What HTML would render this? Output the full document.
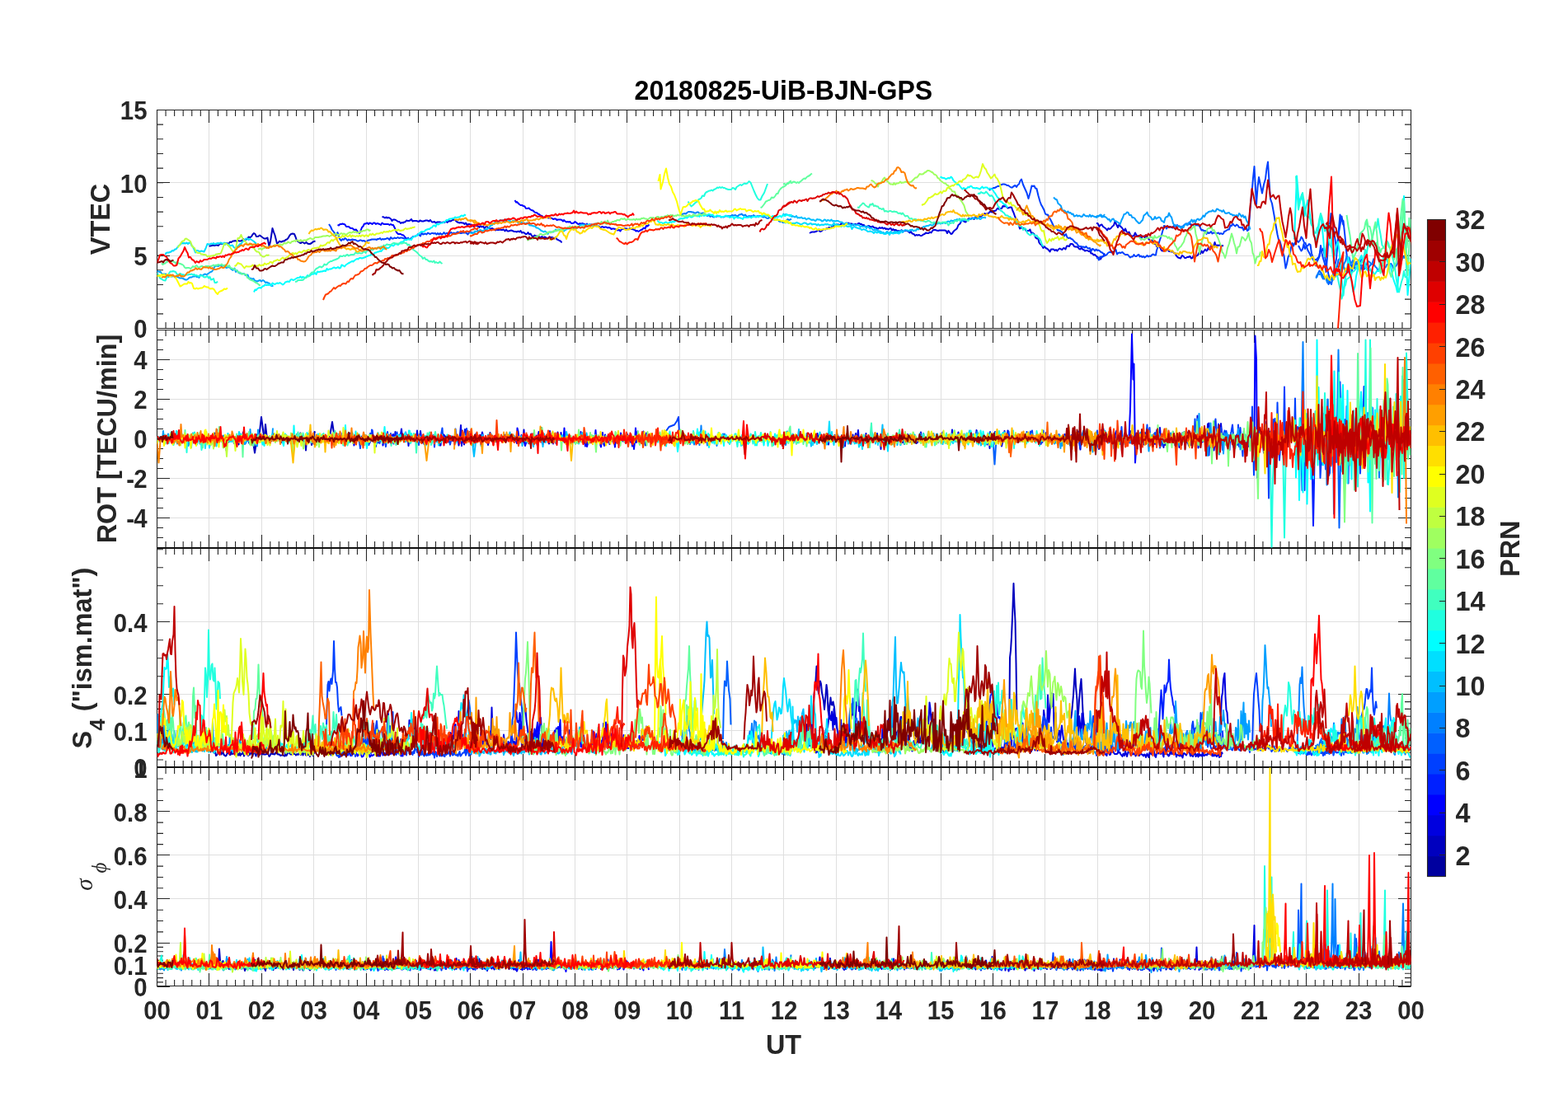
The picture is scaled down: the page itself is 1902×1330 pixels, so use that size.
<!DOCTYPE html><html><head><meta charset="utf-8"><title>20180825-UiB-BJN-GPS</title><style>html,body{margin:0;padding:0;background:#fff;overflow:hidden}svg{display:block}</style></head><body><svg width="1902" height="1330" viewBox="0 0 1902 1330"><path d="M253.5 133.5V398.5M317.5 133.5V398.5M380.5 133.5V398.5M444.5 133.5V398.5M507.5 133.5V398.5M570.5 133.5V398.5M634.5 133.5V398.5M697.5 133.5V398.5M760.5 133.5V398.5M824.5 133.5V398.5M887.5 133.5V398.5M950.5 133.5V398.5M1014.5 133.5V398.5M1077.5 133.5V398.5M1141.5 133.5V398.5M1204.5 133.5V398.5M1267.5 133.5V398.5M1331.5 133.5V398.5M1394.5 133.5V398.5M1458.5 133.5V398.5M1521.5 133.5V398.5M1584.5 133.5V398.5M1648.5 133.5V398.5M190.5 310.5H1711.5M190.5 221.5H1711.5M253.5 400.5V664.5M317.5 400.5V664.5M380.5 400.5V664.5M444.5 400.5V664.5M507.5 400.5V664.5M570.5 400.5V664.5M634.5 400.5V664.5M697.5 400.5V664.5M760.5 400.5V664.5M824.5 400.5V664.5M887.5 400.5V664.5M950.5 400.5V664.5M1014.5 400.5V664.5M1077.5 400.5V664.5M1141.5 400.5V664.5M1204.5 400.5V664.5M1267.5 400.5V664.5M1331.5 400.5V664.5M1394.5 400.5V664.5M1458.5 400.5V664.5M1521.5 400.5V664.5M1584.5 400.5V664.5M1648.5 400.5V664.5M190.5 628.5H1711.5M190.5 580.5H1711.5M190.5 532.5H1711.5M190.5 484.5H1711.5M190.5 436.5H1711.5M253.5 665.5V930.5M317.5 665.5V930.5M380.5 665.5V930.5M444.5 665.5V930.5M507.5 665.5V930.5M570.5 665.5V930.5M634.5 665.5V930.5M697.5 665.5V930.5M760.5 665.5V930.5M824.5 665.5V930.5M887.5 665.5V930.5M950.5 665.5V930.5M1014.5 665.5V930.5M1077.5 665.5V930.5M1141.5 665.5V930.5M1204.5 665.5V930.5M1267.5 665.5V930.5M1331.5 665.5V930.5M1394.5 665.5V930.5M1458.5 665.5V930.5M1521.5 665.5V930.5M1584.5 665.5V930.5M1648.5 665.5V930.5M190.5 886.5H1711.5M190.5 842.5H1711.5M190.5 754.5H1711.5M253.5 931.5V1196.5M317.5 931.5V1196.5M380.5 931.5V1196.5M444.5 931.5V1196.5M507.5 931.5V1196.5M570.5 931.5V1196.5M634.5 931.5V1196.5M697.5 931.5V1196.5M760.5 931.5V1196.5M824.5 931.5V1196.5M887.5 931.5V1196.5M950.5 931.5V1196.5M1014.5 931.5V1196.5M1077.5 931.5V1196.5M1141.5 931.5V1196.5M1204.5 931.5V1196.5M1267.5 931.5V1196.5M1331.5 931.5V1196.5M1394.5 931.5V1196.5M1458.5 931.5V1196.5M1521.5 931.5V1196.5M1584.5 931.5V1196.5M1648.5 931.5V1196.5M190.5 1170.5H1711.5M190.5 1144.5H1711.5M190.5 1090.5H1711.5M190.5 1037.5H1711.5M190.5 984.5H1711.5" stroke="#dfdfdf" stroke-width="1" fill="none"/><path d="M190.5 133.5H1711.5V398.5H190.5ZM190.5 398.5v-15.5M190.5 133.5v15.5M253.5 398.5v-15.5M253.5 133.5v15.5M317.5 398.5v-15.5M317.5 133.5v15.5M380.5 398.5v-15.5M380.5 133.5v15.5M444.5 398.5v-15.5M444.5 133.5v15.5M507.5 398.5v-15.5M507.5 133.5v15.5M570.5 398.5v-15.5M570.5 133.5v15.5M634.5 398.5v-15.5M634.5 133.5v15.5M697.5 398.5v-15.5M697.5 133.5v15.5M760.5 398.5v-15.5M760.5 133.5v15.5M824.5 398.5v-15.5M824.5 133.5v15.5M887.5 398.5v-15.5M887.5 133.5v15.5M950.5 398.5v-15.5M950.5 133.5v15.5M1014.5 398.5v-15.5M1014.5 133.5v15.5M1077.5 398.5v-15.5M1077.5 133.5v15.5M1141.5 398.5v-15.5M1141.5 133.5v15.5M1204.5 398.5v-15.5M1204.5 133.5v15.5M1267.5 398.5v-15.5M1267.5 133.5v15.5M1331.5 398.5v-15.5M1331.5 133.5v15.5M1394.5 398.5v-15.5M1394.5 133.5v15.5M1458.5 398.5v-15.5M1458.5 133.5v15.5M1521.5 398.5v-15.5M1521.5 133.5v15.5M1584.5 398.5v-15.5M1584.5 133.5v15.5M1648.5 398.5v-15.5M1648.5 133.5v15.5M1711.5 398.5v-15.5M1711.5 133.5v15.5M190.5 398.5h15.5M1711.5 398.5h-15.5M190.5 310.5h15.5M1711.5 310.5h-15.5M190.5 221.5h15.5M1711.5 221.5h-15.5M190.5 133.5h15.5M1711.5 133.5h-15.5M190.5 400.5H1711.5V664.5H190.5ZM190.5 664.5v-15.5M190.5 400.5v15.5M253.5 664.5v-15.5M253.5 400.5v15.5M317.5 664.5v-15.5M317.5 400.5v15.5M380.5 664.5v-15.5M380.5 400.5v15.5M444.5 664.5v-15.5M444.5 400.5v15.5M507.5 664.5v-15.5M507.5 400.5v15.5M570.5 664.5v-15.5M570.5 400.5v15.5M634.5 664.5v-15.5M634.5 400.5v15.5M697.5 664.5v-15.5M697.5 400.5v15.5M760.5 664.5v-15.5M760.5 400.5v15.5M824.5 664.5v-15.5M824.5 400.5v15.5M887.5 664.5v-15.5M887.5 400.5v15.5M950.5 664.5v-15.5M950.5 400.5v15.5M1014.5 664.5v-15.5M1014.5 400.5v15.5M1077.5 664.5v-15.5M1077.5 400.5v15.5M1141.5 664.5v-15.5M1141.5 400.5v15.5M1204.5 664.5v-15.5M1204.5 400.5v15.5M1267.5 664.5v-15.5M1267.5 400.5v15.5M1331.5 664.5v-15.5M1331.5 400.5v15.5M1394.5 664.5v-15.5M1394.5 400.5v15.5M1458.5 664.5v-15.5M1458.5 400.5v15.5M1521.5 664.5v-15.5M1521.5 400.5v15.5M1584.5 664.5v-15.5M1584.5 400.5v15.5M1648.5 664.5v-15.5M1648.5 400.5v15.5M1711.5 664.5v-15.5M1711.5 400.5v15.5M190.5 628.5h15.5M1711.5 628.5h-15.5M190.5 580.5h15.5M1711.5 580.5h-15.5M190.5 532.5h15.5M1711.5 532.5h-15.5M190.5 484.5h15.5M1711.5 484.5h-15.5M190.5 436.5h15.5M1711.5 436.5h-15.5M190.5 665.5H1711.5V930.5H190.5ZM190.5 930.5v-15.5M190.5 665.5v15.5M253.5 930.5v-15.5M253.5 665.5v15.5M317.5 930.5v-15.5M317.5 665.5v15.5M380.5 930.5v-15.5M380.5 665.5v15.5M444.5 930.5v-15.5M444.5 665.5v15.5M507.5 930.5v-15.5M507.5 665.5v15.5M570.5 930.5v-15.5M570.5 665.5v15.5M634.5 930.5v-15.5M634.5 665.5v15.5M697.5 930.5v-15.5M697.5 665.5v15.5M760.5 930.5v-15.5M760.5 665.5v15.5M824.5 930.5v-15.5M824.5 665.5v15.5M887.5 930.5v-15.5M887.5 665.5v15.5M950.5 930.5v-15.5M950.5 665.5v15.5M1014.5 930.5v-15.5M1014.5 665.5v15.5M1077.5 930.5v-15.5M1077.5 665.5v15.5M1141.5 930.5v-15.5M1141.5 665.5v15.5M1204.5 930.5v-15.5M1204.5 665.5v15.5M1267.5 930.5v-15.5M1267.5 665.5v15.5M1331.5 930.5v-15.5M1331.5 665.5v15.5M1394.5 930.5v-15.5M1394.5 665.5v15.5M1458.5 930.5v-15.5M1458.5 665.5v15.5M1521.5 930.5v-15.5M1521.5 665.5v15.5M1584.5 930.5v-15.5M1584.5 665.5v15.5M1648.5 930.5v-15.5M1648.5 665.5v15.5M1711.5 930.5v-15.5M1711.5 665.5v15.5M190.5 930.5h15.5M1711.5 930.5h-15.5M190.5 886.5h15.5M1711.5 886.5h-15.5M190.5 842.5h15.5M1711.5 842.5h-15.5M190.5 754.5h15.5M1711.5 754.5h-15.5M190.5 931.5H1711.5V1196.5H190.5ZM190.5 1196.5v-15.5M190.5 931.5v15.5M253.5 1196.5v-15.5M253.5 931.5v15.5M317.5 1196.5v-15.5M317.5 931.5v15.5M380.5 1196.5v-15.5M380.5 931.5v15.5M444.5 1196.5v-15.5M444.5 931.5v15.5M507.5 1196.5v-15.5M507.5 931.5v15.5M570.5 1196.5v-15.5M570.5 931.5v15.5M634.5 1196.5v-15.5M634.5 931.5v15.5M697.5 1196.5v-15.5M697.5 931.5v15.5M760.5 1196.5v-15.5M760.5 931.5v15.5M824.5 1196.5v-15.5M824.5 931.5v15.5M887.5 1196.5v-15.5M887.5 931.5v15.5M950.5 1196.5v-15.5M950.5 931.5v15.5M1014.5 1196.5v-15.5M1014.5 931.5v15.5M1077.5 1196.5v-15.5M1077.5 931.5v15.5M1141.5 1196.5v-15.5M1141.5 931.5v15.5M1204.5 1196.5v-15.5M1204.5 931.5v15.5M1267.5 1196.5v-15.5M1267.5 931.5v15.5M1331.5 1196.5v-15.5M1331.5 931.5v15.5M1394.5 1196.5v-15.5M1394.5 931.5v15.5M1458.5 1196.5v-15.5M1458.5 931.5v15.5M1521.5 1196.5v-15.5M1521.5 931.5v15.5M1584.5 1196.5v-15.5M1584.5 931.5v15.5M1648.5 1196.5v-15.5M1648.5 931.5v15.5M1711.5 1196.5v-15.5M1711.5 931.5v15.5M190.5 1197.5h15.5M1711.5 1197.5h-15.5M190.5 1170.5h15.5M1711.5 1170.5h-15.5M190.5 1144.5h15.5M1711.5 1144.5h-15.5M190.5 1090.5h15.5M1711.5 1090.5h-15.5M190.5 1037.5h15.5M1711.5 1037.5h-15.5M190.5 984.5h15.5M1711.5 984.5h-15.5M190.5 931.5h15.5M1711.5 931.5h-15.5" stroke="#262626" stroke-width="1.1" fill="none"/><path d="M201.06 398.5v-7.5M201.06 133.5v7.5M211.62 398.5v-7.5M211.62 133.5v7.5M222.19 398.5v-7.5M222.19 133.5v7.5M232.75 398.5v-7.5M232.75 133.5v7.5M243.31 398.5v-7.5M243.31 133.5v7.5M264.44 398.5v-7.5M264.44 133.5v7.5M275.00 398.5v-7.5M275.00 133.5v7.5M285.56 398.5v-7.5M285.56 133.5v7.5M296.12 398.5v-7.5M296.12 133.5v7.5M306.69 398.5v-7.5M306.69 133.5v7.5M327.81 398.5v-7.5M327.81 133.5v7.5M338.38 398.5v-7.5M338.38 133.5v7.5M348.94 398.5v-7.5M348.94 133.5v7.5M359.50 398.5v-7.5M359.50 133.5v7.5M370.06 398.5v-7.5M370.06 133.5v7.5M391.19 398.5v-7.5M391.19 133.5v7.5M401.75 398.5v-7.5M401.75 133.5v7.5M412.31 398.5v-7.5M412.31 133.5v7.5M422.88 398.5v-7.5M422.88 133.5v7.5M433.44 398.5v-7.5M433.44 133.5v7.5M454.56 398.5v-7.5M454.56 133.5v7.5M465.12 398.5v-7.5M465.12 133.5v7.5M475.69 398.5v-7.5M475.69 133.5v7.5M486.25 398.5v-7.5M486.25 133.5v7.5M496.81 398.5v-7.5M496.81 133.5v7.5M517.94 398.5v-7.5M517.94 133.5v7.5M528.50 398.5v-7.5M528.50 133.5v7.5M539.06 398.5v-7.5M539.06 133.5v7.5M549.62 398.5v-7.5M549.62 133.5v7.5M560.19 398.5v-7.5M560.19 133.5v7.5M581.31 398.5v-7.5M581.31 133.5v7.5M591.88 398.5v-7.5M591.88 133.5v7.5M602.44 398.5v-7.5M602.44 133.5v7.5M613.00 398.5v-7.5M613.00 133.5v7.5M623.56 398.5v-7.5M623.56 133.5v7.5M644.69 398.5v-7.5M644.69 133.5v7.5M655.25 398.5v-7.5M655.25 133.5v7.5M665.81 398.5v-7.5M665.81 133.5v7.5M676.38 398.5v-7.5M676.38 133.5v7.5M686.94 398.5v-7.5M686.94 133.5v7.5M708.06 398.5v-7.5M708.06 133.5v7.5M718.62 398.5v-7.5M718.62 133.5v7.5M729.19 398.5v-7.5M729.19 133.5v7.5M739.75 398.5v-7.5M739.75 133.5v7.5M750.31 398.5v-7.5M750.31 133.5v7.5M771.44 398.5v-7.5M771.44 133.5v7.5M782.00 398.5v-7.5M782.00 133.5v7.5M792.56 398.5v-7.5M792.56 133.5v7.5M803.12 398.5v-7.5M803.12 133.5v7.5M813.69 398.5v-7.5M813.69 133.5v7.5M834.81 398.5v-7.5M834.81 133.5v7.5M845.38 398.5v-7.5M845.38 133.5v7.5M855.94 398.5v-7.5M855.94 133.5v7.5M866.50 398.5v-7.5M866.50 133.5v7.5M877.06 398.5v-7.5M877.06 133.5v7.5M898.19 398.5v-7.5M898.19 133.5v7.5M908.75 398.5v-7.5M908.75 133.5v7.5M919.31 398.5v-7.5M919.31 133.5v7.5M929.88 398.5v-7.5M929.88 133.5v7.5M940.44 398.5v-7.5M940.44 133.5v7.5M961.56 398.5v-7.5M961.56 133.5v7.5M972.12 398.5v-7.5M972.12 133.5v7.5M982.69 398.5v-7.5M982.69 133.5v7.5M993.25 398.5v-7.5M993.25 133.5v7.5M1003.81 398.5v-7.5M1003.81 133.5v7.5M1024.94 398.5v-7.5M1024.94 133.5v7.5M1035.50 398.5v-7.5M1035.50 133.5v7.5M1046.06 398.5v-7.5M1046.06 133.5v7.5M1056.62 398.5v-7.5M1056.62 133.5v7.5M1067.19 398.5v-7.5M1067.19 133.5v7.5M1088.31 398.5v-7.5M1088.31 133.5v7.5M1098.88 398.5v-7.5M1098.88 133.5v7.5M1109.44 398.5v-7.5M1109.44 133.5v7.5M1120.00 398.5v-7.5M1120.00 133.5v7.5M1130.56 398.5v-7.5M1130.56 133.5v7.5M1151.69 398.5v-7.5M1151.69 133.5v7.5M1162.25 398.5v-7.5M1162.25 133.5v7.5M1172.81 398.5v-7.5M1172.81 133.5v7.5M1183.38 398.5v-7.5M1183.38 133.5v7.5M1193.94 398.5v-7.5M1193.94 133.5v7.5M1215.06 398.5v-7.5M1215.06 133.5v7.5M1225.62 398.5v-7.5M1225.62 133.5v7.5M1236.19 398.5v-7.5M1236.19 133.5v7.5M1246.75 398.5v-7.5M1246.75 133.5v7.5M1257.31 398.5v-7.5M1257.31 133.5v7.5M1278.44 398.5v-7.5M1278.44 133.5v7.5M1289.00 398.5v-7.5M1289.00 133.5v7.5M1299.56 398.5v-7.5M1299.56 133.5v7.5M1310.12 398.5v-7.5M1310.12 133.5v7.5M1320.69 398.5v-7.5M1320.69 133.5v7.5M1341.81 398.5v-7.5M1341.81 133.5v7.5M1352.38 398.5v-7.5M1352.38 133.5v7.5M1362.94 398.5v-7.5M1362.94 133.5v7.5M1373.50 398.5v-7.5M1373.50 133.5v7.5M1384.06 398.5v-7.5M1384.06 133.5v7.5M1405.19 398.5v-7.5M1405.19 133.5v7.5M1415.75 398.5v-7.5M1415.75 133.5v7.5M1426.31 398.5v-7.5M1426.31 133.5v7.5M1436.88 398.5v-7.5M1436.88 133.5v7.5M1447.44 398.5v-7.5M1447.44 133.5v7.5M1468.56 398.5v-7.5M1468.56 133.5v7.5M1479.12 398.5v-7.5M1479.12 133.5v7.5M1489.69 398.5v-7.5M1489.69 133.5v7.5M1500.25 398.5v-7.5M1500.25 133.5v7.5M1510.81 398.5v-7.5M1510.81 133.5v7.5M1531.94 398.5v-7.5M1531.94 133.5v7.5M1542.50 398.5v-7.5M1542.50 133.5v7.5M1553.06 398.5v-7.5M1553.06 133.5v7.5M1563.62 398.5v-7.5M1563.62 133.5v7.5M1574.19 398.5v-7.5M1574.19 133.5v7.5M1595.31 398.5v-7.5M1595.31 133.5v7.5M1605.88 398.5v-7.5M1605.88 133.5v7.5M1616.44 398.5v-7.5M1616.44 133.5v7.5M1627.00 398.5v-7.5M1627.00 133.5v7.5M1637.56 398.5v-7.5M1637.56 133.5v7.5M1658.69 398.5v-7.5M1658.69 133.5v7.5M1669.25 398.5v-7.5M1669.25 133.5v7.5M1679.81 398.5v-7.5M1679.81 133.5v7.5M1690.38 398.5v-7.5M1690.38 133.5v7.5M1700.94 398.5v-7.5M1700.94 133.5v7.5M190.5 398.50h7.5M1711.5 398.50h-7.5M190.5 380.83h7.5M1711.5 380.83h-7.5M190.5 363.16h7.5M1711.5 363.16h-7.5M190.5 345.49h7.5M1711.5 345.49h-7.5M190.5 327.82h7.5M1711.5 327.82h-7.5M190.5 310.15h7.5M1711.5 310.15h-7.5M190.5 292.48h7.5M1711.5 292.48h-7.5M190.5 274.81h7.5M1711.5 274.81h-7.5M190.5 257.14h7.5M1711.5 257.14h-7.5M190.5 239.47h7.5M1711.5 239.47h-7.5M190.5 221.80h7.5M1711.5 221.80h-7.5M190.5 204.13h7.5M1711.5 204.13h-7.5M190.5 186.46h7.5M1711.5 186.46h-7.5M190.5 168.79h7.5M1711.5 168.79h-7.5M190.5 151.12h7.5M1711.5 151.12h-7.5M190.5 133.45h7.5M1711.5 133.45h-7.5M201.06 664.5v-7.5M201.06 400.5v7.5M211.62 664.5v-7.5M211.62 400.5v7.5M222.19 664.5v-7.5M222.19 400.5v7.5M232.75 664.5v-7.5M232.75 400.5v7.5M243.31 664.5v-7.5M243.31 400.5v7.5M264.44 664.5v-7.5M264.44 400.5v7.5M275.00 664.5v-7.5M275.00 400.5v7.5M285.56 664.5v-7.5M285.56 400.5v7.5M296.12 664.5v-7.5M296.12 400.5v7.5M306.69 664.5v-7.5M306.69 400.5v7.5M327.81 664.5v-7.5M327.81 400.5v7.5M338.38 664.5v-7.5M338.38 400.5v7.5M348.94 664.5v-7.5M348.94 400.5v7.5M359.50 664.5v-7.5M359.50 400.5v7.5M370.06 664.5v-7.5M370.06 400.5v7.5M391.19 664.5v-7.5M391.19 400.5v7.5M401.75 664.5v-7.5M401.75 400.5v7.5M412.31 664.5v-7.5M412.31 400.5v7.5M422.88 664.5v-7.5M422.88 400.5v7.5M433.44 664.5v-7.5M433.44 400.5v7.5M454.56 664.5v-7.5M454.56 400.5v7.5M465.12 664.5v-7.5M465.12 400.5v7.5M475.69 664.5v-7.5M475.69 400.5v7.5M486.25 664.5v-7.5M486.25 400.5v7.5M496.81 664.5v-7.5M496.81 400.5v7.5M517.94 664.5v-7.5M517.94 400.5v7.5M528.50 664.5v-7.5M528.50 400.5v7.5M539.06 664.5v-7.5M539.06 400.5v7.5M549.62 664.5v-7.5M549.62 400.5v7.5M560.19 664.5v-7.5M560.19 400.5v7.5M581.31 664.5v-7.5M581.31 400.5v7.5M591.88 664.5v-7.5M591.88 400.5v7.5M602.44 664.5v-7.5M602.44 400.5v7.5M613.00 664.5v-7.5M613.00 400.5v7.5M623.56 664.5v-7.5M623.56 400.5v7.5M644.69 664.5v-7.5M644.69 400.5v7.5M655.25 664.5v-7.5M655.25 400.5v7.5M665.81 664.5v-7.5M665.81 400.5v7.5M676.38 664.5v-7.5M676.38 400.5v7.5M686.94 664.5v-7.5M686.94 400.5v7.5M708.06 664.5v-7.5M708.06 400.5v7.5M718.62 664.5v-7.5M718.62 400.5v7.5M729.19 664.5v-7.5M729.19 400.5v7.5M739.75 664.5v-7.5M739.75 400.5v7.5M750.31 664.5v-7.5M750.31 400.5v7.5M771.44 664.5v-7.5M771.44 400.5v7.5M782.00 664.5v-7.5M782.00 400.5v7.5M792.56 664.5v-7.5M792.56 400.5v7.5M803.12 664.5v-7.5M803.12 400.5v7.5M813.69 664.5v-7.5M813.69 400.5v7.5M834.81 664.5v-7.5M834.81 400.5v7.5M845.38 664.5v-7.5M845.38 400.5v7.5M855.94 664.5v-7.5M855.94 400.5v7.5M866.50 664.5v-7.5M866.50 400.5v7.5M877.06 664.5v-7.5M877.06 400.5v7.5M898.19 664.5v-7.5M898.19 400.5v7.5M908.75 664.5v-7.5M908.75 400.5v7.5M919.31 664.5v-7.5M919.31 400.5v7.5M929.88 664.5v-7.5M929.88 400.5v7.5M940.44 664.5v-7.5M940.44 400.5v7.5M961.56 664.5v-7.5M961.56 400.5v7.5M972.12 664.5v-7.5M972.12 400.5v7.5M982.69 664.5v-7.5M982.69 400.5v7.5M993.25 664.5v-7.5M993.25 400.5v7.5M1003.81 664.5v-7.5M1003.81 400.5v7.5M1024.94 664.5v-7.5M1024.94 400.5v7.5M1035.50 664.5v-7.5M1035.50 400.5v7.5M1046.06 664.5v-7.5M1046.06 400.5v7.5M1056.62 664.5v-7.5M1056.62 400.5v7.5M1067.19 664.5v-7.5M1067.19 400.5v7.5M1088.31 664.5v-7.5M1088.31 400.5v7.5M1098.88 664.5v-7.5M1098.88 400.5v7.5M1109.44 664.5v-7.5M1109.44 400.5v7.5M1120.00 664.5v-7.5M1120.00 400.5v7.5M1130.56 664.5v-7.5M1130.56 400.5v7.5M1151.69 664.5v-7.5M1151.69 400.5v7.5M1162.25 664.5v-7.5M1162.25 400.5v7.5M1172.81 664.5v-7.5M1172.81 400.5v7.5M1183.38 664.5v-7.5M1183.38 400.5v7.5M1193.94 664.5v-7.5M1193.94 400.5v7.5M1215.06 664.5v-7.5M1215.06 400.5v7.5M1225.62 664.5v-7.5M1225.62 400.5v7.5M1236.19 664.5v-7.5M1236.19 400.5v7.5M1246.75 664.5v-7.5M1246.75 400.5v7.5M1257.31 664.5v-7.5M1257.31 400.5v7.5M1278.44 664.5v-7.5M1278.44 400.5v7.5M1289.00 664.5v-7.5M1289.00 400.5v7.5M1299.56 664.5v-7.5M1299.56 400.5v7.5M1310.12 664.5v-7.5M1310.12 400.5v7.5M1320.69 664.5v-7.5M1320.69 400.5v7.5M1341.81 664.5v-7.5M1341.81 400.5v7.5M1352.38 664.5v-7.5M1352.38 400.5v7.5M1362.94 664.5v-7.5M1362.94 400.5v7.5M1373.50 664.5v-7.5M1373.50 400.5v7.5M1384.06 664.5v-7.5M1384.06 400.5v7.5M1405.19 664.5v-7.5M1405.19 400.5v7.5M1415.75 664.5v-7.5M1415.75 400.5v7.5M1426.31 664.5v-7.5M1426.31 400.5v7.5M1436.88 664.5v-7.5M1436.88 400.5v7.5M1447.44 664.5v-7.5M1447.44 400.5v7.5M1468.56 664.5v-7.5M1468.56 400.5v7.5M1479.12 664.5v-7.5M1479.12 400.5v7.5M1489.69 664.5v-7.5M1489.69 400.5v7.5M1500.25 664.5v-7.5M1500.25 400.5v7.5M1510.81 664.5v-7.5M1510.81 400.5v7.5M1531.94 664.5v-7.5M1531.94 400.5v7.5M1542.50 664.5v-7.5M1542.50 400.5v7.5M1553.06 664.5v-7.5M1553.06 400.5v7.5M1563.62 664.5v-7.5M1563.62 400.5v7.5M1574.19 664.5v-7.5M1574.19 400.5v7.5M1595.31 664.5v-7.5M1595.31 400.5v7.5M1605.88 664.5v-7.5M1605.88 400.5v7.5M1616.44 664.5v-7.5M1616.44 400.5v7.5M1627.00 664.5v-7.5M1627.00 400.5v7.5M1637.56 664.5v-7.5M1637.56 400.5v7.5M1658.69 664.5v-7.5M1658.69 400.5v7.5M1669.25 664.5v-7.5M1669.25 400.5v7.5M1679.81 664.5v-7.5M1679.81 400.5v7.5M1690.38 664.5v-7.5M1690.38 400.5v7.5M1700.94 664.5v-7.5M1700.94 400.5v7.5M190.5 664.50h7.5M1711.5 664.50h-7.5M190.5 652.50h7.5M1711.5 652.50h-7.5M190.5 640.50h7.5M1711.5 640.50h-7.5M190.5 628.50h7.5M1711.5 628.50h-7.5M190.5 616.50h7.5M1711.5 616.50h-7.5M190.5 604.50h7.5M1711.5 604.50h-7.5M190.5 592.50h7.5M1711.5 592.50h-7.5M190.5 580.50h7.5M1711.5 580.50h-7.5M190.5 568.50h7.5M1711.5 568.50h-7.5M190.5 556.50h7.5M1711.5 556.50h-7.5M190.5 544.50h7.5M1711.5 544.50h-7.5M190.5 532.50h7.5M1711.5 532.50h-7.5M190.5 520.50h7.5M1711.5 520.50h-7.5M190.5 508.50h7.5M1711.5 508.50h-7.5M190.5 496.50h7.5M1711.5 496.50h-7.5M190.5 484.50h7.5M1711.5 484.50h-7.5M190.5 472.50h7.5M1711.5 472.50h-7.5M190.5 460.50h7.5M1711.5 460.50h-7.5M190.5 448.50h7.5M1711.5 448.50h-7.5M190.5 436.50h7.5M1711.5 436.50h-7.5M190.5 424.50h7.5M1711.5 424.50h-7.5M190.5 412.50h7.5M1711.5 412.50h-7.5M190.5 400.50h7.5M1711.5 400.50h-7.5M201.06 930.5v-7.5M201.06 665.5v7.5M211.62 930.5v-7.5M211.62 665.5v7.5M222.19 930.5v-7.5M222.19 665.5v7.5M232.75 930.5v-7.5M232.75 665.5v7.5M243.31 930.5v-7.5M243.31 665.5v7.5M264.44 930.5v-7.5M264.44 665.5v7.5M275.00 930.5v-7.5M275.00 665.5v7.5M285.56 930.5v-7.5M285.56 665.5v7.5M296.12 930.5v-7.5M296.12 665.5v7.5M306.69 930.5v-7.5M306.69 665.5v7.5M327.81 930.5v-7.5M327.81 665.5v7.5M338.38 930.5v-7.5M338.38 665.5v7.5M348.94 930.5v-7.5M348.94 665.5v7.5M359.50 930.5v-7.5M359.50 665.5v7.5M370.06 930.5v-7.5M370.06 665.5v7.5M391.19 930.5v-7.5M391.19 665.5v7.5M401.75 930.5v-7.5M401.75 665.5v7.5M412.31 930.5v-7.5M412.31 665.5v7.5M422.88 930.5v-7.5M422.88 665.5v7.5M433.44 930.5v-7.5M433.44 665.5v7.5M454.56 930.5v-7.5M454.56 665.5v7.5M465.12 930.5v-7.5M465.12 665.5v7.5M475.69 930.5v-7.5M475.69 665.5v7.5M486.25 930.5v-7.5M486.25 665.5v7.5M496.81 930.5v-7.5M496.81 665.5v7.5M517.94 930.5v-7.5M517.94 665.5v7.5M528.50 930.5v-7.5M528.50 665.5v7.5M539.06 930.5v-7.5M539.06 665.5v7.5M549.62 930.5v-7.5M549.62 665.5v7.5M560.19 930.5v-7.5M560.19 665.5v7.5M581.31 930.5v-7.5M581.31 665.5v7.5M591.88 930.5v-7.5M591.88 665.5v7.5M602.44 930.5v-7.5M602.44 665.5v7.5M613.00 930.5v-7.5M613.00 665.5v7.5M623.56 930.5v-7.5M623.56 665.5v7.5M644.69 930.5v-7.5M644.69 665.5v7.5M655.25 930.5v-7.5M655.25 665.5v7.5M665.81 930.5v-7.5M665.81 665.5v7.5M676.38 930.5v-7.5M676.38 665.5v7.5M686.94 930.5v-7.5M686.94 665.5v7.5M708.06 930.5v-7.5M708.06 665.5v7.5M718.62 930.5v-7.5M718.62 665.5v7.5M729.19 930.5v-7.5M729.19 665.5v7.5M739.75 930.5v-7.5M739.75 665.5v7.5M750.31 930.5v-7.5M750.31 665.5v7.5M771.44 930.5v-7.5M771.44 665.5v7.5M782.00 930.5v-7.5M782.00 665.5v7.5M792.56 930.5v-7.5M792.56 665.5v7.5M803.12 930.5v-7.5M803.12 665.5v7.5M813.69 930.5v-7.5M813.69 665.5v7.5M834.81 930.5v-7.5M834.81 665.5v7.5M845.38 930.5v-7.5M845.38 665.5v7.5M855.94 930.5v-7.5M855.94 665.5v7.5M866.50 930.5v-7.5M866.50 665.5v7.5M877.06 930.5v-7.5M877.06 665.5v7.5M898.19 930.5v-7.5M898.19 665.5v7.5M908.75 930.5v-7.5M908.75 665.5v7.5M919.31 930.5v-7.5M919.31 665.5v7.5M929.88 930.5v-7.5M929.88 665.5v7.5M940.44 930.5v-7.5M940.44 665.5v7.5M961.56 930.5v-7.5M961.56 665.5v7.5M972.12 930.5v-7.5M972.12 665.5v7.5M982.69 930.5v-7.5M982.69 665.5v7.5M993.25 930.5v-7.5M993.25 665.5v7.5M1003.81 930.5v-7.5M1003.81 665.5v7.5M1024.94 930.5v-7.5M1024.94 665.5v7.5M1035.50 930.5v-7.5M1035.50 665.5v7.5M1046.06 930.5v-7.5M1046.06 665.5v7.5M1056.62 930.5v-7.5M1056.62 665.5v7.5M1067.19 930.5v-7.5M1067.19 665.5v7.5M1088.31 930.5v-7.5M1088.31 665.5v7.5M1098.88 930.5v-7.5M1098.88 665.5v7.5M1109.44 930.5v-7.5M1109.44 665.5v7.5M1120.00 930.5v-7.5M1120.00 665.5v7.5M1130.56 930.5v-7.5M1130.56 665.5v7.5M1151.69 930.5v-7.5M1151.69 665.5v7.5M1162.25 930.5v-7.5M1162.25 665.5v7.5M1172.81 930.5v-7.5M1172.81 665.5v7.5M1183.38 930.5v-7.5M1183.38 665.5v7.5M1193.94 930.5v-7.5M1193.94 665.5v7.5M1215.06 930.5v-7.5M1215.06 665.5v7.5M1225.62 930.5v-7.5M1225.62 665.5v7.5M1236.19 930.5v-7.5M1236.19 665.5v7.5M1246.75 930.5v-7.5M1246.75 665.5v7.5M1257.31 930.5v-7.5M1257.31 665.5v7.5M1278.44 930.5v-7.5M1278.44 665.5v7.5M1289.00 930.5v-7.5M1289.00 665.5v7.5M1299.56 930.5v-7.5M1299.56 665.5v7.5M1310.12 930.5v-7.5M1310.12 665.5v7.5M1320.69 930.5v-7.5M1320.69 665.5v7.5M1341.81 930.5v-7.5M1341.81 665.5v7.5M1352.38 930.5v-7.5M1352.38 665.5v7.5M1362.94 930.5v-7.5M1362.94 665.5v7.5M1373.50 930.5v-7.5M1373.50 665.5v7.5M1384.06 930.5v-7.5M1384.06 665.5v7.5M1405.19 930.5v-7.5M1405.19 665.5v7.5M1415.75 930.5v-7.5M1415.75 665.5v7.5M1426.31 930.5v-7.5M1426.31 665.5v7.5M1436.88 930.5v-7.5M1436.88 665.5v7.5M1447.44 930.5v-7.5M1447.44 665.5v7.5M1468.56 930.5v-7.5M1468.56 665.5v7.5M1479.12 930.5v-7.5M1479.12 665.5v7.5M1489.69 930.5v-7.5M1489.69 665.5v7.5M1500.25 930.5v-7.5M1500.25 665.5v7.5M1510.81 930.5v-7.5M1510.81 665.5v7.5M1531.94 930.5v-7.5M1531.94 665.5v7.5M1542.50 930.5v-7.5M1542.50 665.5v7.5M1553.06 930.5v-7.5M1553.06 665.5v7.5M1563.62 930.5v-7.5M1563.62 665.5v7.5M1574.19 930.5v-7.5M1574.19 665.5v7.5M1595.31 930.5v-7.5M1595.31 665.5v7.5M1605.88 930.5v-7.5M1605.88 665.5v7.5M1616.44 930.5v-7.5M1616.44 665.5v7.5M1627.00 930.5v-7.5M1627.00 665.5v7.5M1637.56 930.5v-7.5M1637.56 665.5v7.5M1658.69 930.5v-7.5M1658.69 665.5v7.5M1669.25 930.5v-7.5M1669.25 665.5v7.5M1679.81 930.5v-7.5M1679.81 665.5v7.5M1690.38 930.5v-7.5M1690.38 665.5v7.5M1700.94 930.5v-7.5M1700.94 665.5v7.5M190.5 922.00h7.5M1711.5 922.00h-7.5M190.5 913.20h7.5M1711.5 913.20h-7.5M190.5 904.40h7.5M1711.5 904.40h-7.5M190.5 895.60h7.5M1711.5 895.60h-7.5M190.5 878.00h7.5M1711.5 878.00h-7.5M190.5 869.20h7.5M1711.5 869.20h-7.5M190.5 860.40h7.5M1711.5 860.40h-7.5M190.5 851.60h7.5M1711.5 851.60h-7.5M190.5 820.80h7.5M1711.5 820.80h-7.5M190.5 798.80h7.5M1711.5 798.80h-7.5M190.5 776.80h7.5M1711.5 776.80h-7.5M190.5 732.80h7.5M1711.5 732.80h-7.5M190.5 710.80h7.5M1711.5 710.80h-7.5M190.5 688.80h7.5M1711.5 688.80h-7.5M190.5 666.80h7.5M1711.5 666.80h-7.5M201.06 1196.5v-7.5M201.06 931.5v7.5M211.62 1196.5v-7.5M211.62 931.5v7.5M222.19 1196.5v-7.5M222.19 931.5v7.5M232.75 1196.5v-7.5M232.75 931.5v7.5M243.31 1196.5v-7.5M243.31 931.5v7.5M264.44 1196.5v-7.5M264.44 931.5v7.5M275.00 1196.5v-7.5M275.00 931.5v7.5M285.56 1196.5v-7.5M285.56 931.5v7.5M296.12 1196.5v-7.5M296.12 931.5v7.5M306.69 1196.5v-7.5M306.69 931.5v7.5M327.81 1196.5v-7.5M327.81 931.5v7.5M338.38 1196.5v-7.5M338.38 931.5v7.5M348.94 1196.5v-7.5M348.94 931.5v7.5M359.50 1196.5v-7.5M359.50 931.5v7.5M370.06 1196.5v-7.5M370.06 931.5v7.5M391.19 1196.5v-7.5M391.19 931.5v7.5M401.75 1196.5v-7.5M401.75 931.5v7.5M412.31 1196.5v-7.5M412.31 931.5v7.5M422.88 1196.5v-7.5M422.88 931.5v7.5M433.44 1196.5v-7.5M433.44 931.5v7.5M454.56 1196.5v-7.5M454.56 931.5v7.5M465.12 1196.5v-7.5M465.12 931.5v7.5M475.69 1196.5v-7.5M475.69 931.5v7.5M486.25 1196.5v-7.5M486.25 931.5v7.5M496.81 1196.5v-7.5M496.81 931.5v7.5M517.94 1196.5v-7.5M517.94 931.5v7.5M528.50 1196.5v-7.5M528.50 931.5v7.5M539.06 1196.5v-7.5M539.06 931.5v7.5M549.62 1196.5v-7.5M549.62 931.5v7.5M560.19 1196.5v-7.5M560.19 931.5v7.5M581.31 1196.5v-7.5M581.31 931.5v7.5M591.88 1196.5v-7.5M591.88 931.5v7.5M602.44 1196.5v-7.5M602.44 931.5v7.5M613.00 1196.5v-7.5M613.00 931.5v7.5M623.56 1196.5v-7.5M623.56 931.5v7.5M644.69 1196.5v-7.5M644.69 931.5v7.5M655.25 1196.5v-7.5M655.25 931.5v7.5M665.81 1196.5v-7.5M665.81 931.5v7.5M676.38 1196.5v-7.5M676.38 931.5v7.5M686.94 1196.5v-7.5M686.94 931.5v7.5M708.06 1196.5v-7.5M708.06 931.5v7.5M718.62 1196.5v-7.5M718.62 931.5v7.5M729.19 1196.5v-7.5M729.19 931.5v7.5M739.75 1196.5v-7.5M739.75 931.5v7.5M750.31 1196.5v-7.5M750.31 931.5v7.5M771.44 1196.5v-7.5M771.44 931.5v7.5M782.00 1196.5v-7.5M782.00 931.5v7.5M792.56 1196.5v-7.5M792.56 931.5v7.5M803.12 1196.5v-7.5M803.12 931.5v7.5M813.69 1196.5v-7.5M813.69 931.5v7.5M834.81 1196.5v-7.5M834.81 931.5v7.5M845.38 1196.5v-7.5M845.38 931.5v7.5M855.94 1196.5v-7.5M855.94 931.5v7.5M866.50 1196.5v-7.5M866.50 931.5v7.5M877.06 1196.5v-7.5M877.06 931.5v7.5M898.19 1196.5v-7.5M898.19 931.5v7.5M908.75 1196.5v-7.5M908.75 931.5v7.5M919.31 1196.5v-7.5M919.31 931.5v7.5M929.88 1196.5v-7.5M929.88 931.5v7.5M940.44 1196.5v-7.5M940.44 931.5v7.5M961.56 1196.5v-7.5M961.56 931.5v7.5M972.12 1196.5v-7.5M972.12 931.5v7.5M982.69 1196.5v-7.5M982.69 931.5v7.5M993.25 1196.5v-7.5M993.25 931.5v7.5M1003.81 1196.5v-7.5M1003.81 931.5v7.5M1024.94 1196.5v-7.5M1024.94 931.5v7.5M1035.50 1196.5v-7.5M1035.50 931.5v7.5M1046.06 1196.5v-7.5M1046.06 931.5v7.5M1056.62 1196.5v-7.5M1056.62 931.5v7.5M1067.19 1196.5v-7.5M1067.19 931.5v7.5M1088.31 1196.5v-7.5M1088.31 931.5v7.5M1098.88 1196.5v-7.5M1098.88 931.5v7.5M1109.44 1196.5v-7.5M1109.44 931.5v7.5M1120.00 1196.5v-7.5M1120.00 931.5v7.5M1130.56 1196.5v-7.5M1130.56 931.5v7.5M1151.69 1196.5v-7.5M1151.69 931.5v7.5M1162.25 1196.5v-7.5M1162.25 931.5v7.5M1172.81 1196.5v-7.5M1172.81 931.5v7.5M1183.38 1196.5v-7.5M1183.38 931.5v7.5M1193.94 1196.5v-7.5M1193.94 931.5v7.5M1215.06 1196.5v-7.5M1215.06 931.5v7.5M1225.62 1196.5v-7.5M1225.62 931.5v7.5M1236.19 1196.5v-7.5M1236.19 931.5v7.5M1246.75 1196.5v-7.5M1246.75 931.5v7.5M1257.31 1196.5v-7.5M1257.31 931.5v7.5M1278.44 1196.5v-7.5M1278.44 931.5v7.5M1289.00 1196.5v-7.5M1289.00 931.5v7.5M1299.56 1196.5v-7.5M1299.56 931.5v7.5M1310.12 1196.5v-7.5M1310.12 931.5v7.5M1320.69 1196.5v-7.5M1320.69 931.5v7.5M1341.81 1196.5v-7.5M1341.81 931.5v7.5M1352.38 1196.5v-7.5M1352.38 931.5v7.5M1362.94 1196.5v-7.5M1362.94 931.5v7.5M1373.50 1196.5v-7.5M1373.50 931.5v7.5M1384.06 1196.5v-7.5M1384.06 931.5v7.5M1405.19 1196.5v-7.5M1405.19 931.5v7.5M1415.75 1196.5v-7.5M1415.75 931.5v7.5M1426.31 1196.5v-7.5M1426.31 931.5v7.5M1436.88 1196.5v-7.5M1436.88 931.5v7.5M1447.44 1196.5v-7.5M1447.44 931.5v7.5M1468.56 1196.5v-7.5M1468.56 931.5v7.5M1479.12 1196.5v-7.5M1479.12 931.5v7.5M1489.69 1196.5v-7.5M1489.69 931.5v7.5M1500.25 1196.5v-7.5M1500.25 931.5v7.5M1510.81 1196.5v-7.5M1510.81 931.5v7.5M1531.94 1196.5v-7.5M1531.94 931.5v7.5M1542.50 1196.5v-7.5M1542.50 931.5v7.5M1553.06 1196.5v-7.5M1553.06 931.5v7.5M1563.62 1196.5v-7.5M1563.62 931.5v7.5M1574.19 1196.5v-7.5M1574.19 931.5v7.5M1595.31 1196.5v-7.5M1595.31 931.5v7.5M1605.88 1196.5v-7.5M1605.88 931.5v7.5M1616.44 1196.5v-7.5M1616.44 931.5v7.5M1627.00 1196.5v-7.5M1627.00 931.5v7.5M1637.56 1196.5v-7.5M1637.56 931.5v7.5M1658.69 1196.5v-7.5M1658.69 931.5v7.5M1669.25 1196.5v-7.5M1669.25 931.5v7.5M1679.81 1196.5v-7.5M1679.81 931.5v7.5M1690.38 1196.5v-7.5M1690.38 931.5v7.5M1700.94 1196.5v-7.5M1700.94 931.5v7.5M190.5 1191.89h7.5M1711.5 1191.89h-7.5M190.5 1186.58h7.5M1711.5 1186.58h-7.5M190.5 1181.27h7.5M1711.5 1181.27h-7.5M190.5 1175.96h7.5M1711.5 1175.96h-7.5M190.5 1165.34h7.5M1711.5 1165.34h-7.5M190.5 1160.03h7.5M1711.5 1160.03h-7.5M190.5 1154.72h7.5M1711.5 1154.72h-7.5M190.5 1149.41h7.5M1711.5 1149.41h-7.5M190.5 1130.83h7.5M1711.5 1130.83h-7.5M190.5 1117.55h7.5M1711.5 1117.55h-7.5M190.5 1104.28h7.5M1711.5 1104.28h-7.5M190.5 1077.73h7.5M1711.5 1077.73h-7.5M190.5 1064.45h7.5M1711.5 1064.45h-7.5M190.5 1051.17h7.5M1711.5 1051.17h-7.5M190.5 1024.62h7.5M1711.5 1024.62h-7.5M190.5 1011.35h7.5M1711.5 1011.35h-7.5M190.5 998.08h7.5M1711.5 998.08h-7.5M190.5 971.53h7.5M1711.5 971.53h-7.5M190.5 958.25h7.5M1711.5 958.25h-7.5M190.5 944.98h7.5M1711.5 944.98h-7.5" stroke="#262626" stroke-width="1.1" fill="none"/><path d="M190.5 665H1711.5M190.5 931H1711.5" stroke="#111" stroke-width="2" fill="none"/><defs><clipPath id="c0"><rect x="190.5" y="133.5" width="1521.0" height="265.0"/></clipPath><clipPath id="c1"><rect x="190.5" y="400.5" width="1521.0" height="264.0"/></clipPath><clipPath id="c2"><rect x="190.5" y="665.5" width="1521.0" height="265.0"/></clipPath><clipPath id="c3"><rect x="190.5" y="931.5" width="1521.0" height="265.0"/></clipPath></defs><g clip-path="url(#c0)"><g transform="scale(0.5)" fill="none" stroke-width="4" stroke-linejoin="round"><path d="M507 597l3 0 4-1 3-1 3 1 4-1 3 0 3 1 3-4 3-1 3 1 3 0 4-1 3-1 3 1 3 0 3-4 3 1 4-3 3 0 3-1 3 2 3-3 3 2 3 0 4-1 3-4 3 3 4-2 3-1 3-5 4 1 3-2 3-5 3-3 3 2 3 6 4 0 4-3 4 3 4 3 3 2 4 0 4-2 4 21 3-12 5-32 3 9 3 8 5 20 3-2 3-4 3 2 2 0 4-2 3 0 3-3 3-1 3-3 4-7 3-3 4-1 4 1 3 7 3 9 3 2 4 3 3 1 3-3 3 2 3 2 4-3 3 3 3 1 3 0 4-2 3-3 3-1 3-1" stroke="#0000bf"/><path d="M927 526l4 1 3 2 3-2 2 2 3-1 3 1 3 2 3 5 3-3 3 0 3 1 3 2 3 2 3 0 3 4 3-2 3 1 2-2 3 0 3-4 3 1 3 0 3-1 3-3 3 5 3-1 3 0 3 0 3 1 3 1 3-3 2 1 3 1 3 0 3-1 3-1 3 0 3 1 2 1 3-3 4 5 3 0 3-1 3 3 4-2 3 0 3 0 3 1 3 0 3-1 3 1 3-4 3 4 4-4 3 1 3-1 3-2 4-1 3 2 3 3 4 2 3 1 3-1 3 1 3 0 3 3 3-3 3 5 3-2 3 0 3 2 3 1 3-1 3 1 3-1 3 1 3 0" stroke="#0000df"/><path d="M1140 546l3-1 3 3 3 2 3-4 3 1 3 2 3 0 2 3 3-4 3 3 3-2 3 5 3-3 3-2 3 4 3 0 3 4 3-3 3 1 3 2 3 2 2-2 3 1 3 0 3-1 3 1 3 0 3-1 3 4 3-4 3 4 3 0 3-1 3-1 3 1 2 1 3 1 3 0 3 1 3-2 3 2 3-3 3 5 3-1 3 1 3 3 3 0 3-4 3 5 3-2 3 5 3 3 4-4 3 2 3 0 3 1 3 1 3 2 3-3 3 4 3-3 4 2 2 2 3-1 3-3 3 1 3 0 3 1 3 2 3-3 3 5 3 1 3 2 3 1 3 4" stroke="#0000df"/><path d="M1964 566l3-2 3-1 3 0 3 0 3-1 3-1 3-4 3 4 3 1 3-2 3-3 3-1 3 1 2-3 3 1 3-3 3 1 3 0 3-7 3 3 3-2 3-2 3 0 3 0 3 2 3-5 3 4 2 1 3-3 3 0 3-1 3-2 3 2 3 0 3 0 3 3 3-2 3 0 3 2 3-4 3 0 2 2 3 0 3 3 3-1 3 4 3 0 3-1 3-1 3 2 3 1 3-2 3 3 3 1 3 0 2 2 3 0 3-3 3 2 3-2 3 3 3-2 3 3 3-1 3 2 3-2 3-1 3 5 3-3 2 3 3-1 3 1 3 2 3-1 3 2 3-4 3 4 4-2 3 0 3 0 3 1 4 4 3-3 3 5 4 1 3 4 3-2 3 1 4-1 3 2 3 0 4-3 3-1 3-3 3 1 4 0 3-3 3 2 4-6 3-1 3 0 3 1 4 1 3-1 3 0 3 0 4 0 3 0 3 1 3 6 3-6 3 4 3 4 3-1 3-5 3-3 3-2 3-3 3-8 4-3 3-6 3-4 4 5 4 1 4-6 4-3 3 2 3-2 3-1 3 3 3-5 3 2 3-2 3 0 2-2 3 1 3-4 3-1 3-3 3 2 3-2 3 0 3-4 3 0 3 1 3-3 3 0 3-1 2-3 3-3 3 3 3-2 3 0 3-6 3 1 3-1 3 2 3 3 3-1 3-1 3 0 3 9 2 4 3 9 3 6 3 2 3 11 3 11 3-3 3 2 3 0 3 1 4 6 3-1 3 0 3-3 3 9 3-1 4 3 3 8 3 3 3-2 3 12 3 4 3 2 4 7 3-4 3 4 4 2 3 3 3 4 3-6 3 0 3 0 3 3 3-2 3 3 3-4 3-2 3 2 3 1 3-4 3 1 2 2 3-8 3 0 3 1 3-6 3 0 3 1 3 5 3 1 3 0 3 1 3 4 3 1 3-5 2 5 3 1 3 3 3-1 3 0 3 2 3-1 3 6 3 0 3 4 3-1 3 3 4 3 4 4 3 1 3-6 4-1 3-7" stroke="#0000df"/><path d="M2660 542l3 0 4 8 3-4 3-1 3 5 3 2 4 3 3 4 3-5 3 2 3-2 4-5 3-2 3-10 3 7 4 8 3-7 3 4 4 4 2 3 3 5 3-6 3 7 3 4 3-3 3 6 3 5 3-1 3-1 3-7 3 6 3 2 3-1 2 1 3 8 3-7 3-1 3 3 3-1 3 1 3 3 3 4 3 1 3-1 3 5 3 4 3 0 2 6 3 1 3-2 3 5 3 6 3 1 3-2 3 3 3-3 3-2 3 5 3 0 3 1 3-1 3 4 3 1 3 6 4 4 3 1 3 1 4-7 3 2 3 4 3 0 3-2 3 0 4-2 3 5 3-1 3-7 3 3 4-1 3-2 3-6 3 3 3-7 3 5 3-5 3-4 3 4 2-2 3-7 3 6 3-10 3 2 3 0 3-10 3 9 3-2 3 1 3-2 3 4 3-2 3 1" stroke="#0000df"/><path d="M819 546l3 1 3-3 3 0 3-1 3 1 3 1 3 5 3 0 3 0 3 3 3 1 3 0 3 3 3 1 3-1 4 6 4 3 3-6 3-8 3-3 3-6 3 0 4-2 3 3 3-3 3 1 3 2 3-3 3 0 3 3 3-2 3 1 3 1 3 2 3-5 4 3 3 0 3 0 2 0 3 0 3 2 3-2 3 2 3 0 4 8 4 10 4 4 3 0 3 0 3 2 4 1 4 5 4 4" stroke="#0000ff"/><path d="M1249 486l3 5 2-1 3 3 3 3 3 2 3 0 4 2 3 1 3 5 3 0 4-1 3 3 3 2 4 1 3 3 3 2 3 0 3 3 3 1 3 3 4 1 3 5 3-2 4-3 2 3 3 2 3-1 3 1 3 1 3 2 3-1 3 0 3 3 3-1 3 0 3 0 3 1 3 3 2-3 3 3 3 2 3-1 3 1 3-1 3 4 3 0 3-1 3-3 3 2 3 3 3 1 3-2 2 2 3-2 3 1 3 1 3 2 3-3 3 4 3 1 3-3 3 0 3 3 3-1 3-3 3 5 2 0 3 0 3 4 3-2 3-1 3 2 3-1 3 0 3 2 3-1 3 1 3 3 3-1 3 0 3 1 3 1 3 2 4-1 3 3 3-5 4 0 3-2 3 1 3 0 3 2 4-3 3 2 3 0 3 1 3 1 3 3 3-1 3 2 3-2 3-2 3-1 4-4 3 2 3-7 3 1 4-4" stroke="#0000ff"/><path d="M798 544l4 6 3 7 4 5 3 4 3 5 4-7 3 10 3 7 3 3 3-4 3 2 3-4 3 2 3 4 3-3 3 2 3-1 3-1 3 1 3 0 3 1 3 2 3 0 3-2 3 0 3 2 3-1 3 1 3 3 3-3 2-2 3 0 3-1 3-1 3 0 3 0 3 0 3 1 2-2 3 0 3-2 3 4 3-2 3 1 3-1 2 0 3-2 3 1 3 3 3-6 3 3 3 0 3-2 2 1 3 0 3-2 3 2 4-1 3 0 3 1 3 1 3 1 3 1 3-4 3 4 3-2 3-2 3-3 3 0 3-1 3-1 3-4 3 2 3 3 3-8 3 4 3-1 3-1 3 2 3-4 3 2 3 1 3-2 3 0 3 1 3-1 3 3 3-3 3 3 3-3 3 3 3-1 3-4 3 4 3-2 3 0 3 3 3-4 3-1 3 4 3-3 3 2 3-2 3-2 3 1 3 2 3 0 3-1 3 0 3 0 3 0 4 4 2-3 3-3 3 1 3 1 3 0 3-2 2-1 3 0 3-3" stroke="#0040ff"/><path d="M2400 462l4-4 3 0 3-2 3 0 4-2 3-2 3 0 4-3 3-1 3-1 3 0 4 1 3 2 3 0 4 3 3 2 3 0 3-3 4-2 3 4 3-5 3-2 3-8 3-4 4 13 4 9 5 11 4 14 4-14 4-17 3 1 3-1 3 6 3 1 4 17 4 14 3 8 3 5 4 8 3 9 3 2 3 0 3 7 3 4 4 8 4 9 3 3 4 1 3 6 3 0 4 2 3 2 3 3 3 7 4-5 3 8 3 2 4-1 3 3 3 1 3 4 4 4 3 1 3 5 3 3 4 0 3 1 3 0 4 2 3-3 3 4 3 1 3-1 3 8 3-6 3 1 3 4 3-4 3 3 3-1 3 2 3 3 3 1 3 3 3 0" stroke="#0040ff"/><path d="M2660 627l3-2 3 6 3-8 3 1 3-1 3-2 4-1 3-2 3-4 3-2 3 0 4 1 3-2 3-2 3-3 3 11 3-3 3-1 3 1 3-2 2 1 3 3 3 2 3 0 3 0 3 4 3 3 3-2 3 0 3-5 3 4 3 0 3-3 3-1 2 5 3-2 3 3 3-2 3 3 3-2 3-3 3 3 3-2 3 1 3-4 3-1 3 2 3 0 2-11 3-9 3-11 3-9 3-9 3-11 3-11 3 1 3 6 3-5 3 0 3 0 3 2 3 1 2-4 3-3 3 5 3-5 3 4 3-1 3 2 3 1 3-4 3-3 3-2 3 0 3 2 3-6 2 6 3 0 3 2 3-1 3 1 3-1 3 1 3-1 3 7 3 6 3-1 3 3 3-1 3 8 2-5 3 3 3-1 3-3 3 5 3-2 3 0 3 1 3 0 3-1 3 3 3-2 3 2 3-1 2-5 3-1 3-2 3-2 3 0 3-10 3 1 3-5 3 4 3 2 3-4 3 2 3 5 3 0 3 1 2-2 3 8 3-5 3-1 3 7 3-2 4-51 4-39 3-36 3-28 5 92 3-41 3-25 4 20 4 19 4-21 4-14 3-25 3-16 3 48 3 42 4 11 5 28 4 24 4 23 3 13 3 3 3 11 3 13 4 12 4 30 3-11 3-16 4-7 3-16 3-11 3 7 3-7 3-3 3-3 3 4 4-5 3-8 3 4 4 10 3 1 3 9 3 9 4 7 3 6 3 5 4 6 3-2 3 1 3-4 4-4 3-14 3 1 4-7 3 14 3 15 3 16 4 18 3 12 4 0 4-11 4-20 4-19 4-50 5-57 4 12 4 3 4 38 4 43 3 21 3-13 4 16 3 9 3-6 4 8 3-1 3-7 3 4 4-11 3-8 3 4 4-6 3-6 3-1" stroke="#0040ff"/><path d="M3150 596l4 8 3 5 3-4 3-13 3 12 3-6 4-2 3-4 3 2 3 21 3 9 3 9 4 12 3-10 3-6 3-7 3-26 3 19 3 12 4 13 3 20 3-36 3-46 3-34 3-26 4 20 3 24 3 19 3 24 3-16 3-25 4-24 3-15 3 19 3 5" stroke="#0040ff"/><path d="M3193 672l4-7 4-8 4 5 5 9 3 6 3-3 3 3 4 13 3-7 4 7 4-22 3-1 4-17 3-3 3-16 4-5 3 6 3 5 3 11 4 11 3-3 3 5 3-7 4-3 3 8 3-23 4 6 3-6 3 7 3-1 4 19 3-15 3 8 4-1 3-6 3 6 3 2 4-10 3-3 3-2 4-13" stroke="#0060ff"/><path d="M1653 522l3-3 2 0 3-1 3 1 3-3 3-2 3 0 3 0 3 1 3 0 3 2 3 0 3-2 3 0 3 3 2 0 3 0 3-1 3 0 3 4 3 2 3 1 3-3 3 5 3-2 3 2 3 1 3-1 3 0 2-2 3 1 3-1 3 3 3-1 3 1 3-1 3-2 3 1 3-1 3 1 3-1 3-2 3 1 2 0 3-1 3 2 3 1 3-4 3 0 3-2 3 3 3 1 3-2 3 4 3 1 3-2 3 1 3-1 2 2 3-4 3 2 3 3 3-3 3 1 3-1 3 0 3 2 3 1 3-1 3 2 3 2 3 0 2-3 3 2 3-1 3 5 3 0 3 1 3-1 3 0 3 4 3 1 3-1 3 3 3 0 3-2 3-3 3-3 3 2 3-1 3-2" stroke="#0080ff"/><path d="M3192 675l3-3 3-9 3 3 3-2 3 8 3 5 4-5 3 5 3 9 3-6 3 0 3-2 4 3 3-16 3 7 3-12 3 6 3 1 4-14 3 7 3-12 3-8 3-6 3-13 3 4 4 11 3 4 3-4 3-6 3 17 3-8 4-5 3-3 3 7 3 7 3-1 3 9 4-9 3-1 3-9 3 1 3 2 3 5 3-1 4 2 3 5 3 2 3 8 3-6 3-2 4 6 3 9 3-15 3-2 3-6 3-1 3 1 4-2 3 5 3 8 3-4 3-4 3-5 4-9 3-2 3 5 3-12 3 4 3-7 4 8 3 0 3 0" stroke="#0080ff"/><path d="M380 659l3-1 3 2 3-1 3 5 3 2 3-1 3 1 2-1 3 4 3 3 3-2 3 1 3 0 3-2 3 4 3-3 3 2 3 1 3 2 3 0 3 0 4 2 4 2 3 0 3-2 3-3 3-1 3 0 3-2 3 0 3-1 3 2 3 0 3 2 3-7 3 1 3 1 3-3 3-1 3 2 4-3 3-2 3-2 3-1 3-4 3-7 4-3 3 1 3 0 3-2 3 1 3 1 3-2 4 3 3 3 3-1 4-1 3 3 3 3 3 2 4-5 3 9 3-4 3 5 4 2 3 1 3 0 4 0 3 4 3 0 3-1 4 10 3-2 3 3 4-2 3 5 3 1 3 1 4-2 3-1 3 3 4-3 3 2 3 4 3-1 4 2 3 1 3 5 3 1 3-1" stroke="#009fff"/><path d="M2556 479l4 4 4 2 3 9 3 2 4 4 3 11 3 0 3 0 2 3 3 2 3-3 3 4 3-1 3 4 3-1 3 6 3-1 3-2 3 3 3-2 3 2 3 1 2-1 3-5 3 3 3 2 3-1 3 2 3-5 3 5 3-3 3 2 3 1 3 1 3-3 3 1 3-3 3-1 3 4 3-1 3-4" stroke="#009fff"/><path d="M2660 529l3-4 4-1 3-1 3 4 3-1 5 0 4 3 3 4 3-1 3 6 4-6 3-1 3 5 4 1 3 2 3 2 3 4 4-11 3-6 3-8 4-1 3-4 3 1 3 6 4 0 3 6 3 0 3 2 3 5 3 3 4 4 3-1 3-4 3-3 3-11 4-3 4-5 3 8 3 2 3 2 3 6 4-1 3-6 3 5 3-2 4-2 3 2 3 7 3 1 3 3 3-11 3-3 3 0 3-9 3 7 3 3 4 15 3 5 3 0 3 1 3 0 4 2 3 4 3-5 3 3 3-6 3-3 3 4 3-6 3 0 2-3 3-5 3 6 3-5 3 6 3-7 3-2 3 3 4-2 3-3 3-6 3 3 4-8 3-1 3-3 4-1 3 0 3-3 3 3 4 0 3-6 3 1 4 3 3 0 3 3 3-4 4 7 3 1 3-1 4-1 3 4 3 0 3 3 3-1 3 2 3-2 3 4 3-8 3 3 3 5 3-4 3 6 3-3 3 10 3 5 3 7 3 10" stroke="#009fff"/><path d="M1140 564l3 2 3 0 3-1 3-4 3 1 3 0 3 0 2-3 3-1 3 2 3 0 3-2 3-2 3 1 3-3 3-1 3-6 3 0 3-3 3-3 3-1 2-1 3-1 3 0 3-4 3 1 3 0 3-1 3 2 3-3 3-1 3 3 3 1 3 3 3-2 2-2 3 3 3-3 3 0 3 6 3-3 3 1 3 1 3 2 3-1 3 2 3-2 3 0 3 5 2 1 3 0 3 1 3 1 3 0 3 4 3 0 3 2 3 2 3 3 3 1 3 2 3-2 4 3 3 4 3-5 3 0 3 0 4 0 3-2 3-4 3 3 3-3 3 0 3 1 3-2 3 2 2 3 3-3 3-1 3-2 3 0 3 0 3 1 3-2 4 1 3 0 3-2 3-1 5-5 4-2 3 0 3 1 4 1 3-2 3 2 3-3 3 5 3-2 3-2 3-2 3 2 3-4" stroke="#00bfff"/><path d="M1900 518l3 5 3-3 3 1 3 1 3 0 3 1 3 3 2-2 3 2 3 1 3-3 3 5 3-1 3 1 3-2 3 3 3 0 3-1 3 4 3-2 3-1 2 1 3 2 3 1 3-1 3 2 3 1 3-4 3 1 3 0 3 1 3 3 3-1 3-3 3 1 2 3 3-3 3 1 3 1 3-3 3 4 3-1 3 1 3-1 3 0 3 1 3 2 3 0 3 1 2 3 3 0 3-2 3 0 3 4 3-2 3 3 3 1 3-3 3 1 3 2 3-1 3 0 3 2 2 2 3-1 3 1 3 0 3-1 3 5 3-5 3 3 3 3 3-2 3 4 3 2 3-3 3 3 2-1 3 3 3 0 3 1 3 3 3-1 3 3 3-2 3-3 3 3 3 0 3-3 3 4 3-2 2 0 3-2 3 1 3 0 3-1 3 1 3-4 3 5 3-4 3-2 3 1 3 0 3 2 3-3 2 1 3-2 3 4 3-2 3 1 3-5 3 2 3-3 3 1 3 0 3-5 3 0 3-1 3-1 3 0 2-1 3-2 3 2 3 0 3-4 3 0 3 0 3 0 3-2 3 2 3-1 3 0 3-2 3 2 2-1 3-3 3-1 3 2 3-4 3 1 3 0 3-2 3 1 3-3 3 2 3-3 3 6 3-1 2-1 3-2 3 1 3 0 3 0 3-1 3-3 3 2 3-2 3-1 3 0 3 2 3 0 3-4 2 5 3-1 3-3 3 0 3 0 3 1" stroke="#00bfff"/><path d="M401 618l2-4 3-1 3 0 3-1 3-1 3-3 3 1 3-4 3 0 3-4 3-4 4-3 5-5 2 2 3-1 3 1 3-2 3 3 3-3 3 0 3 7 3 3 3 6 3 8 3-5 3 0 3 2 3 0 3-1 3 1 3 1 4-8 4-11 3 1 3 0 3-2 3 1 3-2 3 3 3-2 2 0 3-1 3 1 3-2 3 1 3 2 3-3 2 5 3-4 3 4 3-1 3 3 3 0 3-1 3 5 3 2 3-1 3-3 3-2 3-4 3 0 3-5 3-2 3-3 3-3 3 0 3 3 4-2 3 2 3 2 3 2 3 3 3 3" stroke="#00dfff"/><path d="M1900 539l3-1 3 3 3-4 3 4 3 1 3-1 3 1 2 0 3 0 3 0 3-2 3 1 3 1 3 2 3 1 3-2 3-2 3 0 3 1 3 3 3-1 2-1 3-1 3 3 3-1 3 0 3 0 3 3 3-3 3 3 3-1 3-1 3 1 3-1 3-1 2 1 3-1 3 2 3 0 3 1 3 0 3-6 3 6 3-3 3 3 3-1 3 2 3 2 3-4 2 3 3 0 3-3 3 4 3 0 3-1 3 0 3 7 3-5 3-1 3 2 3 1 3 1 3 1 2-1 3 4 3-1 3-1 3 2 3 1 3 3 3 0 3-1 3 1 3 1 3 3 3-4 3 2 2 1 3-2 3 2 3 1 3-1 3 2 3 1 3 0 3-2 3 0 3 4 3-6 3 2 3 1 2-1 3 0 3-1 3 1 3 1 3-3 3 1" stroke="#00dfff"/><path d="M616 709l3-6 3 1 2-3 3-2 3-1 3 1 4-4 3-1 3-3 4 1 2-1 3 1 3-2 3 3 3-6 3 2 3 1 3-2 3-1 3 1 3-2 3 2 4 3 3-2 3-4 3-1 3-1 4 1 3-5 3-1 3 2 3-1 3-2 3-2 3-1 3 0 3-3 3 4 2-3 3 1 3 1 3-2 3-4 3 2 3-1 3-3 3-1 3 0 3-3 3 4 3-7 3 1 2 0 3-1 3 0 3-1 3-1 3 1 3-6 3 3 3-2 3 0 3-1 3-2 3-1 3 2 3-1 3-2 3 3 3-1 3-7 4 2 3 2 3-4 3-2 3-2 4-2 3-2 3-1 2 1 3-3 3-2 3-2 3 1 3-3 3 0 3 1 3-1 3-1 3-1 3-2 3-1 3-1 2 0 3-4 3 3 3-3 3-3 3 0 3-2 3 0 3-2 3 1 3-4 3-3 3 1 3-3 2 1 3 0 3-2 3-4 3-1 3 2 3-3 3-2 3 1 3 1 3-3 3-3 3-1 3 0 2-3 3-2 3 1 3-2 3 0 3 0 3 1 3-6 3-1 3-2 3-1 3-1 3-4 3-2 2-2 3-1 3 1 3-2 3-3 3-1 3-1 3 0 3-3 3-1 3-4 3-1 3 3 3-7 3 2 2-1 3-2 3-1 3 0 3-2 3-1 3-4 3 1 3-3 3-1 3 0 3-1 3 0 3-3 2 1 3 0 3-1 3 0 3-3 3-1 3 2 3-4 3 2" stroke="#00ffff"/><path d="M1595 535l3 4 4 1 3 0 3 2 4-1 3-2 2 1 3 2 3-1 3-3 3 2 3-3 3 2 3-2 3-2 3 1 3-4 3-1 3-1 3 1 2-1 3-1 3-1 3 1 3-3 3-2 3 3 3 0 3-2 3-3 3 1 3 2 3-1 3 2 2-5 3 3 3-3 3 3 3-2 3 1 3-2 3-1 3 1 3 1 3-1 3 4 3 1 3-2 2-1 3 1 3 0 3 3 3-1 3 0 3-1 3-2 3 2 3 0 3 3 3-1 3-1 3 1 2 4 3-4 3 0 3 2 3-1 3 1 3 1 3 2 3-6 3 2 3 0 3 0 3-1 3 0 3 2 2-3 3 0 3 0 3 0 3-1 3 2 3-2 3 0 3-1 3-1 3 0 3-1 3 2 3 0 2 0 3 2 3 1 3-3 3 6 3-3 3-1 3 1 3-2 3-1 3 3 3-5 3 1 3 1 3-3 3 1 3 1 3 2 3-5" stroke="#00ffff"/><path d="M2281 429l4 2 3 1 3 0 4 3 3-2 3-1 3 1 3-4 3 3 3 6 3 3 3 2 3 5 3-1 4 5 3 4 3 3 3-3 3 2 4 0 3-4 3 1 3-3 3 0 3 4 3 0 3 1 3-1 3 1 3 1 2 1 3-3 3-3 3 4 3-2 3 0 3 0 3 4 3-2 3 2 3 0 4 6 3 4 3 5 3 5 3 2 3 8 3 0 3 3 4 4 3 0 3 5 3 3" stroke="#00ffff"/><path d="M3140 581l3-76 3-78 3 37 3 32 3-14 3-10 3 17 3 36 5-25 4-14 4 29 4 28 3 3 3 16 3 18 3 4 3-11 3-21 3-22 3-5 5 51 4 47 3-19 3-18 3-24 3-16 4 42 4 35 3-2 3-14 3-14 3-6 4 28 3 38 3 36 3 28 3-31 3-18 3-15 3-28 3 18 3 24 3 23 3 19 4-14 3-24 3-14 3-16 4-15 3-6 3 13 4-1 3 17 3 5 3 3 3-1 3-3 3 10 3-3 3 7 3-4 3-5 3-1 2 1 3-15 3 5 3-3 3-25 3 10 4 0 3 8 3 2 4 6 3 17 3 13 3 9 4 11 3 13 3-46 4-43 3-47 3-43 3-54 4 123 5 117 4-44 4-45" stroke="#00ffff"/><path d="M380 664l3 1 3 5 3 6 3 1 4 3 5 1 4-8 4-8 4-6 4 0 3-1 3 1 3 1 3 5 3 2 3-2 3-1 4 4 2-2 3 2 3-1 3 0 3 0 3-1 3 0 3-1 3 2 3-1 3 3 3-1 3 2 3 1 2-2 3 0 3 0 3 3 3 1 3-1 3-2 3 5 3-3 3 7 3-1 3-2 3 10 4 0 3-3" stroke="#20ffdf"/><path d="M1669 489l4 6 4 6 4-3 4-4 3-3 4-2 3-5 3-1 3-2 3-6 4 1 3-7 3-3 3-1 3-2 3 0 3-2 3 2 3-3 3-1 3-2 2-2 3 1 3-2 3 2 3-2 3 2 3 0 3 2 3 1 3 1 4 0 3 0 3-4 4 1 3 3 3-6 3-2 3-2 3-2 3 2 4-3 3-2 3 1 4-1 4-5 4 3 4 10 4 10 4 9 4 8 4 5 4 0 4-9 5-8 4-11 4-11" stroke="#20ffdf"/><path d="M2372 471l3-2 2 1 3-4 3 2 3 1 3 0 3-4 3 3 4 5 3 3 3-2 4 4 3 6 3 6 3 2 3 8 3 3 3 8 3 1 3 3 3 2 3 5 3 1 3 0 3 4 3-1 3 4 3 1 3 2 3 3 3 1 3 7 3 4 4 1 3 1 3 8 4-4 3 2 3 9 3 3 4 3 3-2 3-2 4 3 3 3 3-2 3 5 4 3 3 6 3 9 4 4" stroke="#20ffdf"/><path d="M3144 427l3 43 3 39 4-20 3-10 3-11 3 18 3 21 3 16 4 5 3-2 3 7 3 14 3-1 3 17 4 3 3-12 3-5 3-18 3-13 3 9 3 13 4 21 3-14 3 21 3 10 3 16 3 5 4 6 3 34 3 4 3 21 3 8 3 15 4 17 3 21 3-10 3-18 3-5 3-14 3-2 4-3 3-2 3-10 3-2 3-2 3-4 4-9 3 8 3-14 3 2 3-7 3-3 4-24 3 13 3-19 3-13 3-1 3 2 3-16 4-16 3-5 3 1 3-21 3 22 3 15 4 27 3 4 3 4 3-13 3-5 3 5 3 10 4 1 3 23 3 11 3 14 3 24 3 20 4 16 3-12 3-13 3-9 3-17 3 14 4 1 3 15 3 7" stroke="#20ffdf"/><path d="M716 684l4-1 3-3 3 0 3 0 4 0 3-1 3-4 4-1 3-3 3 0 4-6 4-4 4 0 3-5 3-4 3-1 4-3 3-1 3 2 4-3 3-5 3 2 3-1 3-4 3-2 3-2 3 0 3-2 3-1 3-1 2-1 3-1 3-2 3-5 3 1 3 0 3-2 3 2 3-3 3-1 3 3 3-2 3-1 3 0 2 0 3-1 3-5 3 3 3 0 3-1 3 1 3 0 3-3 3-2 3 4 3-5 3-2 3 2 2-1 3-3 3 2 3-3 3-2 3 1 3 0 3-3 3 0 3-2 3 3 3-6 3 2 3-3 2-1 3 1 3 0 3 0 3-2 3-2 3 0 3 1 3 0 3 1 3-2 3 1 3 0 3-1 2-2 3 2 3 0 3 5 3-2 3 4 3 2 3 6 3 2 3 2 4 3 3 3 3 4 3 2 3 2 3 5 4-3 3 5 3 0 3 3 4 2 3-1 3 2 4-3 2 5 3-2 3 2 3 0 3-3 3 3 3 2" stroke="#40ffbf"/><path d="M2080 503l4 1 3-5 3-2 3-4 3 1 3 4 3 2 3 2 3 1 3-7 3 1 3-3 3 6 3-1 4 2 3 0 3 5 3 0 3 2 4-2 3 7 3-1 3 1 3 1 3-2 3 0 3 2 3 0 2-1 3 1 3 0 3 3 3 1 3-1 3 3 3-3 3 4 3 4 3-1 3 0 4 6 3 1 3-1 3 4 3-2 4 0 3 3 3 0 3-1 3 2 3-1 3 2 3 0 3 2 3-2 3-1 2 0 3 2 3 3 3 0 3-2 3 2 3-3 3 3 3-2 3 2 3 0 3-2 3 1 3-1 2 1 3 2 3 5 3-5 3 0 3-2 3 2 3-6 3 0 3 1 3-4 3 2 3-2 3-2 2 1 3-1 3 1 3 3 3 1 3 0" stroke="#40ffbf"/><path d="M392 639l3 3 3-2 3-1 3-3 3-1 3-2 3-1 3 3 3-1 3 2 3 1 2 3 3-5 3 4 4 1 5 2 3 2 3 5 3 2 2-1 3 0 3 0 3 2 3-2 3-4 3 2 3-2 3-2 3 4 3 2 2-2 3-2 3 0 3 3 3-2 3-1 3 0 3 0 3 1 3-1 3-1 3-2 3 2 3-2 2 2 3-3 3 1 3 0 3-2 3 4 3-1 3-1 3 3 3 1 3-3 3 6 3 1 4 2 3 0 3 2 3 2 3 4 3 0 3 1 3 4 3-2 3 2 4 0 3 8 3 1 3 3 4 2 3 1 3 2 3 2 4 2 3 2 3 3 3 0" stroke="#60ff9f"/><path d="M1845 504l3-1 4-5 3-4 3-5 3-1 3-2 2 0 3-2 3-5 3 1 3-1 3-4 3-5 3 0 3-7 3-4 3-3 3-2 3-1 3-2 3-3 3-4 3-1 3-3 3-1" stroke="#60ff9f"/><path d="M1900 447l3-1 3 2 3-2 3 0 3-3 3 0 3 1 2-2 3-1 3 1 3 2 3-2 3 2 3-3 3-2 4-4 3-2 3 1 3-4 3-2 4-2 3-3 3-2" stroke="#60ff9f"/><path d="M3267 522l4 27 4 22 4 33 4 25 4-11 3-6 3-13 3-12 4-20 3-4 3-2 4-6 3-16 3-6 3 16 4 1 3 11 3 20 4 13 3 0 3-5 3 14 4-3 3 13 3-9 4-3 3-3 3-11 3 2 4 10 3 4 3 13 3-1 4 15 3-11 3-14 4-4 3-10 3-9 4-48 4-46 4 85 5 95 4-76 4-60" stroke="#60ff9f"/><path d="M3315 540l3 15 3 23 3 22 3-18 3-6 4-25 3-12 3 24 3 36 3 32 3 32 4-18 3-12 3-9 3-24 3 16 3 15 3 29 4 12 3-12 3-5 3-13 3-4 3-30 4-32 3-36 3-31 3-26 3 39 3 29 4 50 3-29 3-44" stroke="#60ff9f"/><path d="M1279 584l4-3 3-1 3 0 3-1 3 0 3-4 3 1 3-3 3-1 3-4 3 0 3 2 3 0 3-2 3 0 2-3 3-1 3-1 3 2 3-2 3-2 3-1 3 1 3-1 3-3 3 4 3-3 3-1 3 2 2-2 3-2 3 0 3-3 3 0 3-3 3 5 3-5 3 4 3-3 3 0 3 0 3 1 3 0 2 2 3-3 3 1 3-3 3 2 3-1 3-2 3 0 3 0 3 0 3-1 3-2 3 0 3 1 2-4 3 1 3 3 3-7 3 2 3 2 3-5 3 7 3-9 3 6 3 0 3-1 3-2 3 0 3-2 2 1 3-3 3 0 3 1 3-4 3 0 3 1 3-2 3 4 3-1 3-2 3 2 3 0 3 0 2 0 3-1 3 2 3-3 3 2 3-1 3 1 3-3 3 0 3-1 3 2 3 0 3 2 3-2 2-2 3-1 3 1 3-1 3 2 3-1 3-3 3 0 3 3 3-2 3-1 3 2 3-3 3 0 2-1 3-2 3 4 3-4 3 1 3-1 3 3 3-2 3 1 3-3 3 2 3-2 3 3 3 0 2-1 3 3 3-2 3 0 3-1 3-1 3 2 3 0 3-4 3 4 3-1 3 0 3-1 3-3 2 0 3 4 3-2 3-3 3 2 3-1" stroke="#80ff80"/><path d="M2763 578l2-1 3 4 3-1 3 1 3 1 3-4 3 0 3-1 3 0 3-1 3-1 3 7 3-10 3 5 2 0 3-1 3-3 3 1 3-1 3-2 3 2 3 0 3 1 3 4 3-3 3 5 3-2 3 4 3 6 3 8 3 4 3 8 4-7 4-3 3-5 4-6 3-11 3-5 3-10 4-4 3 1 3-2 4-5 3-3 3 20 3 11 3 12 3 24 3-16 3-13 3-9 3-14 4 3 3-10 3-2 4 0 3-4 3 10 3-2 4 7 3 7 3 6 4 11 3 8 3 15 3 3 4 11 3-9 3-15 4-11 3-12 3-12 3 10 3 13 3 9 3 16 3-15 4-2 3-11 3-12 4 3 4 6 4-6 4-13 3 17 4 8 3 24 3 6 3 19 4-15 3-1 3-1 3-11" stroke="#80ff80"/><path d="M626 605l3-1 3-1 3 3 3-3 3-1 3-1 3-2 2 1 3 1 3-2 3-1 3 0 3 0 3-4 3 2 3-2 3 2 3-3 3 1 3 1 3-4 2-1 3 1 3-1 3-3 3 2 3 1 3-4 3 0 3-2 3 2 3-3 3 0 3 3 3-4 3 3 2 0 3-2 3 0 3 1 3-3 3-1 3-2 3 1 3 2 3-1 3-4 3 0 3 0 3 0 2-1 3 0 3-1 3-1 3 0 3 0 3-1 3 0 3 2 3-2 3-1 3-3 3 3 3-4 2 0 3 4 3-1 3-2 3-2 3 2 3-1 3 1 3 2 3-3 3-2 3-1 3 1 3-1 2-2 3 2 3-2 3 3 3-1 3 0 3-3 3 1 3-2 3 0 3-1 3-2 3 0 3 3 3-2" stroke="#9fff60"/><path d="M2113 438l4 1 3 2 3 4 3 1 4 7 3-9 3 0 3-3 4-7 3-3 4 7 4 3 3 3 3 3 3 0 4 1 2-4 3 4 3-3 3 0 3-1 3-3 3 3 3-1 3 0 3-2 3 1 3 0 3 1 3-1 3-1 3-3 3-3 4-4 3 0 3-3 4-6 3 1 3 0 3-1 3-3 4-2 3-3 3 0 3 1 3 2 4 2 3 4 3 1 3 2 3 6 3 1 3 5 3 2 4 3 3 2 3 0 3 4 3 1 4 8 3 1 3 5 3 1 3 0 3 9 3 0 3 5 4 4 3 5 3 4 4 7 4 14 4 6 4 8" stroke="#9fff60"/><path d="M431 601l3-4 3-4 3-5 3-3 3 0 3-5 3-1 3 2 3 2 4 3 4 11 3 3 3 2 3 8 3 3 3 1 4 0 3 3 3 0 3 1 3 0 3 1 3 4 3-2 3 1 3-1 3 0 3-1 3 0 3-3 3 0 3-1 3 0 3-2 4-10 4-12 4-1 4 3 4 4 3 3 3 5 3 4 4 4 4-17 4-19 4 0 4-8 4 10 4 5 4 3 3 4 3 2 3-1 4 1 3 7 3 1 3 5 4 4 3 0 3 2 3 6 3 2 3 2 3 0 3-2 3-2 3 1 3-2" stroke="#bfff40"/><path d="M569 646l4-2 4-6 4 2 4 1 4 5 4 5 4-5 4 1 5 0 4-1 3-3 3 3 3 1 4-2 3 1 3-4 4 3 3-2 3 1 3-5 4 3 3-2 3 0 3-4 3 0 3 3 3-5 3-1 3-1 3-2 3 2 3 0 3-4 4-3 3 3 3-1 3-2 3-1 4-5 3 0 3-4 3-1 3 3 3-3 3 3 3-4 3-2 3 1 3 1 2-2 3-3 3 1 3 1 3-3 3-1 3 2 3-2 3-3 3 0 3-1 3 0 3-1 3 0 2-1 3-5 3 2 3-1 3-1 3-1 3-4 3-2 3 2 3-5 3-3 3 3 3-4 3 0 2-3 3-1 3-1 3 0 3 0 3-5 3 4 3-3 3 0 3 2 3-1 3-3 3 5 3-4 2 2 3 0 3 1 3-2 3 2 3-3 3 3 3-3 3 0 3 3 3-3 3 0 3 3 3-4 2-2 3 2 3-3 3 3 3 0 3-3 3 0 3 0 3-1 3-2 3 2 3-4 3 1 3 0 2-1 3 1 3-3 3 2 3-2 3-1 3-1 3 0 3 2 3-3 3 2 3 1 3-1 3 0 3-3 3-2 3 2 3-1 3 0 3-2 2 1 3-2 3 0 3-2" stroke="#dfff20"/><path d="M2236 498l4-2 3-1 3-4 3-4 4-7 3 0 3-2 4-2 3-3 3-3 3 2 4-1 3-3 3-3 3 4 4-6 3 1 3-1 3-7 3 0 3-3 3-1 3-2 3 1 4-4 3-2 3 0 3-4 4-2 3 3 3-6 3-1 3-2 3-4 3-5 3 3 3-1 3 2 3 3 3 1 3-2 4-1 3 2 3-5 4-12 4-16 4 9 4 4 3 8 3 4 3 5 3 5 5-5 4-5 3 8 3 2 3 6 3 6 4 16 4 18 3 4 3 2 3 3 3 3 4 4 3-4 3 8 4-1 3 2 3 5 3 0 3 5 3 3 2-7 3 7 3 7 4-1 3 3 3-2 3-2 4 3 3 7 3 4 4-1 3 5 3 4 3 0 4 7 3 9 3 5 4-1 4 20 4 10 3-4 3-6 4 5 3-6 3 3 3-4 4 0 3-4 3 8 4-4 3 1 3-5 3 8 4 1 3-4" stroke="#dfff20"/><path d="M380 669l3 1 3-2 3 3 3-5 3 2 3-2 4 4 3-4 3 1 3 3 3 1 4-3 3 2 4 3 4 6 4 8 4 8 4-2 3-2 3-2 4 0 3 0 3-5 3 3 3-1 3 2 4 12 4 1 3-2 3 2 3-1 4-1 3 0 3-2 3-3 3 2 3 1 3 0 3 3 3 1 4-1 4 2 5 8 4 4 3-5 3-2 3-1 4-2 3-3 4 1 4-3" stroke="#ffff00"/><path d="M1597 440l4-16 2 35 5-17 4-20 4-13 4 22 4 16 4 6 4 13 4 7 3 8 3 8 4 16 5 16 3-9 3-9 3-1 3 0 4-3 3-4 3-1 4-2 4-4 3 0 3-2 4 1 3 0 4 9 4 7 3 5 3-1 3 7 3-1 3 0 3-1 3-3 3 4 3 1 3 4 3-5 3 5 2-4 3 2 3-6 3 4 3-1 3 1 3-1 3-2 3 3 3-1 3 0 3 0 3 0 3-2 2-3 3-1 3 4 3-2 3-1 3-2 3 2 3 0 3 0 3 0 3 5 3-2 3-1 3 0 3 1 2 2 3 1 3-2 3 1 3 0 3-1 3 5 3-1 3 5 3-4 3 1 3 3 3 0 3 0 2 2 3 4 3 2 3 1 3 3 3 1 3-1 3 1 3 0 3 1 3 2 3-1 3 1 3 0 3-2 3 2 3 3 3 0 3 2" stroke="#ffff00"/><path d="M1900 538l3-1 3 3 3-1 3 0 3 3 3 0 3 4 2 0 3-1 3 2 3 0 3 0 3 2 3-1 3 2 3-2 3 2 3 1 3-1 3 1 3 0 2 3 3-2 3 3 3 2 3-1 3-3 3 4 3 1 3-2 3 2 3-1 3 0 3-1 3 0 2-1 3 0 3 0 3 0 3-2 3 0 3 0 3-4 3 1 3-1 3 1 3-1 3-1 3-1 3 1 3-1 3-4 3 1" stroke="#ffff00"/><path d="M1333 581l3 1 3-2 4-2 3 1 3-4 3-2 3-5 3-5 3-2 4 2 3 8 3 1 3 8 4-13 4-6 3-3 3-2 3 2 3-1 3 0 3 6 3 0 4 4 2-1 3-1 3-6 3 4 3-3 3-3 3-2 3-2 3-1 3 2 3-3 3-2 3 0 3 1 2-1 3 2 3 4 3 1 3 1 3 1 3 0 3 2 3 2 3 2 3 2 3 1 3 1 3 1 3-6 3-6 3-1 3-5 3 1 3 2 4 0 3 1 3 3 4 0 3-2 3 1 3-2 4-2 3 0 3 2 4-5 3 1 3-1 3 0 3-5 3 4 3-4 3-2 3 0 3 0 3-3 3-2 3 0 3-5 4 4 4 8 3 0 3 1 3-3 3 4 3-1 3 2 3-4 3 2 2 0 3-2 3 1 3 3 3-3 3 0 3 3 3 0 3 0 3-2 3 1 3 2 3-2 3 0 2 2 3 1 3-5 3-2 3 1 3 1 3 1 3 2 3-1 3-1 3 2 3-2 3 2 3-1 2 5 3-3 3-2 3 0 3 0 3-1 3 1 3 0 3 2 3-2" stroke="#ffdf00"/><path d="M3050 644l3 0 3-10 3 0 3-24 4 14 4 0 3-21 3-10 3 0 3-21 3-9 3-5 3-16 3-1 3-12 3 1 3-2 4 23 4 15 3 18 3 1 3 0 3 15 3-5 4 27 3-1 3 21 3-2 3 0 3 13 3 7 3-1 4 0 3-12 3 4 3-1 4-10 3-8 3-5 4 3 3-4 3-3 3 3 3 17 3-8 3 11 4-1 3-1 3 12 4 2 3 11 3 7 3-8 4 9 3 3 3-9 3-3 4 10 3-11 3 0 4-2 3 0 3-4 3 6 4 2 3-11 3-7 4 5 3-10 3 1 3 4 4 1 3-15 3-11 4 4 4 6 4 27 3 11 3-4 4-10 3-1 3 12 3-3 4-1 3 7 3-3 4-5 3 14 3-6 3-1 4-1 3 8 3-7 4 4 3-7 3 4 3-9 4-21 3-26 3-16 3-11 4-8 3-17 3 4 4 10 3 4 3-2 3 13 4 2 3 16 3 15 4 14 4-5 4 4" stroke="#ffdf00"/><path d="M749 568l3-5 4-4 3 1 3-2 3-2 4 1 3-2 3 1 4-3 3 2 3 3 3-1 3 0 3 1 3 5 3-1 3 3 3 4 5 4 4 3 4 9 4 7 4 5 4 4 3-1 4 3 3 2 3-2 4 2 3 1 3-3 3 2 3-2 3 5 3 3 3 0 3-2 3-3 4-5 3-4 3-2 4-8 4 3 4-1" stroke="#ffbf00"/><path d="M2187 538l3 0 3 0 3 2 3-3 3 1 3-3 3 1 2 2 3 0 3-4 3 0 3 2 3-2 3-1 3 1 3-1 3 2 3-1 3-3 3 1 3 0 3-3 2 0 3 2 3-4 3 3 3-1 3-2 3 0 3-1 3 0 3-4 3-1 3-1 3 2 3-2 2-4 3-1 3-1 3 0 3-1 3 2 3-5 3 6 3 1 3 0 3 3 3 1 3 3 3 1 2-4 3 4 3-3 3 2 3-2 3 1 3 0 3 1 3-2 3-1 3 3 3 0 3 3 3-7 2 2 3 1 3-4 3 1 3 3 3-1 3-3 3 5 3 1 3 0 3 1 3 1 3-1 3 1 2 2 3-1 3 2 3-3 3-3 3 3 3 2 3 0 3 0 3 0 3 5 3-5 3 4 3-1 2-1 3 8 3-9 3 5 3 5 3-1 3 2 3-3 3-1 3 6 3-7 3 0 3-3 3 2 2 4 3 0 3-1 3-1 3 4 3-5 3 4 3 0 3 0 3 3 3-2 3 0 3 7 3-1 2 2 3-1 3 3 3 1 3 2 3 4 3-6 3 2 3 0 3-8 3 6 3 4 3 2 3-4 3 4 2 0 3-5 3 4 3 0 3-4 3-2 3 7 3-3 3 1 3 2 3 0 3 5 3 1 3 3 2 0 3-1 3 3 3 4 3-1 3 10 3-6 3 1 3 6 3 0 3 0 3 1 3 1 3 1 3-1 3-3 3 1 3 1 3-1" stroke="#ffbf00"/><path d="M2660 580l3 2 4 2 3 0 3 1 3-1 4 6 3-2 3 9 4-3 3 2 3-1 3-5 4-10 3 2 3-8 3-1 4 1 3-6 3 0 4-4 3 7 3-3 3-1 4 2 3 2 3 5 4 3 3 6 3 1 3 4 4 1 3 0 3 1 4 2 3 1 3-4 3-3 4 1 3 2 3-8 4 6 3 3 3-2 3 0 4 8 3 0 3-2 3 5 4 2 3-4 3 11 4-7 3 3 3 0 3 4 4-2 3 4 3 4 4-1 3 0 3 3 3-7 4 4 3-5 3 0 4 1 3 2 3 0 3 0 4 2 3-4 3-8 3-8 4-5 3-7 3 0 4-1 3-2 3-3 3 0 4 1 3 0 3 11 4 0 3 6 3 0 3 6 4-4 3 4 3-1" stroke="#ffbf00"/><path d="M1102 534l3-1 3 0 4 1 3-3 3 3 3-3 3 1 3-2 3-1 5 6 4 0 3-1 3 2 3 1 3 5 3-2 3 2 3-2" stroke="#ff9f00"/><path d="M1140 538l3-3 3 0 3 1 3-1 3 3 3 4 4-1 3 4 3 0 3-2 3 3 4-2 3 4 3-2 3-1 3-3 3 2 3-2 3 2 3-2 2-2 3 3 3-1 3-2 3 2 3-2 3-1 3 1 3-2 3 0 3 1 3 2 3-1 3-3 2 3 3-3 3 1 3 0 3-1 3 3 3-4 3-2 3 3 3-3 3 0 3-4 3 6 3-1 2 0 3 0 3 0 3-2 3 1 3-3 3 0 3 2 3-2 3-3 3 2 3-1 3-2 3 1 3 0 3-2 3 2 3 4" stroke="#ff9f00"/><path d="M2466 511l4-5 4-3 4 6 4 12 4-10 5-12 4 11 4 7 3 9 3-2 4 5 3 8 3-4 3 6 3 0 3 0 3-1 3 5 3-1 3 5 3 1 2-5 3 3 3 2 3-1 3 1 3 4 3 0 3-4 3 3 3 2 3-4 3 1 3 6 3 0 3-6 2 1 3 4 3-3 3 3 3 0 3 4 3-6 3 2 3 3 3 7 3-2 3-3 3 7 3 3 2-1 3 2 3 3 3 4 3-1 3 3 3 0 3 1 3 1 3 4 3 1 3 2 3 4 3 1 3 3 3-3" stroke="#ff9f00"/><path d="M392 674l3-2 3 0 3 1 3-4 3-1 3 1 3-2 3 1 3-1 4 4 3 0 3-2 3 1 4-4 3 5 3-1 4 1 3-2 3-4 3-4 4 0 3-4 3 0 4-2 3-1 3-4 3 4 3-2 4 1 3 1 3-3 3-3 3 1 3 0 3 0 3 2 3-3 3 4 3-2 3 4 3 0 3 0 3-1 3-1 3-1 4-3 3 2 3 0 3-3 3-4 3-4 4-10 4-5 5-11 3-3 3-3 3-3 3-4 3-1 3-3 4-1 3 3 3-5 4-1 3 2 3 0 3-3 4 1 3 2 3-1 3 0 4 2 3-3 3 2 3 0 3 4 3-3 3 3 3 1 3 3 2-1 3 1 3-5 3 3 3-2 3-2 3 2 3-2 4-1 3 4 3-1 3 2 4 4 3 2 3 5 4-1 3 1 3 4 3 2 4 2 3 5 3 1 4-1 3 6 3 0 3 3 4 1 4 1 4-1 4-5 4-7 3-2 3-2 3-5 3 0 4-1 3 0 3-3 4 3 3-3 3-2 3 0 3 2 3 0 2-1 3 1 3-1 4 1 3-3 3 1 3 0 4 2 3-6 3 0 4-2 3 2 3-4 3 0 4 0 3-2 3-1 4 0 3-1 3 2 3 3 4 2 3 1 3-1 3 3 4 3 3 1 3 0 4-3 3 1 3-4 3-2 4-1 3 4 3-2 4 2 3-2 3 2 3-3 4 0 3 3 3-3 4-3 4 4 4 4" stroke="#ff8000"/><path d="M1990 490l4-5 3 1 3-2 3-2 4-3 3-3 3-3 3-2 4-2 3-2 3 0 3-4 3 4 3-1 3 3 3-3 3-3 2 1 3-3 3 0 3-2 3 4 3-2 3-3 3 1 3 1 3-1 3-1 3-2 3 0 4 1 3 0 4 0 4 1 3 1 3-6 4 0 3-4 3-2 4 5 4 3 4-2 3-5 3-3 4 0 3-1 3-2 3 0 4-5 3-2 3 0 3-5 3-3 3-4 4-1 3-7 3-1 3-7 3-1 4 3 4 9 4-1 4 3 4 15 4 9 5 5 4 2 3-1 3 5 3 2 3-1" stroke="#ff8000"/><path d="M2421 527l3 5 3 3 3 3 3 2 3 2 3-1 3 0 3 0 3 5 3-6 3 3 3 3 2-3 3-5 3 6 3-1 3 0 3 4 3-2 3-2 3 2 3-1 3-1 3 0 3 0 3-2 2 0 3 2 3-2 3-1 3 7 3-4 3 0 3-2 3 0 3-2 3-1 3-3 3 3 3-6 3 2 3-9 3 0 4-1 4-9 3-2 4 2 3-5 3 2 4-6 3 5 3 1 3 4 3 1 3 2 3 12 3 1 3 3 4 5 4 16 4-2 3 0 3 1 3 1 4 8 3-1 3 7 4-3 3-2 3 10 4-1 4 2" stroke="#ff6000"/><path d="M784 728l3-7 3-6 3-1 4-2 3-4 3-1 3-4 4-5 3 3 3-3 4-3 3-2 3 1 3-4 4-2 3 0 3 1 4-6 3 1 3-5 3-3 4 1 3-5 3-4 4-1 3-1 3-2 3-5 4-1 3-2 3-4 4-1 3-3 3-2 3-2 4 0 3-2 3-3 3-1 4 1 3-3 3-1 4-1 3-2 3 1 3-5 4 1 3-3 3 2 4-2 3-6 3 0 3 1 4-1 3-1 3-3 4 0 3-1 3-2 3 0 4-6 3 3 3-4 3 1 4-3 3-3 3 1 4-4 3-2 3-2 3 0 4-1 3 0 3-3 4 1 3-3 3-2 3 0 4 0 3-4 3-1 4-1 3-1 3-2 3 1 4-3 3 0 3-2 4 1 3 0 3-2 3 3 4-3 3 1 3-2 3-3 4 0 3 0 3-1 4-1 3-2 3-3 3 2 3-3 3 4 3-2 3-1 3 1 3 0 3-3 3-2 3 0 3-3 3 1 3 2 3-5" stroke="#ff4000"/><path d="M1140 572l3 1 3-2 3-1 3-2 3 0 3 0 3-5 2 0 3-2 3 4 3-1 3-1 3-4 3 2 3-1 3-1 3-1 3 1 3-2 3 1 3-1 2-2 3 0 3-1 3 1 3-2 3 0 3-1 3-3 3 3 3-3 3 2 3-1 3-4 3 1 2 0 3-1 3-1 3 2 3-2 3 0 3-2 3 1 3-2 3 1 3 1 3-1 3-1 3-2 2 3 3 0 3-1 3 0 3 2 3 3 3-3 3 1 3 1 3-4 3 5 3-1 3 4 3-2 2-1 3 1 3 0 3-1 3 1 3-2 3 2 3 2 3 2 3-1 3 0 3 2 3 0 3 2 2-1 3-1 3 1 3 0 3 0 3 0 3-1 3-2 3 2 3-3 3 3 3 0 3-3 3 3 2 0 3-2 3 2 3 0 3-6 3 3 3-1 3-1 3 0 3-3 3 0 3-1 3-1 3 1 2-2 3 0 3 2 3-1 3 0 3-4 3 2 3 0 3 2 3-1 3 3 3-2 3 1 3 0 3 1 2-1 3 3 3-1 3 0 3 0 3 1 3 1 3 0 3-1 3 0 3-1 3 2 3-2 3-3 2 5 3-3 3-2 3 1 3-1 3 4 3-3 3-4 3 2 3-2 3 3 3-6 3-2 3 2 2-1 3-1 3-4 3 3 3 1 3-6 3 4 3-3 3 3 3-3 3-1 3 1 3-2 3-2 2 2 3-2 3-2 3 5 3-4 3 0" stroke="#ff4000"/><path d="M2660 550l3 8 3-5 3 7 3 1 3 7 3 2 4 5 3 2 3 7 3 4 3 9 4-2 3 9 3-3 3-3 3-4 3 0 3-2 3 2 4 7 3-3 3 4 3-8 3-2 4-3 3-3 3-1 4 1 3 1 3 4 3 1 4 1 3-1 3-1 4-2 3 6 3-1 3-5 4 1 3 0 3-5 4 4 3-1 3-4 3 3 4 1 3 7 3 0 3 6 4 2 3 7 3-3 4-1 3-4 3-5 3-3 4-4 3-5 3 0 4-14 3 2 3-3 3-1 4-9 3 1 3-2 4 0 3 0 3 7 3 1 4 7 4 26 4 35 4-23 4-21 3 1 4-1 3 3 3 3 3-4 4 4 3-3 3 5 4 7 3-8 4 11 4 4 4 7 4 15 4-21 4-18" stroke="#ff4000"/><path d="M1495 578l3 1 2 3 3 4 3 1 3 2 3 2 3 1 3-3 3 4 3-3 4-2 3 0 3-1 3-2 3-4 4-1 3 2 3-7 4-8 4-4 3 0 3-1 3-3 3 3 3-3 3-2 3 1 3 0 3 1 3-1 3-2 3 1 3-1 3 1 3-4 3 0 3 3 3-4 3 1 2 0 3-1 3-1 3 2 3-6 3 5 3 1 3-3 3-1 3 1 3 1 3-4 3 1 3 0 2 0 3-1 3 1 3-2 3 0 3-1 3 0 3 0 3 0 3-2 3 4 3-3 3-2 3 3 2-3 3 2 3-1 3 0 3 0 3-2" stroke="#ff2000"/><path d="M3056 554l3 7 3 2 4 26 4 38 4-5 4-16 4 9 4 21 5-17 4-13 4-13 4-11 4 21 4 18 4-20 4-19 3 3 3 9 4-9 3 8 3 5 3 19 3 2 3 5 4 12 4 2 3-2 3 11 3-4 3 6 3-2 3-2 3-2 3-6 2 9 3-3 3 2 3-3 3-3 3-2 3 10 3 4 3-7 3 5 3 6 3-10 3 4 3-3 2 12 3-3 3-2 3-5 3 9 3 6 4-6 4 0 4-3 5-18 4-10 4-14 -4 51 -4 61 -5 75" stroke="#ff2000"/><path d="M380 638l4-7 4-12 4-1 4 0 5 4 4 3 4 8 4 5 4 2 4 5 4 0 4-2 4-16 4-4 5-9 3-5 3-9 4 9 3 5 3 11 4-1 4 6 4 2 4 6 3-4 3 2 3 1 3-5 3 3 3-2 3-3 3 0 3 0 2 0 3-2 3-1 3 1 3-2 3-1 3 1 3 1 2-4 3 1 3-1 3-1 3 2 3-3 3 3 3-5 3 1 3-2 3-1 3 1 3-2 3 0 2-2 3-2 3 1 3-1 3 0 3-3 3 0 3-3 3 2 3-3 3-2 3 2 3 1 3-5 2-1 3 0 3-1 3 1 3-3 3 0 3 1 3-3 3 0 3-3 3-1 3-2 4 4" stroke="#ff0000"/><path d="M1020 593l3 2 3 4 4-2 3 3 3 1 4-6 4-2 4-7 5-9 3 4 3-1 3-3 4-2 3 4 3-3 4 0 3 0 3-4 3 1 4-9 5-8 3-1 3-1 3 1 4-2 3-1 3-1 4 1 3-2 3 1 3 1 4-2 3 0 3-2 3 3 4-1 3-2 3-1 2 3 3-3 3-1 3 0" stroke="#ff0000"/><path d="M1140 546l3 2 3-2 3 0 3 2 3-3 3 1 3-3 2 2 3-1 3-2 3-1 3 4 3-6 3-1 3 0 3 3 3 0 3-3 3-2 3 0 3 1 2-3 3 3 3 0 3-2 3 0 3 0 3 1 3-4 3 3 3-3 3-1 3 1 3 0 3-2 2-1 3 1 3 3 3 1 3-3 3 1 3-3 3 0 3 1 3-3 3 0 3 1 3-1 3-1 3 1 3-3 3 1 3-4 4 2 4 3 3-1 3 0 3 0 3 2 3 0 3 1 3-5 2 1 3 0 3 0 3-1 3-1 3 1 3-1 3-3 3 4 3-1 3-3 3 2 3-2 3 2 2-2 3-1 3 0 3-1 3 1 3 0 3-1 3-1 3-5 3 6 3-4 3 3 3 1 3-1 2-1 3 1 3 1 3 0 3 0 3 0 3 4 3-2 3 1 3-3 3 0 3-1 3 1 3 0 2-1 3-2 3 0 3 4 3-3 3 0 3 3 3-1 3-1 3-1 3 4 3-3 3 0 3-1 3-1 2 1 3 4 3 0 3 0 3 0 3 0 3 2 3-1 3 3 3 1 2 3 3-3 3-2 3 0 3-4 3 5" stroke="#ff0000"/><path d="M3218 625l3-62 3-59 3-35 3-40 4 153 4 87 4-17 4 7 3-5 3 15 3 4 4 2 3-5 3-5 3-3 3-21 3 22 3 9 3 13 3 20 4 23 5 16 4-1 4-1 4-61 4-43 4-12 4-8 4 38 4 44 3-29 3-22 4-11 3-31 3 6 3 2 3 18 3 2 4 18 4 15 3-40 3-41 3-38 3-32 4 26 3 35 3 17 3 29 4-60 4-46 4 151 3-13 3-19 3-30 3-19 3-21 4 0 3-15 3 1 4 26 4 23" stroke="#ff0000"/><path d="M1843 563l3-6 3-2 3 2 3-1 3-4 3-7 3 1 3-6 3-2 3-6 3-4 3-4 3 0 4-4 3-9 3-2 3 0 4-7 3-3 3 1 3-2 3-2 3-2 3-2 3-2" stroke="#df0000"/><path d="M1900 503l3-2 3-2 3-3 3-3 3-2 3 0 3-1 3 2 3-5 3 2 3 3 3-4 3-2 3 1 3 1 2-2 3 0 3-1 3-2 3 5 3-5 3-2 3 0 3 1 3-1 3 0 3-2 4-3 3 2 3-2 4-1 3-3 3 0 3-2 4 0 3-3 3 2 3-1 4-2 3 0 3 1 4 3 3-4 3 5 3-1 4 3 3 4 3-1 3 3 4 4 4 11 4 6 4 9 3-1 3 4 3 6 3 1 4 2 3 3 3 0 3 5 3-1 3 2 3-2 2 3 3-1 3 3 3 0 4 1 3 1 3 1 3-3 4 6 3-1 3 2 3 0 4-1 3 2 3 2 4 2 3-3 3 0 3 4 4-3 3 4 3-3 4-1 3 3 3 1 3-4 4 5 3-3 3 3" stroke="#df0000"/><path d="M2660 558l3-4 3 4 3 2 3 5 3 4 3 5 4 3 3 5 3 7 3 8 3 10 4 4 3 7 3-11 3-10 3-11 3-5 4-15 5-6 3 6 3-1 3 4 3-1 3-1 3 4 4 2 3 5 3 4 4-8 3 0 3 0 3-1 4-3 3 3 3 1 3 0 4-4 3 3 3-6 4 5 3-7 3 1 3-2 4-3 3-4 3-4 4 6 3-6 3-1 3 4 4-6 3 0 3-2 4 4 3-1 3 0 3 0 4 2 3 4 3-6 3 6 4 1 3 2 3-4 4 6 3-4 3 2 3-1 4-6 3 0 3-7 4-1 3-2 3 1 3 0 4 0 3 5 3-4 4-3 3 2 3 1 3 2 4 0 3-2 3 6 4-5 3-2 3 0 4-13 4-8 4 2 4 5 5 3 4 20 3-1 3 0 4-7 3-7 3 3 3-7 3-6 3-2 3 0 3 5 4 3 3-1 3 13 4-1 4 11 4-9 4 0 4-46 4-43 4 17 4 20 5 9 4-2 4 2 4-13 4-2 4 6 3-31 3-27 3 19 3 23 3-2 4-4 3 6 3 4 4-6 4-2 4 34 4 29 4 18 4 20 4-25 3-25 4-21 3 15 3 38 4 7 4 28 4-26 4-17 4-24 4-23 4 44 5 31 3-41 3-42 4-36 4 56 4 55 3 8 3 22 4-22 4-17 4-11 5-6 4 10 4-2 4 13 4 13 3-39 3-19 3 16 3 15 3 2 3 13 3 12 4-4 3 5 3 14 3-2 3 4 3 7 3-4 3 0 3-3 3 6 4-1 3 0 3 2 4 7 3-4 3-6 3-7 4-25 3 5 4 12 4 11 3-11 4 13 3-7 3-6 4 2 3 6 3 6 3 14 4 4 3 4 3 2 4 1 3-7 3 10 3-13 4 12 3-6 3-10 3 3 4 4 4-56 4-54 4 55 4 59 4-50 4-23 3 6 4 7 3 7 3 9 4 10 4 2" stroke="#bf0000"/><path d="M3217 545l3-5 3 14 3-6 3 3 4 7 3 16 3-11 3 0 3 12 3 3 4 11 3-10 3 3 3 9 3 8 3 4 3 6 4-9 3 6 3 7 3-3 3-8 3-12 4-10 3 13 3 4 3 13 3-10 3 5 4-18 3-1 3-4 3 3 3 1 3 4 3 4 4 6 3 13 3 5 3 8 3 9 3-4 4 1 3 0 3-2 3-1 3-10 3 6 3-3 4-6 3-13 3-10 3-25 3-27 3-28 4 150 3-32 3-23 3-42 3-23 3 10 4 1 3 18 3 7" stroke="#bf0000"/><path d="M903 668l3-3 4-2 3-9 3 1 4-2 3-3 3-2 4-4 3-5 3-3 3-3 4-5 3-3 3 0 3 0 4-5 3-1 3-1 4 0 3-4 3 1 3-6 4 0 3-2 3 0 4-1 3-6 3 0 3 0 4-3 3-2 3 3 4-2 3-1 3-1 3 2 3-3 3 2 3-3 3 0 3 1 3-2 3 2 3-2 3-2 3 1 3-1 3 1 3-2 3 0 2 2 3 2 3 0 3-3 3 0 3 2 3-2 3-1 3 2 3 1 3-2 3-1 3 0 3 3 2-2 3 0 3 1 3 0 3-2 3 1 3-2 3 0 3-1 3 3 3-2 3-2 3 2 3 0 3 2 3-2 3 1 3 2 3 4" stroke="#9f0000"/><path d="M1140 590l3 1 3-1 3 2 3-5 3 5 3-3 3 1 2-1 3-2 3 2 3 0 3 2 3-3 3 4 3-1 3-1 3-1 3 0 3 0 3 1 3 1 2-1 3-3 3 1 3-2 3 1 3 2 3-3 3-2 3-3 3 0 3-1 3 3 3-3 3 1 2-2 3 1 3 1 3-4 3 0 3-1 3 1 3-2 3 0 3-1 3 0 3 3 3 4 3-6 2 4 3-1 3-2 3 2 3 0 3 0 3 4 3-6 3 3 3 0 3-1 3 1 3 1 3-1 2 0 3 0 3-4 3 5 3 1 3-2 3-1" stroke="#9f0000"/><path d="M1622 534l3 0 4-1 3-3 3 3 3 1 3 1 3 2 3 1 3 0 3 0 3-1 2 2 3 1 3 0 3 1 3-1 3 4 3 2 3-4 3 1 3 0 3 2 3-1 3 0 3 0 2 0 3-1 3 2 3-2 3 2 3-1 3 2 3-1 3 1 3-2 3 2 3-1 3 1 3 1 2 3 3-3 3 4 3-1 3 5 3-4 3 1 3-3 3 4 3-5 3 1 3-3 3-3 3 3 2 1 3-1 3 1 3-1 3 0 3 0 3 1 3 3 3-2 3 0 3-1 3 0 3 3 3-4 3 0 2 0 3-1 3 3 3-7 3 4 3-2 3-6 3-2 3-1" stroke="#9f0000"/><path d="M2339 461l3 1 3 4 3 2 3 4 3 1 3 1 3-1 3 6 3 4 4 0 3 2 3 4 3 6 3 1 4 4 3 4 3 5 3-3 4-1 3-1 3 2 4-1 3-6 3-6 3-3 3-3 3-4 3 1 3-3 3-2 4 7 4 5 3-7 3-4 4 1 3-14 4 6 4 8 4 7 4 9 3 1 3 6 3 4 3 2 3 1 3 7 4-1 3 7 3 0 2 3 3 4 3 2 3-3 3 7 3-2 3 0 4 4 3-2 3 5 4 3 3 2 3 5 3 1 4 4 3 0 3 5 4 0 3 2 3 3 3 2 3-4 3 0 4 3 3 2 3-5 3-2 3-4 3-6 3-1 4-3 3 0 3 0 3 2 4 1 3 1 3 1 3 3 4 0 3 0 3-1 4-2 3-2 3 3 3 0 3-2 3-1 3 7 3-8 3 1 3 1 3 1 3 8 3 9 3 2 3 4 3 5 3 3" stroke="#9f0000"/><path d="M380 637l3 0 4-1 3-1 3-1 3 3 3-5 4-2 3 1 3-1 3 4 3 0 3-2 3 0" stroke="#800000"/><path d="M610 654l4-1 4-9 4 7 4 0 4 6 4 0 4-1 3-3 3-1 3 2 4-3 3-2 3-2 4-2 3 1 3 0 3-2 3-2 3-3 3 0 3-2 3 0 3 0 2-5 3-2 3 0 3-2 3-1 3 0 3-3 3 2 3-2 3 0 3-1 3-1 3-1 3 0 3-2 2 0 3-1 3-3 3 1 3-4 3 0 3 0 3-4 3 3 3-1 3-1 3-2 3 0 3-2 2 1 3-1 3 1 3-2 3 2 3-1 3 0 3-1 3 1 3-4 3 3 3 0 3-1 3 0 2-3 3 0 3 0 3-1 3-1 3-3 3 1 3 0 3-1 3-2 3-4 3 2 3-3 3-2 3 6 3-1 3 2 3 2 3 4 4-1 3 2 3 4 4 1 3-1 3 2 3 0 4 2 3 5 3 3 4 3 3 5 3 0 3 4 4 4 3 2 3 3 4 1 3 1 3 3 3-1 4 1 3 5 3 1 3 3 4-1 3 4 3 1 4 2 3-1 3 5 3 3 4 1" stroke="#800000"/><path d="M1988 489l3-1 3-3 3-2 3 2 3 0 3 2 3 1 3 3 3 2 3 3 3 2 4 1 3-2 3 2 4 2 3-1 3 1 3 4 4-2 3 1 3-2 3 1 4-3 3 3 3 3 4 3 3 1 3 1 3 0 4 0 3 2 3 2 4-2 3 4 3-1 3 1 3 3 3 1 3 3 3 5 3 0 3 3 4 3 3 1 3-1 4 4 3-1 3 0 3 1 4-2 3 1 3 2 4 0 3-1 3 0 3 1 4 0 3-1 3 2 4-2 3 0 3 1 3 0 4 1 3 4 3-2 3 0 4 3 3 3 3-1 4 3 3-1 3 0 3 1 4 1 3 4 3-3 4 5 3-4 3 2 3 3 4 0 3-2 3-4 3 1 3-3 4-3 4-12 3-8 3-10 3-7 3-10 4-2 3-7 3-4 3-7 3-1 3 0 3-5 3-3 3 3 3-1 3 1 3 3 3-1 4 4 3-1 3 5 3-2 3-4 3-1 3-3 3 1 4 1 3-4 3 3 3-4 3 4 4 2 3 9 3 0 3 3 3 2 3 5 3-1 3 5 3 5 3-1 3 2 4 4 3 0 3 4 3 3 4 2" stroke="#800000"/></g></g><g clip-path="url(#c1)"><g transform="scale(0.5)" fill="none" stroke-width="4" stroke-linejoin="round"><path d="M507 1064l2 6 2 4 2-8 3 2 2 3 2-20 2 11 2 4 2-23 2 30 2-6 2-10 3-7 2 10 2 10 2-6 2 11 2 1 2-18 2 35 2-19 3-1 2-11 2 1 2 6 2-3 2-13 2 17 2 6 3-13 2 10 2-9 2 5 2 10 2-16 2-2 2 6 2 4 3-22 2 20 2 0 2-2 2 2 2 0 2-14 2 20 2-16 3 6 2 14 2-8 2-8 2 1 2 5 2-1 2-13 2 7 3 1 2-8 2 14 2-2 2-8 2 7 2 0 2-6 2-30 3 27 2 4 2 5 2-4 2 7 2 0 2 1 2-7 2-10 3 8 2 7 2-5 2 4 2-8 2 6 2 4 2-1 2 6 3-7 2 0 2-2 2-2 2-8 2 5 2 4 2 3 2 4 3-7 2 12 2 1 2-14 2 8 2-12 2 4 2 2 2-11 3 18 2-4 2-3 2-14 2 24 2-11 2-9 2 17 3-10 2 31 2-26 2-2 2-11 2-2 2 13 2-1 2 16 3-20 2 17 2-29 2 2" stroke="#0000bf"/><path d="M628 1065l6-53 7 53" stroke="#0000bf"/><path d="M799 1065l7-41 6 41" stroke="#0000bf"/><path d="M613 1065l5 34 5-34" stroke="#0000bf"/><path d="M927 1070l3-3 2 6 2-7 2 1 2 1 2-2 2-8 2 2 2 12 3 2 2-10 2 10 2-14 2 7 2-19 2 19 2-2 2 11 3-5 2-1 2-16 2-13 2 22 2 0 2-2 2 5 3-12 2 15 2-13 2 26 2-18 2 0 2-3 2 9 2-3 3-12 2 15 2-2 2-4 2-19 2 22 2 4 2 1 2-26 3 23 2-8 2 14 2-9 2-2 2-2 2 1 2 3 2 5 3-5 2-1 2 2 2 5 2-15 2 13 2-4 2-1 2 6 3-10 2 10 2-12 2 22 2 0 2-16 2 0 2 0 2-10 3 6 2-2 2 2 2-1 2 0 2-3 2 4 2 9 2-5 3-3 2 3 2 0 2 2 2 4 2-15 2 11 2 14 2-14 3-35 2 50 2-37 2 25 2 9 2-37 2 26 2-18 2 18 3-1 2-19 2 20 2-8 2-1 2 7 2 6 2-12 3 11 2-4 2 3 2-13" stroke="#0000df"/><path d="M1140 1069l2-9 2 5 2 7 2-7 3 2 2-1 2 7 2-9 2-5 2 7 2 1 2-11 2 7 3-14 2 10 2 11 2-8 2 9 2 0 2-8 2 17 2-11 3-19 2 18 2-6 2 0 2 3 2-6 2 11 2 2 2-12 3 7 2 3 2-5 2-3 2 3 2-5 2 7 2-7 2-5 3 9 2-1 2 1 2 4 2 1 2-7 2 9 2-5 3 1 2-10 2 8 2 3 2-2 2 10 2-8 2-5 2 6 3-1 2-12 2 12 2-4 2-21 2 31 2-8 2-6 2 1 3 3 2-2 2 10 2 4 2-4 2-15 2 13 2-8 2 13 3-18 2 4 2-2 2-11 2 15 2-6 2-19 2 36 2 4 3-17 2 3 2 5 2-6 2 0 2 4 2 10 2-31 2 19 3 9 2-14 2-2 2 9 2-7 2 16 2-14 2-13 2 12 3 7 2-2 2-3" stroke="#0000df"/><path d="M1964 1063l2 3 2 2 2-1 2-9 2 9 2 4 2-3 2-2 3-14 2 13 2-7 2-1 2 7 2-2 2 10 2-6 2 7 3 0 2-8 2-6 2 15 2 5 2-20 2 7 2 6 2-15 3 7 2-3 2-5 2 16 2-1 2-17 2 13 2-3 3 0 2 5 2-1 2 5 2-8 2-2 2 20 2-23 2 9 3-4 2 11 2-9 2 7 2-10 2 3 2-12 2 17 2-7 3-13 2 16 2-10 2-14 2 30 2-9 2 1 2-1 2-5 3 0 2 8 2-4 2-12 2 17 2 1 2-6 2 2 2 2 3-7 2-8 2 16 2 3 2-6 2-1 2-8 2-5 2 13 3-2 2 1 2 26 2-26 2-2 2 5 2-3 2 2 2-10 3 9 2-1 2 7 2-9 2 3 2 6 2-6 2 4 2-2 3 1 2-3 2-1 2-4 2 5 2-8 2 2 2 19 2-11 3 7 2-16 2 20 2-9 2-5 2 8 2-18 2 14 3 5 2-1 2-6 2-1 2-1 2 10 2-3 2-3 2 8 3-2 2-7 2 0 2-5 2-13 2 22 2-10 2 18 2-9 3 6 2 0 2-5 2-7 2-3 2-5 2-1 2 12 2-8 3 5 2-1 2 0 2 6 2-15 2 13 2 7 2-9 2-1 3 0 2 0 2-15 2 16 2-4 2 1 2 2 2 0 2-7 3 12 2-8 2 5 2-3 2-20 2 23 2-6 2 6 2 3 3 2 2-14 2-8 2 12 2 6 2-13 2 11 2 0 2-7 3 25 2-21 2 4 2-5 2 6 2 4 2-7 2 0 2 2 3 1 2-13 2 17 2-8 2 3 2-22 2 5 2 12 3 4 2 0 2 7 2-8 2-5 2 2 2 6 2 3 2-5 3 14 2-15 2-2 2 26 2-27 2 6 2-3 2-1 2-5 3-10 2 15 2 3 2-5 2 1 2 5 2-10 2 15 2 11 3-13 2-7 2-17 2 20 2 6 2-12 2-15 2 30 2-12 3 2 2-2 2 4 2 1 2-9 2 15 2-11 2 3 2-2 3-10 2 8 2 0 2 3 2-2 2 3 2 0 2-7 2 5 3-3 2 3 2 1 2-4 2 6 2-8 2 5 2 5 2-6 3-4 2 10 2-2 2-2 2 4 2-6 2-3 2 5 2 13 3-11 2-5 2 2 2 1 2-4 2-11 2 15 2 3 3-7 2 9 2 1 2-8 2 6 2-8 2 7 2-3 2 2 3 3 2-2 2-5 2 7 2-8 2 3 2 3 2-9 2 10 3-15 2 10 2-4 2-20 2 25 2-3 2 15 2-17 2 16 3-7 2-10 2 3 2 6 2 7 2-1 2-15 2 10 2 1 3 21 2-27 2-3 2-10 2-4 2 24 2 9 2-14 2 2 3 8 2-18 2 9 2-7 2 8 2 2 2-2 2-6 2 5 3-9 2 8 2-4 2 5 2-6 2 4 2-21 2 19 2 3 3-4 2 6" stroke="#0000df"/><path d="M2660 1074l2-22 2 32 2 6 2-20 3 1 2-13 2 4 2 12 2-10 2 7 2-11 2 12 2-6 3-12 2 13 2 6 2-11 2 1 2 3 2 6 2-10 2-10 3-7 2 26 2-12 2-7 2 14 2 3 2-21 2 19 2 3 3 0 2-4 2-4 2 4 2 0 2 5 2-4 2-21 2 24 3 6 2-3 2-9 2-9 2 28 2-10 2-17 2 19 3-11 2 1 2 5 2-9 2 11 2 3 2 4 2-29 2 22 3 3 2-7 2 5 2-7 2 14 2-8 2-11 2 3 2-10 3 24 2-15 2 2 2 4 2-2 2-11 2-18 2 25 2 0 3 16 2 7 2-22 2 16 2-39 2 35 2 0 2-12 2 1 3-3 2-1 2 7 2 3 2-6 2 9 2-9 2-7 2 19 3-14 2 23 2-27 2 2 2-3 2 1 2 2 2 2 2 5 3 6 2-24 2-1 2 19 2-19 2 14 2 10 2 7 2-12 3 0 2 4 2-3 2 3 2-63 2 78 2-31 2 22 2-12 3 7 2-12 2-4 2 10 2-4 2-6 2 18 2-46 3-2 2 38 2 20 2-25 2 1 2 6 2 26 2-16 2 6 3-15 2 9 2-12 2-7 2-1 2-29 2 20 2 25" stroke="#0000df"/><path d="M819 1052l2 9 2 10 2-1 2-19 2 17 2-3 3-5 2 3 2 15 2-13 2 0 2 0 2 8 2-22 2 14 3-2 2-2 2 8 2 12 2-17 2-8 2 1 2 1 2 12 3-13 2 18 2-7 2-9 2 15 2-13 2-1 2-4 3 2 2 4 2 9 2 2 2 2 2-7 2-1 2-23 2 14 3 16 2-9 2-5 2 6 2-1 2-7 2-2 2 15 2-11 3 6 2 15 2-13 2-11 2 13 2 1 2-19 2 14 2-10 3 12 2 8 2-20 2 11 2-13 2 9 2-4 2 8 2-5 3-2 2 3 2-8 2 1 2 8 2-10 2 8 2-6 2 16 3-4 2 3" stroke="#0000ff"/><path d="M1249 1071l2-2 2 3 2-33 2 8 2 14 2 2 2 8 3-3 2 4 2-5 2 7 2 8 2-6 2-10 2 5 2 5 3-15 2 0 2-8 2 7 2-7 2 10 2 2 2 1 2 1 3 16 2-21 2 5 2-5 2-8 2 6 2 5 2-1 2-7 3 12 2-5 2 0 2 0 2 4 2-3 2 0 2-5 3-9 2 26 2-17 2 5 2-2 2 2 2-5 2 6 2 0 3-2 2-14 2 16 2 0 2-1 2-26 2 32 2-7 2 0 3-7 2 10 2-3 2 5 2-3 2 9 2-7 2-2 2 2 3-2 2 2 2 1 2-2 2-4 2 1 2-16 2 24 2-12 3 15 2-6 2 14 2-18 2 19 2-8 2-13 2 0 2 11 3-10 2 2 2-8 2 6 2 1 2-21 2 24 2-2 2-5 3 1 2 16 2 7 2-17 2-18 2 26 2 6 2-27 2 17 3-5 2-9 2 8 2 12 2-12 2-4 2 9 2-3 2-1 3 18 2-22 2 11 2-5 2-3 2-5 2 13 2-23 3 14 2 6 2-1 2-5 2 9 2-3 2-19 2 6 2 6 3-3 2 12 2-5 2 15 2-19 2 26 2-17 2-34 2 35 3-27 2 18 2 0 2 7 2-6 2 1 2-5 2-15 2 20 3 14 2-30 2 14 2 1 2-5" stroke="#0000ff"/><path d="M2739 1060l3-67 4-182 3 110 2-38 3 240 4-63" stroke="#0000ff"/><path d="M3043 1055l2-240 3 58 2 288" stroke="#0000ff"/><path d="M3182 1065l4 211 4-211" stroke="#0020ff"/><path d="M798 1068l2-5 3 3 2 2 2-15 2 17 2-4 2 2 2-8 2 3 2-7 3 12 2-9 2 4 2 10 2-4 2-10 2 7 2 5 2 1 3-4 2-5 2 9 2-1 2-13 2 10 2-5 2-4 2 2 3 2 2 3 2-4 2 5 2-6 2 1 2 11 2 15 2-25 3 2 2-1 2-1 2 2 2 7 2-8 2 4 2-3 2 15 3-28 2 18 2-27 2 17 2 6 2-2 2 5 2 15 2-19 3 10 2-5 2 6 2-12 2-1 2-11 2 17 2-10 2 5 3 20 2-17 2-19 2 14 2 1 2-1 2-10 2 13 3 7 2 5 2-13 2 6 2-16 2-5 2 15 2 0 2 8 3-12 2 6 2-5 2 5 2-6 2 12 2-23 2 14 2 4 3-1 2 3 2-4 2-8 2 8 2 2 2-2 2 1 2 0 3-1 2-3 2 0 2 18 2-26 2 13 2-1 2-1 2-9 3 22 2-19 2 4 2 2 2 1 2-1 2-3 2-3 2-4 3 9 2 1 2-9 2 29 2-29 2 9 2 7 2-10 2 7 3-4 2 0 2-15 2-11 2 27 2-3 2 0 2 8 2-5 3 5 2 2 2-6 2 12 2-9 2 0 2-5 2 1 2 7 3-32 2 20 2 2 2 0 2-1 2 8 2-8 2 5 3 3 2-2 2-9 2 7 2-8 2-18 2 14 2 11 2-1 3 0 2 10 2-13 2-1 2 10 2-3 2-4 2-11 2 15 3-10" stroke="#0040ff"/><path d="M2400 1069l2-21 3 17 2-6 2 2 2-3 2 10 2 11 2-21 2 5 2 4 3 1 2-3 2-10 2 15 2-16 2 12 2-7 2 9 2-5 3 1 2-6 2-11 2 16 2-2 2 6 2 2 2-6 2 8 3-2 2-5 2 9 2-1 2-9 2 2 2 7 2-8 2-3 3 4 2 7 2-2 2-9 2 10 2-23 2 8 2 13 2-1 3-21 2 11 2-13 2 17 2 3 2 2 2 4 2-8 2-2 3 1 2 5 2-5 2 0 2 4 2 8 2-29 2 18 3 0 2 12 2-11 2 1 2 1 2-3 2-7 2-1 2 18 3 0 2-6 2-5 2 10 2-2 2-2 2-3 2-11 2 9 3 2 2 0 2-2 2-2 2 4 2-2 2-3 2 7 2 0 3 8 2-4 2-8 2-7 2 10 2-2 2-2 2 4 2-6 3 13 2 0 2-26 2 15 2 25 2-22 2-9 2 0 2-7 3 17 2 10 2-21 2-10 2 30 2-6 2-1 2 0 2-12 3 12 2 14 2-22 2 5 2-7 2 4 2-17 2 20 2 0 3-16 2 23 2-5 2-23 2-3 2 18" stroke="#0040ff"/><path d="M2660 1061l2 4 2 18 2-14 2-2 3-4 2 2 2 4 2-4 2-1 2-11 2 6 2-2 2 12 3-4 2-9 2 16 2 2 2-11 2 6 2-2 2-3 2-7 3 10 2 5 2-2 2-13 2 18 2-15 2-24 2 28 2-3 3 0 2-4 2-4 2 7 2 3 2 4 2 7 2 1 2-8 3-9 2 8 2-2 2-4 2 6 2-13 2 3 2 7 3 3 2-15 2 15 2-1 2 13 2-14 2-3 2 2 2 0 3-32 2 40 2-23 2-10 2 29 2-3 2 7 2-6 2-10 3-5 2 11 2-17 2 29 2-12 2 4 2 22 2-6 2-16 3 17 2-21 2 13 2-9 2 3 2 6 2-11 2 7 2-13 3 1 2 8 2-4 2-14 2 16 2-5 2 15 2-9 2-3 3-2 2-1 2-5 2 5 2 4 2-13 2 13 2-15 2 18 3 1 2 0 2 8 2 7 2-3 2 1 2-22 2-4 2-9 3 19 2-47 2 31 2-1 2 1 2-14 2 45 2-3 2-14 3 3 2 4 2-10 2 6 2 0 2 0 2 15 2-29 3 54 2-33 2-12 2 6 2 3 2 7 2-19 2-28 2-12 3 41 2 9 2-38 2 14 2 24 2-29 2 17 2 37 2-38 3-9 2 27 2-26 2 34 2-23 2 5 2 30 2-36 2-8 3-17 2 25 2 11 2-9 2 4 2-7 2 25 2-49 2 53 3-46 2 25 2 20 2 24 2-48 2-1 2 0 2 26 2-12 3 12 2-34 2-1 2 13 2 5 2-80 2 87 2 79 2-98 3 10 2 39 2-35 2-51 2 37 2 12 2-7 2 3 2 13 3 23 2-19 2 1 2-57 2 41 2 3 2 141 2-162 2 36 3-40 2 17 2-42 2 47 2-49 2 54 2 17 2-110 3 112 2 28 2-28 2-20 2-4 2 23 2-28 2-121 2 124 3-5 2 18 2-2 2-4 2-20 2 1 2-16 2 26 2 5 3-5 2-94 2 103 2-26 2-8 2 31 2 33 2-85 2 54 3 121 2-185 2 61 2 124 2-160 2-7 2 91 2-49 2-24 3-5 2 41 2-4 2-29 2 17 2-44 2 18 2 57 2-85 3 51 2-9 2 19 2 92 2-37 2-31 2-46 2 51 2-42 3 84 2-113 2 91 2-10 2 47 2-6 2-79 2 17 2-16 3 77 2-28 2-73 2 50 2-30 2 14 2 33 2-44 2-142 3 128 2-8 2 6 2 37 2-72 2 90 2-80 2 20 3 125 2-89 2-17 2 19 2-28 2-5 2-52 2 17 2 93 3-42 2 47 2 49 2-151 2 47 2 88 2-63 2-74 2 41 3-115 2 170 2-61 2 31" stroke="#0040ff"/><path d="M3150 1071l3-10 2 55 2-56 2 33 2-27 2-3 2 45 2-2 3-15 2-20 2-6 2-17 2 37 2-26 2 5 2 1 2 24 3-34 2 15 2-16 2-19 2 42 2-14 2-20 2 1 2 2 3 72 2-114 2 53 2 20 2-32 2 11 2 12 2 19 2-23 3 5 2-22 2 4 2 10 2 26 2 86 2-128 2 46 2-47 3 44 2-14 2-2 2 70 2-47 2-42 2 36 2-10" stroke="#0040ff"/><path d="M1610 1055l13-19 13-5 6-9 4-10 2 39" stroke="#0040ff"/><path d="M3193 1101l2-110 2 74 2 18 3 17 2-29 2-2 2 5 2 41 2-41 2-5 2-41 2 24 3-82 2 89 2-65 2 44 2 46 2-27 2-19 2 12 2 67 3-48 2 53 2-71 2-48 2-35 2 67 2 8 2-10 2 33 3-7 2 2 2 10 2 3 2-88 2 49 2 86 2-29 3-79 2 59 2-30 2 25 2 4 2 6 2 43 2-81 2 43 3 6 2-100 2 75 2-51 2 56 2 23 2-49 2 37 2-49 3 44 2 3 2-6 2-7 2 1 2 5 2-13 2 36 2-103 3 83" stroke="#0060ff"/><path d="M2409 1065l4 62 4-62" stroke="#0060ff"/><path d="M3246 1065l3 216 4-216" stroke="#0060ff"/><path d="M1653 1067l2-2 2 2 2-3 2-6 2-1 2 6 2-1 3 5 2-1 2 12 2-7 2-1 2-7 2 0 2 16 2-10 3-7 2-3 2 4 2 2 2 15 2-15 2-32 2 38 2-2 3-9 2 0 2 0 2 6 2 15 2-20 2-6 2 9 2 2 3 6 2-4 2-3 2-4 2 12 2-8 2 17 2-18 2 1 3 0 2 4 2 3 2-15 2-4 2 11 2-11 2 13 2 0 3 1 2 7 2-7 2-1 2-4 2 6 2-2 2-5 2 4 3-1 2 2 2 4 2-4 2-2 2-6 2 9 2 5 2 8 3-32 2 16 2-5 2 1 2 4 2 6 2-5 2 9 2-10 3-9 2 11 2-1 2 3 2-9 2-2 2 7 2 2 3 6 2-8 2 6 2-2 2-1 2 2 2-7 2 2 2-6 3 3 2-1 2 9 2-5 2-6 2 4 2 6 2-6 2 3 3-2 2-4 2 6 2 0 2 0 2-2 2-7 2 9 2-2 3 0 2-3 2 14 2-10 2 9 2 7 2-9 2-24 2 17 3-3 2 3 2-1" stroke="#0080ff"/><path d="M3192 1052l2 24 2-36 2 43 2 1 2-17 2-6 2-5 2 72 3-57 2-2 2 2 2-23 2 129 2-208 2 105 2 24 2-18 3 47 2-45 2-18 2 183 2-243 2 50 2 21 2-11 2 35 3-34 2 48 2 17 2-23 2-70 2 52 2-42 2 28 2-5 3-14 2 38 2-17 2-5 2 17 2-31 2-26 2 24 2-18 3 70 2-51 2 36 2-55 2 41 2-29 2 41 2-9 3 33 2-52 2 2 2 35 2-21 2-68 2 48 2-57 2 87 3-42 2 46 2-54 2 59 2-31 2 15 2 6 2-38 2-2 3 23 2-23 2 111 2-71 2 13 2-70 2 126 2-138 2 96 3-54 2 12 2-4 2 2 2-8 2-6 2 10 2 29 2-12 3-6 2-15 2 8 2 13 2-23 2 8 2 138 2-134 2-42 3 10 2 66 2-44 2-141 2 148 2 16 2-59 2 27 2-2 3 14" stroke="#0080ff"/><path d="M3157 1065l4-235 3 235" stroke="#0080ff"/><path d="M3243 1065l4-216 4 216" stroke="#0080ff"/><path d="M381 1071l2-8 2-2 2 2 2-3 3 4 2 1 2-19 2 21 2 4 2-6 2-1 2 3 2-14 3 14 2 3 2-5 2 4 2-6 2 5 2-1 2-4 2 0 3 14 2-13 2 0 2 3 2 0 2-3 2-3 2 0 2-2 3 6 2 4 2-7 2 9 2 11 2-10 2 5 2-11 3 0 2-15 2 8 2 0 2 3 2 8 2 1 2-11 2 1 3 16 2-11 2 2 2-4 2 2 2-1 2-1 2-3 2-4 3 8 2 1 2-8 2 23 2-20 2 16 2-9 2-13 2 13 3 9 2-5 2-20 2 14 2 1 2-11 2 3 2 10 2 4 3-16 2 9 2-1 2 6 2-5 2-9 2-1 2 14 2-7 3 9 2-7 2-4 2 7 2-4 2 6 2-2 2-5 2 4 3 2 2-2 2-6 2 5 2-2 2 4 2-5 2 15 2-2 3-7 2-9 2 11 2-5 2-24 2 27 2 2 2-3 2-3 3-8 2 23 2-15 2 18 2-40 2 22 2-2 2 5 2-3 3-6 2 14 2-4 2-1 2-8 2-3 2 4 2 8 3-2 2-5 2 4 2 1 2-28" stroke="#009fff"/><path d="M2556 1061l2 16 2-2 2-10 3 1 2-3 2 1 2-8 2 32 2-22 2 16 2-6 2-19 3 5 2 4 2-3 2 6 2-4 2 7 2 9 2-10 3-11 2 8 2-6 2-8 2 19 2-12 2 5 2-3 2-10 3 6 2-1 2 14 2-14 2-12 2 5 2 8 2-2 2 7 3-13 2 9 2 16 2-9 2 8 2-22 2 44 2-32 2-4 3 5 2-13 2 15 2-1 2 3 2-14 2 7 2-2 2 3 3 2 2 25" stroke="#009fff"/><path d="M2660 1064l2-1 2 14 2-19 2 5 3 5 2-6 2-5 2 19 2 6 2-36 2 14 2-6 2 7 3 14 2-29 2 10 2 18 2-11 2 0 2 25 2-21 2-1 3 10 2-6 2-1 2 6 2 3 2-12 2 3 2 10 2 0 3-27 2 11 2 10 2-9 2 7 2-2 2-1 2 5 2-10 3 1 2 1 2 2 2 2 2-2 2-5 2 7 2-4 3 1 2-13 2-4 2 14 2 20 2-28 2 13 2-9 2 6 3 5 2-1 2 26 2-30 2 2 2 7 2-18 2 7 2-4 3 0 2 2 2-1 2-19 2 25 2-13 2 13 2-7 2 10 3-13 2 12 2 1 2 1 2-4 2 4 2 5 2-7 2-3 3-14 2 12 2 1 2-5 2 8 2 13 2-4 2-21 2 19 3 7 2-2 2-13 2-3 2 15 2-6 2-9 2 0 2 27 3-27 2 1 2-3 2 5 2 0 2-4 2-2 2 6 2 7 3-27 2 17 2-6 2 6 2-46 2 60 2-73 2 81 2-22 3 7 2-10 2 12 2-9 2-8 2 22 2-21 2 50 3-67 2 25 2-37 2 39 2 7 2-14 2 7 2 6 2-4 3-19 2 27 2 7 2 20 2-44 2 18 2-4 2-16 2 44 3-50 2 17 2-12 2-5 2 18 2-13 2 6 2 8 2-17 3 15 2 17 2-17 2 8 2-12 2 0 2-5 2-18 2 21 3 29 2-11 2-23 2 32 2-41 2 33 2-26 2 13 2-7 3 20 2-21 2 5" stroke="#009fff"/><path d="M1140 1058l2 14 2 1 2-12 2 23 3-21 2 6 2-11 2 6 2 5 2-5 2-2 2-3 2 23 3-27 2 4 2 10 2-5 2 1 2-1 2 5 2-14 2 7 3 2 2-11 2 14 2-2 2-2 2 1 2 3 2-3 2 2 3-4 2 5 2-1 2-2 2 6 2-6 2-6 2 4 2 3 3 7 2-8 2 2 2 1 2-5 2-13 2 16 2 5 3-7 2 3 2-7 2 2 2 6 2-7 2 5 2-3 2 14 3-8 2-10 2 24 2-19 2-8 2 4 2 12 2 1 2-5 3 9 2-12 2-1 2 0 2-4 2 8 2 17 2-14 2-10 3 11 2 2 2-10 2 1 2-8 2 4 2-2 2-2 2 28 3-31 2 15 2 6 2-18 2 12 2 4 2-8 2-5 2 8 3-9 2-8 2 15 2 4 2-1 2 3 2-5 2 0 2 2 3-2 2 2 2-10 2-2 2 10 2 7 2-5 2-5 2-15 3 13 2 15 2-9 2 9 2-12 2 2 2 0 2 2 2 6 3-13 2 6 2 8 2-5 2 7 2-19 2 13 2-17 3-4 2 22 2-12 2 9 2-7 2-11 2 14 2 4 2-6 3 1 2 5 2-4 2 0 2 1 2 1 2-12 2 8" stroke="#00bfff"/><path d="M1900 1064l2 2 2-4 2 12 2-20 3 6 2 2 2-5 2 9 2 2 2-7 2 5 2 9 2-10 3-4 2 4 2 7 2-13 2-17 2 23 2 2 2 2 2-1 3-11 2 15 2-4 2-5 2 4 2-8 2 1 2 14 2-10 3 19 2-26 2 0 2 10 2 8 2-12 2-5 2 4 3 7 2-5 2-3 2 3 2-1 2 5 2 2 2-12 2 9 3 1 2 5 2-17 2 16 2-5 2 3 2-12 2 10 2-3 3-4 2 12 2-8 2-9 2 2 2-1 2 11 2-1 2 6 3-17 2 28 2 2 2-14 2-5 2-8 2 5 2 0 2 13 3-15 2-4 2 20 2-18 2 5 2 2 2-6 2 11 2-6 3-3 2 2 2 0 2 1 2 2 2-12 2 15 2-11 2 8 3 8 2-15 2 4 2-2 2 2 2-5 2-2 2 8 2-7 3 0 2 6 2-12 2 24 2-12 2 0 2 6 2 2 2-9 3 17 2-26 2-24 2 42 2-2 2-12 2-1 2 6 3 0 2-3 2 6 2-5 2 8 2-4 2-9 2 9 2-1 3 1 2 1 2 13 2-19 2-6 2 3 2 8 2 3 2-7 3 3 2-1 2 2 2-6 2 5 2 9 2-8 2-3 2-8 3 12 2-4 2 4 2-2 2-10 2 10 2 2 2-1 2 0 3-2 2-12 2 6 2 14 2-8 2-12 2 9 2 19 2-7 3-10 2-7 2 4 2 1 2 0 2 5 2 0 2 1 2-15 3 16 2 5 2-10 2-10 2 12 2-1 2 0 2-1 2 7 3 8 2-13 2 7 2-8 2-4 2 4 2 7 2-2 2 0 3-11 2 5 2 9 2 4 2-16 2 4 2 8 2-6 3 5 2-9 2 0 2-8 2 10 2 3 2-2 2-4 2-8 3 13 2-11 2 9 2 4 2-5 2-18 2 12 2 1 2 4 3 0 2 5 2-4 2 1 2 2 2-18 2 23 2-2 2-7 3 19 2-17 2 8 2-6 2-9 2 8" stroke="#00bfff"/><path d="M1145 1065l5 43 5-43" stroke="#00bfff"/><path d="M401 1058l2 13 2-4 2-2 2 11 2-9 2-6 2 0 2 10 3-3 2 0 2-5 2 9 2-26 2 27 2-8 2-3 2-9 3 11 2-6 2 7 2 4 2-3 2-2 2 1 2-4 2 4 3 1 2-1 2 0 2 21 2-19 2-3 2-2 2 4 2-5 3 4 2 2 2 2 2-9 2-5 2 7 2 7 2-7 2 3 3-10 2 33 2-27 2 4 2-7 2 6 2 23 2-25 2 3 3 4 2 3 2-6 2-2 2 1 2 18 2-12 2-8 2 1 3-3 2 5 2 3 2-9 2 9 2 7 2-9 2-1 2 4 3-18 2 17 2 3 2-9 2 9 2-4 2-2 2 2 3-5 2 9 2-9 2 10 2-9 2-16 2 12 2-7 2 11 3 7 2-4 2-6 2 11 2-9 2 4 2-12 2 12 2 0 3 1 2-3 2-12 2 12 2-3 2 3 2 9" stroke="#00dfff"/><path d="M1900 1087l2-24 2 5 2-12 2 18 3-6 2 5 2-17 2 3 2 6 2 0 2-12 2 11 2 5 3 0 2-1 2 7 2-11 2 5 2-2 2-1 2-3 2 1 3 1 2-3 2 2 2 2 2-14 2 11 2 11 2-10 2 6 3-5 2 1 2 14 2-13 2-7 2 9 2 1 2 8 3-12 2 9 2-26 2 12 2 4 2-5 2 16 2-6 2-9 3 4 2 14 2-11 2-16 2-29 2 43 2 3 2-21 2 18 3 14 2-19 2 0 2 10 2-7 2 3 2 1 2-8 2 17 3-16 2 6 2 1 2-10 2 7 2 2 2-10 2 9 2 5 3-6 2 6 2-2 2-9 2 7 2-6 2 16 2-13 2 12 3-3 2-5 2 17 2-20 2 16 2-19 2 28 2-23 2-5 3 3 2 0 2-5 2-1 2 3 2 9 2-11 2 7 2-18 3 19 2-11 2 9 2-10 2 4 2 0 2 20 2-21 2 8 3 1 2-1 2-12 2-3 2 27 2-16 2-2 2 0 3 34 2-28 2-3 2 5 2 8 2-12 2 13 2-9 2 4 3-10 2 11 2-19 2 12 2-6 2 8 2 13" stroke="#00dfff"/><path d="M616 1056l2 6 2 6 2 9 2-10 2-6 2-4 3 14 2-16 2 15 2 9 2-7 2 10 2-13 2-8 2 4 3-5 2 14 2-13 2 11 2-5 2-13 2 8 2 0 3 1 2 4 2-4 2 3 2-6 2 3 2-6 2 2 2 0 3 15 2 8 2-16 2-13 2 11 2 0 2-5 2 4 2 10 3-8 2-7 2 2 2 16 2-43 2 32 2 3 2-2 2-12 3 3 2 10 2-4 2 12 2-15 2 15 2-13 2 5 2 4 3 1 2-22 2 19 2-4 2 6 2-6 2-5 2 9 2-7 3 5 2 5 2-12 2 7 2-4 2-10 2 9 2 5 2-3 3-3 2 8 2-17 2 17 2 10 2-14 2 0 2 6 2-6 3 3 2-8 2 5 2 0 2 7 2-19 2 16 2-5 2-3 3 4 2 2 2-4 2-1 2 10 2-3 2 1 2 11 3-17 2-32 2 36 2-14 2 12 2-10 2 18 2-7 2-8 3-3 2 4 2 3 2 5 2-21 2 17 2-4 2 6 2-12 3 10 2-2 2 10 2-6 2 8 2-7 2-3 2 4 2 20 3-22 2-5 2 5 2-5 2 5 2-2 2 4 2 6 2-13 3 4 2-5 2 1 2-8 2 13 2 2 2 1 2-4 2-1 3-6 2-22 2 26 2 2 2 4 2-4 2 4 2-10 2 11 3-3 2 3 2 0 2-8 2 9 2-3 2 11 2-22 2 1 3 10 2-12 2 14 2 0 2-5 2 5 2-13 2-6 2 22 3-6 2 0 2-21 2 1 2 30 2-24 2 11 2 2 3 1 2-8 2 14 2-6 2 7 2-7 2-6 2-1 2 13 3-3 2-7 2 9 2 6 2-19 2 23 2-24 2 7 2 2 3 2 2-2 2-9 2 7 2 8 2-8 2 3 2-11 2 15 3-6 2 16 2-13 2-6 2 2 2-9 2 16 2-6 2 8 3-11 2 11 2-18 2 10 2 0 2 2 2-1 2-8 2 3 3 5 2-6 2 6 2 9 2-6 2-3 2 0 2 5 2-9 3 7 2-6 2 2 2-2 2-6 2 5" stroke="#00ffff"/><path d="M1595 1075l2-6 2-2 3-5 2 8 2 2 2-4 2-4 2-14 2 14 2 19 2-17 3-1 2-5 2-13 2 25 2-12 2 2 2 1 2 1 2-1 3 4 2 8 2 21 2-15 2-20 2 7 2-12 2 8 2-2 3 3 2-7 2 3 2 11 2-9 2-4 2 3 2-3 2 4 3 3 2 9 2-29 2 16 2 6 2-7 2-1 2-19 2 16 3-8 2 20 2 5 2-15 2 8 2-10 2 5 2-15 2 23 3-2 2-5 2 23 2-23 2 1 2 1 2 10 2-14 3 16 2-15 2-2 2 9 2-11 2 11 2-3 2-6 2-3 3-2 2 6 2 21 2-23 2-1 2-2 2 11 2 5 2-12 3 8 2-2 2-9 2 13 2-2 2-1 2-7 2-7 2 18 3-3 2-7 2 8 2-5 2 1 2-6 2 9 2-3 2-1 3 14 2-2 2-6 2 8 2-12 2-2 2 1 2-2 2 1 3-2 2-3 2 22 2-5 2 4 2-16 2 7 2-6 2 3 3-2 2 0 2-2 2 17 2-16 2 3 2-4 2 2 2 16 3-16 2-2 2-6 2 7 2 3 2 13 2-10 2-18 2 12 3-9 2 17 2-2 2-14 2 21 2-13 2-2 2 2 3-2 2 14 2-13 2 1 2-4 2 4 2 2 2-1 2 5" stroke="#00ffff"/><path d="M2281 1067l2-14 3 4 2 11 2 2 2-5 2-6 2 17 2-14 2 4 3-6 2 20 2-17 2 5 2-5 2 12 2-30 2 9 2 12 3 0 2-12 2 8 2 3 2 8 2-5 2-5 2-5 2 12 3-7 2 3 2-7 2 15 2 5 2-17 2 11 2-28 2 10 3 7 2-7 2 8 2-9 2 0 2 22 2-1 2 4 2-17 3-17 2 13 2 13 2-24 2 11 2 14 2-3 2 4 2-12 3-6 2 14 2-14 2 11 2-5 2 2 2 5 2-11 2 11 3-10 2 9 2 1 2 4 2-6 2-2 2 2 2-7 2-9 3 21 2-8 2 12 2-17 2 12" stroke="#00ffff"/><path d="M3140 1051l2-31 2 139 2-103 2 12 2-6 2 152 3-148 2 18 2 44 2 67 2-88 2-48 2 6 2-14 2 172 3-142 2 33 2-74 2 123 2-149 2 15 2 132 2-106 3-57 2 103 2-276 2 201 2-86 2 135 2-9 2-35 2 58 3 40 2-8 2-37 2-6 2-31 2 42 2 4 2-3 2-17 3-5 2-1 2-16 2 31 2-181 2 119 2 39 2-37 2 41 3-79 2 84 2-46 2 99 2-142 2-45 2 110 2 22 2-34 3 66 2-150 2 117 2-25 2 58 2 3 2 62 2-111 2 11 3-12 2 48 2-5 2-26 2 12 2 49 2-106 2-37 2-35 3 53 2 81 2-41 2 5 2 8 2 35 2-30 2 109 2-129 3 199 2-189 2-64 2 103 2 0 2-25 2-71 2 123 2-32 3 19 2 33 2-41 2-70 2 59 2-12 2-56 2 56 3-73 2 66 2 50 2-86 2 84 2-147 2 72 2 65 2-23 3 21 2-72 2 47 2-19 2 1 2-19 2-37 2 92 2-54 3-80 2 139 2-46 2-1 2 50 2-122 2-52 2 110 2 10 3-29 2 30 2 7" stroke="#00ffff"/><path d="M381 1059l2 7 2-5 2 11 2-7 3-1 2-3 2 3 2 0 2-9 2 13 2-2 2-9 2 8 3-1 2 1 2-16 2 14 2-2 2 19 2-14 2-5 2 10 3-10 2-6 2 6 2 1 2 6 2 4 2-18 2 12 2-10 3 7 2-8 2 43 2-38 2 2 2 2 2 7 2-1 3-15 2 11 2-5 2-12 2 20 2 7 2 3 2-13 2-7 3 1 2 4 2 28 2-23 2 2 2 0 2 1 2 7 2-14 3 2 2 0 2 1 2-8 2 8 2 3 2-3 2 1 2-2 3-1 2 3 2-6" stroke="#20ffdf"/><path d="M1669 1060l2 3 2-3 2 2 2 1 3 4 2-11 2 5 2 11 2-3 2 5 2-11 2 3 2 3 3-7 2 11 2-27 2 6 2 22 2-11 2 1 2 4 2-1 3-15 2 23 2-19 2 9 2-1 2 1 2-4 2 9 3-1 2 4 2-7 2 12 2-28 2 16 2 1 2-12 2 3 3 11 2 6 2-13 2 5 2-8 2 7 2 2 2-3 2 13 3-7 2 0 2-9 2 6 2-8 2-7 2 12 2 5 2 14 3-33 2 22 2-12 2 21 2-26 2 8 2-1 2 1 2 5 3 4 2-14 2 5 2 0 2 9 2-20 2 9 2 4 2 11 3-12 2-17 2 13 2 20 2-20 2-3 2 11 2-10 2-9 3 16 2 7 2-6 2-11 2 9 2 3 2-2" stroke="#20ffdf"/><path d="M2372 1065l2 4 2-2 2-5 2 2 2-10 2 7 2 4 3 18 2-5 2-16 2 14 2-25 2 3 2 11 2 0 2 19 3 0 2-15 2-6 2 9 2-23 2 6 2 8 2 6 2-23 3 23 2-4 2-12 2 14 2 0 2-18 2 13 2 6 2 4 3 3 2-6 2-3 2-4 2 10 2-6 2-21 2 43 2-32 3 9 2-3 2 8 2-6 2 2 2 5 2-8 2 4 2 5 3-7 2 0 2 8 2 4 2-25 2 21 2-5 2-3 2-1 3-11 2 10 2 7 2 0 2-4 2 9 2-29 2 12 2 1 3 23 2-23 2 12 2-1 2-18" stroke="#20ffdf"/><path d="M3144 1062l2 41 2-47 3 40 2-81 2 24 2 50 2-51 2-21 2 104 2-91 2 38 3-64 2 28 2-17 2 98 2-34 2-43 2 10 2 55 2-19 3 48 2-37 2-21 2 5 2 52 2-40 2-38 2 47 2-45 3-65 2 62 2-8 2-88 2 62 2 56 2 60 2-124 2 80 3-15 2 12 2-13 2-45 2 40 2-118 2 111 2 8 2-25 3 79 2-218 2 141 2-78 2 132 2 46 2-65 2 93 2-111 3 60 2-56 2 107 2-119 2 7 2-11 2-4 2-37 2 17 3-30 2 79 2-31 2 32 2-39 2 144 2-119 2 23 3 12 2-74 2 43 2 52 2-22 2-62 2-209 2 237 2-44 3 0 2-24 2-169 2 234 2 37 2 9 2-86 2 41 2 7 3-2 2-97 2 135 2-52 2 58 2-43 2-46 2 18 2 12 3 54 2-46 2-13 2-34 2 164 2 1 2-36 2-51 2-7 3-12 2-9 2 23 2 32 2-52 2-108 2 129 2 57 2-90 3 142 2-116 2 3 2-168 2 160 2 87 2-70 2-19 2-214 3 126 2 45 2 15" stroke="#20ffdf"/><path d="M3081 1065l4 264 3-168 5-110" stroke="#20ffdf"/><path d="M3112 1065l4 240 4-240" stroke="#20ffdf"/><path d="M716 1060l2 4 2-7 3-8 2 21 2-16 2 4 2 6 2 9 2-22 2 10 3 6 2 0 2-14 2 16 2-9 2 6 2-4 2-2 2 14 3-6 2 5 2-7 2 6 2-16 2 4 2 4 2 6 2 0 3-6 2-8 2-2 2 1 2 12 2-5 2 3 2-1 2-1 3 5 2 0 2-2 2 3 2-11 2 9 2 12 2-16 2-17 3 18 2 4 2-12 2 7 2 1 2 1 2-4 2 2 2 1 3 3 2-6 2-5 2 18 2 7 2-7 2-16 2 6 2 2 3-17 2 4 2 13 2 1 2-2 2-1 2-5 2-1 2 10 3-10 2 17 2-5 2-4 2 9 2-8 2 13 2-20 2 3 3 5 2-3 2 1 2-6 2 8 2 1 2-8 2 0 3 1 2 14 2 2 2-23 2-5 2 20 2-5 2 0 2 3 3 7 2-6 2-17 2 14 2 4 2 5 2-12 2-4 2 10 3-8 2 21 2-10 2-9 2 11 2-9 2 0 2 15 2-20 3 2 2-2 2 3 2 5 2-6 2 2 2 0 2-3 2 7 3-12 2 9 2 2 2-2 2-15 2 12 2 12 2-6 2-5 3-11 2 13 2 0 2 34 2-28 2-11 2 9 2-4 2-2 3 1 2-3 2 2 2 5 2-4 2-2 2 13 2-24 2 13 3-15 2 9 2 22 2-5 2-17 2 11 2-13 2-8 2 13 3 2 2 3 2-10 2 7 2 11 2-12" stroke="#40ffbf"/><path d="M2080 1062l3 4 2 4 2-1 2 2 2-2 2-5 2-9 2 10 2 10 3-13 2 2 2 7 2 3 2 12 2-38 2-21 2 37 2 8 3-19 2 14 2-3 2 2 2-6 2 12 2-9 2-1 2-9 3 12 2 1 2 0 2-8 2 8 2-2 2 11 2-23 2 16 3-8 2 2 2 17 2-21 2 21 2-13 2 2 2-3 3 1 2-14 2 11 2-20 2 14 2 7 2-2 2 3 2-3 3 16 2-14 2 3 2-2 2 3 2-2 2-11 2-2 2 19 3-4 2-18 2 23 2-2 2-5 2-2 2 3 2 1 2 1 3 4 2-1 2-9 2 2 2-12 2 7 2 12 2 13 2-22 3-15 2 23 2-6 2 7 2-9 2-2 2 0 2-1 2 21 3-13 2 6 2-8 2 5 2-5 2 5 2 6 2-1 2-13 3-5 2 7 2-7 2-7 2 11 2 0 2 4 2 9 2-14 3-8 2 11 2 5 2-8 2 3 2 7 2-10 2 4 2-4 3 0 2 4 2-4 2 6 2-6 2 11 2-1 2-10 3-10 2 25 2-25 2 23" stroke="#40ffbf"/><path d="M392 1070l2-7 3-1 2-1 2 16 2-12 2 7 2 0 2-1 2 0 2-17 3 10 2 5 2-4 2 12 2-8 2-6 2-1 2 2 2-17 3 1 2 11 2 6 2-4 2 8 2-11 2 11 2-25 2 40 3-24 2 5 2-5 2 5 2-6 2 3 2 1 2-10 2 20 3-18 2 10 2-3 2 1 2 3 2-1 2-15 2 15 2-9 3 31 2-23 2-2 2 4 2 9 2-15 2 1 2 5 2 8 3-15 2 2 2-2 2 1 2 8 2-5 2 2 2 1 3 0 2-3 2-27 2 29 2 2 2-4 2 0 2 24 2-24 3 0 2-2 2 10 2-8 2 3 2-9 2 7 2-4 2 0 3 10 2 5 2-14 2 16 2-24 2 9 2 4 2-3 2 9 3-9 2-8 2 54 2-55 2 14 2-2 2-12 2 6 2 6 3-18 2 31 2-16 2 2 2-8 2 25 2-15 2-2 2 10 3-12 2-4 2-3 2 16 2-7" stroke="#60ff9f"/><path d="M1845 1056l2 16 3-6 2-1 2-4 2-3 2-1 2 7 2-4 2-2 2 15 3-25 2 19 2 16 2-15 2-5 2 3 2-2 2-4 2 7 3 3 2-9 2 13 2-19 2 4 2 8 2-2 2-3 3-6 2-8 2 17 2 1 2 10 2-35 2-6 2 34" stroke="#60ff9f"/><path d="M1900 1069l2-4 2 11 2-6 2-5 3-4 2 0 2 4 2 4 2-5 2 3 2 4 2-10 2-1 3 11 2 7 2-16 2-2 2 15 2-9 2-4 2 5 2-7 3 18 2-14 2 5 2-7 2 21 2-21 2 3 2-3 2 11 3-14 2 4" stroke="#60ff9f"/><path d="M3267 1033l2 18 2 9 2-33 2 102 2-58 3-29 2-26 2 59 2 114 2-128 2-7 2 33 2-229 3 209 2-2 2-54 2 81 2 39 2-49 2-56 2 37 2-27 3 36 2 40 2-37 2-5 2 45 2-52 2-20 2 43 2-38 3 63 2-61 2 112 2-104 2 42 2-59 2-47 2 85 2 28 3-47 2 108 2-118 2 79 2-83 2-16 2 38 2-12 2-20 3-4 2 108 2-50 2-49 2 26 2-70 2 64 2-1 2-1 3 27 2-41 2 1 2-28 2 29 2 41 2-31 2 27 2-14 3-32 2 47 2-111 2 54 2 11 2 66" stroke="#60ff9f"/><path d="M3315 1073l2 31 2 41 2-101 2 27 2-226 2 254 2 170 3-259 2 28 2 88 2-107 2 98 2-87 2 78 2 34 2-79 3-45 2 27 2 20 2-93 2 110 2 82 2-99 2-146 2 15 3 143 2-13 2-13 2 33 2-2 2-95 2 169 2-124 2 44 3 0 2-19 2 21 2-52 2 36 2-26 2 115 2-259 3 203 2-128 2 93 2-18 2 53 2 19 2-67" stroke="#60ff9f"/><path d="M1279 1062l3 11 2-8 2 1 2 0 2-2 2 8 2-6 2-22 2 32 3-16 2 4 2 6 2-7 2 4 2-2 2 4 2-31 2 16 3 11 2 0 2 1 2-2 2-1 2-2 2 11 2-16 2 19 3-21 2 15 2-4 2-6 2 8 2 6 2-10 2-1 2 4 3-3 2-4 2 34 2-30 2 1 2 2 2 4 2-3 2-1 3-6 2 2 2 3 2 3 2-10 2 20 2-11 2 0 3-2 2 13 2-12 2 6 2 4 2-33 2 16 2 8 2-4 3 6 2-12 2 6 2 3 2 2 2-2 2-5 2 0 2 16 3-27 2 15 2-9 2 21 2-19 2 6 2 10 2 23 2-28 3-13 2 7 2 4 2 1 2-6 2 4 2 8 2-11 2 2 3-7 2 16 2-11 2-2 2 4 2-5 2-3 2 5 2 8 3 2 2-8 2-16 2 4 2 13 2-1 2 3 2-4 2 19 3-25 2-1 2 7 2 9 2-4 2-10 2 10 2-8 2-2 3 4 2 6 2-4 2-6 2 4 2-2 2-2 2 7 2-2 3 1 2-17 2 27 2 6 2-20 2 1 2 3 2 21 3-17 2-9 2 12 2 10 2-33 2 17 2 8 2-6 2-8 3 0 2 9 2-7 2 6 2 3 2-6 2 3 2-6 2-4 3-8 2 12 2 6 2 0 2 3 2-5 2-4 2 16 2-4 3-11 2 7 2-5 2 1 2 6 2-14 2 8 2 14 2-21 3 4 2 9 2-11 2 13 2-8 2-2 2-20 2 10 2 4 3-2 2 18 2 4 2-4 2-10 2 15 2-8 2 7 2-14 3 0 2 6 2 0 2-20 2 17 2 2 2-5 2-1 2 3 3 9 2-6 2-8 2 8 2 3 2-3 2-7 2-5 2 2" stroke="#80ff80"/><path d="M2763 1062l2 15 2-11 2-2 2 2 2-26 2 15 2 10 2-9 3 15 2-1 2-8 2 9 2-19 2 8 2 16 2-9 2-12 3 7 2 5 2-4 2 12 2-43 2 37 2-4 2-1 2 0 3-10 2 18 2 4 2-2 2-5 2 10 2 17 2-28 2-12 3 16 2-2 2 16 2-39 2 11 2 4 2 10 2-7 2 0 3 9 2-9 2-11 2 11 2 15 2-17 2-13 2 22 2-24 3 18 2-10 2 1 2 12 2 0 2-9 2-5 2 6 2 5 3 4 2-19 2 25 2-3 2-50 2 55 2 2 2-6 3-11 2-14 2 21 2-1 2-13 2 8 2-6 2 21 2-7 3 7 2-27 2 25 2-23 2 71 2-58 2-45 2 39 2 8 3-9 2 9 2 32 2-39 2 19 2-16 2-13 2 13 2-7 3 2 2 4 2 16 2-16 2 8 2 59 2-61 2-7 2 6 3-13 2 8 2-10 2 5 2 29 2-11 2-1 2-18 2 15 3-4 2-5 2-11 2 38 2-18 2-33 2 24 2 7 2-2 3-45 2 31 2 16 2 23 2-29 2 16 2-56 2 92 2-46 3-11 2-16 2 91 2 75 2-132 2-21" stroke="#80ff80"/><path d="M3258 1065l4 202 4-202" stroke="#80ff80"/><path d="M626 1071l2-8 2-3 2 1 3 3 2 1 2-1 2 2 2-2 2-7 2 10 2-1 2 0 3-8 2 11 2-3 2-5 2 5 2-8 2 7 2 9 2-7 3 4 2-5 2 1 2 0 2-8 2-2 2 4 2 0 2-4 3-2 2 16 2-14 2 14 2-3 2-8 2 12 2-21 2 3 3 57 2-48 2-8 2 10 2 0 2-1 2 0 2 0 2-1 3-11 2 23 2-6 2 20 2-13 2-6 2-14 2 11 2-3 3 3 2-22 2 25 2-4 2 1 2 2 2 6 2-9 2 4 3 11 2-24 2 10 2 18 2-21 2 1 2-3 2 5 2 5 3-9 2 3 2-8 2 9 2 2 2 1 2-1 2 0 3-4 2 2 2-17 2 20 2-16 2 13 2-2 2-13 2 9 3 2 2 2 2 2 2-4 2 0 2 15 2-5 2-20 2 9 3-2 2 10 2-21 2 19 2 4 2-5 2 0 2 9 2-17 3-1 2 12 2-6 2-6 2 8 2-1 2 4 2-4 2 2 3-8 2 12 2 8 2-23 2 15 2-7 2-2 2 5 2-12 3 12" stroke="#9fff60"/><path d="M2113 1076l2-9 2-4 3 3 2 6 2-20 2 7 2 9 2 4 2-7 2 4 2-4 3-3 2 6 2-1 2-3 2 1 2 19 2-17 2 5 2-14 3 7 2-5 2 8 2 8 2-19 2 0 2 7 2 8 3 4 2-13 2 2 2 2 2-3 2 13 2-7 2-21 2 17 3 0 2-18 2 18 2 12 2-15 2 2 2 4 2-4 2 3 3-6 2-13 2 27 2-15 2-3 2 4 2 2 2 4 2-2 3 6 2 4 2-14 2 11 2 4 2-8 2 16 2-21 2 1 3 1 2 9 2-10 2-3 2 5 2 1 2-2 2 2 2-2 3-2 2 14 2-10 2 5 2-4 2-9 2 6 2 0 2 2 3-15 2 5 2 18 2-7 2-3 2-5 2 6 2 3 2 2 3-13 2 7 2 1 2-1 2-21 2 17 2 7 2 1 2 3 3-17 2 10 2-4 2-4 2 18 2-6 2-4 2-5 3 5 2 2 2 7 2-9" stroke="#9fff60"/><path d="M431 1068l2 4 2 1 3 8 2-20 2 4 2 0 2 1 2-15 2 15 2-1 2-3 3-7 2 3 2-1 2 13 2-17 2 6 2 8 2-7 3-7 2 8 2 1 2-3 2-1 2 3 2 14 2-5 2 3 3-8 2 11 2-12 2-9 2-7 2 31 2-16 2 9 2-14 3 22 2-7 2-6 2 22 2-26 2 7 2-8 2-9 2 12 3 0 2-26 2 28 2-10 2 5 2 24 2-18 2-6 2 16 3-20 2-2 2 5 2-1 2 4 2-4 2 5 2 1 2-4 3 3 2 3 2 0 2-2 2 0 2-5 2 0 2-1 2-1 3 8 2 0 2-8 2 11 2-8 2 3 2-2 2-1 2 1 3 6 2 12 2-28 2 4 2 8 2-2 2 11 2-9 2-1 3-2 2 7 2 5 2-22 2 7 2 11 2-10 2 0 3 10 2-10 2 6 2 1 2 4" stroke="#bfff40"/><path d="M546 1065l4 43 3-43" stroke="#bfff40"/><path d="M569 1070l2 24 2-30 2 4 2 0 2-2 2-2 2-3 3-4 2 13 2-5 2-10 2 12 2-3 2 2 2-5 2 1 3 4 2 2 2-5 2-9 2 12 2-1 2 4 2-12 2 20 3-11 2 8 2-8 2-2 2 9 2-10 2 5 2 2 2-3 3-12 2 2 2 11 2 12 2-6 2-8 2 15 2-18 2 1 3 2 2 5 2-19 2 15 2 2 2-23 2 15 2 4 2 2 3-7 2 2 2-5 2-8 2 15 2-5 2-3 2 14 3-7 2-4 2 1 2 2 2 3 2-7 2 7 2 3 2-2 3-7 2 16 2 10 2-9 2-4 2-3 2 3 2 10 2-14 3-4 2-3 2 4 2-12 2 25 2-21 2 20 2-13 2 6 3-8 2-1 2-1 2 8 2 3 2-10 2 2 2 3 2 0 3-1 2-13 2 20 2-8 2-6 2 15 2-12 2-1 2 9 3-2 2-1 2-21 2 11 2-1 2 12 2-10 2 8 2-1 3-1 2-1 2 5 2 0 2 5 2 4 2-10 2-14 2 16 3-5 2-25 2 24 2-5 2-3 2 11 2 5 2-7 2 0 3 4 2 3 2-3 2-6 2 6 2-7 2 7 2-7 3 4 2-10 2 15 2-8 2 5 2 4 2 1 2-2 2-6 3-4 2 9 2-1 2 5 2-7 2 8 2-6 2-11 2 9 3 3 2-7 2 38 2-37 2-2 2 5 2 5 2-1 2-13 3 6 2-13 2 21 2-4 2-5 2 3 2 1 2 7 2-18 3 16 2-8 2 2 2-3 2 0 2 4 2 0 2 10 2-14 3 7 2 5 2 5 2-10 2 4 2-1 2-5 2 1 2 1 3 2 2-6 2 1 2 1 2 4 2-9 2 12 2-7 2 4 3-8 2 3 2-9 2 7" stroke="#dfff20"/><path d="M2236 1070l2 2 2 1 3-9 2 8 2-10 2 4 2 6 2-7 2-8 2 0 3-10 2 17 2 8 2-1 2-10 2 3 2-9 2 2 2 6 3-4 2 6 2-10 2 14 2-5 2-19 2 15 2 4 2 7 3 1 2-15 2 31 2-25 2 0 2 4 2 2 2-5 2-14 3 15 2-2 2 3 2 3 2-6 2-1 2 3 2-7 2-13 3 27 2-4 2-6 2 2 2 11 2-8 2 0 2-15 2 21 3-16 2-3 2 13 2-3 2 0 2-11 2 15 2-3 2 1 3-10 2-4 2 18 2-6 2 0 2 8 2-7 2 6 2-3 3-2 2 8 2-6 2-1 2 13 2-24 2-5 2 12 2-2 3 9 2-5 2 13 2-9 2 6 2-15 2-2 2 13 3 3 2-2 2-18 2 14 2-2 2-9 2 30 2-23 2 1 3 6 2-7 2-6 2 13 2 0 2-7 2-2 2-2 2-10 3 9 2 6 2 0 2-1 2 2 2-6 2 12 2-11 2 11 3-4 2-3 2-10 2-3 2 8 2 5 2-2 2 8 2-8 3-5 2 5 2 2 2 2 2-1 2 0 2-2 2-10 2 12 3-1 2-4 2-18 2 21 2 0 2-4 2 2 2 19 2-13 3 14 2-20 2 1 2 1 2-5 2-2 2 10 2-8 2 6 3-10 2 21 2-4 2-9 2 8 2-8 2 9 2-14 2 7 3 15 2-12 2-3 2-4" stroke="#dfff20"/><path d="M381 1077l2-11 2 0 2 1 2-1 3 4 2-10 2 6 2 16 2-16 2 1 2 3 2-8 2 4 3-5 2 3 2-12 2 15 2 12 2-9 2-9 2 9 2-6 3 9 2-15 2 8 2 2 2-11 2 5 2 2 2-8 2 4 3 27 2-31 2 14 2-8 2 6 2 0 2-2 2 22 3-29 2 9 2-5 2 9 2 2 2 8 2-17 2 1 2-4 3 4 2-1 2-1 2 8 2-5 2-8 2-14 2-2 2 24 3-8 2 5 2 14 2-7 2-8 2 9 2-7 2-14 2 14 3 1 2-6 2 5 2-6 2 26 2-26 2 12 2-2 2-5 3-1 2 8 2-16 2 10 2-4 2 6" stroke="#ffff00"/><path d="M1597 1053l2 10 2 4 3-9 2 24 2-17 2-1 2-20 2 23 2-20 2 19 2-14 3 12 2 3 2-3 2 0 2 2 2 6 2 9 2-16 2-12 3 20 2-5 2-4 2 6 2-4 2-8 2 8 2-6 3-6 2 2 2 10 2-4 2 5 2-6 2 2 2 0 2 5 3-1 2-12 2 5 2 7 2-5 2 12 2-6 2-2 2-2 3-1 2 12 2-9 2 4 2-21 2 28 2-10 2 1 2 4 3-4 2 2 2-6 2 0 2-1 2-24 2 27 2-7 2 4 3-2 2 2 2 14 2-23 2 10 2-14 2 4 2 23 2-9 3-3 2-6 2 12 2-7 2 5 2-3 2 2 2 4 2-15 3 6 2-8 2 15 2-7 2 1 2-7 2 13 2-1 2-3 3-23 2 27 2-5 2 3 2 10 2-19 2 7 2 1 2-10 3 6 2-10 2 18 2-10 2 11 2-11 2 5 2-9 3 10 2-7 2 7 2 8 2-11 2 5 2-8 2 0 2 5 3 4 2-10 2-5 2-1 2 7 2 9 2-12 2 8 2-1 3 4 2-8 2-11 2 17 2 3 2-5 2 5 2 2 2-7 3 1 2 19 2-33 2-9 2 17 2 8 2-5 2-8 2 5 3-11 2 13 2 5 2 1 2 1 2-19 2 16 2-2" stroke="#ffff00"/><path d="M1900 1060l2 8 2-14 2 9 2 3 3-17 2 6 2 14 2-6 2 2 2 40 2-39 2-4 2-1 3-7 2 11 2 5 2-7 2 5 2-1 2 6 2-9 2 8 3-29 2 18 2 0 2 0 2 9 2 6 2-13 2 5 2-5 3 0 2 0 2 5 2-16 2-7 2 21 2 1 2 2 3-4 2 1 2-8 2 9 2-11 2 7 2 4 2-4 2 10 3-17 2 8 2-4 2 8 2-4 2 6 2 3 2-2 2-5 3-4 2 0 2 8 2-8 2 4 2 3 2 13 2-14 2-5 3 4 2 1 2-11 2 6 2 5 2-4 2 2" stroke="#ffff00"/><path d="M1333 1060l2 5 2-1 2 0 2-17 2 17 2-11 3 9 2 4 2-11 2 6 2 1 2-7 2 15 2 0 2-6 3 3 2 4 2-3 2 10 2-19 2 13 2 8 2-16 2 4 3 3 2-6 2 1 2 0 2-3 2 8 2-6 2-10 2 12 3-5 2 5 2 2 2-3 2 9 2-7 2 0 2-9 2 0 3 2 2 4 2 10 2-13 2 3 2-5 2 5 2 13 2-13 3 7 2-15 2 20 2-11 2 6 2-8 2 13 2-29 2 15 3-4 2 7 2 1 2-1 2 15 2-19 2 3 2-1 3 4 2 9 2-14 2-4 2 7 2 0 2 2 2 1 2-8 3 4 2-19 2 18 2 6 2-2 2-5 2 4 2-5 2 1 3-2 2 3 2 1 2 0 2 3 2 2 2-11 2 4 2 1 3-4 2 14 2-10 2-5 2 5 2-6 2 14 2-19 2 15 3-6 2-11 2 13 2 4 2-20 2 20 2-6 2 2 2 1 3-4 2-6 2-3 2 9 2-1 2 20 2-13 2-3 2 1 3-11 2 2 2 9 2-10 2 12 2-7 2 12 2-27 2 21 3-17 2 20 2-1 2 0 2 0 2 6 2-14 2 5 2 0 3 3 2-3 2 0 2 18 2-15 2 3 2-3 2-2 3-20 2 21 2-10 2 5 2-16 2 14 2-6 2 17 2-10 3 6 2-1 2 7 2-1 2-9 2 6 2-6 2 4 2-4 3 0 2 6 2-13 2 6 2 2 2 0 2-1 2 4 2-3 3 7 2-26 2 17 2-1 2 0 2-2 2 6 2 4 2 11 3-15 2 6" stroke="#ffdf00"/><path d="M3050 1055l2 53 2-11 2-44 2 26 2 7 2-33 2 22 2-7 3 81 2-118 2 35 2 20 2-13 2-11 2-11 2 5 2 16 3-10 2 36 2-32 2-1 2 0 2-60 2 66 2-14 3 28 2-21 2 3 2 7 2-27 2 43 2-22 2 21 2-25 3-7 2-25 2 27 2-22 2 34 2-45 2 44 2-55 2 58 3-18 2 18 2-2 2-17 2-11 2 47 2 15 2-36 2-12 3-1 2-27 2-34 2 71 2-44 2-7 2 51 2 0 2 7 3-27 2 14 2 9 2 9 2-34 2 45 2-56 2-120 2 151 3-11 2 20 2-38 2 26 2 59 2-33 2-39 2 6 2 7 3-7 2 12 2-36 2-34 2 83 2-11 2 39 2-91 2 73 3-28 2-7 2 6 2 23 2-22 2 24 2 43 2-54 2 7 3-18 2 10 2-33 2 31 2-2 2-23 2 13 2 7 3 13 2-102 2 92 2 8 2-6 2-5 2-7 2 41 2-30 3 39 2-33 2-3 2-16 2 28 2-12 2 64 2-64 2-84 3 57 2 12 2 12 2 37 2-49 2-5 2 12 2 14 2-66 3 36 2 35 2 4 2-30 2 20 2-75 2 38 2 30 2-20 3 45 2-1 2 0 2-63 2 9 2-157 2 186 2-9 2-38 3 2 2 28 2 8 2-2 2 137 2-133 2-39 2-48 2 91 3-4 2-7 2 9 2-27 2 36 2-99 2 63 2 21 2-9 3 9 2 46 2-36 2 20 2-19 2-2 2-2 2-31" stroke="#ffdf00"/><path d="M749 1057l2 2 2-28 2 36 3-1 2 1 2 0 2 18 2-17 2-6 2 3 2 2 2 0 3 3 2 5 2-4 2-7 2-9 2 8 2 34 2-33 2 8 3 3 2 1 2-12 2 0 2 7 2-17 2 18 2-7 2-2 3 17 2-12 2-3 2-2 2 0 2 0 2 12 2 1 2-18 3 13 2-4 2-8 2 19 2-20 2 5 2 3 2 3 2-4 3-6 2 11 2-1 2-4 2-5 2 6 2 0 2-15 2 14 3-4 2 2 2 1 2 2 2-3 2-4 2 13 2-4 3 2 2-10 2 7 2-1" stroke="#ffbf00"/><path d="M2187 1073l2-9 2-9 2 8 3 4 2-5 2-7 2 5 2 4 2 9 2-17 2 6 2 16 3-21 2 6 2 1 2 4 2 1 2-3 2-2 2 7 2-5 3 4 2 1 2-5 2 14 2-13 2-6 2 13 2-1 2-7 3-19 2 15 2 3 2 8 2 8 2-29 2 12 2 6 2-5 3 4 2-1 2-7 2 0 2 2 2-11 2 23 2-10 2-2 3 5 2-7 2 4 2-1 2 14 2-22 2-2 2 13 2-1 3-10 2 8 2 0 2-5 2 4 2 1 2-7 2 0 2-1 3-3 2 9 2 8 2-11 2 21 2-25 2 34 2-21 2 5 3-3 2-9 2 4 2 8 2-11 2 9 2 12 2-12 3-7 2-1 2 3 2 8 2-4 2 2 2-6 2-2 2 5 3 9 2-15 2 4 2-5 2 6 2-9 2-5 2 8 2 8 3 2 2-7 2-1 2-6 2 11 2-8 2 7 2-11 2-15 3 35 2-21 2 7 2 17 2-13 2-11 2 3 2 13 2-20 3 1 2 6 2 5 2 0 2 1 2 22 2-23 2-25 2 21 3 5 2 13 2-23 2 16 2-8 2 0 2 2 2 3 2-4 3 1 2-2 2 0 2 1 2 22 2-25 2 0 2 9 2-21 3 20 2-12 2 15 2 0 2-15 2 8 2-7 2 5 2-2 3 0 2-4 2-1 2 11 2-1 2-7 2 8 2-6 3-9 2 12 2-2 2 4 2-6 2 2 2 13 2-9 2 0 3-7 2 8 2 7 2-18 2 12 2-7 2 3 2 2 2 2 3-6 2-2 2 0 2 5 2 8 2-2 2-1 2-3 2-16 3 22 2-10 2 6 2-3 2-6 2 0 2-1 2-12 2 14 3 10 2-22 2 20 2-3 2-14 2 14 2-2 2-1 2 4 3 0 2-2 2 3 2-1 2-2 2 6 2-28 2 28 2-25 3 14 2 7 2 6 2-11 2-4 2-9 2 17 2 1 2 9 3-6 2-9 2 3 2-6 2-16 2 23 2 38" stroke="#ffbf00"/><path d="M2660 1083l2-25 2 2 2 7 2-12 3 19 2-25 2 55 2-35 2-22 2 16 2 4 2-3 2 0 3-16 2 23 2-19 2 12 2-8 2 19 2-10 2 7 2 14 3-21 2 13 2 9 2-23 2-6 2 11 2 16 2-14 2-10 3 1 2-8 2 0 2 15 2-6 2 8 2-11 2-3 2 7 3-32 2 17 2 21 2 3 2 0 2-2 2-3 2 7 3-3 2-18 2 9 2 1 2-3 2 2 2-2 2 19 2-17 3 13 2-9 2 0 2 1 2-3 2-4 2 24 2-24 2 3 3 10 2-3 2-7 2-3 2 2 2 7 2-2 2-5 2-5 3-2 2 3 2 5 2-1 2-23 2 22 2 0 2 6 2-11 3 12 2-3 2-12 2 16 2-10 2 10 2 10 2-41 2 23 3 9 2 2 2-18 2 13 2-8 2 1 2 1 2-1 2-3 3 1 2-5 2 17 2 4 2 11 2-32 2-1 2 16 2-23 3 8 2 31 2-19 2 0 2-1 2-7 2 11 2-6 2 17 3-44 2 22 2 8 2-4 2 9 2-29 2-1 2 0 3 13 2 2 2 28 2-9 2-4 2-16 2 28 2-5 2-16 3 6 2-28" stroke="#ffbf00"/><path d="M705 1065l6 58 5-58" stroke="#ffbf00"/><path d="M1382 1065l4 53 4-53" stroke="#ffbf00"/><path d="M1102 1091l2-49 2 22 2 4 2-13 2 5 2 1 3 8 2-3 2-7 2 9 2-17 2 15 2-1 2-4 2 13 3-10 2 0 2 7 2 0 2 9 2-13 2-4 2 12 2-10 3 6 2-11 2 15" stroke="#ff9f00"/><path d="M1140 1047l2 32 2-39 2 24 2 2 3 0 2-3 2 5 2 0 2-8 2 7 2-7 2 7 2-4 3 37 2-35 2 1 2-5 2 3 2-1 2 8 2-13 2 1 3 6 2-2 2 5 2 0 2-4 2 2 2 6 2-14 2 4 3 8 2-16 2 10 2 1 2-7 2 15 2 1 2-25 2 23 3-6 2-17 2 18 2-12 2 16 2-14 2 39 2-31 3-11 2 7 2 2 2 2 2-4 2 1 2 9 2-9 2-2 3 3 2 6 2-3 2 4 2-3 2-1 2-6 2 1 2 10 3-11 2 2 2 5 2-3 2 9 2-2 2-3 2-7 2 9 3-2 2-3 2 1 2 4 2-5 2-30 2 30 2-7 2 1 3 12 2-6 2 1 2-6 2 2 2 1 2-6 2 16 2-13" stroke="#ff9f00"/><path d="M2466 1055l2 17 2-19 2 12 2 6 2-11 3-11 2 19 2-21 2 17 2-1 2 3 2-2 2 2 2 4 3-12 2 6 2-1 2 10 2-16 2 8 2 1 2 1 3-12 2 13 2-12 2 12 2 2 2-5 2-7 2-3 2 16 3-9 2 0 2 6 2-15 2 30 2-21 2 1 2 4 2-15 3 24 2-7 2-5 2-2 2 2 2-19 2 22 2-9 2 7 3-3 2 2 2 3 2 2 2-3 2 31 2-36 2 5 2 9 3 3 2-42 2 31 2-2 2-6 2 31 2-29 2 20 2-19 3-2 2 16 2-7 2-8 2 4 2 0 2-7 2 9 2 7 3-15 2 24 2-25 2 8 2 20 2-27 2 8 2-1 2 36 3-54 2 9 2 10 2 27 2-42 2 13 2-7 2 18 2-13 3 4 2 2 2-12" stroke="#ff9f00"/><path d="M1029 1065l6 53 6-53" stroke="#ff9f00"/><path d="M392 1066l2 5 3-8 2-1 2 2 2 1 2 5 2 6 2-5 2-4 2 0 3 8 2-16 2 11 2 5 2-5 2-4 2-3 2 12 2-4 3 10 2-15 2-36 2 31 2-2 2-3 2 19 2-12 2 3 3 1 2-6 2 3 2 0 2 4 2-14 2 9 2 0 2-2 3-5 2 15 2-3 2-18 2 13 2-6 2 10 2-21 2 20 3-6 2-4 2 9 2 1 2-1 2 7 2 3 2-22 2 10 3 11 2-10 2 5 2-10 2 8 2 16 2-20 2-22 3 21 2-11 2 22 2-5 2-7 2 4 2 5 2-3 2 1 3-6 2-1 2 1 2 1 2-2 2-6 2 13 2 0 2-21 3 10 2 6 2-3 2 3 2 5 2-4 2 5 2 5 2-7 3-7 2 12 2 6 2-9 2-8 2-4 2 11 2-16 2 13 3-2 2 0 2 3 2-7 2-2 2 8 2 3 2-14 2 8 3 5 2 4 2-5 2 0 2-6 2 2 2 3 2-9 2 8 3-6 2 18 2-1 2-17 2 4 2 6 2 5 2 2 2-8 3-10 2 13 2-1 2-10 2 11 2-1 2-8 2-3 2-4 3 24 2-11 2-3 2 3 2-5 2 7 2-5 2 7 3 0 2-11 2 3 2 1 2 3 2-4 2-10 2 14 2 10 3-9 2-7 2 7 2-7 2 9 2-6 2 3 2-2 2 2 3-3 2-2 2 0 2 4 2 13 2-20 2 14 2-7 2-6 3-12 2 14 2 11 2-22 2 26 2 2 2-17 2-7 2 8 3-5 2 5 2 11 2-10 2-3 2 4 2-3 2 3 2 8 3-15 2 12 2 0 2 2 2-5 2-1 2 4 2-14 2 10 3 19 2-20 2 8 2-1 2 1 2-14 2 1 2-13 2 13 3 5 2 1 2-2 2-1 2-18 2 22 2-11 2-3 2-1 3 11 2 1 2-25 2 27 2-5 2 14 2-6 2-4 3-3 2 8 2-10 2 4 2 8 2 7 2-13 2-6 2-11 3 12 2 8 2-12 2 14 2-5 2-3 2 4 2 0 2-1 3-10 2 9 2 9 2-7 2-3 2 1 2-13 2 13 2-5 3 1 2 4 2 1 2-1 2 8 2 1 2-1 2-1" stroke="#ff8000"/><path d="M1990 1067l2-3 2 5 3 6 2-4 2 18 2-33 2-4 2 19 2-11 2 4 2-3 3 3 2 1 2 2 2-1 2-9 2 11 2 3 2-28 2 25 3 5 2-5 2-8 2 1 2-4 2 0 2-21 2 31 2 2 3-16 2 3 2 9 2 2 2 3 2-22 2 15 2 1 2 6 3 0 2-4 2-9 2 3 2 8 2 8 2-12 2-2 3-7 2 8 2 6 2-4 2-3 2 8 2-14 2 16 2 14 3-18 2-7 2 3 2 4 2-1 2-2 2-5 2-10 2 12 3 10 2-14 2 2 2 2 2-2 2 23 2-20 2 2 2-23 3 11 2 12 2-6 2 3 2-1 2 6 2-5 2 17 2 0 3-10 2 0 2 15 2-27 2 3 2 1 2-1 2-5 2 16 3-6 2 2 2-1 2-3 2 4 2-13 2 18 2-2 2-13 3 12 2-2 2-1 2-4 2-6 2 7 2 6 2-10 2 8 3 7" stroke="#ff8000"/><path d="M381 1075l4 48 4-53" stroke="#ff8000"/><path d="M3404 1065l4-197 4 403" stroke="#ff8000"/><path d="M2421 1070l2 1 2-14 2 6 2 8 2-7 2 8 3-4 2-5 2-4 2-6 2 2 2 10 2 33 2-36 2 46 3-31 2-11 2 0 2 0 2 2 2 5 2-15 2 4 3 9 2-17 2 13 2-5 2 8 2-16 2 8 2 0 2-4 3 4 2-3 2 8 2-7 2 4 2 1 2-10 2 11 2-2 3 8 2-3 2-6 2 8 2 0 2-12 2 14 2-21 2 15 3-11 2 10 2 3 2-4 2-4 2 1 2-37 2 45 2 1 3-6 2 4 2 9 2-14 2-4 2-4 2 12 2-3 2-2 3 23 2-23 2 9 2-7 2-3 2 5 2-12 2 12 2 3 3-2 2 8 2-2 2-10 2-1 2-3 2-1 2 7 2 5 3-4 2 0 2 28 2-31 2-15 2 24 2-4 2-5 2 0 3 0 2-4 2 5 2 5 2 12 2-7 2-2 2-6 3-8 2 11 2 3" stroke="#ff6000"/><path d="M784 1064l2 1 2 1 2-11 2 11 2 4 3-6 2 0 2-3 2 3 2 23 2-22 2 5 2-1 3-8 2-10 2 7 2 11 2-3 2-8 2 1 2 17 2-8 3-4 2 6 2 12 2-13 2-4 2-3 2 0 2 2 2 0 3 1 2-5 2 3 2 0 2-7 2 17 2 6 2-14 2 1 3-10 2 12 2-5 2-1 2 7 2 18 2-21 2 4 2 0 3-5 2 5 2-6 2 0 2 1 2-1 2 6 2-6 2-5 3 0 2 14 2-6 2-5 2 2 2 2 2-7 2-2 2 7 3 5 2-18 2 14 2 2 2 5 2-18 2 8 2 13 2-5 3-15 2 20 2-12 2 1 2 1 2-3 2 5 2-4 2-5 3 6 2 1 2-1 2 6 2-3 2-5 2 2 2 9 3-15 2 8 2 3 2 2 2-16 2 7 2 6 2 2 2-11 3 12 2-6 2-2 2-9 2 9 2 10 2-8 2-9 2 12 3 6 2 2 2-17 2-5 2 11 2 3 2-2 2 4 2-4 3-1 2 0 2 8 2-24 2 14 2 1 2-5 2 18 2-13 3 3 2-4 2-9 2 21 2-4 2-4 2-2 2-6 2 3 3 2 2 6 2-5 2 1 2 7 2-17 2 3 2 5 2 5 3-5 2 3 2-4 2 16 2-15 2 0 2-9 2 9 2-3 3 8 2-5 2 3 2-21 2 6 2 17 2-5 2 11 2-11 3-18 2 26 2-10 2 3 2-23 2 24 2-7 2 5 3-4 2-1 2 4 2 4 2-3" stroke="#ff4000"/><path d="M1140 1067l2 2 2-14 2 15 2-8 3 1 2 1 2 4 2-19 2 12 2 5 2 5 2-5 2 12 3-8 2-1 2 2 2-6 2 7 2 2 2 1 2-18 2 18 3-23 2 3 2 10 2-8 2 24 2-20 2 4 2-1 2-44 3 51 2-3 2-5 2 7 2-15 2 16 2-5 2-5 2-3 3 2 2 0 2 6 2 1 2-3 2 7 2-6 2-1 3 3 2 5 2 2 2-7 2-2 2-18 2 23 2 12 2-14 3-3 2-1 2 3 2-11 2 13 2-1 2 1 2-18 2 14 3 2 2 10 2-11 2-6 2-1 2-6 2 17 2 8 2-8 3 5 2-17 2 10 2-9 2 9 2 5 2-5 2-4 2-14 3 13 2-3 2 5 2-10 2 3 2-13 2 14 2 3 2-3 3-2 2 6 2 12 2-9 2-15 2 11 2 4 2-9 2 10 3-1 2-1 2-2 2 1 2 3 2-3 2 3 2-4 2 1 3 9 2-10 2-9 2 10 2 11 2-11 2 7 2-5 2 5 3-16 2 6 2 3 2 4 2 5 2-11 2 7 2-13 3 2 2 13 2-33 2 12 2 25 2-10 2 3 2-5 2-4 3 9 2 7 2-8 2 3 2-8 2 6 2-4 2 9 2-5 3-7 2-2 2 5 2 0 2 13 2-13 2 0 2 5 2-7 3 10 2-7 2 9 2-15 2 7 2-15 2 15 2-5 2 4 3 12 2-10 2-3 2-4 2 16 2-11 2-4 2 8 2-2 3 1 2-6 2 6 2-12 2 3 2 5 2-15 2 18 2 17 3-21 2-3 2-6 2 17 2 8 2-15 2 2 2 3 2-6 3 2 2-1 2-9 2 3 2 12 2 6 2-13 2 23 2-16 3-15 2 11 2-4 2 1 2 10 2-12 2 0 2 23 3-32 2 21 2-8 2 0 2 0 2-23 2 29 2-11 2-2 3 14 2 21 2-25 2 10 2-2 2-17 2 22 2-13 2 7 3-3 2-7 2-9 2 2 2 15 2-14" stroke="#ff4000"/><path d="M2660 1071l2-9 2-2 2 27 2-58 3 33 2 8 2 23 2-27 2 48 2-57 2 6 2 4 2 8 3-13 2-23 2-2 2 70 2-43 2-1 2-22 2 78 2-43 3 3 2-58 2 31 2 0 2 7 2 7 2 13 2-2 2-2 3-22 2 32 2-2 2-18 2 18 2-17 2 4 2-7 2-8 3 22 2-15 2 7 2-4 2-2 2 40 2-14 2-23 3 4 2-8 2 3 2 3 2 17 2-55 2 29 2 0 2 19 3-19 2-1 2-13 2 38 2-5 2 1 2-12 2 28 2-39 3 9 2-6 2 27 2-18 2-11 2 8 2 19 2-20 2-11 3 9 2-12 2-9 2 29 2-5 2 7 2-10 2-17 2 9 3 20 2-12 2 7 2-3 2 5 2-9 2 30 2 36 2-60 3-11 2-7 2 10 2 30 2-32 2 6 2 1 2 7 2-5 3-28 2 27 2 4 2-4 2-16 2 4 2 11 2-6 2-25 3 36 2 2 2 41 2-51 2-8 2 17 2-6 2-26 2 22 3 3 2 0 2-12 2 10 2 32 2-7 2-26 2 22 3-22 2-4 2 2 2-6 2 13 2 20 2-39 2 14 2 4 3-12 2 3 2 6 2-12 2 30 2 2" stroke="#ff4000"/><path d="M1495 1074l2-2 2-16 2 30 2-27 2 2 2-5 3 7 2 6 2-26 2 18 2 7 2 0 2-7 2 3 2-7 3 10 2 3 2-9 2 15 2-8 2-2 2-2 2 1 2-8 3 2 2 12 2 1 2-9 2 4 2-19 2 20 2 2 2-3 3-5 2 2 2 5 2-13 2-2 2 6 2 8 2 8 2-13 3 0 2-6 2 24 2-12 2-15 2-15 2 28 2-9 2 2 3 13 2-12 2 5 2 1 2-5 2 4 2-9 2 11 2 1 3 6 2-16 2 7 2 10 2-27 2 22 2-2 2-6 2-13 3 1 2-6 2 22 2 0 2 9 2-15 2-3 2 23 3-14 2-10 2 9 2-6 2 6 2-15 2 23 2-12 2-8 3 6 2-1 2 8 2-3 2 1 2 14 2-19 2 16 2-7 3-1 2-14 2 2 2 11 2 0 2 3 2-2 2 7" stroke="#ff2000"/><path d="M3056 1099l2-14 2-25 2-31 2 39 2-17 2-9 3 15 2-11 2 3 2-5 2 50 2-7 2 4 2-89 2 71 3 8 2-54 2 22 2 30 2-50 2 68 2 6 2-8 2-74 3 46 2-41 2 79 2 23 2-71 2 20 2 55 2-73 2-62 3 61 2 55 2-23 2 3 2 41 2-33 2 3 2-21 2 1 3-21 2-12 2 1 2 14 2 31 2-34 2-3 2-109 2 127 3-22 2-13 2-2 2 95 2-62 2 43 2-80 2 82 2 14 3-34 2-95 2 30 2-2 2 56 2-33 2 44 2-25 2-45 3 1 2 41 2 26 2-13 2 38 2 3 2-44 2-29 3-26 2-17 2 60 2-26 2 88 2-84 2-65 2 61 2-29 3 23 2-1 2-10 2 80 2 1 2-89 2 71 2-67 2 69 3-16" stroke="#ff2000"/><path d="M381 1062l2-2 2 5 2 4 2-4 3-1 2 2 2 1 2-4 2-6 2 11 2-11 2 20 2-14 3 4 2-2 2 2 2 8 2-4 2-25 2 20 2-13 2 12 3-8 2 9 2-22 2 21 2 3 2 3 2 4 2-2 2-10 3 4 2-9 2 12 2-16 2 16 2-2 2-1 2 1 3-2 2-6 2 15 2-6 2 8 2-16 2 12 2-8 2-7 3 9 2 6 2-5 2-14 2 20 2-16 2 15 2-2 2-10 3 2 2 4 2-5 2 9 2-14 2 7 2-11 2 11 2 0 3-6 2 6 2 10 2-10 2 4 2-5 2-27 2 28 2-5 3 8 2 18 2-7 2 4 2-13 2-1 2-1 2-4 2-2 3 0 2 0 2-3 2 4 2 3 2 1 2 9 2 9 2-26 3 13 2-13 2 8 2 10 2-17 2 3 2-25 2 28 2-10 3 10 2 3 2-2 2-3 2-6 2 3 2-5 2 10 2 0 3 0 2-11 2 13 2 9 2-10 2-3 2-4 2-5 2 9 3-3 2 0 2 0 2 4" stroke="#ff0000"/><path d="M1020 1065l2-4 2 2 2-2 2 6 2-5 2 9 3 7 2-13 2-4 2 8 2-12 2 8 2-2 2-5 2 2 3 3 2 5 2 2 2-6 2 0 2 0 2 2 2 4 2-15 3 8 2-1 2 19 2-16 2 0 2 10 2-6 2 2 2-7 3-6 2 5 2 4 2-8 2 5 2-4 2 4 2 7 2-5 3 2 2-1 2 10 2-16 2 3 2 3 2-5 2 3 2 10 3-15 2 0 2 4 2-1 2 1 2 4 2 9 2-14 2 5 3-7 2 7 2-2 2-10 2 17 2-5" stroke="#ff0000"/><path d="M1140 1065l2-12 2 17 2-1 2 0 3 5 2 0 2-7 2 1 2-4 2 7 2-15 2 8 2-4 3 12 2-12 2 6 2 1 2-9 2 8 2 2 2-2 2-2 3 5 2-4 2 2 2 5 2 8 2-20 2-3 2 11 2-7 3 31 2-25 2 1 2-1 2 0 2 6 2-13 2 6 2 4 3-4 2-1 2-4 2 10 2-6 2-4 2-1 2 11 3-4 2-5 2 5 2-4 2 5 2-1 2 8 2-12 2 5 3 6 2-6 2 2 2-3 2-15 2 3 2 4 2 1 2-4 3 15 2-6 2-4 2-7 2 10 2 8 2-5 2 3 2-9 3-1 2 6 2 34 2-45 2 2 2-2 2 6 2-16 2 23 3 4 2-13 2 1 2 8 2-4 2 10 2-3 2-21 2 8 3 13 2-8 2-1 2 3 2 0 2-2 2 17 2-29 2 13 3 1 2 3 2 0 2-4 2 6 2-8 2 12 2-8 2 2 3 26 2-32 2-5 2 9 2 3 2-6 2 10 2-14 2 6 3-2 2 5 2-3 2-1 2 0 2-4 2 6 2 0 3 0 2 12 2-11 2-12 2 8 2 4 2-7 2 8 2-2 3 2 2-2 2 6 2-8 2 8 2-6 2-5 2-4 2 6 3 3 2 4 2-2 2 0 2-5 2-2 2 11 2-6 2-5 3 1 2 11 2-9 2-10 2 4 2 11 2-10 2-12 2 7 3 4 2 15 2-7 2-3 2-5 2 1 2 7 2 1 2-5 3 6 2-2 2-7 2 9 2-9 2 17 2-2 2-7 2-4 3 6 2-18 2 13 2 11 2-6 2-11" stroke="#ff0000"/><path d="M3218 1073l2-86 2 55 2-27 2 111 2-84 2 15 3-22 2 11 2 211 2-191 2-53 2 27 2 57 2 31 2-104 3 34 2-9 2 45 2-65 2 44 2 0 2 34 2-46 2-7 3 45 2-14 2-36 2 60 2-56 2-47 2 60 2 48 2-45 3-42 2 37 2 47 2-73 2 15 2-35 2-3 2 25 2 34 3 62 2 0 2-64 2 16 2-21 2 34 2 0 2-70 2 26 3 7 2-54 2 81 2-40 2 48 2-18 2-18 2 11 2 18 3-14 2-92 2 109 2 16 2-97 2 99 2-35 2 33 2-12 3-67 2 10 2 36 2-63 2 69 2-55 2 24 2-23 2 37 3-14 2 17 2 84 2-164 2 57 2 17 2 6 2 19 3 11 2-34 2-30 2 21 2 3 2-20 2 51 2-59 2 49 3-35 2 42" stroke="#ff0000"/><path d="M1801 1065l3-43 4 91 4-82 4 34" stroke="#ff0000"/><path d="M3227 1065l3-202 4 202" stroke="#ff0000"/><path d="M1843 1071l2-7 3-4 2 0 2 0 2 3 2-11 2 12 2 1 2-12 2 7 3 0 2 6 2-2 2 9 2-13 2 8 2-5 2 16 2-12 3 5 2-6 2-3 2 2 2 12 2-12 2 17 2-16 2-6 3 4 2 3 2-4 2 1 2 2 2 0 2-3 2 0" stroke="#df0000"/><path d="M1900 1090l2-41 2 28 2-17 2 3 3-4 2 6 2-1 2 5 2-5 2-7 2 12 2-14 2 14 3-6 2-7 2 4 2 8 2-4 2-4 2-12 2 14 2-7 3 10 2-1 2 5 2-3 2 1 2-16 2 0 2 3 2 12 3-14 2 11 2 7 2-5 2 8 2-8 2-12 2 13 3 0 2 9 2-10 2-2 2-8 2 12 2 2 2-15 2 19 3-6 2-2 2-12 2 11 2-6 2-2 2 5 2-1 2 10 3-10 2 0 2 7 2 3 2-2 2-9 2 3 2 3 2 9 3-17 2 28 2-15 2-14 2 9 2 2 2-2 2-2 2 0 3 1 2 13 2-6 2-3 2-3 2-1 2-4 2 10 2 3 3-14 2 5 2 2 2 9 2-5 2-10 2 5 2 17 2-17 3 1 2-5 2 13 2-8 2-10 2 6 2 1 2 3 2 3 3 5 2-6 2-1 2-1 2-7 2 7 2-3 2 8 2-4 3-13 2 17 2 2 2 2 2 16 2-20 2 3 2-3 3-5 2-4 2-2 2 4 2 9 2-13 2 3 2-4 2 2 3 9 2-19 2 10 2 6 2-6 2 5 2 7 2-10 2-21 3 21 2-8" stroke="#df0000"/><path d="M1803 1065l4 38 4-38" stroke="#df0000"/><path d="M2660 1073l2-12 2-5 2 11 2 21 3-18 2-14 2-27 2 26 2 16 2-13 2-8 2 20 2 2 3-13 2 13 2-30 2 17 2 17 2 1 2-3 2-19 2 59 3-45 2-6 2-7 2 15 2-7 2-18 2 45 2 17 2-44 3 0 2-40 2 35 2-2 2 11 2-6 2 1 2-7 2 5 3 16 2-1 2-17 2 22 2-18 2-12 2 38 2-44 3 32 2 3 2 18 2-56 2 31 2-4 2-3 2 2 2-5 3-21 2 24 2 6 2-7 2 7 2-5 2-1 2 18 2-25 3 6 2-6 2 8 2-26 2 25 2 0 2 15 2-16 2 1 3 0 2 4 2 3 2-5 2 3 2-5 2 8 2-21 2 21 3-10 2-2 2 11 2 1 2-22 2 13 2 18 2-10 2-21 3 19 2-6 2-13 2 21 2 7 2-18 2 3 2-6 2 32 3-24 2-9 2 5 2-18 2 2 2 5 2 11 2 24 2-11 3-25 2 13 2-8 2 9 2 2 2-2 2 6 2-12 2 27 3-30 2 6 2-2 2-26 2 23 2 49 2-45 2 8 3-18 2 11 2-4 2-2 2 19 2-9 2-30 2 23 2 0 3 55 2-38 2-8 2-36 2 65 2-32 2 3 2 0 2-1 3 4 2-9 2-1 2 22 2 6 2-14 2-12 2-7 2 9 3 14 2-11 2 42 2-30 2-21 2 2 2-4 2 0 2 15 3 3 2-4 2 7 2-24 2 32 2-16 2 51 2-46 2 31 3-45 2-4 2-3 2-41 2 8 2 99 2-16 2-46 2-21 3 104 2-90 2 28 2-91 2 55 2-5 2 15 2-5 2 24 3 20 2-85 2 8 2-63 2 181 2-68 2-25 2 21 2 65 3-61 2 46 2-8 2-57 2 128 2-149 2 109 2-52 3-11 2 8 2-5 2 18 2-31 2 42 2-35 2-3 2 9 3-50 2 47 2 13 2-94 2 25 2 30 2 29 2-62 2 41 3 17 2-1 2-37 2 22 2 31 2 54 2-101 2 24 2-26 3 20 2-26 2 17 2 19 2 5 2 59 2-12 2-125 2 102 3-7 2-94 2 61 2 79 2 19 2-28 2-24 2-64 2 13 3 34 2-102 2 133 2-37 2-51 2-57 2 119 2 13 2-44 3-1 2-19 2 7 2-37 2-10 2 43 2 58 2-26 2-15 3 14 2-50 2 18 2 14 2 9 2-32 2 59 2 16 2-27 3 20 2-17 2 68 2-83 2 21 2-49 2-9 2 14 3 75 2-62 2-3 2 49 2-55 2 45 2 24 2-67 2 32 3-91 2 66 2 26 2-24 2 5 2 6 2 26 2-4 2-81 3 81 2-85 2 85 2-56 2 28 2-48 2 44 2 3 2 19 3-26 2-13 2-10 2 38 2-6 2 13 2 58 2-79 2 49 3-43 2 21 2-2 2-15 2 113 2-116 2-82 2-30 2 50 3 57 2-10 2-53 2 68 2-32 2 11 2 14 2 36 2-40 3-55 2 53 2 23 2-33 2 34 2-10 2 26 2-54 2 38 3-6 2-4 2 54 2-106 2-9 2 82 2-112 2 86 2 18 3-25" stroke="#bf0000"/><path d="M3217 1005l2 44 2 126 2-25 2-106 2-24 2 53 3-6 2 22 2 2 2-67 2 47 2 15 2-42 2 43 2-33 3 26 2-28 2 34 2 39 2-95 2 6 2 26 2 20 2-61 3 75 2-44 2-6 2-4 2 29 2 7 2-80 2 95 3 34 2 65 2-128 2 29 2-55 2-11 2 102 2-1 2-52 3-17 2 51 2-26 2 47 2-87 2-26 2 40 2-6 2-8 3-22 2 6 2 12 2-7 2 77 2-65 2 43 2-42 2 15 3-1 2-18 2 12 2 19 2-77 2 62 2-13 2 36 2 1 3 6 2-29 2 1 2-20 2 37 2-110 2 62 2 116 2-31 3-35 2-19 2-14 2 5 2 23 2-67 2 102 2-29 2 8 3-28 2-8 2 12 2-15 2 16 2-44 2 63 2-2 2-36" stroke="#bf0000"/><path d="M3388 1065l3-197 4 370" stroke="#bf0000"/><path d="M903 1059l2-3 2 12 2-7 2 4 2-1 3 3 2 2 2-4 2-5 2 6 2-8 2 5 2 11 2-15 3 10 2-2 2-2 2-6 2 10 2-3 2 6 2-2 2-5 3 0 2 0 2 7 2-7 2 0 2-6 2 7 2-2 2 1 3-2 2 1 2-11 2 11 2 2 2-1 2-4 2 5 2-7 3 6 2-6 2 9 2-5 2 2 2 2 2-3 2 7 2-3 3-6 2 3 2 1 2 3 2-1 2-1 2-2 2 9 2-6 3-3 2-4 2 0 2-2 2 8 2 2 2-7 2 2 3 3 2-2 2-5 2 2 2-3 2 6 2 3 2-3 2 4 3 0 2 1 2-3 2 1 2-1 2-3 2 0 2 10 2-13 3 1 2-3 2 8 2-4 2 2 2-2 2-3 2 10 2-8 3-1 2 3 2 2 2-1 2 4 2-6 2 2 2 0 2-2 3 7 2 2 2-3 2 1 2-8 2 7 2-3 2-2 2 3 3-7 2 0 2 6 2-2 2-1 2-8 2 9 2 1 2 7" stroke="#9f0000"/><path d="M1140 1063l2 0 2 6 2-2 2 2 3 3 2-6 2-1 2 0 2 0 2-3 2 6 2-10 2 5 3 9 2-1 2-2 2-5 2 1 2 2 2-3 2 2 2-3 3 0 2 4 2 4 2-7 2 6 2-5 2-1 2 4 2-5 3 3 2-2 2 1 2-2 2 2 2 0 2 0 2 3 2-4 3 10 2-8 2-3 2-2 2 1 2 1 2-6 2-3 3 12 2-2 2 4 2-4 2 2 2-5 2 8 2-1 2-4 3 1 2-1 2 0 2 8 2-8 2 1 2 3 2-6 2 1 3 1 2 2 2 2 2 20 2-27 2 4 2 0 2 2 2-1 3-2 2 1 2-3 2 6 2 1 2-8 2 7 2-2 2-3 3 10 2-8 2 1 2-7 2 6 2 0 2-1 2-2 2 5 3 7 2-10 2 1 2 2" stroke="#9f0000"/><path d="M1622 1070l2-4 2-5 2 13 2-6 2-6 3-1 2 2 2 1 2 1 2 2 2-1 2 1 2-2 2-1 3 1 2-19 2 6 2 13 2 4 2-2 2 2 2-1 2-2 3 2 2 0 2-14 2 11 2 4 2-8 2 4 2-6 2 5 3 0 2-2 2 8 2-5 2-3 2 12 2-10 2 1 2 2 3 1 2-13 2 5 2 0 2 10 2-6 2 1 2 6 2-8 3 6 2-6 2 5 2-9 2 4 2 2 2 1 2-1 2 6 3-10 2 2 2-1 2-2 2 4 2 0 2-1 2 3 3-5 2 6 2-3 2 1 2-3 2-2 2 6 2-1 2 1 3 0 2-7 2 5 2-1 2 5 2-7 2 1 2 5 2 0 3-2 2-1 2 2 2-6 2 2 2 3 2 5 2-3 2 0 3-3 2 1 2-9 2 9 2 1 2-1 2-2 2 0 2-2 3 5 2-2 2-1 2 7" stroke="#9f0000"/><path d="M2339 1067l2 0 2-2 2 2 2-5 2 2 2-5 3 7 2-15 2 15 2 1 2-5 2 2 2 1 2-1 2 8 3-7 2 10 2-10 2-4 2 9 2-4 2 0 2 4 2-5 3-3 2 2 2 6 2-3 2-2 2-2 2 3 2-13 3 12 2-13 2 10 2 6 2-8 2 5 2-6 2 7 2-3 3 0 2 4 2 4 2-3 2-2 2-6 2 5 2-5 2 2 3-2 2 5 2-1 2 0 2-6 2 3 2 3 2 0 2 1 3-1 2-2 2 12 2-10 2 0 2 5 2-1 2-5 2 3 3-3 2-9 2 9 2 2 2 5 2-8 2 1 2 4 2-5 3 0 2 0 2 4 2-3 2 1 2 3 2 0 2 0 2 11 3-7 2-8 2-3 2 0 2 2 2 4 2 1 2-1 2-2 3-4 2 5 2-4 2 0 2 5 2 3 2-5 2 2 2-6 3 5 2 0 2-1 2 2 2 1 2-2 2 5 2-6 3 1 2-6 2 13 2-5 2 0 2-27 2 25 2-34 2 33 3 12 2 40 2-55 2-22 2 27 2-30 2 32 2 53 2-78 3 24 2 3 2-65 2 62 2 12 2-10 2-6 2-28 2 15 3 18 2-27 2 20 2 13 2 3 2 17 2-17 2 2 2 1 3-1 2-10 2 34 2-28 2-13 2 3 2-4 2-1 2-3 3 22 2-22 2-5 2 6" stroke="#9f0000"/><path d="M381 1066l2-1 2 1 2-1 2-4 3-1 2 12 2-14 2 7 2-2 2-4 2 9 2-2 2-5 3 4 2-5 2 2 2-14 2 16" stroke="#800000"/><path d="M610 1065l2 10 2-6 2-3 2 3 2-2 2-5 2 1 3 0 2 2 2-5 2 7 2-3 2 1 2-6 2 7 2 1 3-4 2-1 2 1 2 0 2 5 2-4 2 1 2-5 2 6 3 1 2-1 2-1 2-10 2 9 2-1 2 2 2 1 2-7 3 6 2 4 2-6 2 5 2-2 2-2 2-2 2 15 2-13 3 5 2-5 2 0 2 1 2 0 2 0 2-7 2 8 2-1 3 4 2-3 2 6 2-12 2 6 2-7 2 10 2-5 3 0 2 0 2-2 2 8 2-7 2 11 2-8 2-4 2 3 3-6 2 2 2 4 2 2 2 1 2 4 2-9 2-1 2 10 3-7 2-3 2 2 2 2 2-8 2 7 2 1 2-1 2 1 3 0 2-1 2 5 2-6 2 0 2-1 2 4 2 5 2-9 3 3 2-2 2 3 2-1 2 1 2-2 2-1 2 3 2-1 3-1 2-1 2 2 2 5 2-6 2 0 2-15 2 14 2 8 3-8 2 6 2-4 2 7 2-9 2 4 2-9 2 9 2-11 3 3 2 5 2 0 2 1 2-3 2 5 2-2 2 5 2-6 3 3 2-8 2 5 2 2 2 0 2 1 2 2 2 1 3-8 2 6 2-7 2-5 2 3 2 8 2-6 2 2 2-5 3 8 2-3 2 0 2 4 2-4 2-1 2-1 2-1 2 12 3-10 2 3 2-3 2 5 2-2 2 0 2-2 2 0 2-2 3 16 2-11 2-4 2 4 2-5 2 4 2-2" stroke="#800000"/><path d="M1988 1071l2-9 2 6 3 3 2-2 2-5 2 8 2-7 2-7 2 7 2-6 2 8 3-3 2-6 2 9 2-7 2 1 2 0 2 5 2 7 2-6 3-1 2 0 2-2 2 0 2 57 2-56 2-4 2 3 2-1 3-1 2 3 2-31 2 31 2 3 2 3 2-6 2-3 2-1 3 2 2 2 2-1 2 1 2-3 2 4 2-1 2-2 2-2 3 1 2 7 2 0 2-2 2 0 2 2 2-10 2 6 2 7 3-6 2-1 2-2 2 0 2 5 2-2 2-5 2 4 2 0 3-9 2 10 2 4 2-5 2 3 2-1 2-1 2 0 2 2 3-6 2 18 2-20 2 4 2 3 2 10 2-10 2-7 3 6 2 0 2 3 2-5 2 3 2 0 2 3 2-1 2-1 3-13 2 10 2-7 2 8 2-1 2-5 2 3 2 2 2-1 3 7 2-14 2 1 2 5 2 3 2 1 2 0 2 1 2 5 3 2 2-10 2 0 2 2 2-2 2-11 2 13 2-7 2 7 3-2 2-1 2 5 2-8 2 7 2-2 2-1 2-4 2 0 3 5 2-2 2 3 2-1 2 0 2-1 2 1 2-11 2 11 3-5 2-2 2 2 2-4 2 5 2 4 2-2 2-1 2 2 3-2 2 0 2 1 2 3 2-1 2-5 2 5 2-1 2 3 3-3 2-5 2 4 2-3 2 1 2 31 2-24 2-7 3-3 2 5 2 3 2-4 2 2 2 4 2-3 2-3 2 2 3 0 2 2 2-2 2 3 2-4 2 1 2 7 2-7 2 3 3-5 2-3 2 4 2 0 2 4 2-1 2 3 2-9 2-4 3 3 2 4 2 0 2 0 2-4 2 2 2 3 2 0 2-2 3 5 2-4 2 2 2-2" stroke="#800000"/></g></g><g clip-path="url(#c2)"><g transform="scale(0.5)" fill="none" stroke-width="4" stroke-linejoin="round"><path d="M507 1821l2 1 2 3 2-8 3 4 2 5 2 1 2-3 2 10 2-2 2-2 2-6 2 5 3-11 2 13 2-4 2-4 2 9 2 1 2 2 2-1 2-5 3-2 2-7 2 12 2-1 2-8 2 7 2-1 2-5 3 9 2-3 2-7 2 10 2 0 2-7 2 8 2-4 2 0 3-6 2 11 2-5 2-2 2-1 2 2 2 5 2-8 2 6 3-5 2 1 2 7 2-9 2-6 2 10 2 5 2-10 2 2 3 3 2 2 2-4 2 0 2 3 2-2 2 2 2 0 2 0 3-1 2-5 2 6 2 5 2-2 2-5 2 0 2 1 2 0 3 1 2-4 2 2 2-4 2 6 2 0 2 0 2 3 2-1 3 0 2 0 2 1 2 1 2-9 2 8 2-4 2-3 2-1 3 4 2 1 2 0 2-2 2-1 2 2 2-1 2 4 2-3 3 2 2-4 2-3 2 7 2-1 2-7 2 9 2-7 3 0 2 7 2 0 2-2 2 1 2-9 2 13 2-11 2-1 3 10 2-6 2-6 2 7" stroke="#0000bf"/><path d="M1956 1797l2-39 2 1 2 4 2-12 3-24 2 6 2 17 2-25 2-40 2-18 2-17 2-33 2 46 3 20 2-18 2-12 2 7 2 21 2 10 2 10 2 21 2-21 3-39 2 15 2 47 2 12 2-27 2-16 2 17 2 1 2-8 3 14 2 21 2 16 2 14" stroke="#0000bf"/><path d="M2448 1811l2-215 2-17 2-33 3-72 2-58 2 53 2 39 2 101 2 139" stroke="#0000bf"/><path d="M2596 1801l2-56 2-13 2-22 2-23 2-32 2-32 2 42 3 34 2 63" stroke="#0000bf"/><path d="M2612 1792l2-45 2-16 2-31 3-36 2-16 2 36 2 43 2 21 2 17" stroke="#0000bf"/><path d="M927 1775l3 39 2-2 2-5 2-18 2 33 2-77 2-13 2 74 2-32 3 37 2-14 2-6 2 10 2 14 2-13 2-24 2 22 2 19 3-6 2-4 2-1 2 7 2-8 2 8 2-4 2-25 3-3 2 10 2-12 2 12 2-45 2 13 2-13 2-3 2 43 3 4 2-26 2-10 2 35 2-17 2 10 2 16 2-7 2 5 3 15 2 2 2 3 2 0 2-3 2-5 2-12 2 21 2-6 3 4 2 6 2-22 2 11 2 1 2 4 2-2 2-9 2 9 3 2 2 2 2-13 2 6 2 2 2 0 2-32 2 19 2 1 3 8 2-13 2 22 2-22 2 6 2-19 2-6 2 2 2 25 3-20 2 8 2-33 2-2 2 22 2 13 2-2 2-65 2 35 3 51 2-28 2 3 2-4 2 16 2-2 2 15 2 10 2-26 3 10 2 11 2 6 2-20 2 14 2 1 2-7 2 5 3-10 2 7 2-4 2 6" stroke="#0000df"/><path d="M1140 1799l2 13 2-17 2 25 2-28 3 11 2-12 2-15 2 16 2 8 2 7 2 2 2 5 2-36 3 10 2 18 2 7 2-25 2-6 2 29 2-3 2-10 2-18 3-5 2 19 2-77 2 56 2 0 2 5 2 0 2-9 2 7 3 33 2 4 2 1 2-11 2 4 2 12 2-4 2-32 2 17 3 9 2 6 2-2 2-13 2 10 2-7 2-2 2-18 3 15 2 8 2-6 2 14 2-8 2-20 2 16 2 0 2-45 3 18 2 9 2-33 2 17 2-46 2-13 2 12 2 28 2 14 3 24 2 5 2-17 2 2 2 0 2 26 2-21 2-4 2 12 3-3 2 4 2-16 2 3 2 20 2 17 2-4 2-26 2 33 3-22 2-18 2 40 2-21 2 12 2 7 2-4 2-9 2 13 3-9 2-26 2 20 2-17 2 34 2-26 2 23 2-32 2 13 3 8 2-12 2 18" stroke="#0000df"/><path d="M1964 1812l2-43 2-26 2 10 2 44 2 0 2 13 2 2 2 15 3-4 2 3 2-12 2 7 2 2 2-10 2-4 2 9 2-7 3-28 2-13 2-2 2-3 2-16 2-19 2 14 2 4 2-21 3 44 2-51 2 38 2-6 2-10 2 27 2 12 2 15 3-17 2-32 2 32 2 4 2 11 2-3 2 15 2-23 2 27 3-29 2-23 2 20 2-27 2-7 2-36 2 27 2-30 2 71 3-38 2-34 2 8 2-39 2 53 2-10 2 52 2-24 2-1 3 42 2-12 2 11 2 1 2-12 2-5 2 30 2-18 2 27 3-14 2-6 2 23 2-8 2 11 2 12 2-29 2 27 2-12 3-4 2-13 2 10 2 8 2-46 2 38 2-1 2-28 2-6 3 10 2-7 2-27 2 1 2-6 2 43 2-68 2 52 2 28 3-27 2 19 2-10 2 0 2-5 2 4 2-21 2-15 2 0 3 55 2-5 2-9 2 27 2-6 2-7 2 25 2-35 3 33 2-1 2-2 2 8 2-5 2-20 2 12 2-18 2 13 3-13 2 8 2-20 2 22 2 1 2-21 2-7 2 1 2 5 3-39 2-11 2 9 2 25 2-16 2-44 2 15 2 28 2-14 3 50 2-38 2 46 2-1 2 20 2 8 2 0 2-7 2 11 3-3 2-3 2 4 2-1 2 8 2-5 2 1 2-3 2-7 3 2 2-5 2-31 2 23 2 8 2-16 2 26 2-11 2-1 3 7 2 6 2-27 2-2 2 7 2-13 2 19 2-15 2 8 3-50 2 17 2-10 2 19 2 4 2-16 2-19 2 42 2-28 3 22 2 3 2 0 2 28 2-5 2 5 2-9 2 5 3 9 2-10 2 11 2 8 2-15 2 14 2-7 2-15 2 10 3-51 2 14 2 13 2 13 2-79 2 77 2-6 2 20 2 8 3-4 2-2 2 0 2 5 2-1 2-5 2-3 2 13 2-11 3 2 2 4 2-9 2-27 2 25 2-16 2 14 2-8 2-27 3 9 2 28 2-40 2 10 2 12 2-14 2-7 2-1 2 0 3 36 2-17 2 19 2 1 2 6 2-58 2 55 2-34 2 37 3-16 2 2 2 3 2 17 2-19 2-5 2 29 2-20 2-9 3 18 2 8 2-32 2 8 2 25 2-7 2-10 2-30 2 35 3-6 2-1 2-79 2 15 2 10 2 20 2 12 2-94 3 66 2-24 2-34 2-12 2 31 2-30 2 78 2 31 2-63 3 70 2-14 2-5 2-8 2 24 2-21 2-15 2 18 2 15 3 22 2-35 2 17 2 20 2-14 2 5 2 9 2-20 2 9 3 7 2-3 2-13 2 24 2-30 2-6 2-11 2 22 2-59 3 24 2 25 2-55 2-1 2 50 2 3 2-3 2 22 2 5 3 5 2 15 2-13 2 2 2 4 2-12 2-7 2 15 2 0 3-3 2 1 2 1 2 8 2-32 2 37 2-10 2 0 2-2 3 3 2-6" stroke="#0000df"/><path d="M2660 1835l2-16 2 14 2-13 2 11 3-2 2-2 2 5 2-27 2 20 2 4 2 3 2 2 2-15 3 6 2 7 2-1 2-8 2 2 2-3 2 5 2 3 2 0 3 0 2-1 2-6 2 4 2-1 2 5 2 2 2 3 2-7 3 5 2-11 2 6 2 7 2-7 2-9 2 5 2 5 2 4 3-8 2 5 2-2 2 1 2 5 2-4 2-9 2 6 3 6 2-4 2-1 2 2 2 1 2 3 2-4 2 1 2 6 3-9 2 5 2 4 2-12 2-2 2 7 2-6 2-12 2 8 3 14 2 3 2-10 2-5 2 6 2-1 2-1 2 3 2-16 3 17 2 6 2-21 2 14 2-16 2 17 2 0 2 4 2-2 3-13 2 10 2-4 2 4 2-8 2 8 2-3 2 10 2-5 3 0 2 3 2-11 2 11 2-9 2 13 2-10 2-1 2 2 3 3 2-5 2-7 2 3 2 4 2 7 2-7 2 6 2 2 3-7 2-7 2 14 2-2 2-4 2 7 2-9 2 6 2-2 3 3 2-13 2 12 2 0 2-2 2-1 2 2 2-5 3 2 2-3 2 3 2-1 2 6 2-6 2 6 2-4 2 2 3 3 2-5 2-1 2 8 2-6 2 4 2-10 2 4" stroke="#0000df"/><path d="M2960 1795l2-62 2-42 2-10 2-31 3-16 2 57 2 32 2 6 2 28" stroke="#0000df"/><path d="M819 1829l2-1 2-1 2 10 2-11 2 2 2 3 3 1 2-1 2-2 2 6 2-6 2 4 2-11 2 6 2 6 3 0 2-14 2 6 2 1 2-2 2 2 2 2 2 6 2-2 3-5 2-2 2 6 2 5 2-1 2-2 2-20 2 15 3-2 2 0 2-1 2-8 2 19 2-2 2-3 2 2 2-1 3-2 2-2 2 3 2-3 2 2 2 4 2-1 2 1 2-8 3-6 2 12 2-2 2-3 2 1 2 1 2 1 2 1 2-3 3-6 2 7 2-6 2 5 2-5 2 6 2 0 2-1 2-5 3 3 2-4 2 7 2-2 2 7 2-2 2 2 2-15 2 7 3-6 2 8" stroke="#0000ff"/><path d="M1249 1771l2-47 2 5 2 23 2-2 2 5 2-25 2 9 3 74 2-9 2 6 2-20 2 5 2 9 2 9 2-2 2-2 3-1 2-28 2 26 2-17 2 22 2-21 2-21 2 31 2-25 3-22 2 47 2-29 2-28 2-1 2 37 2-8 2 14 2 4 3-2 2-12 2 9 2 9 2 9 2 0 2-1 2 1 3 2 2-10 2-9 2-12 2 2 2-8 2 16 2-19 2 23 3-40 2 56 2-14 2 14 2-16 2 26 2-4 2-15 2-2 3 23 2-17 2-26 2 36 2 4 2-2 2-18 2 15 2 2 3-6 2 5 2 2 2-11 2 0 2-4 2 17 2 1 2-13 3-15 2 21 2 6 2 3 2 2 2-7 2 2 2-7 2 7 3-17 2 22 2-42 2 5 2 22 2-8 2-13 2 12 2-3 3 14 2 8 2-1 2-14 2 1 2-42 2 57 2-6 2-54 3 62 2-12 2-19 2 33 2-17 2-19 2 16 2 16 2-9 3 3 2-6 2-8 2 17 2-2 2 3 2-14 2-3 3 4 2 16 2-30 2 26 2 0 2-4 2 10 2-1 2 1 3-11 2 8 2 2 2 2 2-10 2 10 2-4 2-7 2-8 3 14 2-1 2-25 2 8 2-2 2-18 2 22 2 0 2-21 3 13 2-25 2 5 2 3 2 2" stroke="#0000ff"/><path d="M2389 1803l2-35 2-12 2-18 2 8 2-1 2-37 2-20 3-4 2-13 2 43 2 40 2 3 2-35 2-14 2 25 2 9 3-2 2 9 2 2 2 5" stroke="#0020ff"/><path d="M2810 1817l2-58 3-51 2-33 2 29 2 41 2-36 2-46 2 18 2-5 2-16 3-6 2-53 2 45 2 24 2 15 2 10 2 15 2 5 2 17" stroke="#0020ff"/><path d="M798 1831l2-9 3 11 2-11 2-5 2 11 2 0 2-8 2 9 2 5 2-1 3 5 2-22 2 15 2-22 2-7 2 29 2-16 2 5 2-8 3 19 2-11 2 9 2-31 2 27 2-31 2 40 2-18 2 14 3-10 2 16 2-49 2 4 2 11 2 3 2-2 2 24 2-1 3-3 2-41 2 48 2-30 2-8 2 18 2 7 2-45 2 16 3 36 2 4 2-48 2-26 2 2 2 34 2-6 2-22 2-12 3 41 2-18 2 29 2-5 2 4 2-5 2 31 2-28 2-4 3-15 2 34 2-24 2 10 2-7 2-31 2 44 2-40 3-38 2 103 2-42 2 35 2 8 2-4 2-26 2 19 2 10 3-37 2 35 2-2 2-1 2-28 2 25 2-32 2 42 2-31 3 8 2 19 2-3 2 4 2-4 2 6 2-9 2 5 2-15 3 6 2 7 2-5 2 15 2-4 2-11 2 11 2-10 2 9 3 4 2-3 2-2 2 4 2-5 2 4 2-3 2 2 2-3 3-3 2 5 2-7 2 15 2-15 2 2 2 10 2-7 2-2 3 8 2-5 2 5 2-1 2-3 2 4 2 1 2-22 2 18 3-4 2 1 2-5 2 11 2-10 2-1 2 9 2-1 2-7 3 7 2 1 2-2 2 4 2-6 2-5 2 11 2-2 3-5 2-1 2 0 2-9 2 15 2-5 2-8 2 2 2 12 3-8 2 5 2-17 2-18 2-6 2 7 2-26 2 44 2-19 3 12" stroke="#0040ff"/><path d="M2400 1803l2-18 3-14 2-36 2-19 2-7 2 40 2 33 2-2 2 13 2 4 3 12 2 2 2-2 2-25 2-11 2 12 2-9 2 28 2 2 3 3 2-12 2 11 2 12 2-16 2 12 2-4 2 2 2-2 3-24 2 28 2-2 2-10 2-9 2 20 2-4 2-4 2 11 3 1 2-26 2 10 2-6 2-32 2-15 2 34 2-3 2 24 3 13 2-9 2 10 2-14 2 8 2 4 2-10 2 1 2-22 3-9 2 17 2-21 2-14 2 14 2-16 2-17 2-2 3 12 2 20 2-22 2 30 2-2 2 14 2-6 2-19 2 19 3 8 2-3 2-3 2 1 2 1 2-7 2 27 2-14 2 1 3 6 2 7 2 3 2 2 2 0 2 3 2 7 2-8 2 1 3-7 2 8 2 1 2-6 2 4 2-10 2 5 2-1 2 5 3-3 2-9 2 6 2 1 2 12 2-8 2-3 2 5 2-4 3 3 2-5 2 0 2-3 2 8 2-5 2 5 2-23 2-6 3-25 2-23 2 32 2-40 2 31 2 34 2 4 2 15 2-15 3 16 2-7 2 5 2 2 2 3 2-5" stroke="#0040ff"/><path d="M2660 1816l2 2 2 0 2 3 2-7 3 7 2-1 2-13 2 3 2 9 2-3 2-8 2 15 2-3 3-6 2 4 2-27 2 29 2-23 2 22 2-2 2-1 2 0 3-1 2 7 2-5 2 4 2-3 2-23 2 8 2 10 2-5 3 0 2 5 2-4 2 2 2 5 2 0 2-17 2 17 2 3 3-3 2-19 2 13 2-9 2-1 2 8 2 2 2 6 3-2 2 4 2-5 2 8 2-7 2 5 2-3 2 0 2-5 3 9 2-6 2-4 2 2 2 2 2 1 2 2 2 1 2-12 3 1 2 14 2-7 2 0 2 0 2-2 2 0 2 10 2-9 3 5 2 2 2-5 2 1 2-10 2 8 2 4 2-8 2 5 3-6 2 8 2-2 2-6 2 6 2 0 2-13 2-7 2 18 3-15 2 9 2 9 2-17 2 6 2-21 2 21 2-17 2 4 3-13 2-5 2 16 2-7 2 16 2-6 2-1 2-31 2-10 3 28 2-10 2-2 2-3 2-11 2 35 2-18 2 15 2-55 3 15 2 27 2 28 2-29 2 18 2-4 2 12 2 16 3-14 2-9 2 23 2 5 2-2 2 0 2-8 2 3 2 3 3-5 2-8 2 8 2-5 2 10 2-2 2-9 2-28 2 33 3 8 2-6 2 0 2-15 2 18 2 6 2-2 2-6 2 8 3 2 2-8 2-2 2 5 2-9 2 4 2 0 2 5 2 4 3 2 2-8 2 3 2 0 2-8 2 7 2 1 2 2 2-2 3 0 2-1 2 10 2-16 2 2 2 7 2-5 2 6 2-3 3 2 2-5 2 4 2 1 2-8 2 9 2 1 2-7 2 2 3 4 2-4 2 2 2-2 2-5 2 2 2 4 2-8 2 9 3 6 2-3 2-1 2-9 2 13 2-5 2-1 2 0 3 5 2-6 2 4 2-3 2-7 2 5 2 4 2 0 2-3 3 3 2 4 2-3 2-2 2-8 2 6 2 1 2 2 2-7 3 5 2-1 2 2 2 1 2 2 2-2 2 2 2-5 2-4 3 6 2-1 2 1 2-8 2 10 2-2 2-1 2 0 2 0 3 1 2-2 2-1 2-2 2 4 2-2 2 0 2 7 2-4 3-8 2 7 2-1 2-1 2-3 2 8 2-4 2 4 2-1 3-2 2-7 2 2 2 5 2-13 2 15 2-1 2 0 2-2 3-6 2 6 2 0 2-7 2 9 2-12 2 10 2-11 2 5 3-6 2 13 2-4 2 0 2-4 2-2 2 12 2-13 3-11 2 12 2-1 2 5 2 5 2 4 2 2 2-8 2 3 3-2 2-5 2 9 2-2 2-11 2 7 2-4 2 3 2-5 3 3 2 6 2-5 2-1" stroke="#0040ff"/><path d="M3150 1830l3-6 2 0 2 4 2-7 2 8 2-1 2-6 2-1 3 11 2 0 2-8 2 7 2-9 2 8 2 3 2-4 2-6 3 9 2-3 2-4 2 3 2 1 2-1 2-1 2-1 2 2 3-3 2 9 2-8 2 6 2-7 2 3 2 0 2-5 2 5 3-3 2-1 2-3 2-2 2 14 2-10 2-7 2 9 2 2 3-1 2 0 2 2 2-5 2 11 2-16 2-3 2 18" stroke="#0040ff"/><path d="M791 1809l2-87 2-60 2-8 2 23 2-22 2-8 2 13 3-32 2-72 2 65 2 35 2 0 2 13 2 39 2 19 2-6 3-5 2 21" stroke="#0040ff"/><path d="M1241 1812l2-64 2-10 2-51 3-79 2-73 2 51 2 48 2 22 2 4 2 28 2 12 2 18 3 43" stroke="#0040ff"/><path d="M3038 1814l2-76 2-53 2-19 2-17 2-15 3 39 2 28 2 23 2 53" stroke="#0040ff"/><path d="M3302 1792l2-57 3-13 2-2 2-11 2-22 2-15 2 1 2 23 2-5 3-16 2 4 2-58 2 68 2 36 2 10 2-16 2-16 2 16" stroke="#0040ff"/><path d="M3193 1828l2-10 2 6 2-6 3-16 2-6 2 11 2-7 2 4 2-5 2 8 2 2 2 16 3-7 2 9 2 3 2-14 2-13 2 19 2-2 2 9 2-2 3-20 2 11 2-3 2-7 2 1 2 7 2 2 2 2 2 5 3-17 2 19 2-43 2 42 2-3 2 4 2-16 2 10 3 4 2 3 2 0 2-5 2-14 2 15 2 1 2-9 2 9 3 1 2-9 2 3 2 0 2-14 2 3 2 18 2-16 2 13 3-3 2-21 2 28 2-12 2 3 2-5 2 11 2-11 2 12 3-1" stroke="#0060ff"/><path d="M1129 1799l2-52 2-13 2-17 2-18 3 20 2 18 2 5 2 21 2 23" stroke="#0060ff"/><path d="M1754 1794l2-97 2-44 2 9 2 3 2-60 2 37 2 32 3 22 2 63" stroke="#0060ff"/><path d="M2056 1792l3-28 2-28 2-18 2 11 2 2 2-36 2 31 2 18 2 3 3-4 2 13 2 10 2 18" stroke="#0060ff"/><path d="M1653 1771l2 17 2 20 2-4 2 24 2-28 2-13 2-55 3 4 2 37 2 5 2 22 2 8 2 20 2-9 2-8 2 14 3-38 2 35 2 4 2-10 2-19 2 27 2-6 2 12 2-12 3 10 2-14 2-3 2 4 2-5 2 8 2 0 2 3 2-8 3-8 2 16 2-19 2 20 2-1 2-6 2 6 2-31 2 28 3 12 2-10 2 1 2 0 2-22 2 27 2-4 2-3 2-17 3 20 2-3 2 10 2-14 2 11 2-4 2 6 2-8 2-1 3 7 2-13 2 11 2 8 2-4 2-5 2 5 2-5 2 1 3-6 2 4 2 3 2-13 2 15 2-18 2-12 2-6 2-16 3 13 2-32 2 49 2-18 2-38 2 3 2 1 2 42 3-6 2-4 2 15 2 16 2-3 2 7 2-2 2-10 2 19 3-2 2 1 2-13 2 4 2 6 2-4 2 10 2 0 2-4 3-6 2 7 2 3 2-19 2 17 2-3 2 4 2-7 2-5 3 8 2 6 2-10 2 8 2 4 2-5 2-2 2 3 2-9 3 8 2 4 2-3" stroke="#0080ff"/><path d="M3192 1808l2 9 2-10 2 10 2-8 2 0 2 17 2-34 2 27 3-10 2 10 2 3 2-24 2 4 2 18 2-18 2 17 2-38 3 14 2-4 2-7 2-29 2 50 2-9 2 3 2-6 2-16 3 4 2-3 2 7 2-40 2 18 2 14 2-15 2-23 2 51 3 1 2 16 2 2 2 5 2-24 2 21 2 16 2-5 2-10 3-43 2 8 2-6 2-55 2 29 2 34 2 15 2-6 3 25 2-29 2 31 2-5 2 4 2-3 2 19 2-4 2 1 3-19 2 16 2-27 2 15 2-44 2 46 2 0 2-42 2 46 3 0 2-9 2-7 2 6 2 1 2-18 2 2 2-31 2 51 3 4 2 0 2-11 2-8 2 6 2-6 2-29 2 9 2 18 3 11 2 22 2 3 2-29 2 11 2-3 2 5 2-4 2 13 3-6 2 2 2-12 2 10 2-4 2 16 2-10 2 5 2-4 3 2" stroke="#0080ff"/><path d="M3147 1811l2-55 2-29 2-66 2-16 2 13 2-39 2 54 2 40 3 42" stroke="#0080ff"/><path d="M3366 1817l2-77 2-57 2 47 2 18 3 6 2-6 2 11 2 17 2 15" stroke="#0080ff"/><path d="M381 1796l2-62 2 51 2-5 2 23 3 6 2-18 2 29 2-62 2 21 2 22 2 6 2-6 2-58 3 52 2 15 2-4 2-24 2 33 2 1 2-42 2 36 2-4 3-32 2 38 2-21 2 25 2-11 2-6 2 16 2-45 2 14 3 15 2 0 2 6 2 5 2 1 2-20 2 2 2 24 3-23 2 19 2-12 2 22 2-1 2 3 2-30 2 19 2-11 3-8 2-10 2-3 2 41 2-35 2 21 2-11 2-1 2 3 3-22 2 15 2-9 2 29 2-19 2 14 2-57 2 57 2-2 3-12 2-4 2-21 2 19 2 23 2 2 2-7 2 6 2-25 3 18 2-1 2 16 2 0 2 1 2-1 2-12 2 8 2-33 3 29 2-15 2-1 2 5 2 11 2 4 2-22 2 6 2 23 3-12 2-15 2 7 2 5 2-4 2-4 2 18 2-7 2-3 3 4 2 12 2 1 2-23 2-1 2 19 2-4 2-6 2 2 3 7 2-13 2 18 2-2 2-20 2 19 2-8 2 7 2-7 3-5 2 14 2-2 2-7 2 10 2-13 2-2 2-1 3-4 2 18 2-22 2 22 2-6" stroke="#009fff"/><path d="M2556 1814l2 10 2 1 2-3 3 4 2-2 2-2 2 4 2-1 2-11 2-5 2 23 2-21 3 11 2 5 2-18 2 17 2 3 2-18 2-26 2 4 3 13 2 0 2-17 2-31 2-29 2 55 2-7 2 6 2 15 3 5 2-6 2-23 2 25 2 0 2-1 2-5 2-30 2 40 3-43 2 3 2 11 2-44 2 24 2 18 2 39 2 16 2 1 3 5 2-5 2-2 2 4 2-27 2 26 2-21 2 23 2-49 3 53 2-3" stroke="#009fff"/><path d="M2660 1817l2-19 2 11 2 3 2 2 3-12 2 7 2-13 2-37 2 30 2-16 2 23 2-41 2 33 3 14 2-28 2 16 2 11 2 8 2-65 2 56 2-32 2 48 3 2 2-43 2 43 2-19 2 8 2-14 2-9 2 21 2-7 3-27 2 25 2-46 2 13 2 26 2-28 2 5 2-12 2-1 3 38 2-28 2-11 2 15 2-12 2 28 2 10 2 8 3-16 2-3 2 14 2 11 2-2 2 8 2-6 2-15 2-17 3 38 2-43 2 35 2 10 2-49 2 44 2-1 2 4 2-23 3 2 2-14 2 38 2-47 2 23 2 25 2-13 2-13 2-12 3 13 2 15 2-3 2-3 2-3 2-9 2 3 2-9 2 5 3-34 2 26 2-2 2-9 2-16 2 24 2-75 2 38 2 34 3 24 2-17 2-11 2 44 2-7 2-26 2 0 2 7 2 28 3-25 2-16 2 25 2 18 2-1 2-36 2 26 2 10 2-42 3 45 2-35 2 24 2-15 2 16 2-12 2-6 2 12 2 15 3-13 2-77 2 44 2 6 2 17 2 12 2-50 2 30 3-45 2 64 2-5 2-6 2-13 2 23 2-62 2 61 2-53 3 47 2 3 2-18 2 1 2-45 2 37 2-27 2-1 2-25 3 39 2-6 2 20 2-8 2 15 2 30 2-37 2 41 2-22 3-8 2 21 2-8 2 8 2-43 2 4 2 27 2-50 2 62 3-10 2-73 2 69 2-53 2-37 2 85 2-58 2 49 2-24 3 38 2-46 2 29" stroke="#009fff"/><path d="M3060 1798l3-98 2-20 2-51 2-63 2 33 2 43 2 29 2-3 2 21 3 32 2 43" stroke="#009fff"/><path d="M1140 1820l2 9 2-9 2 5 2-3 3-11 2 17 2 1 2-3 2-1 2-5 2 15 2-4 2-6 3 2 2-3 2 4 2-11 2 1 2 1 2 8 2 2 2-9 3 11 2 0 2-27 2 9 2 4 2 11 2-1 2 2 2-10 3 6 2 0 2-13 2 0 2 10 2 0 2-3 2 13 2-5 3-5 2-4 2 7 2-7 2-5 2 15 2-21 2 16 3 5 2 6 2-8 2-2 2 0 2 5 2 1 2-2 2 0 3-5 2 6 2-7 2-3 2 8 2-2 2-5 2 2 2-4 3-5 2 18 2-27 2 23 2 3 2-6 2 2 2 2 2-38 3 25 2 2 2 11 2-10 2-8 2 20 2 1 2-6 2-3 3 0 2 7 2-2 2-2 2 0 2 1 2-19 2 5 2 4 3 1 2 9 2-4 2-1 2 0 2 5 2 3 2-4 2 4 3-3 2-4 2-1 2-8 2 11 2-3 2-3 2 4 2 8 3-2 2-9 2-5 2 7 2 4 2 5 2-13 2-6 2-1 3-8 2 2 2 10 2-12 2-12 2-25 2 7 2 12 3 21 2-6 2-9 2 8 2 19 2 2 2 0 2-2 2 7 3-4 2 3 2 2 2 1 2-3 2 5 2-13 2 11" stroke="#00bfff"/><path d="M1900 1797l2-14 2 11 2-7 2-11 3 17 2-12 2-8 2 16 2-4 2-14 2 8 2-34 2 10 3-7 2 2 2 26 2-37 2 20 2-2 2-16 2 28 2-37 3-11 2 27 2 35 2 11 2 15 2-15 2 17 2-10 2 5 3-21 2 17 2-11 2 12 2 6 2 3 2-4 2-16 3 4 2-8 2 25 2-16 2-10 2 21 2-10 2 3 2-10 3 23 2-27 2 12 2-16 2 36 2-8 2 7 2 2 2-1 3-10 2 13 2-12 2 7 2 2 2-7 2-10 2 5 2 6 3-18 2 21 2-9 2 7 2 2 2-11 2 10 2-2 2-19 3-15 2 31 2-18 2 8 2 19 2 5 2-5 2 0 2-3 3 8 2-6 2 2 2-11 2 3 2-4 2 9 2-7 2-6 3-5 2-22 2 27 2-11 2-1 2 10 2-7 2 14 2 2 3-3 2 1 2-6 2 16 2-9 2 2 2 5 2 2 2 3 3 3 2-17 2 12 2-12 2 9 2 8 2-12 2-6 3 6 2-1 2-1 2-1 2 2 2-10 2-23 2 5 2 8 3-2 2 17 2-17 2-16 2-4 2 5 2 7 2-26 2-11 3 0 2-16 2-10 2-10 2 46 2-68 2 24 2 35 2 24 3-23 2 19 2-14 2 34 2-6 2 4 2-19 2-1 2-21 3 47 2-51 2 8 2 12 2 22 2 24 2-5 2-19 2 30 3 3 2 2 2-5 2 6 2 6 2-5 2-4 2-9 2 11 3 0 2 3 2 1 2-6 2 8 2-19 2 2 2 0 2 13 3-5 2-30 2 14 2 19 2 9 2 0 2-14 2-1 2 5 3-22 2 16 2-4 2 4 2 8 2-9 2 3 2 2 3 8 2-13 2 15 2-16 2 1 2 3 2 2 2-2 2-17 3 7 2 5 2-6 2 8 2 6 2-23 2-10 2 17 2 7 3-5 2-17 2-17 2 15 2-11 2 1 2 6 2-12 2 4 3 6 2-32 2 14 2 17 2-44 2 19" stroke="#00bfff"/><path d="M1700 1796l2-60 3-37 2-21 2-26 2-63 2-53 2-27 2 35 2-2 2 6 3 97 2-5 2-38 2 71 2 60" stroke="#00bfff"/><path d="M2163 1796l2-90 2-13 2-68 3-79 2 121 2 40 2-1 2-22 2-22 2-30 2-24 2 19 3 6 2-2 2 39 2 44" stroke="#00bfff"/><path d="M401 1812l2-5 2 8 2-10 2-1 2 1 2-8 2-5 2 12 3-3 2 21 2-14 2 3 2 7 2 5 2-5 2 6 2 3 3-8 2-10 2 5 2-11 2-2 2 2 2 1 2 14 2 4 3-7 2 5 2 5 2-12 2 13 2-13 2 5 2-2 2-8 3 11 2 6 2-3 2-6 2 3 2-3 2 2 2-11 2 14 3 3 2-9 2 3 2-16 2 17 2 6 2-1 2-9 2 1 3 4 2 4 2 3 2-2 2-5 2-7 2 8 2 9 2-7 3-4 2 3 2 1 2-1 2-1 2-1 2-9 2 6 2 2 3-9 2 10 2-7 2-2 2 10 2-6 2 11 2-14 3 2 2 3 2 8 2-6 2 2 2-1 2-11 2 3 2 3 3 6 2 3 2 1 2-6 2 5 2 0 2-4 2 1 2 2 3-7 2 5 2-2 2-5 2 12 2-5 2 1" stroke="#00dfff"/><path d="M1900 1784l2 29 2-15 2 19 2-23 3 31 2-5 2-13 2 27 2-16 2 5 2-108 2 70 2 24 3 6 2-20 2 28 2 2 2-25 2-24 2 29 2 19 2-7 3-10 2 18 2-41 2 30 2-17 2 19 2-7 2-41 2 12 3-91 2 67 2-10 2-50 2 32 2 7 2 58 2 10 3 3 2 32 2-6 2 3 2-16 2 5 2-16 2-1 2-25 3 0 2-37 2 39 2 12 2-4 2 22 2 15 2-4 2 5 3-3 2-4 2 8 2 0 2 2 2-5 2 5 2 1 2 0 3-8 2 3 2 5 2-1 2-2 2-3 2-6 2 1 2 10 3-8 2 0 2 9 2 2 2-2 2-13 2-4 2 13 2-9 3 10 2 3 2-6 2 3 2 1 2-3 2 3 2-20 2 11 3 11 2-10 2 8 2-12 2 12 2-14 2-22 2 7 2 7 3 1 2 14 2-9 2-2 2 10 2 2 2-8 2 16 2-10 3-16 2 7 2-6 2 2 2-2 2-20 2 13 2-5 3 18 2 11 2-17 2 20 2 0 2-4 2-3 2 0 2 14 3-5 2-15 2 5 2-8 2 12 2-2 2 8" stroke="#00dfff"/><path d="M1111 1808l2-47 2-12 2-20 2-23 2 10 2 6 2-35 2 28 3 27 2 2 2-11 2 16 2 46" stroke="#00dfff"/><path d="M1871 1803l2-34 2-26 2-24 2-12 2-5 2 20 2 25 2-7 3-23 2 3 2 12 2-1 2-24 2-42 2-19 2 16 2 14 3 34 2 17 2-13 2-17 2 12 2 29 2 16 2 10 2 6" stroke="#00dfff"/><path d="M2323 1812l2-124 2-73 2-123 2 56 3 65 2 32 2 0 2 47 2 51" stroke="#00dfff"/><path d="M616 1817l2-1 2-12 2 12 2-8 2 1 2-1 3-9 2 8 2-11 2 16 2 0 2-22 2 10 2-6 2 13 3-15 2 6 2 5 2-4 2 14 2-5 2-7 2 7 3 9 2-1 2-6 2 2 2 7 2-26 2 7 2 10 2-5 3 1 2 7 2-1 2 1 2 0 2-6 2 8 2-3 2 0 3-1 2-7 2 7 2 8 2-14 2 4 2-1 2 7 2-1 3-4 2 4 2 6 2-1 2 1 2-5 2-7 2-7 2 15 3-7 2 1 2-10 2 13 2-5 2 6 2-1 2-12 2 3 3 5 2 4 2-6 2 9 2 1 2 0 2-10 2 5 2 7 3-5 2-9 2 5 2 6 2 2 2-10 2 3 2 6 2-7 3-4 2 0 2 6 2 2 2 3 2-4 2-2 2 3 2-7 3 6 2 3 2-4 2-1 2 5 2-5 2-1 2-5 3 0 2 10 2-8 2 3 2 6 2 1 2-7 2 5 2 0 3-11 2 14 2-1 2 0 2-7 2 6 2-4 2 3 2-4 3 6 2 2 2-3 2 2 2-2 2-1 2-5 2-3 2 3 3 2 2 2 2 3 2-2 2 2 2-8 2 2 2 8 2 1 3-6 2 6 2-8 2-2 2 6 2-2 2-1 2-4 2 6 3 7 2-15 2 12 2-2 2-6 2-4 2 10 2-1 2-18 3-23 2-16 2 26 2 8 2 6 2 12 2 1 2-10 2 15 3-3 2-5 2 2 2 8 2 0 2-4 2-2 2 7 2-6 3-10 2-13 2-14 2-17 2 13 2-43 2 49 2 9 3-16 2 15 2 28 2-9 2 0 2 10 2 4 2-10 2-2 3-38 2 26 2 16 2-5 2 15 2-3 2-8 2 2 2 2 3-2 2 3 2 0 2 3 2-7 2 2 2-17 2 20 2-13 3-2 2 9 2-9 2 13 2-7 2 1 2-25 2 20 2 6 3 8 2-18 2 0 2 17 2-20 2 14 2-1 2-6 2-2 3 1 2 11 2 0 2-2 2-11 2 10 2 2 2-11 2 6 3-16 2 10 2-11 2 0 2-14 2 13" stroke="#00ffff"/><path d="M1595 1811l2 8 2-18 3 17 2 8 2-10 2-2 2 0 2-14 2 34 2-4 2-5 3-4 2-27 2 15 2-13 2 24 2-16 2-4 2-11 2 37 3 1 2-20 2 25 2-25 2 24 2-11 2-3 2-21 2 4 3 0 2 31 2-4 2-5 2-13 2 3 2 8 2 9 2-7 3 10 2-2 2-4 2 1 2-2 2-1 2 10 2-5 2-1 3-1 2 0 2 2 2-3 2 8 2-9 2 4 2-15 2 19 3-18 2 20 2-7 2-4 2-8 2 8 2 7 2-3 3 7 2-3 2-2 2 0 2-1 2 3 2-13 2 8 2 4 3-12 2 7 2 5 2-5 2 0 2 1 2 2 2-19 2 14 3 2 2 5 2 0 2-2 2-4 2 1 2 1 2-5 2 10 3-10 2-1 2 9 2-9 2-5 2 9 2 0 2 0 2-19 3 20 2-5 2-10 2-25 2-2 2 3 2 8 2-20 2 13 3 15 2-3 2 11 2 9 2-1 2-2 2 19 2-5 2-20 3 13 2-3 2-2 2 12 2-21 2 19 2-23 2 15 2-9 3 16 2-12 2 2 2 11 2-6 2-11 2 20 2-7 2 7 3-7 2-10 2 0 2-4 2 16 2-8 2-5 2 10 3-4 2 8 2-7 2 0 2 8 2-7 2 10 2-17 2 10" stroke="#00ffff"/><path d="M2281 1828l2-1 3-3 2 5 2 3 2-6 2-1 2 2 2-4 2 8 3 4 2-6 2 6 2-8 2-2 2-7 2 1 2 0 2 3 3-17 2-6 2-9 2-5 2 24 2-26 2-4 2 9 2 8 3 9 2 15 2-7 2 2 2 4 2 6 2 6 2-5 2-20 3 16 2 6 2-24 2 14 2 12 2-4 2-5 2 4 2-9 3 12 2-11 2 11 2-7 2-22 2 30 2-11 2-6 2 16 3-26 2 11 2 24 2-14 2-4 2 1 2-6 2 15 2-1 3-1 2-3 2-4 2 12 2-16 2-4 2 13 2-2 2 2 3-7 2 8 2 1 2-14 2 5" stroke="#00ffff"/><path d="M3140 1827l2-4 2 4 2 6 2-33 2 25 2 0 3 6 2-18 2 14 2 1 2-8 2-9 2 19 2-11 2 1 3-3 2-22 2 11 2-9 2 6 2 17 2 8 2 5 3-6 2-3 2 10 2-5 2 4 2-6 2-7 2 3 2-2 3-9 2-3 2-20 2-7 2 14 2-13 2-7 2-4 2 11 3-15 2 8 2 0 2 10 2-27 2 26 2 4 2 8 2 7 3-5 2 32 2-14 2-1 2 0 2 5 2-10 2 8 2-4 3 1 2 7 2 5 2 0 2-18 2-2 2-1 2 21 2-6 3-22 2 33 2-20 2 14 2-17 2 9 2 9 2-8 2-22 3 24 2-8 2 13 2-11 2-19 2 24 2-1 2-6 2-5 3-3 2 10 2 11 2-16 2 22 2-21 2-46 2 62 2-44 3 41 2 9 2-29 2 6 2 10 2 5 2-24 2-17 3-26 2-16 2 39 2-17 2 12 2-17 2 10 2 28 2-48 3 5 2-13 2 5 2 36 2 19 2 15 2 5 2 8 2-13 3 7 2 9 2-17 2 11 2-4 2 3 2-9 2-2 2-2 3 15 2 6 2 5" stroke="#00ffff"/><path d="M389 1795l2-71 2-4 2-13 2-53 2-34 2 4 3-1 2-38 2 26 2 57 2-19 2-10 2 51 2-1 2-18 3 40" stroke="#00ffff"/><path d="M381 1807l2-12 2 31 2-6 2-16 3 13 2-11 2 10 2-9 2 16 2-9 2-12 2 16 2-41 3 33 2 11 2-78 2 70 2-1 2 14 2-33 2 7 2 23 3-36 2 5 2 18 2-10 2 24 2-41 2 19 2 7 2-16 3 11 2 20 2-7 2-2 2 12 2-2 2-22 2 8 3-3 2 6 2-7 2 16 2-32 2 25 2-22 2 4 2 6 3-8 2 18 2-3 2 2 2 4 2-14 2 3 2-9 2 12 3-26 2-8 2 42 2 3 2-13 2-8 2 25 2-7 2-4 3 6 2 1 2-3" stroke="#20ffdf"/><path d="M1669 1827l2-6 2 7 2-1 2 2 3-3 2-4 2 4 2 1 2 0 2-7 2 0 2 9 2-1 3 1 2-2 2 1 2-11 2 4 2 6 2 5 2-5 2 1 3-3 2-10 2-18 2-3 2 0 2 1 2 9 2-24 3 36 2-8 2-3 2 16 2 12 2-1 2-12 2 4 2 7 3-2 2 3 2-17 2-3 2 22 2-5 2-13 2 14 2-9 3 1 2 4 2 3 2-16 2 16 2 3 2-23 2 17 2 6 3 1 2-11 2 1 2 6 2-1 2-1 2 10 2-5 2 0 3-2 2-7 2-2 2 7 2 3 2 4 2-16 2 8 2-6 3-22 2-3 2-20 2 4 2-16 2 2 2-7 2 25 2 1 3 3 2 22 2 3 2 20 2-6 2 2 2-2" stroke="#20ffdf"/><path d="M2372 1815l2-56 2-2 2 33 2-31 2 28 2-19 2 6 3-34 2 58 2 7 2 8 2-19 2-38 2 42 2 22 2-25 3-13 2-13 2-92 2 47 2 37 2-97 2 43 2-50 2 77 3-30 2 3 2-31 2 63 2 24 2-6 2 44 2-17 2-9 3 1 2 27 2-48 2-16 2-41 2 69 2-12 2 28 2-5 3 11 2 18 2-41 2 11 2 32 2-50 2 42 2-68 2-22 3 28 2 6 2-22 2 22 2 14 2 30 2 24 2-29 2 33 3-35 2-8 2 4 2 28 2-22 2-15 2 33 2-14 2 25 3-29 2-28 2 42 2-2 2-1" stroke="#20ffdf"/><path d="M3144 1756l2 11 2-1 3-17 2-22 2 32 2 14 2-28 2 20 2-3 2 11 2 1 3-11 2 19 2-45 2 2 2 23 2 6 2-33 2 12 2 11 3-39 2 29 2-7 2 13 2-8 2-36 2 40 2 4 2 2 3 6 2 9 2 29 2-23 2 32 2-19 2 16 2-6 2-18 3 3 2 13 2 2 2-2 2-23 2 24 2-4 2-22 2 15 3 8 2 0 2 9 2 13 2-13 2-1 2 18 2 2 2-17 3 0 2 12 2-7 2 11 2-3 2-15 2 8 2 3 2 4 3-8 2 10 2 2 2-13 2-1 2-16 2-19 2-31 3-6 2 45 2-40 2 38 2-20 2-19 2 8 2 23 2 0 3-2 2 5 2 1 2 4 2-12 2 10 2 4 2-40 2 21 3 5 2 13 2 15 2-2 2-7 2-10 2 32 2-34 2 25 3 17 2-26 2 20 2-34 2 37 2 5 2-27 2 6 2-14 3 10 2-42 2 22 2-3 2 18 2 20 2-23 2 28 2-8 3 4 2-2 2 12 2-7 2-26 2 27 2 8 2-5 2 5 3-3 2-16 2 20" stroke="#20ffdf"/><path d="M487 1797l2-61 2 5 3 7 2-52 2-75 2 17 2 54 2-40 2-123 2 108 2 12 3-34 2-4 2 38 2 4 2-32 2 41 2 59 2-25 2-42 3 4 2 38" stroke="#20ffdf"/><path d="M3112 1800l2-55 2-16 2-17 2 11 2 14 2-26 2-55 3 12 2 30 2 34 2 25 2-11 2-22 2 6" stroke="#20ffdf"/><path d="M716 1812l2 0 2-12 3 3 2 6 2-9 2 10 2 7 2-21 2 10 2-18 3 21 2-17 2 14 2 11 2-39 2 28 2-35 2 25 2-21 3-38 2 45 2-15 2-9 2 39 2 0 2 2 2 15 2-9 3-43 2 13 2 19 2-39 2 10 2 0 2 52 2-57 2 49 3-25 2 18 2 2 2-28 2 12 2-16 2-44 2 38 2 7 3-39 2 31 2 23 2-15 2 31 2 5 2 7 2-4 2-5 3-3 2 16 2-16 2-12 2 9 2 8 2 8 2-22 2 6 3 16 2-20 2-10 2 13 2 6 2-12 2 11 2 2 2-8 3-11 2 19 2-9 2-16 2 8 2-37 2 10 2 21 2-13 3-22 2 23 2 5 2 0 2 10 2-2 2 1 2 18 3-6 2 3 2 8 2-6 2-7 2 0 2-16 2 34 2-21 3 7 2-29 2 44 2-20 2 2 2-4 2 19 2-75 2 69 3 9 2 7 2-17 2 10 2 4 2-1 2-34 2 29 2-10 3-7 2 3 2 10 2 1 2-17 2 3 2 17 2 7 2-25 3 12 2-12 2 20 2-11 2 8 2 2 2 3 2-2 2-7 3-1 2-3 2-11 2-8 2-2 2 8 2-17 2-3 2 0 3-11 2-2 2 18 2-13 2 2 2 7 2-8 2 3 2 19 3 0 2-5 2-4 2 16 2 14 2-10 2-11 2 24 2-1 3 6 2-2 2-2 2-1 2-10 2 13" stroke="#40ffbf"/><path d="M2080 1773l3 6 2-4 2 19 2-15 2-32 2-65 2 29 2 36 2 19 3 3 2-70 2 86 2-37 2 33 2 24 2-22 2 16 2-13 3 6 2 23 2-30 2 32 2-18 2 6 2 8 2-2 2-15 3 9 2-11 2 14 2-3 2 3 2-19 2 23 2-21 2 8 3 3 2-3 2 5 2-36 2 20 2 2 2 9 2 4 3-8 2-4 2 10 2-27 2-7 2 14 2 6 2 13 2-18 3 14 2-2 2 1 2 5 2 8 2-1 2-12 2 6 2 12 3-12 2 7 2 7 2-3 2-3 2-3 2 0 2 7 2 1 3 2 2-7 2-8 2-1 2 3 2 2 2-7 2-12 2 11 3-28 2 8 2-6 2 1 2 13 2-36 2 19 2 3 2 13 3 8 2-32 2 4 2 18 2-5 2 6 2 12 2 1 2-17 3 30 2 0 2-9 2 6 2-1 2-2 2 11 2-9 2 9 3-1 2-9 2 9 2 4 2-8 2-24 2 24 2-3 2-12 3 7 2 2 2 1 2 8 2 2 2 1 2-8 2 5 3-18 2 13 2 6 2-3" stroke="#40ffbf"/><path d="M1020 1794l2-50 3-8 2 8 2-4 2-15 2 11 2 6 2-30 2-24 2 11 3 7 2-1 2 20 2-8 2-34 2 12 2-9 2-41 2-28 3 46 2 26 2-7 2 4 2 0 2 0 2 16 2 10 2 17 3 27 2 13" stroke="#40ffbf"/><path d="M2071 1792l2-81 2-59 2-2 2 47 2 15 2-51 3-39 2 10 2-13 2-20 2-62 2 71 2 32 2 39" stroke="#40ffbf"/><path d="M2508 1803l2-64 2-51 2 1 2 40 2-20 2-64 2-15 2 67 3-2 2-98 2 41 2 31 2 17 2 33" stroke="#40ffbf"/><path d="M392 1757l2 9 3-45 2 12 2 21 2 6 2-12 2 23 2-2 2-56 2 45 3 25 2-47 2 16 2 30 2 14 2 4 2 4 2-17 2 20 3-25 2-57 2 41 2 39 2-6 2-45 2 15 2-21 2-11 3 50 2-22 2-12 2 19 2 1 2 14 2 21 2-118 2-21 3 73 2-29 2 95 2 2 2-25 2 32 2-10 2-9 2-6 3-18 2 25 2 11 2-8 2-36 2 39 2-31 2 36 2-41 3 24 2 13 2 10 2-1 2-6 2-18 2 19 2 7 3-16 2 5 2 2 2-2 2 13 2-31 2-6 2 20 2 17 3-23 2 22 2-1 2-4 2 0 2-1 2-7 2 6 2-9 3 10 2-15 2-2 2 7 2 10 2-2 2-3 2 1 2 10 3-8 2 2 2-4 2 1 2 10 2-3 2-2 2-6 2 3 3-2 2-2 2-9 2-6 2-3 2-1 2-13 2 9 2 19 3-9 2 3 2 3 2 2 2 2" stroke="#60ff9f"/><path d="M1845 1809l2 2 3 2 2 2 2 19 2-5 2-13 2 14 2-25 2 22 2-1 3-6 2-8 2 7 2 6 2-10 2 19 2-26 2 12 2 12 3-14 2-5 2-9 2 20 2 1 2-13 2 16 2-3 3-14 2 20 2-15 2 17 2-16 2-2 2 17 2-20" stroke="#60ff9f"/><path d="M1900 1816l2 4 2-2 2-7 2 3 3-13 2 14 2-19 2 8 2-6 2 6 2-5 2 7 2 5 3 3 2 4 2 4 2-31 2 9 2 13 2 6 2-10 2-72 3 59 2 4 2 3 2 12 2 5 2-43 2 13 2-3 2-15 3 44 2-13" stroke="#60ff9f"/><path d="M3267 1824l2-6 2 3 2-21 2-23 2 30 3-14 2-10 2-14 2 55 2 4 2-4 2-65 2 56 3-4 2 6 2-9 2-3 2-19 2-20 2 3 2-2 2-26 3-25 2 6 2 83 2-16 2 20 2-36 2 38 2 11 2-23 3 15 2-7 2-4 2-6 2 7 2 1 2-29 2 18 2 9 3-1 2-34 2 9 2 30 2-5 2 5 2-10 2-34 2 18 3 30 2-10 2-35 2 52 2-4 2 13 2-45 2 15 2 6 3-5 2-10 2-24 2 21 2-78 2-23 2 119 2-31 2-25 3 58 2 1 2-59 2 58 2 2 2-40" stroke="#60ff9f"/><path d="M3315 1819l2-3 2-1 2-5 2 4 2 4 2 0 2 1 3-4 2 1 2-3 2 9 2-6 2-5 2 0 2 1 2-11 3-14 2 2 2 9 2 2 2 7 2 0 2 9 2-1 2 2 3-1 2-2 2 2 2-5 2 11 2-2 2-5 2 1 2 4 3-3 2 2 2-2 2-1 2 2 2-4 2-2 2 2 3-5 2 6 2-1 2-8 2 9 2-1 2 8" stroke="#60ff9f"/><path d="M614 1794l2-67 3-7 2-24 2 0 2-25 2-58 2 56 2 46 2-5 2-18 3 61" stroke="#60ff9f"/><path d="M1659 1812l2-108 3-7 2-31 2-23 2-21 2-54 2 66 2 35 2 51 2 34 3-19 2-34 2-2 2 27" stroke="#60ff9f"/><path d="M1279 1796l3-16 2 43 2 6 2-18 2 8 2 6 2 6 2-12 2-11 3 19 2-34 2 25 2-13 2 3 2-25 2 19 2-41 2 23 3-28 2 40 2 3 2-31 2 5 2 26 2-30 2 34 2 5 3-20 2 14 2 18 2-24 2-13 2 49 2-60 2 46 2 6 3-8 2 4 2 4 2 6 2-3 2 2 2-3 2 8 2-45 3 39 2-12 2-5 2-6 2 8 2-5 2-21 2 26 3 3 2-34 2 11 2-14 2 12 2-16 2-3 2-2 2 9 3 11 2 20 2-7 2 7 2 11 2-10 2-18 2 29 2 7 3-5 2-14 2 6 2 5 2-1 2 1 2-4 2 15 2-16 3-50 2 61 2-15 2 4 2-6 2 1 2 10 2 2 2 1 3 7 2-6 2 2 2-4 2-16 2 11 2 11 2-6 2 5 3-14 2-10 2 27 2-29 2 6 2 11 2-6 2 18 2-22 3-17 2 28 2-14 2 6 2 10 2-3 2-30 2 23 2 0 3-30 2 40 2-41 2-4 2 23 2-26 2 17 2-44 2 24 3-29 2-22 2 59 2-58 2 15 2 19 2-14 2 42 3-7 2 35 2-18 2 38 2-52 2 36 2-4 2 7 2-5 3-5 2 22 2-13 2 13 2-15 2-9 2-20 2-2 2-17 3 21 2-74 2 37 2 30 2-58 2 67 2-3 2-20 2 26 3-11 2 35 2 5 2-51 2 58 2 4 2-1 2-16 2-19 3 30 2-13 2 11 2-7 2-1 2-16 2 22 2-11 2-10 3-7 2-44 2 23 2 7 2-70 2 23 2-19 2 25 2 28 3 2 2-52 2 72 2 3 2 11 2-8 2-12 2 40 2-23 3 19 2-4 2-13 2 24 2-19 2 22 2 3 2-1 2-29" stroke="#80ff80"/><path d="M2763 1753l2 59 2-38 2-19 2 48 2 7 2-5 2 4 2 1 3-9 2 5 2 13 2-22 2-4 2 23 2-8 2-8 2 11 3-68 2 74 2-89 2 50 2 34 2-9 2 11 2-12 2 11 3-13 2-5 2-12 2 0 2 11 2-53 2 9 2 18 2-10 3-2 2-15 2 1 2-1 2 8 2 41 2-17 2 6 2-22 3 3 2 34 2-27 2 34 2-29 2 34 2-16 2 23 2-30 3 14 2 19 2-31 2 15 2-16 2-10 2 33 2-24 2 27 3-15 2 1 2 5 2 20 2-74 2 45 2-31 2 39 3 5 2-22 2-35 2 19 2-11 2-2 2 4 2 11 2-42 3 48 2-60 2 44 2-85 2 114 2-17 2 5 2 5 2-2 3-1 2 16 2-7 2 17 2-17 2 20 2-6 2 5 2-15 3 4 2 16 2 8 2-61 2 59 2-1 2 0 2-36 2 30 3-6 2-23 2 31 2-4 2 12 2-1 2-10 2-3 2-5 3-10 2-32 2 3 2 24 2 29 2-7 2 2 2 9 2-7 3-2 2 9 2-13 2 15 2-4 2 4 2-1 2-23 2 15 3-4 2-12 2 22 2-26 2 18 2 3" stroke="#80ff80"/><path d="M1268 1805l2-69 2-45 2-44 2-15 2-32 2-42 3 94 2 72 2 49" stroke="#80ff80"/><path d="M2753 1804l2-105 2-51 2-15 2-6 2 1 3 3 2 35 2 6 2-52 2-89 2 84 2 30 2 35 2 26 3-23 2-40 2 16 2 37 2 35" stroke="#80ff80"/><path d="M626 1821l2 2 2-4 2 9 3-11 2-10 2-9 2 6 2-1 2 6 2-41 2 10 2-7 3 10 2-7 2 2 2 13 2 26 2-30 2 27 2-6 2 2 3-10 2 16 2-1 2 8 2 1 2 4 2-7 2 4 2 0 3-8 2 13 2-5 2 0 2 3 2-3 2-6 2 11 2-9 3 4 2 0 2-4 2 9 2-5 2 0 2-2 2 3 2 3 3-2 2 0 2 0 2-4 2 5 2-1 2-8 2 8 2-4 3 3 2 1 2-1 2 3 2-4 2 1 2-1 2-2 2 2 3-5 2 1 2 5 2 0 2 1 2 1 2 2 2-1 2-4 3-3 2 0 2 3 2 2 2-7 2 3 2 3 2 1 3-5 2 7 2-5 2 3 2-2 2-6 2-2 2-6 2-10 3 2 2-7 2-8 2-10 2-10 2 10 2 12 2 1 2 2 3-16 2 32 2-22 2 15 2 5 2 8 2-7 2 16 2-4 3 6 2 0 2 0 2-14 2-11 2-28 2 36 2 7 2 0 3-4 2 14 2-13 2 2 2 8 2-5 2-2 2 9 2-4 3 3" stroke="#9fff60"/><path d="M2113 1813l2 6 2 7 3-5 2 3 2-2 2 3 2 0 2-10 2 7 2-3 2 4 3 0 2 2 2-7 2 3 2-2 2 10 2-13 2 9 2-4 3-6 2-1 2 2 2 9 2-6 2-2 2 2 2-5 3 8 2-20 2 20 2-8 2 0 2 7 2-3 2 0 2-12 3 5 2 18 2-8 2-11 2 10 2-8 2 11 2-5 2 1 3 1 2-9 2 11 2-6 2 1 2-2 2 2 2 7 2 4 3-1 2-9 2 7 2-5 2 4 2-5 2-4 2 4 2-4 3 4 2-16 2 16 2 0 2 6 2-2 2-6 2-5 2 1 3 4 2-6 2-3 2 8 2 9 2-9 2 6 2 0 2-4 3-2 2-7 2 3 2 1 2 2 2 7 2 0 2-1 2 1 3-20 2 22 2-11 2 6 2-3 2 5 2-2 2 0 2-6 3 12 2-5 2 0 2 0 2 0 2-1 2 8 2-4 3-1 2-1 2-7 2 4" stroke="#9fff60"/><path d="M2475 1794l2-66 2-3 2-12 2-11 2 5 2 9 3 4 2-19 2-19 2 3 2 4 2-32 2-16 2 30 2 34 3 22 2 0 2-3 2-17 2-26 2-19 2-43 2-5 2 50 3 11 2-9 2-3 2-12 2-24 2-47 2 50 2 37 2-41 3 10 2 67 2 15 2-40 2-23 2-3 2-10 2 38 2 19 3-42 2 5 2 26 2-8 2-14 2 10 2 22 2 4 2-12 3 4 2 31 2 17 2-13 2-4 2 20" stroke="#9fff60"/><path d="M431 1812l2-21 2 6 3 24 2-35 2-10 2 6 2 19 2-16 2 21 2-40 2 22 3-23 2 22 2-28 2 2 2 8 2 14 2 7 2 8 3-15 2 30 2-7 2-2 2 11 2-9 2-9 2 21 2-5 3 0 2-5 2-3 2 13 2-7 2-3 2 8 2-7 2 6 3-1 2 7 2-9 2 7 2-7 2 6 2-14 2 2 2 6 3-2 2-4 2 5 2-28 2-27 2 21 2-19 2-35 2 28 3-13 2 46 2-24 2 28 2-4 2 0 2 17 2 1 2-11 3 25 2 2 2-19 2 10 2-10 2 5 2 4 2 9 2-11 3 2 2-1 2-16 2 3 2 20 2 2 2-19 2 3 2 10 3-1 2 2 2 5 2-19 2 9 2 13 2-3 2-26 2-2 3-6 2 13 2-15 2 31 2-8 2-29 2 45 2-25 3 23 2-19 2 13 2-19 2-23" stroke="#bfff40"/><path d="M1729 1815l2-127 2 32 2-4 3-48 2-92 2 121 2 46 2 9 2 15" stroke="#bfff40"/><path d="M569 1828l2 2 2 7 2-12 2-21 2 22 2-17 2 7 3 8 2-13 2-29 2 43 2 6 2-10 2-7 2 10 2 8 3-40 2-7 2 27 2 1 2 6 2-13 2-10 2-29 2 60 3-14 2-9 2 25 2-28 2 21 2-93 2 73 2-61 2 33 3 22 2-3 2-34 2 32 2 1 2 28 2-74 2 26 2 47 3 3 2-4 2-41 2-32 2 56 2 17 2-33 2 41 2-22 3-43 2 4 2-7 2-56 2 114 2-45 2-50 2 74 3-6 2 34 2-41 2-2 2 25 2-33 2 60 2-56 2 41 3-1 2-28 2-3 2 26 2 8 2 9 2 3 2-16 2 0 3-41 2 26 2-1 2 0 2 34 2-12 2-17 2 25 2 4 3-14 2-6 2 19 2-15 2-6 2 4 2-34 2 26 2-20 3 41 2-12 2 9 2 5 2-4 2-7 2 7 2 4 2 0 3-11 2 10 2 4 2-9 2 3 2-13 2 15 2 5 2-3 3-17 2-4 2 0 2 16 2 4 2-22 2 10 2 13 2-11 3 3 2-16 2 13 2 2 2 6 2-9 2-10 2-40 2 19 3 37 2-4 2-32 2 32 2 5 2-4 2 7 2-19 3-15 2 22 2 11 2 4 2-25 2-7 2 30 2-4 2-22 3 6 2 20 2 8 2-8 2-3 2 2 2-16 2 12 2-20 3 3 2-2 2 21 2 6 2-38 2-24 2 48 2 6 2-31 3 21 2-10 2-11 2 1 2-51 2 30 2 7 2 4 2 6 3 1 2-11 2 8 2-6 2-30 2 6 2 40 2 8 2 4 3-12 2-32 2 58 2-19 2 25 2-5 2-31 2 2 2 20 3-30 2 41 2-16 2-1 2-10 2 18 2 2 2 7 2-41 3 20 2-8 2-2 2-8" stroke="#dfff20"/><path d="M2236 1796l2-26 2-23 3-4 2-1 2-52 2 60 2 31 2-21 2 15 2-19 3 39 2 9 2-31 2 24 2 20 2-11 2 11 2-1 2 2 3-3 2-4 2 3 2 4 2-2 2-1 2 7 2-5 2 1 3-7 2 2 2-3 2 8 2-3 2-3 2-9 2 4 2-21 3 7 2 11 2-41 2 5 2 7 2-16 2 5 2-21 2 23 3-8 2-30 2 19 2 21 2-17 2 22 2 2 2 18 2-13 3-3 2-23 2 12 2 12 2-13 2-29 2 15 2 3 2-27 3-10 2 21 2-13 2 16 2-40 2 35 2-27 2 45 2-6 3-12 2-10 2-3 2 18 2 9 2 32 2-2 2 3 2 14 3 10 2-11 2 9 2 15 2-4 2-35 2 5 2 28 3-21 2-26 2-35 2 39 2 20 2 2 2 6 2-17 2-24 3 17 2 2 2-23 2 10 2 30 2-30 2 5 2 12 2 22 3-1 2 5 2 2 2 7 2-6 2-9 2 15 2-6 2 3 3 0 2 5 2-15 2 12 2 3 2-1 2-6 2 11 2-4 3-2 2-2 2 2 2-28 2 30 2-4 2 4 2-10 2-12 3 19 2 1 2-3 2 3 2-14 2 13 2 3 2-3 2-7 3 6 2-5 2 3 2-8 2 7 2-8 2 16 2-4 2-2 3 4 2 0 2-8 2-6 2 0 2 7 2-2 2-1 2 2 3-11 2 22 2-31 2 30" stroke="#dfff20"/><path d="M561 1817l2-61 2-51 2-22 2-5 3-7 2-9 2-16 2 15 2 20 2-54 2-77 2 38 2 65 3 33 2-55 2-56 2 24 2 46 2 15 2 24 2 47 3 24 2 5 2-1 2-2 2 1" stroke="#dfff20"/><path d="M2278 1812l2-80 2-18 2 33 2 4 2-39 3-27 2 23 2 3 2-27 2-5 2-51 2-30 2 13 2 0 3 43 2 4 2-12 2 56 2 0 2-44 2-13 2-67 2-43 3 66 2 25 2-13 2-39 2 7 2 49 2 36 2 53 2-7 3-43 2 32 2 36 2-8 2-11 2 21 2 15 2 18" stroke="#dfff20"/><path d="M381 1780l2 18 2-12 2-34 2 18 3 21 2-58 2-1 2 26 2-14 2 30 2 17 2 0 2-5 3-12 2 11 2 7 2 14 2 1 2 11 2-10 2-1 2-13 3-9 2-23 2 4 2-2 2-23 2-4 2-37 2 4 2 45 3 35 2-12 2 32 2-31 2 24 2 15 2-41 2 31 3-6 2 4 2-6 2-28 2 43 2-1 2-2 2-20 2 21 3 10 2-32 2 31 2-33 2-6 2 29 2-36 2 37 2-22 3 19 2-36 2 8 2 42 2-29 2 8 2-50 2-6 2-32 3 52 2 48 2-3 2-130 2 126 2-72 2-2 2 5 2 44 3-66 2 66 2-15 2 23 2-42 2 2" stroke="#ffff00"/><path d="M1597 1824l2-19 2 18 3-10 2 0 2 2 2-23 2-9 2-10 2 34 2 21 2-24 3-12 2 30 2-15 2 11 2 2 2-33 2-14 2 50 2-26 3 3 2-22 2-23 2 14 2-71 2 86 2-51 2-20 3-14 2 75 2-21 2 16 2-1 2-9 2-37 2 24 2-91 3 170 2-46 2 19 2-36 2-68 2 78 2-24 2-29 2 85 3-29 2 14 2-153 2 186 2-85 2 66 2-50 2 72 2-15 3 10 2-31 2 35 2-15 2 12 2-83 2 80 2-29 2 32 3-46 2-39 2-15 2 86 2 0 2 10 2 7 2-21 2 19 3 3 2-16 2 9 2 11 2-12 2 13 2-6 2-19 2 19 3-4 2 9 2-3 2 4 2-3 2-10 2 9 2-7 2-4 3 2 2-2 2 0 2 17 2-15 2-7 2-4 2 19 2-3 3-6 2 3 2-12 2 22 2-1 2-8 2 2 2-17 3 20 2-9 2 1 2-40 2 18 2 36 2-27 2 13 2-3 3 8 2-4 2-3 2 8 2 2 2-9 2 0 2-6 2-21 3 25 2 10 2-5 2-25 2 16 2 19 2-13 2-13 2 21 3-2 2-28 2 38 2-24 2-17 2 14 2 20 2-2 2-14 3-30 2 46 2-23 2-1 2 0 2 3 2 26 2-5" stroke="#ffff00"/><path d="M1900 1800l2 13 2 1 2 10 2 0 3-8 2 9 2-3 2-1 2 3 2-10 2-3 2 5 2 7 3-7 2-9 2 18 2-2 2-6 2 6 2 4 2-5 2-3 3-1 2-16 2 16 2-3 2 5 2 1 2-3 2 0 2 6 3-2 2-2 2-7 2-5 2 18 2-9 2-2 2 6 3-12 2 13 2-12 2-3 2 20 2-2 2 1 2-6 2-4 3-8 2 7 2-3 2 4 2 6 2 0 2-13 2 13 2 0 3-1 2 1 2-3 2 7 2-7 2 7 2-5 2 0 2-5 3-1 2-2 2 12 2 2 2-10 2 6 2 3" stroke="#ffff00"/><path d="M1588 1798l2-205 2-144 2 162 2 32 2 2 2-24 2-21 2 36 3 75" stroke="#ffff00"/><path d="M1596 1814l2-111 2-36 2-51 2-34 2-38 2 67 3 44 2-1 2 81" stroke="#ffff00"/><path d="M2046 1805l2-105 2-11 3 0 2 19 2-17 2-65 2 53 2 39 2 51" stroke="#ffff00"/><path d="M1333 1815l2-14 2 5 2 1 2-9 2-9 2 27 3-15 2 18 2-19 2 13 2-9 2 1 2-7 2 15 2-8 3 5 2-11 2 16 2 1 2-23 2 28 2-5 2-14 2 7 3 0 2 3 2-1 2-13 2 10 2-11 2-15 2-3 2 16 3-6 2-12 2 1 2-22 2 21 2-6 2-19 2 29 2-7 3-1 2 32 2 11 2-13 2 15 2-10 2 2 2 4 2-1 3-11 2 14 2-23 2 28 2-10 2 5 2-6 2-20 2-2 3-21 2 20 2-36 2-15 2-28 2-11 2 52 2 23 3 14 2 2 2 14 2 15 2-15 2-5 2 15 2-19 2 20 3-6 2 9 2-18 2-8 2 27 2-8 2 2 2-1 2-18 3-8 2 24 2 2 2-2 2 4 2-13 2 16 2-6 2 5 3 4 2 4 2-19 2-5 2 11 2 2 2-17 2 8 2-3 3-1 2-28 2 1 2 2 2 27 2-12 2-23 2-1 2 0 3-2 2 25 2 3 2 5 2-20 2 12 2 24 2-1 2-8 3 6 2 8 2-2 2 2 2-3 2-3 2 0 2 7 2 0 3-3 2-1 2 4 2-5 2 2 2 0 2 3 2 2 2-3 3-6 2-19 2 23 2-2 2 5 2 2 2-11 2 2 3 3 2 1 2-12 2 8 2 7 2-9 2 5 2-15 2-15 3 25 2 8 2-9 2-10 2 9 2-18 2 2 2 6 2 3 3 7 2-10 2 3 2 5 2-10 2 8 2 2 2 9 2 8 3-7 2 1 2-24 2-21 2 15 2 7 2-9 2-10 2-12 3 11 2 9" stroke="#ffdf00"/><path d="M3050 1823l2-4 2 3 2-5 2 1 2-2 2 6 2 1 2-4 3 2 2-5 2-5 2-5 2 7 2-2 2 3 2 5 2-6 3 3 2 2 2 5 2-1 2 2 2-7 2 5 2-9 3-1 2 5 2 8 2-8 2 4 2 3 2-7 2 1 2 0 3 4 2-1 2-1 2 0 2-1 2 2 2-13 2 15 2-4 3 3 2-2 2 2 2 0 2-4 2 1 2 1 2-1 2 0 3 3 2 0 2-9 2 3 2 4 2 1 2-6 2 7 2-4 3-5 2 9 2-9 2 7 2 0 2 0 2 1 2-3 2-7 3 16 2-8 2-13 2 4 2 10 2 3 2-14 2 11 2-4 3 1 2 2 2-8 2 8 2-8 2 5 2-13 2 11 2-5 3 6 2-9 2 4 2-10 2 14 2-16 2-4 2-11 2 42 3-12 2-20 2 24 2-29 2 30 2-5 2 10 2-6 3 5 2-7 2 1 2 9 2 1 2-6 2 0 2-7 2 10 3-18 2 23 2-27 2 26 2-8 2-6 2 2 2 4 2 5 3-1 2-6 2-2 2 8 2-10 2 7 2-1 2 2 2-5 3-4 2 6 2 3 2-7 2 5 2 3 2 0 2-10 2-2 3 4 2 2 2 0 2 7 2 0 2-2 2-1 2-1 2 3 3-1 2-1 2-3 2 0 2 4 2 2 2-2 2 0 2 0 3 2 2-4 2 2 2-4 2 3 2 3 2-8 2 11 2-3 3-2 2-2 2 8 2-6 2 0 2 4 2-6 2-1" stroke="#ffdf00"/><path d="M3259 1816l2-58 3-8 2-15 2-2 2 3 2 0 2-22 2-27 2 14 2 28 3-6 2-27 2-79 2 63 2 42 2 17 2 6 2-11 2-37 3-19 2 8 2 34 2 45 2 24" stroke="#ffdf00"/><path d="M749 1806l2-3 2 6 2 5 3 4 2-7 2 13 2-29 2 25 2-10 2 4 2 3 2-29 3 35 2-5 2-16 2 18 2-22 2 21 2-1 2 3 2-21 3 20 2-1 2-12 2 7 2-10 2 23 2-11 2 3 2-28 3 25 2-6 2 15 2-13 2 8 2-16 2 5 2-10 2 18 3 0 2 1 2-8 2 8 2 2 2 5 2-8 2 2 2-5 3 8 2-2 2 6 2-11 2 4 2-7 2 8 2-9 2 3 3 8 2 1 2-7 2 11 2-15 2 8 2 5 2 0 3-10 2 10 2-14 2 2" stroke="#ffbf00"/><path d="M2187 1793l2-7 2-58 2 49 3-42 2 18 2-10 2-89 2 123 2-52 2 5 2 45 2-16 3 10 2 18 2 7 2 10 2-9 2-9 2-20 2 5 2 13 3-15 2 5 2 10 2 5 2 4 2-12 2 4 2-15 2 22 3-3 2-1 2 4 2 5 2 4 2 2 2 11 2-30 2-6 3 30 2-18 2 15 2-15 2 21 2-11 2-8 2-10 2 22 3 4 2 0 2 0 2-21 2 23 2-10 2 2 2 0 2 8 3-7 2-4 2 9 2-2 2-22 2 1 2 12 2 2 2 4 3 6 2-39 2 31 2-18 2-28 2 10 2-40 2 40 2 3 3 4 2 10 2 29 2-72 2 43 2 6 2-18 2-25 3 50 2-26 2 45 2-65 2-30 2 22 2-44 2 32 2 63 3-34 2-42 2 56 2-69 2 10 2 35 2-99 2 90 2 42 3-72 2 43 2-50 2 58 2-11 2 20 2 4 2 20 2 9 3-45 2 29 2-2 2 1 2-46 2 1 2 54 2-45 2-26 3 77 2-2 2-39 2 38 2-99 2 71 2-46 2 64 2-17 3-89 2 9 2 67 2-33 2 17 2 21 2-2 2 36 2-5 3-15 2-16 2 10 2 28 2-14 2-61 2-4 2 46 2 3 3-34 2 33 2-42 2 25 2 12 2 23 2 10 2-8 2-18 3 19 2 27 2 0 2-18 2-20 2 32 2 8 2-39 3-16 2 6 2 27 2-22 2 42 2-56 2 34 2-4 2-11 3 25 2 1 2-9 2-13 2-66 2 81 2-23 2-4 2-3 3-12 2-54 2 52 2-16 2 9 2-14 2 52 2 11 2-13 3-20 2 16 2-70 2 96 2-58 2 34 2-6 2 5 2 29 3-10 2-33 2 48 2-26 2 15 2-11 2 28 2-7 2 1 3-12 2-27 2-12 2 40 2-25 2 21 2 15 2-22 2 12 3 5 2-2 2 1 2-51 2 24 2 8 2 27 2-29 2 9 3-51 2-17 2 51 2-67 2 57 2-9 2-8" stroke="#ffbf00"/><path d="M2660 1745l2 27 2 28 2-27 2 46 3-125 2 75 2 49 2 2 2-70 2 58 2-11 2 19 2-44 3 50 2-5 2-79 2 68 2-24 2-14 2-13 2 24 2-24 3 25 2-141 2 146 2-38 2 15 2 40 2-9 2-2 2-34 3 49 2-35 2-1 2 50 2-59 2 60 2 2 2 3 2-5 3-64 2 48 2-7 2-14 2 32 2-24 2-36 2 65 3-21 2 23 2-1 2-30 2-9 2 34 2-6 2 4 2-10 3-24 2 38 2-17 2-29 2 34 2-5 2 3 2 23 2-54 3 22 2 24 2-2 2 4 2-11 2-6 2 15 2 6 2-2 3-27 2 10 2-60 2 53 2-5 2-15 2 23 2 6 2-27 3 4 2 35 2-28 2-5 2 19 2 8 2-11 2 13 2-48 3 35 2-24 2-24 2 19 2-1 2 25 2 20 2-6 2 9 3-11 2-8 2 17 2-36 2 36 2 4 2-1 2-9 2 13 3-15 2-31 2 26 2 1 2-30 2 8 2-1 2-3 2 8 3-16 2-20 2 24 2-13 2 31 2-15 2 7 2 8 3-17 2 1 2 18 2 3 2-5 2-14 2 8 2 0 2 10 3 6 2 6" stroke="#ffbf00"/><path d="M1325 1818l2-44 2 3 2-11 3-31 2-49 2-17 2 4 2-2 2 13 2 15 2 3 2-7 3 23 2 34 2-19 2-43 2-69 2 57 2 57 2 18 2-18 3 14 2 5 2-22 2 0 2 23" stroke="#ffbf00"/><path d="M1848 1801l2-78 2-46 2-29 2-51 3 36 2 38 2 20 2 0 2 18 2 31 2 4 2-15 2 47" stroke="#ffbf00"/><path d="M2089 1812l2-74 2-38 3-35 2-36 2-26 2 26 2 36 2 36 2 61" stroke="#ffbf00"/><path d="M1102 1804l2-3 2 28 2-46 2 8 2-3 2-2 3-58 2 54 2 22 2-9 2 6 2 15 2-3 2-22 2 24 3-31 2 38 2 4 2-11 2-10 2 15 2-3 2 11 2-12 3-6 2 3 2 18" stroke="#ff9f00"/><path d="M1140 1758l2-5 2-23 2 49 2-10 3 41 2-12 2-105 2 104 2-51 2 65 2 9 2-10 2-3 3 8 2-6 2 6 2-22 2 13 2 8 2 0 2-8 2-43 3 49 2-5 2 3 2-66 2 73 2-54 2 25 2 20 2-68 3 78 2-48 2 22 2 20 2-10 2 11 2-21 2 1 2 3 3 17 2-20 2-1 2-3 2 2 2-61 2 42 2 12 3-23 2 18 2-27 2-7 2 28 2 14 2 2 2 19 2-17 3-4 2 14 2 3 2-13 2 9 2 18 2 3 2-17 2-1 3 13 2-10 2-4 2 20 2-3 2-7 2 7 2-23 2 20 3-1 2-5 2 3 2 12 2-13 2 7 2 2 2-1 2-5 3-2 2 2 2-3 2 1 2 5 2 4 2-16 2 12 2-8" stroke="#ff9f00"/><path d="M2466 1819l2-29 2 41 2 8 2-36 2 21 3-13 2-6 2 20 2-30 2 18 2-10 2 3 2-26 2-17 3 9 2 0 2 11 2 9 2-61 2 40 2-7 2 32 3-93 2 61 2-42 2 80 2-64 2 33 2 26 2-19 2 10 3 17 2-21 2 28 2-10 2-21 2-3 2 35 2-21 2 10 3 15 2 4 2-1 2-9 2 14 2-3 2 3 2-8 2-9 3 14 2 7 2-4 2-23 2 12 2 16 2-32 2 32 2-16 3 12 2 1 2-6 2-23 2 25 2-27 2 24 2-3 2 4 3 2 2-3 2-28 2 40 2-31 2 19 2-20 2 27 2-6 3 0 2-3 2-6 2 8 2-17 2 27 2-7 2-5 2 10 3-5 2-2 2 9 2-18 2 4 2-26 2 22 2 6 2 16 3-13 2-1 2 12" stroke="#ff9f00"/><path d="M2423 1813l3-65 2-2 2-6 2-31 2-21 2-38 2 52 2 24 2 39" stroke="#ff9f00"/><path d="M2693 1804l3-87 2-26 2 1 2-4 2-40 2-25 2 32 2 55 2 37 3 27" stroke="#ff9f00"/><path d="M2917 1814l2-50 2-43 2-42 2-7 2 1 3-33 2-4 2 48 2 22 2-57 2-60 2 37 2 9 2-19 3 1 2 13 2 12 2 8 2 18 2 45 2 23 2-1" stroke="#ff9f00"/><path d="M392 1819l2-2 3-9 2 11 2-3 2-8 2 7 2 5 2-11 2 1 2-2 3 4 2 7 2 1 2-5 2 3 2 3 2-3 2 4 2 1 3-3 2-7 2-1 2 6 2-4 2 0 2-3 2 16 2-9 3 5 2-5 2 10 2-6 2 3 2-14 2 2 2 9 2 1 3-5 2 1 2-2 2-4 2 9 2-2 2 2 2-5 2 5 3-5 2 4 2-6 2 2 2 0 2 6 2-12 2 11 2 0 3-3 2 4 2-9 2 7 2-4 2-3 2 4 2-4 3 9 2 2 2-5 2-3 2 0 2-3 2 1 2-2 2 4 3 3 2-4 2 3 2-7 2 5 2-2 2-3 2 6 2 0 3-6 2 8 2 3 2-4 2 3 2 0 2-10 2 9 2-2 3 1 2 2 2-9 2 5 2 2 2 5 2-6 2-7 2 6 3 0 2-7 2 6 2-2 2 9 2-17 2 18 2-5 2-3 3-5 2 4 2 2 2-1 2-8 2 4 2 4 2-2 2 2 3-1 2 5 2 1 2-1 2-4 2-5 2 0 2 1 2 6 3 3 2 1 2-4 2 0 2-3 2 4 2 3 2-4 2-1 3 1 2-3 2 6 2-6 2-1 2 6 2-5 2 3 3 2 2 0 2 1 2-5 2 5 2-1 2-14 2 20 2-4 3-10 2 7 2 4 2-5 2-1 2 1 2-4 2 2 2 5 3-2 2-2 2 0 2 3 2 0 2 1 2 0 2-1 2 0 3 5 2-6 2-4 2 6 2 3 2-4 2 5 2-7 2 4 3-3 2-4 2 7 2-3 2 3 2-2 2 3 2-4 2 0 3 11 2-12 2 1 2-5 2 6 2 2 2-6 2 4 2 5 3-16 2 13 2-1 2 0 2-3 2-1 2-2 2 2 2-2 3-6 2 3 2 6 2-1 2 5 2-6 2 4 2 0 2-12 3 15 2-11 2 9 2-9 2 3 2 0 2 2 2-1 3 6 2-18 2 14 2-4 2 0 2 4 2-6 2 2 2-8 3 10 2 6 2-1 2-5 2-8 2 8 2 3 2-3 2 3 3 2 2-10 2 11 2 0 2-10 2 8 2-1 2 6 2-7 3-2 2-2 2-7 2 16 2-6 2 1 2-5 2 4" stroke="#ff8000"/><path d="M1990 1811l2-16 2-14 3 42 2-12 2 2 2 1 2 5 2-11 2 2 2 0 2 11 3-17 2 3 2 11 2-6 2-2 2 1 2-18 2 21 2-19 3 21 2-37 2 26 2 17 2-4 2-52 2 28 2 25 2-5 3 0 2-3 2-23 2 3 2 30 2-1 2-41 2 25 2 1 3 17 2-36 2 25 2-21 2 7 2 7 2 15 2 0 3-3 2 7 2-9 2 5 2-9 2 11 2 3 2-23 2 10 3 9 2-10 2 8 2-2 2-23 2 9 2-17 2 33 2-25 3 10 2 18 2-10 2 11 2-10 2-4 2 2 2 2 2-2 3-10 2 21 2-6 2 13 2-14 2 11 2-14 2-3 2 7 3-14 2 9 2-6 2 5 2-1 2-1 2 7 2-20 2 14 3-31 2 29 2-8 2 11 2-29 2 3 2-5 2 20 2 2 3 1 2 8 2 2 2-8 2 7 2 4 2 3 2-1 2 5 3-3" stroke="#ff8000"/><path d="M389 1815l2-28 2-4 2-30 2-39 2-23 2 4 3 23 2 8 2 14 2 14 2-44 2-80 2 44 2 56 2 8 3-26 2-38 2 2 2 24 2-7 2 1 2 22 2 28 2 18" stroke="#ff8000"/><path d="M856 1791l2-113 3-5 2-17 2 2 2-31 2-56 2-12 2-16 2 17 2 61 3-24 2-65 2 52 2 49 2-58 2-30 2 38 2-10 2-141 3 104 2 49 2 51 2 50 2 37" stroke="#ff8000"/><path d="M2036 1815l2-84 2-55 2-49 2-27 2-22 3 62 2 71 2 19 2 34" stroke="#ff8000"/><path d="M2421 1827l2-2 2-9 2 12 2-10 2 11 2-2 3-3 2-5 2-11 2 13 2 1 2-8 2-11 2-3 2 24 3-10 2-1 2 13 2-9 2 4 2 1 2-9 2-12 3 18 2 4 2-2 2-5 2-4 2 0 2-17 2 22 2-21 3-9 2 15 2 22 2-7 2 1 2-26 2 19 2-16 2-9 3 26 2-20 2 29 2-27 2 18 2 7 2 2 2-1 2-1 3 6 2-6 2 5 2-4 2 7 2-3 2-4 2 2 2-15 3 15 2-1 2-6 2-2 2 15 2-3 2-3 2-10 2-5 3 17 2-4 2 2 2 2 2 3 2-9 2-15 2 24 2-31 3 19 2 5 2 2 2-5 2 2 2 10 2-29 2 13 2 0 3 14 2-4 2 5 2-4 2-4 2 3 2 6 2-3 2-4 3-1 2 0 2-2 2-2 2-2 2 5 2-5 2 9 3-16 2 12 2 7" stroke="#ff6000"/><path d="M772 1812l2-61 2-48 3-96 2 82 2 15 2 10 2 11 2 19 2 0 2-26 2-23 3 10 2 80" stroke="#ff6000"/><path d="M1284 1804l2-71 2-73 2-39 3 11 2-59 2-38 2 81 2 29 2-11 2 18 2 100" stroke="#ff6000"/><path d="M1249 1797l2-88 2 13 3-21 2-92 2 70 2 32 2-24 2-18 2 1 2 14 3 26 2 17 2-9" stroke="#ff6000"/><path d="M784 1774l2 12 2 27 2-43 2 37 2 3 3-4 2-5 2 12 2-12 2-6 2 14 2-8 2 10 3 2 2-13 2-25 2 2 2 35 2 2 2-5 2-36 2-33 3 78 2-24 2-49 2 32 2 28 2-35 2 17 2-7 2 14 3 15 2-33 2 15 2-94 2 60 2 3 2 45 2-14 2 19 3-89 2 90 2-6 2-1 2-21 2-9 2-2 2 4 2 16 3-48 2 41 2 6 2-9 2-6 2 31 2-38 2-20 2 39 3-5 2 8 2 15 2-26 2 21 2-8 2-16 2 0 2-5 3-8 2 24 2-37 2 22 2 4 2 18 2 8 2 6 2 10 3-5 2-8 2-4 2-5 2 21 2-3 2-38 2 39 2 0 3-3 2-8 2 1 2 6 2-18 2 15 2-38 2 28 3 0 2-19 2 11 2-16 2 5 2-14 2 20 2-30 2 17 3 9 2-57 2 26 2 21 2 32 2-25 2 2 2 20 2-34 3 41 2-18 2-2 2-2 2-23 2 49 2-37 2 29 2 16 3-10 2-4 2-24 2 13 2-11 2 30 2-29 2 6 2 8 3-21 2-37 2 65 2-24 2 21 2-46 2 6 2 56 2-28 3-29 2 36 2-14 2 28 2-25 2-8 2-2 2 19 2 0 3 9 2 2 2-4 2-5 2-34 2 12 2 21 2 23 2-57 3 56 2-49 2 47 2-26 2 3 2 11 2-35 2 7 2-37 3 0 2 27 2 9 2 10 2 23 2-12 2 3 2-8 3 29 2-1 2-24 2 17 2-10" stroke="#ff4000"/><path d="M1140 1796l2-19 2 9 2 29 2-2 3-24 2 9 2 11 2-24 2 12 2 16 2 2 2-27 2 23 3-39 2 24 2-22 2 25 2-15 2-11 2 5 2-3 2 3 3 14 2 0 2-6 2-4 2 11 2 23 2-21 2-9 2-3 3 6 2 26 2-3 2 3 2-25 2 15 2 3 2 9 2-2 3-3 2-8 2 6 2 4 2 4 2-12 2 0 2 6 3 8 2-14 2 10 2-4 2 2 2 2 2-15 2-5 2-2 3-22 2 14 2-15 2 13 2-21 2 30 2-11 2 9 2 10 3 1 2 2 2 13 2 0 2-9 2-6 2 8 2-6 2 3 3 0 2-9 2 18 2-3 2 6 2-12 2-6 2-14 2-6 3 10 2-14 2 25 2-1 2 11 2-4 2-8 2 1 2-17 3 18 2-17 2-8 2 30 2 11 2-16 2 2 2 5 2-1 3-20 2 8 2-3 2 8 2 6 2-6 2-52 2 32 2-9 3-20 2 50 2-17 2 23 2-85 2 68 2 22 2-6 2-11 3 15 2-56 2 32 2 33 2-2 2-27 2 8 2-36 3-38 2 73 2-8 2 23 2 0 2-9 2-21 2 17 2 16 3-9 2-3 2-32 2 32 2 3 2 0 2-11 2 4 2 12 3-15 2 12 2 7 2-3 2 2 2-10 2-5 2-11 2 30 3-23 2 16 2 4 2-5 2-15 2-12 2-14 2-6 2 4 3-6 2-15 2 40 2 6 2 5 2 11 2 3 2 7 2 1 3-5 2-12 2 8 2 0 2 8 2-3 2-1 2-15 2-9 3-4 2-1 2 17 2-1 2 8 2-2 2 9 2-7 2 2 3 5 2-1 2 1 2-2 2-10 2-15 2-3 2 3 2 6 3-26 2 13 2-17 2-2 2 16 2-14 2 23 2-1 3-14 2 23 2-6 2-2 2 12 2 12 2-4 2 1 2-1 3 14 2-4 2-21 2-33 2-2 2-30 2-1 2 27 2 7 3 29 2 14 2-14 2 2 2 9 2 6" stroke="#ff4000"/><path d="M2660 1823l2 8 2-6 2 4 2 4 3-9 2-2 2 6 2 6 2-7 2-5 2-3 2 7 2 0 3 3 2-6 2-5 2 4 2 4 2-12 2 1 2 0 2 8 3-27 2-8 2 11 2 0 2-17 2 20 2-10 2 19 2-4 3-7 2 10 2 11 2-1 2-1 2 2 2-19 2 23 2 9 3-10 2-10 2 1 2 8 2 8 2-5 2-9 2 17 3-19 2 14 2-2 2-4 2-11 2 9 2-14 2 14 2-7 3-7 2 13 2-18 2 11 2 12 2-10 2 11 2 8 2-18 3-11 2 6 2 17 2-3 2-21 2 10 2 15 2-6 2 3 3-7 2-2 2 4 2 9 2 0 2-5 2-3 2 1 2 1 3-4 2-12 2 11 2 8 2 5 2-30 2 23 2-7 2-3 3 15 2 0 2-2 2-7 2 10 2-8 2-10 2-4 2 8 3-14 2 26 2-4 2-6 2 0 2 8 2-17 2 20 2 1 3-7 2 3 2-3 2-16 2 15 2-1 2 5 2-9 2 4 3 2 2-10 2 10 2 4 2-7 2 4 2-5 2 6 3 2 2-6 2 10 2-7 2-7 2 7 2 4 2-1 2-1 3 3 2 0 2-16 2 12 2 8 2-20" stroke="#ff4000"/><path d="M1542 1791l3-44 2-22 2-15 2-8 2 7 2 0 2-15 2-11 2 1 3-3 2-7 2 28 2 9 2-50 2-48 2 45 2 6 3-4 2-3 2-14 2 14 2 32 2 3 2 6 2 19 2-3 3-30 2-24 2 0 2 33 2 19 2-40 2-27 2 31 2 31 3-10 2-24 2 14 2 43 2 10 2-24 2-6 2 16 2 9 3 11 2 32" stroke="#ff4000"/><path d="M2655 1814l2-99 2-36 2-6 3-15 2-65 2 39 2 69 2 11 2-7 2 9 2 58" stroke="#ff4000"/><path d="M2654 1817l3-124 2-27 2 0 2-22 2-14 2 3 2-42 2 63 2 13 3 25 2 88" stroke="#ff4000"/><path d="M1495 1813l2-52 2 35 2 25 2-54 2 49 2-15 3-5 2-5 2 24 2 4 2-5 2-11 2 10 2-29 2 24 3 1 2 12 2-16 2 5 2-32 2 39 2-3 2-8 2 8 3-3 2-4 2 1 2 2 2-11 2 15 2-12 2 4 2 14 3-8 2 11 2-6 2-6 2-1 2 9 2-7 2-9 2-6 3 21 2-19 2 10 2 8 2-17 2 6 2 13 2-11 2-2 3 18 2-1 2-19 2-18 2 28 2-9 2 4 2-8 2 15 3 4 2-1 2-3 2-2 2 5 2-6 2-25 2 11 2 2 3-6 2 5 2 18 2-14 2 18 2-18 2 8 2 11 3-4 2-9 2-9 2 16 2-7 2 14 2-3 2-6 2-2 3 6 2-2 2 1 2-9 2 7 2-3 2 5 2 1 2-2 3-13 2 8 2 6 2 1 2 3 2 2 2-5 2 5" stroke="#ff2000"/><path d="M3056 1775l2-18 2 8 2 41 2-15 2-4 2-13 3 20 2-5 2-25 2 17 2-69 2 19 2-16 2 29 2-22 3 69 2 6 2-50 2 63 2 6 2-107 2 79 2-20 2 25 3-58 2 82 2-14 2-9 2 8 2-15 2 14 2-16 2-18 3 39 2 6 2-1 2-35 2 29 2-13 2-16 2-42 2 3 3 43 2-52 2 34 2-19 2 9 2 28 2 3 2-9 2-28 3 42 2-38 2 20 2 11 2 1 2-33 2 22 2 8 2 2 3 17 2-30 2-13 2 15 2-6 2-36 2 18 2 34 2-17 3 18 2-25 2 31 2 7 2-8 2 9 2-13 2 23 3-21 2 33 2-28 2 27 2-7 2 12 2-8 2-1 2 4 3 6 2-4 2-1 2-21 2 23 2 0 2-18 2 14 2 3 3-32" stroke="#ff2000"/><path d="M1485 1802l2-30 2-12 2-3 3-1 2-20 2-20 2 38 2 1 2-6 2 14 2 8 2-6 3-9 2 4" stroke="#ff2000"/><path d="M381 1828l2 8 2-6 2 1 2-3 3 2 2-1 2-3 2 2 2 1 2 0 2-7 2-9 2 3 3-4 2 17 2 0 2-2 2-7 2-1 2 3 2 5 2-3 3-5 2 12 2-8 2 10 2-22 2 17 2-19 2 19 2-7 3 3 2-4 2 1 2 14 2-13 2-11 2-12 2 13 3-14 2-15 2-21 2 23 2-9 2-47 2 17 2-46 2 10 3 2 2 73 2-7 2-2 2-29 2 2 2 26 2 9 2 18 3-14 2-2 2-13 2 11 2 27 2 10 2 2 2-20 2 8 3 9 2-5 2-3 2 17 2-3 2 6 2-8 2-30 2 22 3 9 2-15 2 9 2-30 2 37 2-3 2-7 2 14 2-15 3-7 2 0 2-11 2 18 2 16 2-54 2 38 2 10 2-29 3-29 2-4 2 33 2-43 2 29 2 36 2 4 2-26 2 17 3 18 2-21 2 16 2-14 2 6 2 7 2-4 2-9 2 14 3-4 2-10 2 15 2-15 2 6 2 10 2-5 2 7 2-28 3 8 2-2 2 19 2-7" stroke="#ff0000"/><path d="M1020 1764l2 57 2-50 2 23 2-28 2 60 2-3 3-49 2 1 2 15 2 9 2-21 2 45 2 3 2-22 2 13 3 9 2-37 2 20 2-9 2 30 2-58 2 46 2-14 2-4 3 25 2-6 2-26 2 32 2 1 2-5 2-10 2-20 2 15 3-23 2 1 2 9 2-27 2-9 2-1 2-12 2 7 2-10 3 19 2-4 2 5 2 27 2-36 2 60 2-12 2-9 2 17 3-18 2 27 2-2 2-7 2 15 2 2 2-18 2 7 2-9 3-5 2-3 2 4 2-17 2 31 2 7" stroke="#ff0000"/><path d="M1140 1824l2-14 2-8 2 11 2 5 3 8 2-6 2 4 2-1 2-4 2-4 2 6 2 4 2 1 3-8 2-1 2 0 2 3 2 2 2 5 2 0 2-8 2-3 3 9 2-3 2-6 2 6 2-3 2 2 2 4 2-4 2 2 3-14 2 14 2 3 2-11 2 10 2-20 2 17 2 1 2-7 3 2 2 4 2-9 2 8 2 6 2-22 2 26 2-6 3-2 2 2 2-4 2-12 2 2 2 8 2 10 2-3 2-11 3 8 2-5 2 1 2 1 2-4 2-2 2 8 2 2 2-15 3 13 2 0 2-3 2-6 2 17 2-16 2 10 2 2 2-2 3 0 2 7 2-8 2-11 2-3 2 16 2-3 2-1 2 0 3 4 2-4 2-3 2-4 2 10 2 5 2-13 2 7 2-2 3 2 2 1 2-2 2-2 2 6 2-24 2 22 2-8 2-4 3 2 2 2 2 7 2 4 2-9 2 3 2 6 2-7 2-2 3 8 2-1 2-7 2-4 2 11 2-8 2-13 2-12 2 33 3 4 2 4 2-15 2 4 2 2 2-6 2 4 2-4 3 7 2-18 2 10 2-1 2-2 2 12 2-1 2-20 2 19 3-17 2-1 2 13 2 6 2-5 2-43 2 35 2 17 2-31 3-16 2-24 2 66 2-4 2-14 2 26 2-22 2-22 2-20 3 20 2 13 2-43 2 56 2-2 2 2 2 5 2-19 2-32 3 28 2-9 2-18 2 27 2 9 2-7 2 13 2 5 2-10 3-3 2 13 2 6 2-4 2-3 2-24 2-1 2 13 2-11 3-3 2 9 2-22 2-24 2 23 2 3" stroke="#ff0000"/><path d="M3218 1811l2-5 2 6 2 1 2 0 2 1 2-7 3 10 2-5 2-5 2 5 2-3 2 2 2-6 2 13 2-2 3-8 2-3 2 7 2 9 2 0 2-13 2 13 2-13 2 8 3 3 2-3 2-1 2-5 2-3 2-10 2 14 2-1 2-9 3 1 2 4 2 3 2 1 2 10 2 0 2-8 2 10 2-9 3 1 2 6 2-6 2 1 2 0 2-3 2-16 2-3 2-20 3-3 2-11 2 21 2-15 2-4 2 13 2 0 2 12 2-14 3 12 2 18 2-4 2 10 2 4 2 1 2 5 2-3 2 0 3 0 2 4 2-2 2 3 2-12 2 11 2 2 2-23 2 23 3-7 2-20 2 20 2-8 2 8 2 0 2-11 2 10 3 0 2 3 2-3 2 2 2 0 2-5 2 1 2 4 2 6 3-3 2-6" stroke="#ff0000"/><path d="M627 1795l2-47 2-13 2-9 2-22 2-29 2-41 2 46 3 21 2 12 2-3 2 48" stroke="#ff0000"/><path d="M1972 1816l2-108 3-53 2 3 2 17 2-30 2-58 2 98 2 11 2 28 2 29 3 30" stroke="#ff0000"/><path d="M3179 1793l2-143 3-4 2 18 2-58 2-67 2 33 2 38 2-41 2-30 2-45 3 97 2 58 2 10 2 26 2 21" stroke="#ff0000"/><path d="M1843 1825l2-19 3-27 2 21 2 13 2-29 2 33 2-17 2 7 2-33 2 34 3-14 2 28 2-15 2 7 2 7 2-20 2 23 2 2 2-9 3-12 2 0 2 26 2-6 2 0 2-12 2 1 2 1 2-24 3 19 2-2 2-15 2 27 2 0 2-35 2 19 2-28" stroke="#df0000"/><path d="M1900 1818l2-6 2 0 2-18 2 26 3-23 2 21 2-5 2-11 2 13 2-5 2 1 2 3 2-17 3 8 2 6 2-16 2-3 2-9 2-33 2 25 2-1 2-36 3 12 2 17 2 31 2-62 2 2 2 4 2 30 2-60 2 41 3 18 2 22 2-5 2-6 2 39 2-52 2 45 2-9 3-17 2 10 2-34 2 1 2-3 2 4 2 8 2 32 2 6 3-18 2 8 2 16 2-38 2 25 2-9 2 2 2 21 2-7 3 2 2-45 2 36 2 10 2-33 2 26 2-4 2-30 2 23 3-15 2 2 2-8 2 20 2-37 2 26 2-26 2 0 2 24 3 1 2 21 2-5 2-18 2 12 2-5 2 28 2-13 2 7 3-41 2-3 2 25 2-8 2-7 2-25 2 4 2 28 2-44 3 14 2 14 2 6 2 20 2 4 2 3 2-8 2 22 2-13 3-12 2 24 2-14 2 6 2 5 2-17 2-31 2 39 2-6 3-37 2 2 2 6 2-9 2 29 2-3 2 2 2-7 3 20 2 14 2-4 2-2 2-10 2 18 2-1 2 13 2-13 3-9 2 6 2 1 2-2 2-3 2-3 2-5 2-16 2 14 3-8 2 9" stroke="#df0000"/><path d="M1012 1799l2-54 2-19 2 10 3 16 2-7 2-10 2 1 2-17 2-3 2 8 2-31 2-22 3 53 2 17 2-7 2 0 2 0 2 17" stroke="#df0000"/><path d="M1290 1799l2-49 3-16 2-10 2-22 2-47 2-70 2 57 2-1 2 34 2 82" stroke="#df0000"/><path d="M1508 1813l2-137 2-85 2 7 2 42 2-11 2-15 2-44 3-27 2-25 2-93 2 17 2 108 2 23 2-48 2-13 2 45 3 109 2 50 2-18" stroke="#df0000"/><path d="M2660 1722l2 54 2-49 2-2 2 18 3-33 2-68 2 15 2 21 2-22 2-27 2 62 2-108 2 112 3-66 2 77 2 20 2-10 2 7 2 30 2-3 2-12 2 13 3 6 2 17 2-11 2 36 2 17 2-19 2 18 2-18 2 25 3-2 2-9 2 0 2-15 2 13 2 5 2 0 2-11 2 13 3-3 2-4 2-25 2-1 2 26 2-29 2 9 2 2 3-7 2-4 2-32 2 36 2-39 2 4 2 23 2-21 2-14 3 29 2-20 2 42 2-20 2 18 2 1 2 4 2 1 2 10 3 12 2-1 2 5 2-11 2 9 2-12 2-14 2-29 2 14 3 9 2-4 2 19 2 4 2 5 2 11 2-26 2 18 2 4 3 6 2 0 2-10 2-9 2-6 2-39 2 11 2 26 2 7 3 15 2 1 2 4 2-16 2 12 2-9 2 8 2-1 2 1 3 0 2-3 2 3 2 0 2 5 2-9 2-1 2 2 2 1 3 9 2-4 2-4 2-1 2-9 2 15 2-10 2-9 2 2 3 3 2-2 2-14 2-5 2 0 2 0 2-10 2 28 3 1 2-11 2 8 2 5 2 0 2-5 2 15 2-1 2 5 3-3 2 3 2-16 2 12 2-6 2 10 2-7 2 4 2-6 3-2 2 4 2 4 2 4 2-13 2-31 2-4 2-17 2 32 3-2 2 12 2 6 2 17 2-12 2 11 2-7 2 1 2-1 3-8 2 17 2-12 2-10 2 21 2 0 2 1 2-5 2-6 3 2 2-7 2 12 2-16 2 0 2 8 2-2 2 8 2-15 3 5 2-21 2 33 2-6 2-16 2 19 2-17 2-36 2 52 3-20 2 22 2 4 2-34 2 21 2-39 2 32 2-5 2-9 3 12 2 15 2-23 2 3 2-2 2-3 2 26 2-66 3 41 2 8 2-18 2 26 2-4 2 17 2-10 2-13 2-1 3 8 2 3 2-3 2-15 2 3 2-4 2-13 2 10 2 6 3 12 2 0 2 13 2 0 2-6 2 14 2 1 2-5 2-1 3-2 2-12 2 14 2 2 2-4 2-14 2-12 2 25 2 4 3-7 2 0 2-8 2 6 2-3 2-13 2-28 2-72 2-17 3 40 2 39 2-19 2 20 2 12 2-6 2-12 2 17 2 15 3 15 2-4 2 14 2-13 2 18 2-2 2 16 2-9 2 3 3-2 2 2 2-9 2 4 2 0 2-8 2 14 2-1 2-14 3-3 2 4 2-21 2 3 2 13 2-24 2 9 2 1 3-7 2 0 2 21 2 10 2 5 2 3 2-5 2-13 2 17 3 1 2 3 2-5 2 1 2-8 2 11 2-4 2-6 2-3 3 2 2 5 2 1 2-2 2 0 2-7 2 13 2 1 2-5 3-18 2 13 2 2 2 7 2-4 2-3 2 5 2-2 2-4 3-1 2 6 2-15 2 6 2 4 2-2 2-3 2 13 2-2 3-5 2-8 2 17 2-4 2-7 2 4 2-20 2 0 2 24 3 5 2-31 2 11 2 2 2 11 2-10 2 0 2-3 2-5 3 10 2 11 2 0 2-8 2-2 2 4 2-17 2-5 2 4 3-16" stroke="#bf0000"/><path d="M3217 1816l2 7 2-14 2-31 2 48 2-7 2 9 3-7 2-8 2 3 2-8 2-7 2 4 2-8 2 4 2 16 3-8 2 7 2-57 2 41 2-58 2 36 2-28 2-11 2-32 3 44 2-8 2 31 2 17 2 18 2-79 2 21 2 48 3 26 2-21 2-4 2 22 2 0 2-10 2-13 2 10 2-38 3 45 2-1 2-31 2 31 2-45 2 55 2-54 2 26 2 22 3-84 2 45 2-40 2 14 2 32 2-15 2 13 2 6 2-28 3-3 2 13 2-19 2 46 2-67 2 76 2 6 2-35 2 6 3 39 2-8 2-52 2 15 2 2 2 40 2 5 2-49 2 31 3-19 2-35 2 21 2-61 2-6 2 32 2-19 2 22 2 11 3-23 2 29 2-17 2-7 2 1 2 30 2-2 2 4 2 34" stroke="#bf0000"/><path d="M385 1815l2-128 2 5 2 5 2-59 2-51 2-1 2 5 3-2 2 11 2-15 2-9 2-13 2-12 2 36 2 1 2-32 3-16 2-68 2 106 2 64 2 29 2 9 2 8 2 23" stroke="#bf0000"/><path d="M2944 1801l2-81 2-48 2-49 2 66 2 21 2-18 2 0 2 28 3 39" stroke="#bf0000"/><path d="M3198 1793l2-45 2-28 2-16 2 8 2 29 2-12 3-56 2 48 2 47" stroke="#bf0000"/><path d="M903 1827l2-32 2 15 2 2 2 9 2-27 3 32 2-13 2-17 2 32 2-10 2-2 2-3 2 0 2-32 3 29 2 16 2-22 2 10 2 7 2-26 2 3 2 14 2 14 3-3 2-15 2-3 2 21 2 0 2-3 2 3 2-16 2 1 3 19 2-9 2-1 2 6 2 5 2-1 2-19 2 2 2 9 3-8 2 17 2-1 2-25 2 13 2-32 2 27 2 2 2-75 3 73 2 1 2 9 2 11 2-6 2-8 2-2 2-9 2 0 3 22 2-2 2-37 2-29 2 27 2 39 2-25 2 24 3-48 2 4 2-24 2-23 2 45 2-50 2 78 2-19 2 26 3 16 2-23 2 9 2 14 2-5 2-19 2 2 2 18 2-21 3 20 2-20 2-2 2 15 2 10 2-35 2-10 2 37 2 3 3-6 2-25 2 2 2-1 2-21 2-1 2 19 2-23 2-11 3-4 2-57 2 41 2-60 2-1 2 5 2-13 2 68 2 7 3-5 2 10 2 34 2-31 2 42 2-39 2 57 2-24 2 9" stroke="#9f0000"/><path d="M1140 1814l2 0 2-8 2-18 2-9 3 25 2-23 2-21 2-1 2 22 2-57 2 38 2-17 2 38 3-24 2-17 2 20 2 19 2 16 2-2 2 4 2 7 2 4 3 7 2 0 2 4 2-3 2 0 2-31 2 20 2-5 2-14 3 23 2 2 2 5 2-2 2-5 2 4 2 2 2-10 2 9 3-2 2-8 2 1 2 16 2 0 2-11 2 13 2-12 3 11 2-12 2 9 2 5 2-10 2-1 2 2 2 5 2 3 3-10 2 5 2-12 2 3 2 4 2 2 2-12 2-19 2 19 3 20 2-14 2-11 2 23 2-53 2 41 2 5 2-15 2 14 3-1 2-17 2 14 2-13 2 13 2-8 2 18 2-7 2 9 3-25 2 20 2-20 2 8 2 13 2-22 2 26 2-23 2 14 3-12 2 4 2 7 2 14" stroke="#9f0000"/><path d="M1622 1814l2 1 2-27 2 25 2-16 2 7 3-7 2-24 2 45 2-23 2 14 2-17 2 15 2-9 2 5 3 10 2-8 2 0 2 8 2 2 2 2 2-28 2 10 2 22 3-3 2-23 2 6 2 20 2-15 2 3 2 3 2 2 2-3 3 8 2-16 2 13 2-14 2 13 2 1 2 6 2-8 2 0 3-9 2 0 2-5 2-15 2 8 2-13 2 2 2-8 2 21 3-45 2 43 2-42 2-8 2 47 2-3 2-24 2 10 2 25 3-15 2 20 2 4 2 0 2-3 2 3 2 2 2 4 3 6 2-8 2 6 2-1 2-1 2 0 2-1 2 0 2-3 3 6 2-8 2 7 2 4 2-4 2 7 2-6 2 1 2-2 3 1 2 0 2-2 2-2 2-6 2 3 2 7 2-2 2-2 3 4 2-7 2 7 2 0 2-1 2 0 2 1 2 0 2-15 3 10 2 7 2 3 2-8" stroke="#9f0000"/><path d="M2339 1826l2 0 2-3 2 6 2-4 2 5 2-5 3-2 2 5 2-2 2-2 2 6 2-4 2-3 2 0 2-3 3 0 2 3 2-2 2 1 2 1 2 5 2-2 2 5 2-7 3 2 2 0 2 7 2-8 2-3 2 2 2-3 2 6 3 1 2 2 2-8 2 4 2-1 2-2 2-4 2 7 2-3 3-7 2 10 2-8 2 0 2 7 2-3 2 4 2-1 2 4 3-19 2 19 2-2 2-8 2 7 2-4 2-2 2 5 2 2 3-1 2 3 2-9 2-8 2 0 2 13 2-4 2-4 2 0 3 3 2 5 2-10 2 7 2-5 2 3 2-7 2 15 2-8 3 0 2-9 2-13 2 3 2 11 2-11 2-12 2-1 2 17 3-37 2 10 2 6 2 19 2 8 2-18 2 24 2 9 2-3 3 3 2-3 2 5 2 3 2-21 2 20 2-4 2 2 2-2 3 4 2-6 2 2 2-1 2-6 2 7 2-2 2 8 3-3 2-2 2-2 2 1 2 1 2 2 2-5 2 6 2-6 3 2 2 4 2-4 2 1 2-3 2 2 2-3 2 6 2-1 3-3 2 3 2-1 2-3 2 5 2-9 2 8 2-1 2-3 3 2 2-5 2 3 2-7 2 3 2-2 2-5 2 4 2 1 3-5 2 5 2-2 2 3 2 4 2-3 2 0 2 8 2-2 3 2 2-2 2-1 2 2" stroke="#9f0000"/><path d="M610 1796l2-43 2-1 3-4 2 4 2 5 2-8 2-8 2-14 2-22 2-18 2 9 3 10 2 8 2 7 2 8 2 22 2 13 2-11 2-17 2 3 3 14 2 14" stroke="#9f0000"/><path d="M803 1810l2-16 2-9 2-6 2-5 3 5 2 2 2-6 2-11 2-7 2 15 2 4 2-26 2-9 3 21 2 13 2-7 2-12 2-1 2-11 2-10 2 0 2 1 3 9 2 3 2 0 2 2 2-5 2-24 2-9 2 26 2 8 3-13 2-3 2-14 2-18 2 8 2 25 2 18 2-11 2-33 3-25 2 17 2 17 2 13 2 8 2-9 2-10 2 1 3 5 2 3 2-3 2-10 2 3 2 0 2-15 2 12 2 31 3 11 2-21 2-26 2 1 2 25 2 20 2-9 2-17 2 2 3-8 2-10 2 7 2 23 2 29 2 4 2-16 2-10 2-11 3-5 2 13 2 20 2 10 2-3 2-5 2 10 2 1 2-14 3 7 2 16 2-4 2 3" stroke="#9f0000"/><path d="M1805 1795l2-42 2-23 2-38 2-30 3 15 2 35 2-13 2-23 2 12 2-21 2-74 2 53 2 42 3 41 2-11 2-57 2-16 2 52 2 28 2-11 2-7 2-14 3-15 2 5 2 27 2 41" stroke="#9f0000"/><path d="M2335 1810l2-53 3-21 2-35 2-28 2 1 2 29 2-7 2-30 2 9 2 6 3-21 2-19 2 13 2 48 2-6 2-54 2-74 2 53 2 65 3 10 2-32 2-11 2 8 2 27 2-17 2-57 2 5 2 52 3-2 2-37 2 16 2 33 2-15 2-5 2 26 2 25 2 27 3 3 2 2 2 38" stroke="#9f0000"/><path d="M381 1807l2 3 2-25 2-14 2-8 3 17 2-14 2 21 2 11 2 14 2-3 2-19 2 13 2 12 3-11 2 9 2 0 2 5 2-3" stroke="#800000"/><path d="M610 1841l2-6 2-23 2 0 2 7 2-5 2 9 2-8 3 22 2-13 2-21 2 16 2 0 2 9 2-5 2 4 2-8 3 8 2-2 2 5 2-11 2-6 2-16 2 29 2-10 2 11 3-9 2-4 2-2 2 16 2-19 2-2 2-12 2 26 2 3 3-12 2 20 2-12 2-19 2-75 2 66 2 1 2 6 2-2 3-45 2 36 2-11 2-4 2-38 2 23 2 11 2-4 2 11 3-2 2 6 2 34 2-22 2 11 2 18 2-15 2 9 3-3 2 0 2-37 2-8 2-36 2 66 2-16 2 16 2 33 3-48 2 38 2-9 2 13 2 1 2 6 2 1 2 4 2-5 3-18 2 14 2 3 2-16 2 16 2 6 2-20 2 16 2-1 3-6 2 0 2 5 2-7 2 6 2-4 2 5 2-3 2-11 3-4 2 17 2-5 2 4 2-7 2 9 2 1 2 4 2-3 3-3 2-4 2 7 2 5 2-18 2 7 2-2 2 1 2-15 3 16 2 5 2-14 2 0 2-6 2 2 2-22 2-22 2 7 3-5 2 6 2-34 2 13 2 31 2-86 2 26 2 44 2-17 3 0 2 25 2 0 2 28 2-10 2 17 2-9 2 19 3-29 2 28 2-15 2 27 2-21 2-6 2 25 2-2 2-6 3-24 2 18 2 9 2 5 2 0 2-2 2-3 2-30 2 35 3-5 2-24 2 12 2-12 2 25 2 4 2-5 2-7 2-23 3-9 2 27 2 6 2-8 2 10 2-10 2-20" stroke="#800000"/><path d="M1988 1819l2-8 2 9 3-1 2 1 2 7 2-19 2-13 2 17 2 1 2 5 2 14 3-10 2-3 2 6 2-2 2 4 2-2 2-13 2 16 2-14 3 12 2-16 2-6 2 2 2-24 2-20 2 1 2-7 2 23 3-9 2 17 2-1 2-6 2 6 2 18 2 4 2-23 2 3 3-8 2 19 2-10 2-32 2 38 2-28 2-16 2 12 2 26 3 10 2-14 2 12 2 9 2-38 2-17 2 43 2 9 2 1 3 8 2-8 2-16 2-10 2 4 2 8 2 8 2-3 2-20 3 13 2 0 2-4 2 16 2-6 2 26 2-15 2 10 2-8 3-82 2 77 2 6 2-59 2 18 2 5 2-72 2 87 3 9 2-10 2 9 2-103 2 101 2-82 2 40 2-20 2 72 3-44 2-10 2 70 2-31 2-17 2 26 2-81 2 93 2-17 3-30 2-16 2 49 2-30 2 22 2-40 2 27 2-2 2-49 3 63 2 2 2-23 2 28 2 10 2-53 2-8 2-19 2 80 3 2 2-34 2-58 2 113 2-20 2-16 2-2 2 23 2-47 3-12 2-3 2-20 2 92 2-6 2-108 2 116 2-49 2 49 3-31 2-44 2 79 2-10 2-73 2-43 2 58 2 26 2-14 3 44 2-28 2 35 2-14 2-4 2-76 2 22 2 75 2-68 3 16 2-15 2 52 2-62 2 71 2-95 2 98 2-81 3 29 2-12 2-22 2 54 2-26 2-21 2-21 2 48 2-85 3 102 2 0 2-17 2 22 2-9 2 38 2-40 2 11 2-7 3 12 2-4 2 19 2-29 2-23 2 60 2-108 2 80 2 23 3-10 2 6 2-35 2-14 2 16 2 28 2-23 2-10 2 19 3-59 2 38 2-16 2 20" stroke="#800000"/></g></g><g clip-path="url(#c3)"><g transform="scale(0.5)" fill="none" stroke-width="4" stroke-linejoin="round"><path d="M507 2350l2-5 2 4 2 1 3-8 2-8 2 15 2-15 2 16 2-20 2 10 2 5 2-42 3 42 2-11 2 16 2-18 2 17 2-7 2 3 2 3 2-12 3 2 2 14 2-6 2 0 2-1 2 3 2-6 2-5 3 11 2-2 2-9 2 7 2 3 2 3 2-4 2 3 2 2 3-8 2 4 2 9 2-7 2 2 2-6 2 1 2-2 2-1 3-1 2 10 2-8 2 8 2-3 2-19 2 12 2-1 2-13 3 3 2 19 2-6 2 4 2 1 2-6 2 6 2 2 2 5 3-19 2 6 2 5 2-13 2 0 2 13 2-15 2 13 2 8 3-13 2 9 2-1 2-4 2-5 2 2 2 1 2 1 2 1 3-3 2 11 2-7 2-3 2-9 2 4 2 3 2 3 2-4 3 4 2 1 2 1 2-1 2 9 2-13 2-4 2 11 2-10 3 6 2 3 2 7 2-12 2-7 2 9 2 11 2-9 3-2 2-17 2 23 2-5 2-2 2 9 2 3 2-5 2-2 3-3 2 1 2 0 2 1" stroke="#0000bf"/><path d="M927 2350l3-6 2-5 2 15 2-3 2-5 2 7 2 0 2-4 2-5 3 8 2-15 2 4 2 5 2 3 2-9 2 10 2-1 2-9 3 2 2-1 2 9 2 3 2-6 2-10 2 14 2-9 3-9 2 15 2-2 2-3 2 11 2-3 2-6 2-2 2-6 3 14 2-2 2-3 2-14 2 20 2-5 2-5 2 6 2 6 3-9 2-4 2-1 2 3 2-5 2 5 2 1 2-11 2 19 3-18 2 19 2-4 2 0 2-3 2-3 2 12 2-7 2 7 3-10 2 5 2-6 2 4 2-1 2-2 2-5 2-3 2 8 3-4 2 11 2-9 2 3 2-1 2 0 2 3 2-4 2 6 3-8 2 5 2 6 2-5 2-22 2 15 2 6 2-17 2 16 3-11 2 10 2 0 2-6 2 4 2 6 2-2 2 0 2-1 3 6 2-16 2 8 2 5 2 0 2-4 2 4 2-23 3 18 2 5 2-18 2 13" stroke="#0000df"/><path d="M1140 2352l2-14 2 9 2 3 2 3 3-3 2-12 2 10 2 3 2-6 2 0 2-18 2 21 2-4 3 8 2-7 2 6 2-15 2 16 2-4 2 8 2-14 2 4 3-8 2 11 2 2 2-3 2 0 2 5 2-3 2-13 2 7 3-5 2 13 2-6 2 1 2-6 2 3 2 4 2-4 2-7 3 3 2 4 2 3 2-1 2 6 2-4 2-2 2 5 3-4 2 6 2-2 2 0 2-7 2 13 2-14 2 1 2-1 3 9 2-2 2 4 2-9 2 2 2 3 2-1 2-14 2 15 3 1 2-11 2 10 2-6 2-6 2 15 2-2 2-3 2-1 3 7 2-2 2-22 2 13 2-15 2 1 2 16 2 8 2-15 3 13 2-2 2-10 2 12 2-10 2 2 2-6 2 9 2-1 3 2 2 7 2-16 2 3 2-3 2 7 2 4 2-1 2-2 3-3 2 0 2-10" stroke="#0000df"/><path d="M1964 2351l2-13 2 10 2-5 2 4 2-6 2 9 2-1 2-6 3-4 2 8 2-9 2-15 2 18 2 5 2 0 2-6 2 12 3-3 2-12 2 1 2 5 2 9 2-2 2-24 2 20 2 4 3-2 2 3 2 1 2-16 2 4 2 3 2 5 2 1 3-7 2 2 2 2 2 1 2 4 2 3 2-8 2 6 2-4 3-2 2 1 2-6 2 6 2-7 2 13 2-7 2-9 2 5 3 10 2-5 2-2 2-10 2 11 2-6 2 12 2-1 2-2 3-9 2 6 2 2 2-1 2 4 2-6 2 3 2 5 2-6 3-7 2 12 2-7 2-4 2 11 2 2 2-8 2-1 2 0 3 3 2-4 2 3 2 5 2-3 2-2 2 5 2-13 2 12 3-10 2 8 2-3 2-14 2 19 2-8 2 9 2-3 2-22 3 19 2 2 2-1 2 5 2-5 2-12 2 16 2-8 2 5 3-2 2-2 2 9 2-9 2 6 2-9 2 8 2-1 3 2 2-15 2 15 2-21 2 14 2 8 2-13 2 10 2 4 3-5 2-6 2 2 2-6 2 10 2 3 2-4 2-1 2-4 3 10 2-17 2 7 2 3 2 5 2-2 2 2 2-6 2 3 3-1 2-1 2 1 2-7 2 1 2-4 2 8 2 1 2-5 3-12 2 18 2-9 2 7 2-5 2 14 2-9 2-10 2 8 3-6 2 13 2 2 2-2 2-3 2 3 2 5 2-14 2 12 3-3 2 5 2-5 2-1 2 2 2-1 2-1 2 2 2-10 3 4 2 2 2-24 2 8 2 20 2 0 2-4 2 1 2-3 3 9 2-7 2-1 2 5 2 4 2-6 2-4 2-2 3 2 2 1 2 11 2-17 2 12 2-2 2-3 2 6 2-20 3 16 2 3 2-4 2 0 2 2 2 4 2-30 2 22 2 2 3 0 2-3 2 4 2 3 2 0 2 1 2-10 2 0 2-2 3-3 2 6 2-2 2 15 2-9 2 1 2 1 2 9 2-12 3-2 2 9 2-9 2 6 2 4 2-10 2-2 2-13 2 23 3-2 2 1 2-1 2-5 2 0 2-12 2 14 2 5 2 4 3-6 2-1 2-1 2-1 2-4 2-8 2 8 2 0 2-1 3 15 2-15 2-5 2 10 2-2 2 8 2-13 2 4 2-6 3 0 2 5 2 0 2 4 2 0 2 4 2 2 2-9 3 3 2-7 2 13 2-9 2-1 2 0 2-3 2-8 2 17 3 2 2-5 2-4 2-1 2 5 2 0 2-1 2 7 2-7 3 7 2-3 2-7 2 12 2-12 2 9 2-22 2 16 2 3 3 6 2-8 2 4 2-17 2 18 2 3 2 2 2-24 2 6 3 18 2-11 2 3 2 2 2 0 2-10 2 12 2-3 2-6 3 1 2-8 2 13 2-11 2 10 2 1 2-5 2 1 2 10 3-6 2-12 2 13 2-1 2 6 2-3 2 5 2-15 2 14 3-16 2 6" stroke="#0000df"/><path d="M2660 2344l2 5 2-5 2 8 2-2 3-5 2 1 2 4 2-17 2 15 2 5 2-2 2-3 2-6 3 4 2 0 2 5 2-3 2-1 2 0 2-20 2 16 2-4 3 7 2-2 2 4 2-2 2-17 2 12 2 5 2 0 2 4 3-13 2 11 2-2 2 1 2-9 2 8 2 8 2-9 2-6 3 5 2-6 2 8 2-2 2 2 2 1 2-13 2 20 3-11 2 8 2 3 2-7 2-6 2 8 2 3 2-7 2-9 3 13 2 2 2-3 2 8 2-18 2 10 2-16 2 15 2 9 3-10 2-10 2 9 2 10 2-10 2 7 2-22 2 17 2-8 3-13 2 21 2-2 2-5 2 13 2-4 2-9 2 1 2 10 3 1 2 1 2-9 2 1 2 4 2 2 2-3 2 1 2-9 3 6 2 3 2 0 2-16 2 3 2-1 2 5 2 7 2-8 3 5 2 7 2-14 2 9 2 2 2-2 2 1 2-1 2-7 3 6 2 8 2-7 2-47 2 46 2-7 2 16 2-5 2-2 3 2 2-14 2 9 2 2 2 7 2-6 2 6 2-14 3 8 2 2 2-2 2-5 2 3 2 1 2-8 2 8 2-3 3 5 2-15 2 12 2-3 2 9 2 2 2-31 2 12" stroke="#0000df"/><path d="M3039 2341l2-38 2-57 1 67 3 28" stroke="#0000df"/><path d="M819 2340l2 11 2-13 2 5 2 3 2-14 2 10 3 5 2 2 2-8 2 6 2-2 2-1 2 8 2-5 2-8 3-9 2 20 2-9 2 8 2-3 2 0 2 2 2-3 2 0 3-1 2-2 2 1 2-1 2 5 2 6 2-2 2-1 3-16 2 7 2-2 2-6 2 16 2-3 2 0 2 4 2-5 3 0 2 5 2-19 2 11 2 5 2 0 2 6 2-7 2 1 3-9 2 5 2-16 2 23 2-9 2 0 2 3 2-6 2 8 3 2 2 3 2 0 2-12 2 8 2 5 2-10 2-19 2 26 3-11 2 9 2-7 2 8 2 2 2-8 2 3 2-21 2 17 3 7 2-6" stroke="#0000ff"/><path d="M1249 2350l2 4 2-2 2 2 2-16 2-8 2 13 2 2 3 1 2 0 2 5 2 1 2-10 2 0 2 3 2 8 2-10 3 9 2 0 2-9 2 5 2 5 2-1 2-9 2 7 2-4 3 2 2 0 2 0 2 1 2 0 2-8 2 11 2-1 2-10 3 4 2 7 2-5 2 2 2 1 2-5 2-6 2-53 3 64 2-21 2 14 2 4 2-1 2 0 2-1 2 2 2-6 3 7 2-8 2 6 2 2 2-2 2 5 2-4 2 11 2-19 3 7 2-10 2 13 2 0 2 1 2-10 2-12 2 4 2 11 3-2 2-3 2 10 2-1 2-5 2 7 2-3 2 6 2 1 3-11 2-5 2 6 2 3 2-4 2-1 2 7 2-5 2 4 3 6 2-3 2-1 2-2 2-3 2 8 2-15 2 10 2-6 3 3 2-6 2 14 2-4 2 1 2 1 2-10 2 4 2 0 3 8 2-23 2 21 2-3 2 1 2-7 2 9 2-2 2-5 3-15 2 18 2-10 2 17 2-11 2 10 2-2 2-10 3 0 2 7 2 6 2-10 2-3 2 7 2-14 2 8 2 1 3-3 2 9 2-9 2 5 2-2 2 9 2-8 2-4 2 0 3 10 2-3 2-15 2 21 2-4 2-9 2 11 2 5 2-20 3 8 2-1 2 3 2 0 2 9" stroke="#0000ff"/><path d="M798 2355l2-5 3 0 2-10 2 8 2-6 2-2 2-5 2 19 2-23 2 18 3-12 2 9 2 3 2-8 2-9 2 15 2 1 2-14 2 4 3 10 2-20 2 20 2 2 2-7 2 7 2-19 2 3 2 16 3-1 2 1 2 2 2-5 2 1 2 0 2-1 2-15 2 14 3 2 2 2 2-3 2 1 2 3 2-12 2 13 2-11 2 6 3-4 2 12 2-7 2 0 2 5 2-5 2-4 2-2 2 3 3 11 2-6 2-1 2 3 2-4 2-6 2-21 2 27 2 5 3-2 2-1 2-13 2 16 2-8 2 2 2 4 2-2 3 2 2-2 2-3 2 1 2-3 2 1 2 3 2 2 2-11 3 6 2 3 2 5 2-1 2-14 2 6 2 0 2 8 2-1 3 0 2 2 2 2 2-11 2 1 2 0 2 0 2 4 2-1 3 4 2-1 2-9 2 3 2-1 2-3 2 0 2 5 2-8 3 7 2-11 2 15 2 1 2-5 2 4 2 1 2 1 2-15 3 9 2 1 2-7 2 6 2 2 2 1 2-1 2 2 2-6 3 6 2-4 2 10 2-10 2 5 2-4 2 0 2 6 2-8 3-3 2 8 2-7 2 7 2-9 2-9 2 9 2 8 2-5 3 3 2 6 2-6 2-13 2 15 2-2 2 7 2-15 3 9 2-5 2-13 2 19 2-1 2-5 2 15 2-8 2-13 3-2 2 15 2-27 2 25 2 1 2 3 2 3 2-19 2-2 3 12" stroke="#0040ff"/><path d="M2400 2348l2-6 3-4 2 10 2-13 2 8 2-5 2 12 2-4 2-9 2 1 3-1 2 16 2-1 2 3 2-6 2-1 2-2 2 0 2 3 3-6 2 6 2-11 2 5 2 10 2-19 2 6 2-3 2 2 3 8 2-1 2 1 2-1 2-1 2 5 2-10 2 1 2 5 3-1 2 4 2-1 2-6 2 5 2-3 2 7 2-5 2-2 3-1 2 3 2 5 2-2 2-6 2 5 2 0 2 1 2 0 3-3 2 2 2-13 2 18 2-3 2-14 2 13 2 1 3-4 2-2 2 3 2-10 2 7 2-6 2 10 2-9 2 11 3-37 2 34 2-15 2 18 2 4 2-9 2 1 2 0 2 4 3-3 2 3 2-1 2-5 2 9 2-5 2-6 2 4 2-3 3 2 2-4 2-6 2 13 2 0 2-4 2-8 2 16 2-5 3-1 2 0 2 2 2 0 2 1 2-7 2 10 2-4 2 1 3-20 2 21 2-19 2 11 2 10 2-9 2 2 2 4 2-7 3 0 2 11 2-6 2-5 2 5 2 2 2 4 2 1 2-5 3-6 2 3 2-1 2 6 2-5 2 4" stroke="#0040ff"/><path d="M2660 2346l2-6 2 11 2-4 2-2 3 1 2-11 2 3 2 14 2-9 2-3 2 2 2-8 2 17 3 1 2-8 2 0 2-1 2 1 2 13 2-11 2 1 2-4 3 8 2-10 2 6 2-2 2-7 2 4 2 8 2-4 2 0 3 1 2-7 2 8 2-9 2 13 2-3 2-6 2 5 2 0 3 4 2-14 2 12 2-3 2-3 2 0 2 7 2-3 3 1 2-1 2 6 2 0 2 0 2-18 2 10 2-2 2-4 3 11 2 0 2-11 2-1 2 12 2-2 2 0 2-6 2 0 3 3 2-11 2 16 2-5 2-9 2 10 2 4 2 5 2-55 3 48 2 1 2-5 2 1 2 0 2-4 2 4 2-2 2-15 3 15 2-3 2-4 2 9 2 2 2-6 2 5 2-3 2-1 3 4 2-7 2 9 2-5 2-1 2-13 2 21 2-12 2-1 3 5 2-5 2 8 2 4 2 0 2 2 2-4 2 1 2-6 3 8 2-10 2 1 2 0 2 4 2 0 2 0 2-3 2 9 3-19 2 8 2 4 2 2 2 3 2 1 2-4 2-3 3 7 2-2 2 0 2 5 2-2 2-3 2-1 2-1 2-2 3 5 2-17 2 14 2 8 2-7 2-3 2-2 2-2 2-7 3 12 2-11 2 13 2 1 2-2 2-9 2 14 2-2 2 1 3 1 2-19 2 16 2-4 2 4 2-37 2 26 2 9 2-9 3 1 2 18 2-10 2-2 2 6 2-5 2-7 2-4 2 12 3-2 2 6 2-2 2 1 2-7 2 0 2 2 2 0 2-27 3 29 2-2 2 0 2 1 2-18 2 19 2-8 2-7 2 13 3 2 2-20 2 17 2-19 2 30 2-15 2-7 2 11 2-134 3 131 2 5 2-12 2 13 2-7 2 9 2-6 2-1 3 3 2-9 2 6 2-10 2 17 2-4 2-2 2 7 2-7 3-22 2 10 2 16 2-11 2 6 2 1 2 0 2 0 2-7 3 3 2 5 2-14 2 7 2 0 2 4 2 3 2-13 2-84 3 96 2-1 2-18 2 16 2 1 2-7 2 16 2-5 2 5 3-11 2-2 2 5 2 5 2-15 2 17 2-5 2-13 2 14 3-8 2-21 2 16 2-11 2 12 2 14 2-4 2-30 2-5 3 41 2 2 2-26 2 5 2-13 2 19 2 12 2-4 2 0 3-2 2 6 2-7 2-1 2-3 2 0 2 7 2-16 2 7 3 8 2 6 2-3 2-2 2 4 2-15 2 2 2 4 3-9 2 9 2 3 2-3 2 6 2 2 2-8 2 15 2-7 3-69 2 38 2 20 2 7 2-7 2 4 2-1 2-1 2 8 3-8 2-27 2 32 2 0" stroke="#0040ff"/><path d="M3150 2349l3-3 2-8 2-8 2 13 2-9 2 5 2 5 2 3 3-17 2-23 2 24 2 7 2-17 2-5 2 26 2 4 2-8 3 6 2-29 2 38 2-12 2 8 2-11 2 3 2 10 2-7 3 0 2-1 2-2 2 4 2-7 2-2 2-17 2 17 2-28 3 26 2-12 2 9 2 15 2-8 2 2 2-3 2-7 2 16 3-52 2 47 2 1 2 8 2-14 2 6 2-5 2-12" stroke="#0040ff"/><path d="M3193 2326l2 4 2 7 2 2 3 11 2-8 2-12 2-2 2 18 2-61 2 46 2 10 2 2 3-5 2 11 2-5 2-5 2-6 2 5 2 6 2-11 2-2 3 17 2-8 2 5 2-3 2 5 2-4 2-2 2-4 2-1 3-8 2-1 2 26 2-6 2-18 2 6 2-1 2 16 3 0 2-8 2-3 2 4 2 6 2 5 2-7 2-17 2-3 3-19 2 35 2 10 2-11 2-7 2-2 2-3 2 8 2-4 3-10 2 9 2 8 2-3 2 10 2-2 2 3 2-17 2 14 3-3" stroke="#0060ff"/><path d="M3153 2341l2-78 2-118 1 137 3 59" stroke="#0060ff"/><path d="M3147 2341l2-53 1-79 2 92 2 40" stroke="#0060ff"/><path d="M1653 2349l2 5 2-11 2 5 2-3 2 9 2-2 2-7 3-1 2 7 2-5 2-3 2 1 2 0 2 6 2-7 2 2 3-1 2-2 2-8 2 20 2-7 2-6 2-11 2 11 2 3 3 0 2-11 2 16 2-3 2 6 2-11 2-3 2 9 2-1 3 4 2-19 2 20 2-3 2-5 2 8 2-17 2-1 2 6 3-12 2 22 2-6 2-16 2 17 2-7 2-33 2 25 2 17 3 5 2-12 2 5 2-4 2 10 2-7 2 11 2-9 2 5 3-2 2-4 2 7 2 0 2 4 2-2 2-7 2-1 2-15 3 14 2 2 2 6 2-11 2 3 2 0 2 7 2 0 2-17 3 6 2 8 2-9 2 14 2-28 2 17 2 6 2-4 3 14 2-26 2 16 2-6 2 0 2 7 2-8 2 9 2 3 3-7 2-2 2 2 2-10 2 18 2-7 2-8 2 8 2-18 3 7 2 20 2-11 2-22 2 19 2 4 2 1 2-3 2 5 3-6 2 5 2 1 2-1 2-5 2 0 2 4 2-1 2-5 3 2 2 1 2-27" stroke="#0080ff"/><path d="M3192 2344l2-7 2-2 2 11 2-6 2 6 2-1 2 3 2-7 3-12 2 11 2 12 2-10 2 2 2 3 2 1 2-16 2 16 3-7 2-12 2 6 2 2 2 11 2-7 2 0 2 9 2-3 3-8 2-28 2 29 2 1 2 8 2-9 2-9 2 8 2-1 3 5 2 3 2 1 2 0 2 1 2 2 2-13 2-3 2 11 3-77 2 61 2 14 2-9 2 14 2 5 2-2 2-2 3-2 2-8 2 15 2-9 2-8 2-5 2 3 2 3 2 6 3-7 2 12 2-7 2-45 2 47 2-6 2 2 2-64 2 64 3-9 2 16 2-38 2 34 2-7 2 12 2-16 2-2 2 17 3-8 2 12 2-22 2 16 2-3 2-2 2-3 2 14 2-21 3 0 2 15 2 4 2-13 2 11 2-10 2 7 2-33 2 19 3 10 2 9 2-14 2-11 2 10 2-3 2 18 2-61 2 53 3-1" stroke="#0080ff"/><path d="M3229 2341l2-78 2-118 1 137 3 59" stroke="#0080ff"/><path d="M3235 2341l3-63 1-96 2 112 2 47" stroke="#0080ff"/><path d="M3400 2341l2-59 2-89 2 104 2 44" stroke="#0080ff"/><path d="M381 2348l2-3 2-2 2 1 2 9 3-3 2-3 2 5 2 3 2-7 2 2 2-17 2 12 2 1 3 5 2-6 2-1 2-3 2 7 2-6 2 2 2 2 2 5 3-7 2-4 2 6 2-3 2-2 2 14 2-13 2 9 2-3 3 1 2-2 2-2 2 2 2 0 2 2 2-11 2 0 3 5 2 8 2-3 2-1 2-3 2 4 2 2 2-10 2 12 3 0 2-5 2-5 2 5 2 0 2-3 2-8 2 11 2-9 3 8 2 0 2 3 2 2 2-4 2 4 2-5 2 1 2-15 3 19 2-9 2 0 2-4 2-1 2 11 2-1 2-7 2 6 3 9 2-9 2 0 2-6 2-18 2 28 2-22 2 19 2-11 3 10 2-5 2 9 2-5 2 4 2 4 2-7 2 3 2 3 3-5 2 0 2 4 2-12 2 0 2 6 2-5 2 7 2-6 3 9 2-22 2 7 2 15 2 1 2-1 2-1 2 5 2-7 3-2 2 9 2-22 2 17 2-7 2-7 2 15 2 1 2-4 3 4 2-2 2-7 2-1 2-5 2 14 2-4 2 0 3 5 2 0 2-9 2 2 2 1" stroke="#009fff"/><path d="M2556 2334l2 11 2 0 2 7 3-15 2 0 2 10 2-9 2 2 2 10 2-4 2 3 2 5 3-12 2 10 2-3 2-18 2 18 2-13 2 11 2-1 3 4 2-22 2 18 2 4 2-5 2-5 2 6 2 8 2-10 3 5 2 2 2-4 2 3 2 5 2-11 2 5 2-2 2-4 3 4 2 1 2 2 2 2 2-9 2 10 2-8 2 1 2-13 3 9 2 8 2 0 2-9 2-3 2 10 2-6 2 8 2-2 3 2 2-4" stroke="#009fff"/><path d="M2660 2342l2 3 2-4 2 9 2-3 3-4 2 0 2-2 2 14 2-6 2 8 2-8 2 0 2-32 3 33 2 0 2-12 2 10 2-7 2-1 2 10 2-6 2-9 3 14 2-3 2 2 2-9 2 10 2-5 2 0 2 7 2-2 3-2 2-10 2 7 2 3 2-16 2 12 2-5 2 6 2 2 3 0 2-11 2 10 2 7 2-2 2-10 2 7 2-10 3-14 2 26 2-7 2 9 2-13 2 3 2 10 2-5 2-28 3 23 2 7 2-1 2-12 2 5 2 20 2-35 2 16 2 1 3 0 2 8 2-8 2 15 2-15 2 7 2 1 2-6 2-1 3 7 2-13 2 10 2-4 2 7 2-5 2-7 2 6 2 0 3 0 2 0 2 7 2-6 2-9 2 16 2-5 2-9 2 11 3-3 2 12 2-17 2 8 2-6 2 3 2 2 2-19 2 16 3 0 2-2 2-10 2 11 2-3 2-2 2 11 2-1 2-7 3 5 2-12 2 8 2 3 2-5 2 3 2 3 2-3 2-1 3 1 2 0 2 3 2 0 2-1 2 7 2-7 2-4 3 3 2 0 2-4 2-18 2 6 2 21 2-6 2 10 2-14 3 10 2-8 2 5 2-6 2 3 2 3 2-1 2 5 2-4 3-28 2 32 2-4 2-2 2 6 2-2 2 1 2-6 2 3 3-8 2 9 2-3 2 0 2-22 2 11 2-2 2 6 2 3 3 7 2-8 2 7 2 3 2-10 2-12 2 17 2 3 2-1 3 2 2 3 2-14" stroke="#009fff"/><path d="M1140 2346l2 4 2-2 2-6 2 6 3-1 2-1 2 0 2 1 2-25 2 23 2-1 2 6 2-1 3-3 2 4 2-7 2-2 2-7 2 20 2-11 2 9 2-2 3-5 2 2 2-7 2 5 2-4 2 4 2 4 2 2 2 0 3-12 2 7 2 7 2-17 2 6 2-11 2 11 2 4 2-6 3-2 2 3 2 4 2-11 2 5 2-10 2 20 2 1 3-5 2 3 2-20 2 20 2-10 2 11 2-4 2 5 2-2 3-37 2 34 2 1 2 0 2 4 2-5 2-7 2 7 2-3 3 7 2-2 2-2 2-8 2 12 2 1 2 1 2-2 2-4 3 3 2 5 2-7 2-3 2-1 2 1 2 9 2 1 2-2 3-3 2 0 2 0 2 2 2-2 2-5 2-8 2-9 2 18 3 7 2-4 2 8 2-2 2-7 2-1 2-2 2 2 2-1 3-10 2 15 2-3 2-1 2-2 2 6 2-17 2 15 2 0 3 1 2 1 2 2 2-1 2-1 2 3 2-17 2 14 2-2 3-5 2 8 2-17 2 14 2 5 2-6 2-4 2 7 3 0 2 3 2-11 2 13 2-14 2 7 2-9 2 13 2 3 3-4 2-2 2-2 2 8 2-7 2-4 2-11 2 18" stroke="#00bfff"/><path d="M1900 2347l2 3 2-17 2 12 2-5 3-13 2 21 2 3 2-7 2-1 2 4 2-1 2-14 2 20 3-4 2-1 2 5 2-14 2 10 2 2 2-17 2 8 2 10 3-1 2 0 2 0 2 2 2-4 2 7 2-5 2-9 2 6 3-9 2 12 2-8 2 1 2 4 2-9 2-12 2 22 3-8 2 2 2 0 2 4 2 12 2-14 2 6 2-9 2 7 3-6 2-2 2 5 2-4 2 4 2-5 2 3 2 6 2-11 3 8 2 6 2-19 2 12 2 9 2-4 2-4 2 0 2 0 3 0 2 0 2-17 2 13 2-18 2 10 2 17 2-5 2-6 3-1 2 12 2 0 2-4 2 3 2 1 2-4 2-2 2 3 3 2 2-13 2 17 2-11 2 10 2-7 2 4 2 1 2-5 3-1 2-11 2 0 2 15 2-4 2 6 2-4 2 1 2 2 3-2 2-13 2 6 2 4 2 9 2-24 2 26 2-10 2-15 3 7 2 6 2 1 2 0 2-6 2 13 2-7 2 3 3-1 2 2 2-2 2 8 2-22 2-6 2 20 2-2 2 2 3-3 2 2 2 9 2-8 2-6 2 2 2 7 2-1 2-9 3 4 2 1 2-4 2 2 2 4 2-8 2-8 2 12 2 8 3-10 2 8 2-6 2-5 2 12 2-12 2 10 2-3 2-3 3 6 2-16 2 16 2-6 2 4 2 0 2-2 2 7 2 0 3-5 2 1 2-4 2-2 2 3 2 8 2-5 2 1 2 2 3-2 2-4 2 6 2-7 2 2 2 3 2 8 2-13 2 13 3-4 2-21 2 19 2-6 2 6 2-1 2-11 2 14 2 0 3-6 2 2 2 0 2 4 2-9 2 11 2-11 2-12 3 19 2-7 2 10 2-7 2 2 2 2 2-8 2 3 2 3 3-14 2 7 2 3 2-4 2 11 2 1 2-7 2-8 2 14 3-8 2 5 2-3 2 3 2 1 2-8 2 8 2 2 2-1 3 3 2-8 2-5 2 0 2 12 2-2" stroke="#00bfff"/><path d="M1847 2341l3-17 1-25 2 30 2 12" stroke="#00bfff"/><path d="M401 2342l2 8 2-9 2 13 2-8 2 2 2-15 2 19 2-3 3-3 2 0 2 0 2-5 2-2 2 13 2-2 2-13 2 13 3-7 2 8 2-1 2-32 2 28 2 0 2 4 2 0 2-1 3 4 2-28 2 18 2 9 2-6 2-7 2 12 2-3 2-2 3-10 2 8 2 10 2-16 2 12 2-3 2-9 2 9 2-8 3 4 2 6 2-12 2 14 2-1 2-4 2 1 2 1 2-7 3-5 2 15 2-18 2 5 2 14 2-8 2 1 2-12 2 10 3 5 2-1 2-5 2 5 2 5 2-3 2 2 2-2 2-3 3-1 2 3 2-9 2 14 2-4 2-2 2-3 2 5 3 2 2-7 2-14 2 17 2 4 2-7 2-10 2 16 2-3 3-2 2-10 2 0 2 9 2-1 2 5 2-5 2 6 2-24 3 20 2 8 2-10 2 5 2-7 2 13 2-12" stroke="#00dfff"/><path d="M1900 2349l2 1 2-6 2 2 2 3 3-6 2 12 2-14 2 4 2-2 2-11 2 14 2-4 2-7 3 15 2 2 2-6 2 7 2-12 2 4 2-12 2 24 2-5 3 3 2-8 2 2 2 1 2-7 2 0 2 11 2-23 2 19 3-1 2-14 2 9 2 10 2-7 2-5 2 5 2-4 3 4 2-6 2-2 2 5 2 6 2 1 2-21 2 20 2-5 3 3 2 3 2-3 2 1 2-7 2-11 2 15 2-2 2 1 3 7 2-4 2 0 2-3 2-8 2 10 2-1 2 1 2-4 3-11 2 15 2 0 2 3 2-6 2-4 2 7 2-7 2 0 3-1 2 10 2 0 2-7 2 4 2-8 2 11 2 0 2-3 3-1 2 0 2 7 2-4 2-4 2 7 2-9 2 1 2 4 3 1 2-2 2-1 2-18 2 20 2 2 2 0 2 5 2 2 3-10 2-12 2 8 2 13 2-16 2-1 2 17 2-7 2 3 3-14 2 7 2-4 2 11 2-14 2 12 2 1 2-3 3 5 2-2 2-3 2-1 2-12 2 9 2-7 2 14 2-5 3 4 2-2 2 1 2-8 2 8 2-13 2 18" stroke="#00dfff"/><path d="M616 2353l2 3 2-13 2 14 2-10 2 5 2-14 3 6 2 9 2-21 2 15 2 0 2-12 2 5 2 6 2-3 3-1 2 6 2-5 2 7 2-11 2 15 2-3 2 0 3-4 2-7 2 5 2-13 2 18 2-12 2-7 2 20 2-3 3-3 2 1 2 2 2-4 2 9 2-2 2-3 2 3 2 1 3-10 2 7 2-5 2 4 2 0 2 1 2 0 2-7 2 5 3 2 2-21 2 16 2-2 2-24 2 28 2 5 2-16 2-5 3 18 2 2 2-3 2 4 2-5 2 6 2-7 2 0 2 2 3-3 2-1 2-3 2 15 2-10 2 2 2-3 2-12 2 0 3 16 2-4 2-18 2 24 2 3 2 0 2-17 2 10 2-2 3 3 2 5 2-1 2-5 2-9 2 4 2 9 2 1 2-3 3 2 2-2 2-4 2 9 2-15 2 12 2-5 2 8 3-10 2 2 2 6 2-1 2-5 2 5 2-31 2 30 2-15 3 15 2-1 2-7 2 13 2-7 2 6 2-14 2-3 2 9 3-4 2 7 2-1 2 1 2-8 2-6 2 20 2-10 2-1 3-3 2 7 2 4 2-8 2-1 2 9 2-6 2 11 2-4 3-6 2-4 2-3 2 7 2-9 2 11 2 4 2 0 2-12 3 5 2-10 2 14 2-1 2-4 2-3 2 5 2 6 2-3 3-7 2 6 2 3 2-3 2-9 2 10 2-2 2-19 2 21 3 0 2 1 2-11 2 5 2 8 2-4 2-2 2 4 2-2 3-6 2 8 2-5 2 3 2-4 2-3 2 7 2 4 3-4 2 0 2-8 2 4 2-1 2-4 2 15 2-12 2 3 3 1 2 4 2-1 2 0 2-4 2-3 2-4 2 11 2 3 3-4 2-7 2 4 2 6 2-17 2 11 2 3 2-2 2 0 3-5 2 10 2-12 2-6 2 7 2 9 2-5 2 5 2-14 3 9 2-3 2-4 2 4 2 3 2 7 2-2 2-1 2 6 3-11 2 7 2-3 2-1 2 0 2 1 2 0 2-8 2-1 3 4 2 6 2 2 2 5 2-13 2 7" stroke="#00ffff"/><path d="M1595 2343l2-3 2 7 3 0 2 4 2-6 2 7 2 2 2-5 2-1 2-4 2-4 3 5 2 11 2-18 2 12 2-1 2-9 2-4 2 0 2 8 3 1 2 1 2 10 2-16 2 3 2 1 2 3 2 0 2-2 3 1 2-9 2 17 2-3 2-6 2-2 2-11 2 17 2-4 3 2 2 7 2-3 2-5 2 5 2 0 2-15 2 10 2 2 3-2 2-15 2 9 2 1 2 12 2-7 2-36 2 32 2 8 3-10 2 1 2 2 2-3 2 5 2-27 2 32 2-12 3 6 2 6 2 1 2-6 2-9 2 12 2 0 2 1 2 2 3-11 2 10 2-3 2-2 2 0 2 2 2-12 2 12 2 0 3-1 2 5 2-3 2-4 2 7 2 0 2-8 2 2 2 6 3-3 2 1 2-5 2 3 2-7 2-2 2 17 2 4 2-14 3 3 2 4 2-3 2 6 2-10 2-5 2 0 2-1 2 4 3 1 2 0 2-2 2-5 2 4 2 5 2 10 2-5 2-3 3-7 2 13 2-10 2 2 2 3 2-15 2 6 2 3 2-4 3-6 2 16 2-5 2-10 2 18 2-3 2-6 2 7 2-10 3 2 2 6 2 0 2 5 2-12 2 9 2 2 2-4 3 2 2-9 2-8 2-8 2 19 2-10 2 17 2-5 2 1" stroke="#00ffff"/><path d="M2281 2343l2 6 3-1 2-6 2 2 2 9 2-7 2-2 2 3 2 5 3-4 2-15 2 4 2 4 2-10 2 27 2-16 2-18 2 24 3 2 2-8 2-6 2 12 2 1 2-30 2 4 2 28 2-15 3 11 2-3 2 3 2 0 2-8 2 5 2 1 2 2 2-7 3 12 2-13 2 1 2 1 2-3 2 4 2 0 2 3 2 1 3-7 2 6 2 3 2-2 2 4 2-7 2-1 2 7 2 0 3-11 2 6 2-1 2-15 2 20 2 1 2 3 2 1 2-26 3 16 2 12 2-8 2-8 2-3 2 6 2 0 2 1 2 6 3-1 2-8 2-1 2 9 2 0" stroke="#00ffff"/><path d="M3140 2314l2 33 2-13 2-6 2 16 2 2 2 7 3-12 2-3 2 7 2-16 2 14 2-9 2 8 2 1 2-8 3 10 2 5 2-4 2-3 2-4 2 9 2-13 2-11 3 21 2 8 2-118 2 105 2-16 2 20 2-17 2 25 2-12 3 10 2-5 2-9 2-1 2-7 2 13 2 1 2 2 2 4 3-19 2 17 2 7 2-9 2-10 2 4 2 2 2 4 2-9 3 3 2-45 2 46 2 8 2 1 2-14 2 13 2-13 2 11 3 1 2-5 2-18 2 21 2-1 2-15 2 0 2 0 2 15 3 3 2-3 2-22 2 20 2 2 2-5 2 4 2-9 2-2 3 16 2-5 2-3 2 2 2 0 2 0 2-8 2 0 2 7 3-1 2 2 2 3 2-2 2-6 2-3 2 12 2 4 2-3 3-7 2 5 2 1 2-16 2 15 2 1 2-20 2 16 3-12 2 2 2 13 2-15 2 14 2-7 2 6 2-2 2 3 3-10 2 11 2-10 2-1 2 4 2 1 2 7 2-15 2 3 3 10 2 2 2-1 2-10 2 12 2-17 2 18 2-86 2 89 3-13 2 13 2-10" stroke="#00ffff"/><path d="M381 2345l2 7 2-13 2 4 2-12 3-12 2 22 2 4 2 3 2-3 2-10 2 10 2 2 2 2 3-6 2-1 2 1 2 9 2-13 2-1 2-5 2 11 2 2 3-1 2 3 2-1 2 6 2-12 2 3 2 8 2-8 2-7 3 10 2-15 2 6 2 9 2-14 2 12 2-1 2-1 3 5 2 5 2 0 2-3 2-2 2-22 2 21 2 6 2-5 3 0 2-2 2 4 2-1 2 3 2-11 2 1 2 10 2-9 3-3 2 12 2-11 2 7 2-6 2 11 2-4 2-3 2 4 3-7 2 2 2-6" stroke="#20ffdf"/><path d="M1669 2347l2-7 2 9 2-6 2 14 3-9 2 1 2-4 2 5 2 2 2-14 2 9 2 3 2-11 3 3 2-10 2 10 2 13 2-16 2-14 2 25 2-13 2 1 3 9 2 1 2 2 2-18 2 12 2-5 2-11 2 19 3-2 2 1 2 1 2-11 2 17 2-15 2 3 2 5 2 2 3-1 2 2 2-4 2 2 2 8 2-8 2-6 2-3 2 10 3 1 2 1 2-5 2-9 2 13 2 0 2-2 2-1 2-3 3-6 2 12 2-7 2 2 2 7 2-2 2 4 2-2 2-2 3-1 2-3 2-1 2 8 2 1 2-17 2 12 2-8 2-1 3 8 2 0 2-12 2 19 2-4 2-1 2-6 2 1 2 0 3 0 2-14 2 10 2 9 2-2 2 5 2-11" stroke="#20ffdf"/><path d="M2372 2345l2 2 2 3 2-3 2-22 2 15 2 4 2 4 3 2 2-8 2 7 2 0 2-11 2 12 2-1 2-17 2 17 3-12 2 10 2 2 2 0 2-2 2 1 2-3 2 4 2-7 3 5 2 4 2-8 2 2 2 5 2-11 2 1 2 5 2 3 3 2 2-4 2-13 2 9 2 8 2 0 2-2 2-5 2-10 3 18 2 1 2 0 2-3 2-30 2 31 2-1 2 0 2-28 3 10 2 15 2-5 2 7 2-5 2 1 2 4 2-7 2 1 3 10 2 1 2-7 2 5 2-4 2-9 2 13 2-4 2-3 3 6 2-1 2 3 2-2 2 1" stroke="#20ffdf"/><path d="M3144 2334l2 10 2-5 3 10 2-57 2 42 2-9 2 12 2 7 2 3 2 5 2-13 3-8 2 13 2 6 2-25 2 24 2-4 2 2 2-8 2 4 3-1 2-11 2 10 2-25 2 32 2-6 2 9 2-8 2-6 3-1 2 6 2-4 2 9 2-4 2-1 2 6 2-9 2-19 3 11 2 10 2-16 2 5 2 23 2-13 2 4 2-6 2 4 3-5 2-4 2 1 2 5 2 6 2-19 2 8 2 2 2 10 3-10 2-22 2 33 2-4 2-2 2 3 2-79 2 69 2-3 3 11 2 3 2-11 2-8 2 13 2 7 2 0 2-13 3-117 2 121 2 6 2-2 2-7 2 0 2 14 2-10 2-8 3 12 2 2 2 1 2-3 2 3 2-6 2-5 2 2 2-9 3-26 2 44 2 5 2-8 2 4 2-2 2-6 2-2 2-1 3 8 2-2 2 3 2-12 2 12 2 6 2-11 2 8 2-3 3 0 2-2 2 6 2-15 2 19 2-20 2 14 2 4 2 2 3-7 2-13 2 3 2 9 2 9 2-20 2-8 2-41 2 57 3-10 2 13 2 2" stroke="#20ffdf"/><path d="M3064 2341l3-95 1-144 2 168 2 71" stroke="#20ffdf"/><path d="M3081 2341l2-85 2-127 1 149 2 63" stroke="#20ffdf"/><path d="M3216 2341l3-72 1-108 2 126 2 54" stroke="#20ffdf"/><path d="M3356 2341l2-72 2-108 1 126 2 54" stroke="#20ffdf"/><path d="M3134 2341l2-32 2-47 1 55 3 24" stroke="#20ffdf"/><path d="M3166 2341l2-42 2-64 1 74 2 32" stroke="#20ffdf"/><path d="M716 2344l2 7 2-7 3 5 2-1 2 5 2-24 2 22 2-11 2 7 2 8 3-10 2 3 2-3 2 6 2-9 2 9 2-2 2 1 2 2 3-5 2-16 2 18 2 3 2-18 2 4 2 12 2-4 2 3 3-18 2 12 2-9 2 1 2 15 2 0 2-1 2-1 2-2 3 8 2-6 2-7 2 6 2-12 2 14 2-9 2 6 2-7 3 11 2-3 2 1 2-10 2 10 2-2 2 0 2 2 2 0 3-4 2 3 2-11 2 11 2-9 2-16 2 22 2 9 2-3 3-7 2-3 2-15 2 14 2 11 2-6 2 4 2 0 2-1 3 1 2 6 2-14 2 10 2-6 2 5 2-4 2-1 2 0 3-4 2 9 2 2 2-8 2-3 2 4 2 6 2-7 3 5 2 2 2-2 2-9 2 3 2 7 2 3 2-28 2 11 3 7 2 10 2-2 2 2 2-12 2 6 2 1 2 5 2-4 3-2 2 7 2 2 2-4 2-4 2 5 2 0 2-5 2 0 3-13 2-3 2 12 2 2 2 6 2-6 2-1 2 7 2-8 3-1 2 5 2 8 2-8 2 6 2-14 2 10 2-2 2-3 3 0 2 3 2-8 2 13 2-7 2 0 2-7 2 0 2-13 3 24 2-2 2-1 2-13 2 16 2-1 2-2 2-9 2 8 3 1 2-1 2-11 2 12 2-5 2 8 2 2 2-7 2 3 3 9 2-10 2 3 2-10 2 9 2-2" stroke="#40ffbf"/><path d="M2080 2346l3 6 2-12 2 1 2 6 2-3 2 3 2 2 2-2 2-7 3 4 2 7 2-9 2-18 2 29 2-11 2 7 2-1 2-4 3 7 2-6 2 4 2-10 2 10 2-4 2-6 2 8 2-10 3 10 2 0 2-13 2 18 2 0 2-23 2 15 2 6 2-8 3 9 2-12 2 5 2 4 2 1 2 1 2 3 2-8 3 0 2-2 2 5 2-4 2-3 2 5 2-4 2 6 2 3 3-2 2-7 2 3 2-3 2 2 2-8 2 12 2 1 2-4 3 0 2 2 2 5 2 0 2-1 2-5 2 7 2-8 2 8 3-7 2 1 2 7 2-15 2 8 2 1 2-14 2 8 2-3 3 6 2-3 2 11 2-3 2-38 2 29 2 4 2 3 2 1 3-9 2 5 2 7 2-10 2 1 2 7 2-1 2 3 2-17 3 10 2-3 2 7 2-6 2-2 2 5 2 0 2 1 2 0 3 0 2 1 2-1 2-6 2 4 2-3 2 14 2-15 2-6 3 5 2-9 2 10 2 10 2-5 2 1 2-14 2 11 3 2 2 5 2 0 2 3" stroke="#40ffbf"/><path d="M392 2345l2 4 3 0 2-1 2-2 2-7 2 9 2-8 2 13 2-6 2 5 3-3 2-1 2-3 2 2 2 2 2-1 2-7 2 2 2-8 3 12 2 5 2-21 2 13 2-2 2 5 2-2 2 8 2-2 3-9 2-1 2 8 2-3 2-1 2-1 2 9 2-5 2 2 3-4 2 0 2-4 2-11 2 18 2-9 2 19 2-9 2-6 3 7 2-1 2-5 2 7 2-7 2 4 2-1 2-1 2-30 3 23 2 8 2 3 2 2 2-7 2 0 2 4 2-11 3 4 2 10 2-4 2-1 2-14 2 8 2 11 2-15 2 16 3-13 2 11 2-10 2 0 2 5 2-4 2-2 2-1 2 10 3 1 2-10 2 8 2-7 2 9 2-15 2 10 2-7 2 0 3-2 2 14 2-8 2 2 2 3 2-13 2 14 2-11 2 17 3-8 2 1 2-5 2 5 2 4 2 4 2-5 2-7 2-4 3 10 2-7 2 4 2-6 2 7" stroke="#60ff9f"/><path d="M1845 2350l2-5 3-9 2 14 2-1 2-1 2-9 2 8 2 6 2-8 2-20 3 26 2-7 2-5 2-3 2 12 2-3 2-6 2-1 2 13 3 0 2 2 2-6 2 2 2-5 2 4 2-7 2 1 3 9 2-2 2 2 2-9 2 1 2 4 2-2 2-23" stroke="#60ff9f"/><path d="M1900 2351l2-5 2-6 2 13 2-5 3-2 2 3 2-7 2 5 2-13 2 0 2 15 2-8 2 1 3-1 2 6 2-7 2 8 2-1 2 2 2 1 2-7 2 4 3 1 2 4 2-4 2-9 2 9 2-17 2 12 2 3 2 4 3-1 2 1" stroke="#60ff9f"/><path d="M3267 2327l2 20 2-7 2 6 2 1 2 3 3-8 2-5 2-1 2 2 2-13 2 23 2-3 2-46 3 28 2 22 2-21 2 8 2-5 2-6 2 22 2-16 2 16 3-5 2 5 2-2 2 0 2-6 2-20 2 28 2 1 2-2 3-2 2 1 2-9 2 4 2 9 2-14 2 7 2 7 2-4 3 5 2-11 2-69 2 69 2 11 2-4 2-31 2 39 2-19 3 9 2-5 2-9 2 13 2 6 2-15 2-3 2 3 2 16 3-4 2 2 2-19 2 9 2-16 2 15 2 0 2 0 2 6 3 3 2-5 2-6 2 3 2 8 2-8" stroke="#60ff9f"/><path d="M3315 2341l2 5 2-4 2-4 2-6 2 7 2 3 2 0 3-94 2 93 2-7 2 0 2 10 2 5 2-12 2 8 2-6 3 4 2 1 2-20 2 21 2-11 2 2 2-5 2 12 2-2 3 7 2-9 2 11 2-5 2 0 2 1 2-19 2 15 2-20 3 2 2 14 2 4 2 1 2-6 2-5 2-35 2 35 3 12 2-5 2 10 2 1 2-13 2 2 2 5" stroke="#60ff9f"/><path d="M1279 2345l3 1 2-1 2-3 2 7 2 2 2-1 2-4 2-4 2-12 3 12 2-2 2 8 2 0 2 1 2-4 2-4 2 8 2-2 3 3 2-16 2 10 2 1 2-1 2 2 2 1 2 5 2-9 3 11 2-6 2 3 2-6 2 5 2-1 2-1 2-3 2-1 3-3 2-10 2 14 2-5 2 9 2-9 2 9 2 3 2-2 3-3 2-5 2-1 2 0 2 0 2 4 2-1 2-2 3 1 2-20 2 25 2-5 2 4 2 1 2-3 2 5 2-1 3-2 2 6 2-7 2-1 2 5 2-2 2-3 2 5 2-1 3-1 2-5 2 6 2 1 2 2 2-3 2 1 2-5 2 0 3-5 2 4 2 4 2 0 2 1 2-18 2 21 2-7 2 2 3 1 2 0 2 0 2 9 2-8 2-3 2-22 2 25 2-1 3 3 2-8 2-8 2 8 2 7 2 0 2-7 2-2 2-3 3 9 2-4 2 6 2-8 2-9 2 8 2 7 2-2 2-4 3 10 2-10 2 6 2-2 2 4 2 0 2 0 2-1 2 1 3-7 2 8 2-7 2 5 2-8 2 11 2-5 2 2 3 3 2-12 2-6 2 1 2 14 2-3 2-1 2 0 2 4 3-10 2 11 2 1 2-5 2 1 2 2 2-2 2 5 2-6 3-8 2 3 2 6 2-2 2 3 2-4 2 9 2-9 2-2 3-14 2 17 2-1 2 1 2 3 2-2 2 5 2-2 2-3 3 5 2-6 2-2 2-24 2 18 2 3 2 10 2-4 2-3 3 3 2-2 2 6 2-4 2-9 2 1 2 3 2 10 2-6 3 5 2-15 2 8 2 6 2-14 2 13 2 2 2-5 2 8 3 0 2-2 2-31 2 18 2 10 2-3 2-1 2 1 2-2" stroke="#80ff80"/><path d="M2763 2338l2 12 2-3 2 4 2-1 2-10 2-2 2 9 2-1 3-7 2 4 2 6 2-21 2 22 2 1 2-6 2 4 2-5 3-4 2 4 2-3 2 3 2 8 2-22 2 19 2-2 2-2 3-42 2 45 2-6 2-3 2 7 2 1 2-4 2 6 2-23 3 18 2 2 2-7 2 7 2-14 2-6 2 15 2 2 2 8 3-11 2 11 2-2 2-1 2-7 2 8 2-1 2-8 2 9 3 3 2-15 2-11 2 13 2-2 2 10 2 2 2-14 2 14 3-1 2 2 2-3 2-3 2-7 2 5 2 8 2-5 3 1 2-3 2 3 2 1 2 7 2-18 2 10 2 3 2 1 3-1 2-16 2 6 2 10 2-8 2 5 2-5 2 0 2 12 3-4 2-16 2 7 2-2 2-4 2-5 2 25 2-33 2 37 3-16 2 7 2 0 2 0 2-7 2 2 2-5 2-7 2 11 3 2 2 2 2 6 2-4 2-8 2 1 2 11 2-4 2 2 3-1 2-9 2 3 2 3 2 2 2-13 2 12 2 4 2-12 3 3 2 11 2-12 2 2 2 2 2-8 2 7 2-25 2 22 3-7 2 6 2 0 2-18 2 16 2-4" stroke="#80ff80"/><path d="M3062 2341l1-54 2 15 1-45 2-3 1-31 2-20 1 12 2 71 1-28 2 4 1 43 2-16" stroke="#80ff80"/><path d="M626 2349l2-2 2-7 2-7 3 5 2 7 2 1 2-2 2 0 2 4 2-10 2 4 2-2 3 1 2-3 2-13 2 20 2-4 2 0 2-6 2 10 2 0 3-2 2 3 2-5 2 10 2-27 2 25 2-11 2 2 2 1 3-7 2 17 2-2 2-3 2-4 2 5 2-6 2-6 2 7 3 5 2-13 2 12 2 1 2-10 2 7 2-3 2-1 2 1 3-13 2 21 2-1 2-8 2 5 2-12 2 3 2 2 2 3 3-4 2 5 2 1 2-4 2 3 2 7 2-11 2 16 2-7 3 4 2-2 2-10 2 5 2-3 2 0 2-1 2 3 2-1 3-2 2-12 2 6 2 9 2-4 2 2 2 4 2-5 3 0 2-3 2-11 2 16 2 7 2-4 2-2 2 4 2 2 3-5 2 8 2-6 2-4 2 4 2-3 2 0 2-7 2 13 3-4 2-4 2-3 2 8 2-5 2 2 2-11 2 3 2 8 3-1 2-4 2 5 2-1 2 7 2-8 2 9 2-2 2-8 3 7 2-8 2 8 2 3 2-27 2 20 2-7 2 0 2 10 3-3" stroke="#9fff60"/><path d="M2113 2339l2-3 2 10 3-19 2 24 2-1 2-25 2 12 2 5 2 6 2-3 2 1 3-10 2 2 2 4 2-11 2 18 2-16 2 11 2-4 2-4 3 6 2 11 2-22 2 10 2 2 2 0 2 9 2-11 3 8 2-7 2 7 2-1 2 1 2-4 2-6 2-16 2 18 3 0 2 9 2-10 2 2 2 0 2-1 2 9 2-6 2 3 3-6 2 6 2-5 2-2 2 7 2-4 2-8 2 11 2-2 3 2 2-10 2 1 2-6 2 7 2 3 2 2 2-5 2 13 3-7 2 4 2-2 2 0 2-12 2 10 2-3 2 0 2-2 3 3 2 9 2-8 2-18 2 20 2 3 2-12 2 7 2-12 3-5 2 5 2 16 2-11 2 9 2-6 2-6 2 9 2 2 3 0 2-2 2-1 2 6 2-2 2 1 2 2 2-5 2-5 3 11 2-3 2-1 2-8 2-1 2 12 2-19 2 18 3-26 2 22 2-2 2 7" stroke="#9fff60"/><path d="M431 2343l2 6 2-6 3-55 2 59 2-12 2-5 2-9 2 27 2-3 2-18 2 15 3 1 2-14 2 19 2-2 2 0 2 1 2-3 2-7 3-11 2 17 2-3 2-2 2 3 2-3 2 7 2-3 2-1 3 1 2-27 2 21 2 4 2-5 2 18 2-6 2-9 2 1 3 3 2-1 2 6 2-18 2 12 2 2 2-13 2 24 2-2 3-5 2 6 2-18 2 11 2 0 2-6 2 8 2-2 2-2 3-6 2 9 2-7 2-2 2-2 2 13 2-5 2 15 2-10 3-8 2 4 2-4 2 1 2 2 2-7 2 6 2 7 2-6 3-5 2 0 2-1 2-2 2 10 2-3 2-2 2 2 2-6 3 7 2-2 2 5 2-11 2-5 2 18 2-13 2 2 2-8 3 10 2 3 2-10 2 2 2 13 2 1 2-18 2 13 3 4 2-24 2 17 2 4 2 0" stroke="#bfff40"/><path d="M569 2334l2 9 2 3 2-1 2 8 2-4 2-12 2 4 3-4 2 7 2 2 2-6 2 0 2 0 2-3 2-5 2 6 3 6 2-4 2 3 2-14 2 14 2 1 2 3 2-5 2-10 3 7 2-3 2 16 2-10 2 3 2 4 2-12 2 10 2-9 3-1 2 2 2-6 2 17 2-9 2 1 2 5 2-16 2-2 3-4 2 18 2 1 2-6 2-2 2 8 2-1 2-9 2 10 3 5 2-17 2 10 2 2 2-2 2 3 2 2 2-5 3 4 2-8 2-1 2-28 2 34 2-7 2 11 2-4 2-5 3 2 2-11 2 14 2 1 2-4 2 4 2 4 2-7 2-5 3-1 2 9 2-2 2 3 2 2 2-4 2 4 2-2 2 6 3-1 2-2 2-10 2 6 2 1 2-2 2 7 2-5 2-10 3 11 2-13 2 13 2-6 2-6 2 6 2-8 2 8 2-2 3-2 2 8 2-11 2-1 2 13 2 2 2-5 2-3 2 8 3-5 2-15 2 11 2 0 2 11 2-5 2 8 2-8 2-11 3 15 2-14 2 8 2-8 2-3 2 4 2-4 2 9 2 0 3 5 2-7 2 5 2 6 2 1 2-3 2-1 2-2 3-8 2 10 2-2 2-2 2-2 2 3 2-4 2 6 2-7 3 14 2-18 2 16 2-9 2 5 2-4 2 6 2-4 2-6 3 2 2 7 2-15 2 11 2 3 2-12 2 6 2 8 2-8 3 6 2-7 2 5 2 7 2-13 2 3 2 3 2-25 2 23 3 7 2-1 2 2 2-10 2-7 2 13 2-2 2-2 2 7 3-12 2-1 2 5 2 6 2-2 2-20 2 27 2-5 2-6 3 4 2-10 2 6 2 2 2-8 2-1 2-10 2 9 2 10 3-1 2-14 2 20 2-20" stroke="#dfff20"/><path d="M2236 2342l2-4 2-1 3 6 2 3 2-3 2 5 2-7 2 10 2-3 2-7 3 1 2 0 2 6 2-3 2-15 2 17 2-26 2 12 2 6 3 2 2-6 2 9 2 0 2 0 2-4 2 3 2 4 2-2 3-5 2 3 2 6 2-10 2 7 2-3 2 1 2-8 2-13 3 23 2-7 2-3 2 6 2 5 2-7 2 8 2-4 2-3 3 6 2 3 2-14 2 2 2-10 2 14 2-5 2 5 2-4 3-5 2 18 2-23 2 17 2-12 2 4 2 8 2-4 2-10 3 4 2 14 2-10 2 10 2-7 2 0 2 3 2 0 2-4 3 3 2-2 2 3 2-6 2 3 2 3 2 2 2-2 2-7 3 7 2 0 2-1 2 1 2-13 2-2 2 17 2-5 3 0 2 5 2 1 2-7 2-18 2 18 2-1 2-15 2 21 3-1 2-1 2-4 2 3 2-11 2 12 2 0 2 2 2-1 3-18 2 26 2-10 2-4 2 6 2-6 2 9 2-1 2 5 3-8 2-5 2 5 2-14 2 19 2 0 2-11 2-3 2 9 3 2 2-3 2 0 2-3 2 9 2-6 2-11 2 13 2-3 3 4 2-14 2-5 2 14 2 1 2 2 2-5 2 7 2 3 3-17 2 13 2-8 2 12 2-5 2-6 2 8 2-6 2-9 3-4 2 14 2-10 2 8 2 6 2-24 2 17 2-5 2 13 3-19 2 24 2-15 2-2" stroke="#dfff20"/><path d="M381 2345l2 5 2-7 2-11 2 16 3-4 2 0 2 0 2 0 2 5 2-15 2 0 2 2 2 7 3-13 2 16 2-2 2-5 2 5 2-5 2 3 2-5 2-20 3 29 2-4 2-1 2 3 2 0 2-6 2 10 2 4 2-18 3 2 2 8 2-6 2 6 2 0 2 2 2-6 2 4 3 2 2 6 2-6 2-8 2 13 2-10 2-9 2 15 2-9 3-11 2 13 2-4 2-22 2 27 2 2 2-5 2-1 2 10 3-8 2 9 2-11 2 4 2 4 2-5 2-2 2 1 2 7 3-13 2 3 2-4 2 22 2-14 2-5 2 6 2 8 2-2 3-9 2 7 2-10 2 10 2-1 2-4" stroke="#ffff00"/><path d="M1597 2344l2-6 2 5 3-2 2 5 2-14 2 9 2-11 2 10 2 1 2 2 2-3 3-3 2 3 2-4 2 11 2-21 2 23 2-22 2 13 2-7 3 11 2-3 2 1 2-1 2 10 2-8 2-55 2 53 3 5 2-3 2-2 2-7 2-6 2 8 2 0 2 9 2-4 3 7 2-7 2 7 2-14 2 1 2 9 2-2 2-2 2-3 3 6 2 2 2-4 2-7 2-1 2 10 2 3 2-3 2 1 3 0 2-1 2 1 2 0 2-13 2 2 2-5 2 16 2-4 3 5 2-2 2 1 2 0 2 0 2 3 2 0 2-18 2 1 3 12 2-3 2 1 2-1 2-11 2 2 2 10 2 3 2 4 3-9 2 9 2-7 2 5 2-4 2-2 2-6 2 17 2-9 3 0 2 3 2 0 2 1 2 0 2-6 2 10 2-7 2 3 3 2 2-6 2 3 2-3 2-3 2 7 2 0 2 3 3-2 2-16 2 17 2-1 2-12 2-1 2 9 2-1 2-3 3 1 2 5 2 6 2-8 2-7 2-5 2 11 2-14 2 14 3-4 2 4 2 7 2-9 2 10 2-5 2 0 2 1 2 2 3-6 2 2 2 2 2-3 2 6 2-35 2 28 2 1 2 4 3-6 2 0 2 9 2-21 2 15 2-6 2 5 2 6" stroke="#ffff00"/><path d="M1900 2340l2 0 2 4 2-1 2-6 3 4 2-12 2 8 2-6 2-2 2 9 2 7 2-5 2 3 3 5 2-8 2 11 2-5 2-2 2 4 2-22 2 23 2-4 3-4 2-4 2 12 2-4 2 4 2-22 2 22 2-1 2-2 3-1 2-2 2 5 2-17 2 2 2-2 2 15 2 1 3-12 2 13 2-14 2 10 2-7 2-26 2 29 2 5 2-1 3 0 2-3 2-7 2 4 2 2 2 1 2 9 2-7 2 0 3 4 2-6 2 2 2-10 2 8 2 9 2-5 2-7 2 5 3 3 2-2 2-9 2 5 2-2 2 3 2-29" stroke="#ffff00"/><path d="M3091 2341l1-28 2 4 1-55 2 4 1-25 2 6 1 48 2-19 1 7 2 28" stroke="#ffff00"/><path d="M1333 2341l2 3 2 0 2-4 2 3 2 4 2-30 3 32 2-9 2-6 2 10 2-4 2-2 2 4 2-6 2 4 3-2 2 5 2-5 2 6 2 2 2-8 2 5 2-12 2 9 3-2 2 7 2-5 2 3 2-2 2-6 2 16 2 1 2-8 3-4 2 1 2 3 2 0 2-1 2 2 2 2 2-7 2 10 3-4 2-2 2-7 2 1 2 7 2-19 2 15 2 9 2-17 3 0 2 13 2 2 2-18 2 11 2 9 2-7 2-2 2-1 3 8 2-8 2 2 2-5 2 9 2 1 2-12 2 9 3-11 2 0 2 4 2 8 2 2 2-6 2-19 2 18 2 4 3-11 2 13 2-19 2 1 2 4 2 9 2 2 2-2 2-33 3 37 2 0 2 3 2 1 2-10 2 5 2-1 2 1 2-3 3 1 2 2 2-4 2 0 2 3 2 3 2 3 2-10 2 3 3-8 2-3 2 12 2-15 2 17 2-6 2-1 2 8 2-12 3 8 2 3 2-11 2 1 2-1 2 4 2 1 2 5 2 2 3-5 2 6 2-9 2-3 2 7 2-1 2-11 2 12 2 3 3-5 2-34 2 42 2-9 2-2 2-6 2-1 2 5 2 10 3-8 2-9 2 21 2 1 2-14 2 3 2-2 2 8 3-4 2-1 2 2 2 4 2-5 2 3 2-19 2 15 2-3 3 7 2-3 2 6 2-4 2 4 2-11 2 7 2-3 2 3 3-15 2 22 2-13 2 12 2-9 2 3 2 0 2 6 2-11 3 6 2 2 2-10 2 6 2 6 2-8 2 5 2 3 2 0 3-7 2 1" stroke="#ffdf00"/><path d="M3050 2332l2 9 2-6 2-7 2 12 2-4 2 8 2-6 2-6 3 2 2-11 2 13 2-36 2 37 2 1 2 1 2-14 2 14 3-13 2 10 2-17 2 19 2-2 2 0 2-2 2 0 3-9 2-6 2 25 2 3 2-6 2-10 2 2 2 6 2 5 3-5 2 3 2-19 2 18 2-4 2-5 2-1 2-2 2-29 3 41 2-7 2-3 2 3 2 0 2 6 2-1 2 2 2-2 3 7 2-18 2 14 2-35 2 33 2 6 2-25 2 16 2-2 3-20 2 25 2 9 2-109 2 96 2-14 2 21 2-13 2-9 3 19 2-17 2 20 2-3 2-36 2 36 2 0 2-3 2 2 3-4 2 12 2-6 2-3 2 0 2-2 2-1 2 13 2-4 3-2 2-9 2 10 2 1 2-12 2 2 2 8 2-5 2-27 3 18 2 16 2 3 2-18 2 15 2-9 2-11 2 7 3 10 2-6 2-2 2-3 2 3 2 10 2-19 2 19 2 4 3-35 2 15 2 16 2-8 2 1 2 3 2 6 2-4 2-5 3 13 2-11 2 5 2-22 2 23 2-9 2 1 2-1 2 5 3-13 2 11 2 6 2 2 2-8 2-45 2 41 2-4 2-6 3 8 2 2 2 6 2-7 2 6 2 0 2-1 2-4 2 11 3-3 2 1 2-5 2-6 2 4 2 15 2-14 2 7 2-10 3 7 2-5 2-9 2 2 2 11 2-17 2 16 2 0 2-8 3-4 2 9 2-12 2 8 2-5 2 9 2 3 2-13" stroke="#ffdf00"/><path d="M3077 2341l2-191 2-287 1 335 3 143" stroke="#ffdf00"/><path d="M3085 2341l2-68 1-102 2 119 2 51" stroke="#ffdf00"/><path d="M3071 2341l1-48 2-75 1 19 2-25 1 53 2 10 1-95 1-45 2 81 1 49 2-48 1-43 2 51 1 7 2-7 1 49 2 37" stroke="#ffdf00"/><path d="M749 2347l2-14 2 12 2-1 3 5 2-15 2-8 2 19 2-4 2-13 2 21 2-4 2 1 3-3 2 6 2-4 2-10 2-2 2 15 2-26 2 17 2 0 3 3 2-9 2 16 2-9 2-1 2-5 2 9 2 5 2-5 3 0 2 4 2-2 2-39 2 35 2 10 2-9 2-5 2 13 3-4 2-5 2 4 2 2 2-3 2-6 2 4 2-3 2 4 3-7 2 4 2 0 2 4 2-5 2 6 2 7 2-14 2 6 3 0 2-19 2 20 2-1 2-10 2 12 2-3 2 6 3 0 2-4 2 5 2-27" stroke="#ffbf00"/><path d="M2187 2334l2 9 2 3 2-3 3 0 2-1 2-3 2 8 2-1 2-2 2-22 2 22 2 1 3 0 2-17 2 14 2-5 2 8 2-12 2 13 2-1 2-13 3 8 2 3 2-4 2 1 2-3 2 3 2 5 2 1 2-5 3 3 2-5 2-3 2 10 2-1 2 1 2 7 2-20 2 1 3 14 2-9 2 3 2 2 2-7 2 3 2-20 2 28 2-4 3-6 2 4 2-5 2 1 2 7 2-4 2 4 2-22 2 22 3-14 2 6 2 10 2 3 2-10 2 0 2 8 2-5 2-9 3 10 2 7 2-15 2 0 2 9 2 2 2-3 2-8 2 4 3-1 2 7 2-15 2 17 2-1 2-6 2 3 2-27 3 27 2 0 2-17 2 25 2-6 2 2 2-5 2-2 2 0 3-1 2 3 2 3 2 2 2-6 2 5 2-5 2-4 2 4 3 2 2-1 2-17 2 24 2-4 2 1 2-5 2 5 2 0 3-2 2-5 2 6 2-2 2-7 2 5 2-3 2 3 2 3 3-2 2 3 2-8 2 8 2-3 2 0 2 0 2 0 2-10 3 6 2 1 2 1 2 4 2-2 2 3 2-7 2 4 2-1 3 8 2-7 2-11 2 12 2 4 2-2 2-13 2-15 2 14 3 16 2-14 2 15 2-4 2-3 2 5 2-2 2 0 2-1 3 0 2 1 2-4 2 4 2-2 2 0 2 4 2-2 3 2 2-1 2-3 2 2 2-3 2 1 2 4 2-3 2 1 3 1 2-6 2-2 2-2 2 13 2-20 2-3 2 16 2-8 3 3 2 6 2-7 2 13 2-5 2-5 2-1 2 5 2-1 3-1 2 2 2 4 2-9 2 8 2-1 2-3 2 0 2 3 3 8 2-14 2 8 2-13 2 17 2-21 2 16 2-15 2 17 3-11 2-6 2 15 2-3 2 0 2 4 2-7 2-15 2-9 3 23 2 0 2 4 2 6 2-11 2-3 2 9 2-5 2 10 3-4 2-10 2-4 2 7 2 1 2 10 2-7" stroke="#ffbf00"/><path d="M2660 2343l2 1 2-3 2-14 2 9 3-1 2 7 2 3 2-7 2-2 2 8 2 1 2-3 2 5 3-7 2 7 2-5 2 2 2 1 2 1 2-13 2 11 2 2 3-2 2-2 2-3 2 2 2-8 2 8 2 1 2-8 2 5 3 1 2 8 2-10 2 1 2 1 2 1 2 7 2-13 2 10 3 5 2-6 2 1 2 4 2-6 2 5 2-4 2 6 3-6 2-1 2-3 2-25 2 22 2 0 2 3 2 1 2 7 3-5 2-2 2-10 2 12 2 1 2 1 2 1 2-2 2 1 3 2 2-12 2 11 2-5 2-7 2 8 2 5 2-20 2 12 3-2 2 1 2-2 2 11 2-2 2-10 2 10 2 2 2-1 3-6 2 5 2-13 2 9 2-5 2-18 2 36 2-13 2-19 3 16 2 2 2 8 2 3 2-8 2 7 2-11 2-1 2 7 3 5 2-1 2-10 2 0 2-5 2 11 2 2 2-3 2-2 3 3 2-5 2 3 2 1 2-5 2-3 2 5 2 1 2 5 3-15 2 14 2 1 2-11 2 7 2-1 2-8 2 11 3-3 2-1 2-6 2 9 2-10 2-5 2 17 2-6 2 10 3-11 2 5" stroke="#ffbf00"/><path d="M1102 2352l2-6 2-1 2 2 2-15 2 5 2-3 3 13 2-6 2 0 2 0 2-3 2 6 2-11 2 10 2 0 3 1 2 4 2-26 2 23 2-3 2 6 2-7 2-3 2-2 3 13 2-4 2-2" stroke="#ff9f00"/><path d="M1140 2329l2 16 2-2 2 1 2-3 3 3 2-10 2 7 2 5 2-9 2 9 2-3 2-2 2 3 3 0 2-6 2 7 2 1 2 2 2-9 2-12 2 4 2 15 3-15 2 2 2 8 2-3 2-3 2 10 2 0 2 2 2 4 3-2 2-16 2 18 2-3 2-1 2-5 2-2 2 6 2-1 3-13 2 17 2-1 2-3 2-4 2 2 2-6 2 9 3-6 2-19 2-25 2 51 2-8 2 5 2-9 2 1 2 14 3 0 2-4 2-7 2-6 2 10 2 3 2-7 2-1 2-2 3-10 2 20 2-14 2 11 2 0 2-4 2 6 2-10 2 9 3-1 2 1 2 6 2-13 2 8 2 2 2-9 2-9 2 3 3 18 2-1 2-6 2-1 2-2 2 2 2 6 2-21 2 15" stroke="#ff9f00"/><path d="M2466 2349l2-4 2-2 2 1 2-1 2-6 3 13 2-11 2-2 2 2 2 5 2-8 2 4 2 4 2-1 3-6 2 10 2 4 2-8 2-3 2-4 2 5 2 1 3-3 2 3 2-4 2 4 2-2 2-12 2 18 2-2 2-8 3 0 2 6 2-4 2-1 2 8 2 0 2-3 2-2 2-4 3-1 2 0 2 9 2-12 2 8 2 4 2 0 2 0 2-6 3 0 2-13 2 22 2 0 2-16 2 13 2 3 2 3 2-7 3-4 2 2 2 4 2-1 2-2 2 4 2 0 2 0 2 0 3-3 2-6 2 6 2-5 2-7 2 18 2-1 2-8 2-12 3 11 2 2 2 0 2 2 2 3 2-4 2-1 2 4 2-5 3 2 2-9 2 19 2-6 2-6 2 3 2 2 2 6 2-7 3-6 2 11 2-5" stroke="#ff9f00"/><path d="M392 2342l2 3 3-5 2-2 2 0 2 2 2-10 2 1 2 12 2 2 2-2 3-3 2-13 2 12 2-7 2 8 2-9 2 9 2 7 2-2 3-1 2 2 2-6 2-14 2 8 2 9 2 3 2-6 2 1 3 5 2 0 2-6 2 4 2-5 2-4 2-2 2 0 2-5 3 22 2-8 2 6 2-4 2-15 2 4 2 14 2-6 2-14 3 8 2 7 2-7 2 7 2 12 2-14 2 5 2-3 2-2 3 9 2-7 2-6 2-25 2 27 2-22 2 26 2-18 3 19 2 1 2 0 2-9 2 7 2 0 2 3 2-3 2 3 3 2 2-8 2 2 2-9 2 16 2-6 2 4 2-5 2 5 3-7 2-5 2 4 2 10 2-9 2 5 2-7 2 6 2-12 3 10 2-7 2 5 2 8 2-4 2-18 2 5 2 11 2 4 3-1 2-4 2 1 2 3 2-17 2-14 2 31 2-3 2 3 3-5 2 1 2-3 2 2 2-1 2 3 2-2 2-2 2 6 3 6 2-9 2-2 2 2 2-9 2 7 2 4 2-1 2-2 3 1 2 8 2-21 2 12 2-5 2 7 2-7 2 7 2-3 3 5 2-6 2 0 2 6 2-6 2 13 2-36 2 30 3-3 2 5 2-20 2 15 2-2 2 10 2-4 2-3 2 3 3-5 2-4 2 14 2-9 2 1 2-5 2 9 2-6 2-9 3 11 2 1 2 7 2-25 2 12 2-3 2 13 2-11 2 7 3-20 2 21 2-4 2 6 2-7 2-17 2 24 2-5 2-14 3 16 2-8 2 1 2 6 2 0 2-2 2 1 2 4 2-3 3-3 2 6 2 1 2-7 2 2 2 3 2-9 2 7 2 3 3-6 2 2 2-3 2 2 2-12 2 14 2 7 2 0 2-13 3 10 2-2 2-4 2-7 2 5 2 2 2 1 2-5 2 13 3-8 2 6 2-8 2 3 2-6 2-7 2 17 2-9 3 7 2-2 2-7 2 4 2 3 2-2 2 4 2-4 2 4 3-3 2-2 2 9 2-11 2-3 2 3 2-4 2 10 2-5 3 7 2-2 2 2 2-4 2 0 2 0 2-1 2 6 2-6 3-22 2 20 2 1 2 0 2 7 2-10 2 8 2-6" stroke="#ff8000"/><path d="M1990 2337l2 2 2 5 3-4 2 5 2-4 2-1 2 14 2-10 2-4 2-8 2 13 3 1 2-3 2 1 2-6 2 6 2-10 2 11 2-3 2 0 3 2 2 3 2-4 2 0 2 3 2-22 2 23 2-12 2 10 3-8 2 7 2-4 2 8 2-6 2-13 2 17 2-2 2 5 3-4 2-15 2 1 2 19 2-7 2 0 2-5 2-3 3 5 2 6 2-5 2-11 2-2 2 13 2-17 2 21 2-8 3 2 2-5 2 4 2 0 2 2 2 8 2-11 2 7 2-2 3-1 2 4 2 1 2-13 2 10 2-1 2-1 2 1 2 0 3-6 2 9 2-2 2 2 2-6 2 2 2 5 2 4 2-9 3 3 2-2 2 3 2-5 2 1 2-2 2 6 2-23 2 8 3 5 2 2 2-2 2 12 2-6 2 9 2-11 2 0 2 6 3-2 2 1 2 3 2-8 2-4 2-24 2 39 2-21 2 4 3 6" stroke="#ff8000"/><path d="M444 2341l3-29 1-45 2 52 2 22" stroke="#ff8000"/><path d="M510 2341l3-19 1-28 2 33 2 14" stroke="#ff8000"/><path d="M2101 2341l2-21 2-32 1 37 3 16" stroke="#ff8000"/><path d="M2421 2341l2 6 2-6 2-2 2 0 2 6 2-1 3-1 2 3 2-25 2 15 2 1 2 0 2 6 2-9 2 3 3 2 2 4 2-2 2-20 2 15 2 3 2 9 2-10 3 4 2-5 2 2 2 2 2 5 2 1 2-9 2-2 2-1 3 3 2 4 2 3 2 1 2 3 2-17 2 10 2-7 2-1 3-7 2 17 2-3 2 3 2-6 2 2 2 5 2-2 2 2 3-3 2 0 2-2 2 2 2 4 2-5 2 5 2-5 2-2 3 4 2 4 2-6 2 0 2 0 2 2 2-20 2 11 2 6 3-1 2 0 2 9 2-18 2-9 2 11 2-11 2 25 2-9 3 4 2-9 2 9 2 5 2-2 2 0 2 1 2 1 2-6 3 3 2-11 2 8 2 0 2 4 2-1 2-7 2 5 2 6 3-11 2 9 2 3 2-2 2 1 2 1 2-11 2-8 3 17 2-8 2 6" stroke="#ff6000"/><path d="M2621 2341l2-21 1-32 2 37 2 16" stroke="#ff6000"/><path d="M784 2339l2-6 2 12 2-5 2 4 2 2 3 4 2-13 2 6 2-5 2 7 2 0 2-17 2 8 3 8 2-5 2-4 2 3 2 4 2 0 2 7 2-9 2-8 3 7 2-17 2 13 2 7 2-1 2-3 2 8 2 3 2-6 3-4 2-2 2 1 2-1 2 16 2-10 2-12 2 3 2 6 3 6 2-10 2 8 2-2 2 0 2 3 2 0 2-3 2-1 3 2 2-2 2 4 2-8 2 6 2-6 2 10 2-7 2-8 3 11 2-8 2 8 2 4 2-16 2 13 2-1 2-20 2 8 3 12 2-4 2 2 2 2 2 2 2 1 2 1 2-10 2-14 3-15 2 38 2-3 2 0 2 8 2-1 2-9 2-1 2-1 3 4 2-3 2 1 2-5 2 0 2 1 2 6 2 0 3 2 2-17 2 9 2-6 2 17 2-7 2-4 2 2 2 2 3-7 2 11 2-5 2-11 2 15 2-4 2-1 2-4 2-15 3 18 2-10 2 16 2-14 2 17 2-2 2 3 2-13 2-3 3 15 2-10 2 1 2 1 2 7 2-21 2 13 2 2 2-19 3 13 2-2 2 9 2-1 2-7 2 6 2-1 2 12 2-9 3-3 2 1 2 7 2-14 2 11 2-21 2 23 2-5 2-10 3 13 2-8 2 9 2-8 2-4 2 10 2 6 2-10 2 11 3-6 2 2 2-10 2-1 2 5 2 0 2 2 2 0 2 3 3-2 2 2 2-15 2 5 2 7 2-5 2-7 2-4 3 16 2-13 2 13 2-9 2 0" stroke="#ff4000"/><path d="M1140 2335l2 6 2-1 2-3 2 7 3 4 2-1 2-26 2 17 2-1 2 4 2-1 2 8 2-7 3-4 2-1 2-1 2 9 2-8 2 8 2 0 2 0 2-7 3 8 2-19 2-2 2 13 2 6 2 0 2 5 2-7 2-2 3 1 2-11 2 15 2-3 2 4 2-9 2 6 2 0 2-4 3 3 2 7 2-6 2-5 2 7 2-8 2 0 2-3 3 6 2 6 2-5 2-8 2 7 2-1 2 2 2 3 2-4 3 7 2-11 2 6 2 1 2-4 2 8 2-4 2 4 2-12 3 8 2-5 2 2 2 2 2 1 2-1 2-2 2 3 2-1 3 2 2-2 2-1 2 6 2 5 2-13 2 5 2 2 2-4 3-8 2 8 2-6 2 10 2-4 2-3 2 2 2 2 2 1 3-1 2 1 2-1 2 7 2-4 2-12 2 4 2-10 2-4 3 17 2-9 2 1 2 6 2 2 2-5 2 11 2-9 2 12 3-5 2-14 2 8 2-8 2 22 2-13 2 2 2 0 2-5 3-19 2 21 2 11 2-11 2-5 2 8 2-1 2 2 3-21 2 20 2-6 2 7 2-12 2 5 2 7 2 4 2-4 3-7 2-4 2 11 2 5 2-28 2 28 2-5 2 6 2-4 3-17 2 14 2-4 2-12 2 19 2-2 2 2 2-17 2 13 3 4 2-33 2 40 2-8 2 5 2-6 2-23 2 18 2 11 3-15 2-23 2 14 2 14 2-8 2 2 2 16 2-2 2-20 3 16 2-2 2 2 2-5 2 5 2-10 2 11 2-5 2 9 3 1 2-1 2-8 2 5 2-1 2-10 2 10 2 3 2-2 3-4 2 0 2 7 2-13 2 1 2 1 2 14 2-12 2 6 3 0 2 2 2 2 2-18 2 7 2-7 2 11 2 4 3-4 2 3 2-13 2-7 2 22 2-1 2 3 2-6 2-5 3 2 2 0 2 7 2-4 2 2 2 2 2-5 2-2 2-17 3 23 2 1 2-17 2 12 2 1 2-5" stroke="#ff4000"/><path d="M2660 2351l2-2 2-24 2-17 2 40 3-15 2 3 2 4 2-14 2 1 2 10 2 8 2-4 2 1 3-13 2 12 2 5 2-6 2-5 2 3 2-4 2 12 2-10 3-10 2 18 2-2 2 1 2 0 2-2 2-13 2 12 2 3 3-2 2-11 2 13 2 0 2 3 2-7 2 1 2 5 2-1 3-13 2 15 2-15 2-15 2 20 2 11 2 6 2-15 3 9 2-13 2 6 2-11 2 19 2-8 2-1 2 2 2 6 3-9 2 5 2-7 2 2 2 4 2-4 2-1 2 5 2-2 3-1 2 1 2-5 2-1 2 6 2-10 2 4 2 0 2 9 3 0 2 0 2 0 2-16 2 19 2-7 2 9 2-5 2 5 3-19 2 8 2 0 2 0 2 3 2 1 2 0 2-3 2 2 3 5 2-3 2-20 2 20 2-4 2 6 2-12 2-2 2 13 3-9 2-4 2 12 2-25 2 21 2 6 2-2 2-1 2-2 3 2 2-1 2 6 2-3 2 0 2 1 2-1 2-1 2 0 3-1 2-2 2 0 2-4 2 6 2 0 2 5 2-4 3 6 2 0 2-4 2-19 2 21 2-1 2-5 2 6 2-4 3-4 2 3 2 2 2-1 2 3 2-12" stroke="#ff4000"/><path d="M1495 2342l2-2 2 7 2-7 2 3 2-7 2 10 3-3 2 4 2-10 2-12 2 20 2 1 2-3 2 0 2-2 3 1 2-6 2 9 2-10 2-2 2 11 2-4 2-11 2 20 3-11 2-11 2 16 2-5 2 1 2 0 2 1 2 7 2-5 3-2 2 4 2-11 2 13 2-17 2 11 2 5 2-18 2 18 3-7 2 3 2-5 2 10 2-9 2-2 2-4 2 7 2 5 3-8 2 9 2-2 2 0 2-6 2 5 2-7 2 1 2 2 3 9 2 0 2-1 2-9 2 2 2-1 2 0 2 11 2-7 3 2 2-2 2-3 2-11 2 18 2-3 2-6 2 11 3-8 2-7 2 11 2-5 2 3 2-11 2 15 2-5 2-8 3 7 2 4 2 2 2-2 2-2 2 5 2-8 2 2 2 8 3-10 2 5 2 0 2 5 2-11 2-7 2 15 2 2" stroke="#ff2000"/><path d="M3056 2350l2-24 2 0 2 12 2 2 2 2 2-21 3 3 2 7 2 10 2-1 2-1 2-2 2 0 2-5 2 5 3-4 2-1 2-8 2 8 2-9 2 1 2 19 2-1 2-11 3-3 2 10 2 1 2-12 2 4 2-11 2 2 2 12 2-8 3-6 2 18 2 6 2-4 2-9 2 11 2-13 2 17 2-21 3 10 2 6 2 6 2-9 2-6 2-1 2-45 2 50 2 3 3-13 2 12 2-11 2-86 2 71 2 32 2-18 2 21 2-19 3-3 2 11 2-3 2-29 2-10 2 49 2-11 2 4 2-22 3 15 2-5 2 10 2 5 2 7 2-14 2-3 2-24 3 36 2-2 2 1 2-8 2 11 2-5 2-7 2-7 2 17 3-2 2-4 2 9 2-8 2-6 2-10 2 13 2 3 2 2 3 2" stroke="#ff2000"/><path d="M381 2345l2 1 2-10 2 4 2 0 3-2 2 2 2-3 2 9 2-7 2 3 2 0 2-2 2 2 3 5 2-11 2 2 2 4 2 1 2-14 2-9 2 21 2-4 3 10 2-11 2 6 2-9 2 4 2-11 2 14 2-2 2-7 3 7 2 1 2 6 2 4 2-25 2 15 2-8 2 13 3-2 2 4 2-6 2-8 2 10 2-2 2 6 2 1 2-3 3 1 2 0 2-13 2 6 2 1 2 5 2-5 2 6 2-11 3 11 2 1 2-7 2-8 2 1 2 2 2 12 2 1 2 0 3 1 2-5 2-17 2 5 2 5 2 9 2 1 2-8 2 2 3 8 2-7 2 1 2 0 2-4 2 6 2 3 2-23 2 15 3 4 2 1 2 3 2 2 2-10 2 7 2 5 2-7 2-9 3-2 2 16 2-7 2-6 2 8 2-3 2-3 2 4 2-1 3 2 2-3 2 5 2-9 2 9 2-5 2 3 2-7 2-11 3 14 2-2 2 6 2-9 2 2 2 1 2 5 2-5 2-7 3 15 2-12 2 6 2 3" stroke="#ff0000"/><path d="M1020 2323l2 20 2-12 2 10 2-1 2-9 2 13 3 4 2-6 2 6 2-5 2-7 2 9 2-5 2-4 2 12 3-9 2-1 2 2 2-6 2 2 2-3 2 6 2-23 2 28 3-1 2-9 2 6 2-1 2 5 2-6 2-20 2 30 2-5 3-14 2 8 2 7 2-2 2 0 2 0 2-15 2 14 2 2 3-7 2 8 2-6 2 4 2 5 2-7 2 5 2-18 2 16 3 0 2-2 2 0 2-9 2-5 2 11 2 4 2-3 2 4 3 0 2-4 2 3 2-21 2 23 2-15" stroke="#ff0000"/><path d="M1140 2337l2 2 2 8 2-5 2-1 3-4 2 10 2-18 2 16 2 4 2-3 2 0 2-6 2 1 3-6 2 5 2-1 2-2 2 3 2 3 2 0 2-1 2 2 3 0 2-2 2 0 2-16 2 2 2 17 2-2 2-3 2 4 3-23 2 21 2 0 2 1 2-2 2-8 2 9 2-7 2-13 3 22 2-2 2 4 2-5 2-11 2 12 2-7 2 1 3 8 2-1 2-5 2 5 2-1 2 6 2-5 2-4 2 0 3 1 2-1 2-4 2 11 2 0 2-9 2 6 2 0 2 3 3-8 2 9 2-1 2-3 2 7 2-6 2-3 2-17 2 19 3-23 2 15 2 10 2-4 2-4 2-25 2 30 2-4 2 6 3 0 2-5 2 1 2-4 2 8 2-5 2 4 2 1 2 0 3 1 2 0 2 0 2-4 2-4 2 4 2-2 2-12 2 12 3-4 2 4 2 9 2-6 2-3 2 4 2-16 2 15 2 2 3 3 2-10 2 8 2 0 2 4 2-4 2-27 2 26 2 7 3-18 2 9 2 3 2-10 2 5 2-2 2 4 2 1 3-8 2 3 2 6 2-6 2 2 2 2 2-6 2 2 2 6 3-2 2 7 2-12 2 7 2-6 2 7 2-6 2 1 2-8 3 9 2-6 2 5 2 0 2 0 2 14 2-10 2 3 2-1 3-6 2 7 2-8 2 4 2-3 2-3 2-13 2 12 2 8 3-6 2 4 2-5 2-19 2 25 2 0 2-1 2-4 2-8 3-4 2 13 2 0 2 10 2-1 2-17 2 15 2-9 2-1 3 6 2 2 2 6 2-13 2 8 2-11" stroke="#ff0000"/><path d="M3218 2332l2 4 2-39 2 35 2-2 2-5 2 15 3-15 2-7 2 24 2-7 2-8 2-4 2 16 2 2 2-4 3-1 2-3 2-4 2 7 2-1 2 1 2 2 2 4 2-9 3-5 2 12 2-6 2 5 2-10 2 9 2 7 2-3 2 2 3-1 2-3 2 5 2-11 2-88 2 87 2-6 2 10 2-8 3-2 2 11 2-19 2 26 2-15 2-5 2 9 2 10 2 0 3-2 2-15 2 12 2-11 2 14 2 1 2-14 2 10 2-6 3 8 2-16 2 20 2-5 2-9 2 2 2 7 2-1 2-77 3 75 2-8 2 6 2-10 2 14 2-8 2 2 2 4 2-2 3-13 2 10 2 8 2-13 2 12 2-7 2 2 2-4 3 6 2 12 2-29 2 8 2 8 2-4 2 4 2-6 2 0 3-9 2 14" stroke="#ff0000"/><path d="M444 2341l3-35 1-53 2 62 2 26" stroke="#ff0000"/><path d="M2722 2341l2-17 2-25 1 30 3 12" stroke="#ff0000"/><path d="M3115 2341l2-59 2-89 1 104 3 44" stroke="#ff0000"/><path d="M3210 2341l2-76 2-115 1 134 3 57" stroke="#ff0000"/><path d="M3318 2341l2-106 2-159 1 186 2 79" stroke="#ff0000"/><path d="M3330 2341l3-108 1-163 2 190 2 81" stroke="#ff0000"/><path d="M3413 2341l2-89 2-134 1 156 2 67" stroke="#ff0000"/><path d="M1843 2342l2-5 3-16 2 20 2 6 2 0 2-2 2-3 2 3 2-2 2-1 3-27 2 29 2 0 2-6 2 7 2-2 2 7 2-15 2 3 3 0 2 5 2 4 2-12 2 1 2-1 2 11 2-3 2-6 3-2 2 10 2-1 2-17 2 1 2 11 2 1 2 8" stroke="#df0000"/><path d="M1900 2338l2 4 2-2 2-6 2-1 3 12 2-2 2-7 2 8 2-7 2 1 2-6 2 5 2 10 3-16 2 10 2-7 2 8 2 0 2-9 2-13 2 10 2 11 3 1 2-17 2 15 2 1 2-1 2 4 2-5 2-2 2 2 3-5 2 4 2 4 2 5 2-11 2 3 2 3 2-7 3 3 2-2 2 1 2-1 2 1 2-12 2 17 2-7 2 15 3-15 2 10 2-30 2 23 2 3 2 1 2 0 2-2 2 7 3-8 2 5 2-4 2 10 2-9 2 7 2-13 2-3 2-2 3 11 2-2 2 1 2 8 2-5 2-16 2 7 2-19 2 11 3 14 2-24 2 12 2 16 2-10 2 0 2 10 2-11 2-1 3 1 2-2 2 12 2 0 2-8 2 6 2 1 2-3 2 0 3 7 2-3 2-4 2 8 2-2 2-1 2-4 2-2 2 4 3-20 2-12 2 26 2 7 2-6 2-5 2 14 2-9 2 9 3-4 2 0 2-8 2 2 2 11 2-2 2-1 2-11 3 11 2-15 2 18 2 2 2-14 2 5 2 2 2-7 2 8 3-13 2 7 2 5 2-12 2 6 2 0 2-16 2 23 2-3 3-8 2 1" stroke="#df0000"/><path d="M1340 2341l3-32 1-47 2 55 2 24" stroke="#df0000"/><path d="M2660 2345l2-7 2 4 2 1 2-28 3 30 2-12 2 16 2-17 2 5 2 8 2-8 2 4 2 6 3-12 2-1 2 6 2 4 2 3 2-6 2-11 2 9 2-4 3-2 2 11 2 1 2-10 2 8 2 1 2 1 2-7 2 6 3-2 2-7 2 3 2-8 2-6 2 10 2 7 2 0 2-1 3 6 2-13 2 0 2 7 2 6 2-7 2 9 2-4 3-5 2 1 2-3 2 2 2 5 2-4 2-9 2-1 2 19 3-3 2 1 2-7 2-12 2 5 2 10 2-4 2-9 2 9 3-3 2 1 2-8 2 11 2 3 2-3 2 7 2-12 2-2 3 10 2-12 2 8 2 5 2 1 2 2 2-3 2-3 2-8 3 9 2 2 2 5 2-5 2-2 2 3 2-3 2 2 2-13 3 6 2 8 2-4 2 2 2-19 2 14 2 6 2-2 2-2 3 6 2-16 2 13 2 2 2 0 2 0 2-7 2 5 2-2 3 2 2-15 2 16 2-2 2-3 2-6 2 6 2-6 2 12 3 0 2-3 2-1 2 4 2-13 2 9 2 6 2-5 3-6 2-1 2-4 2 3 2 14 2-5 2 3 2-8 2-10 3 19 2-9 2 7 2-6 2 0 2 6 2-5 2-4 2 5 3-1 2-17 2 15 2 0 2 5 2-6 2 0 2 1 2 7 3-7 2 5 2 0 2-6 2 0 2 5 2-28 2 26 2-2 3-2 2 7 2-1 2-30 2 30 2 2 2-1 2-24 2 27 3-5 2-14 2 14 2-11 2 7 2 0 2 0 2 5 2-3 3-4 2 5 2-3 2-53 2 58 2 1 2-7 2-5 2 9 3-1 2-12 2 5 2 6 2-1 2-1 2 3 2 3 2-1 3-4 2 0 2-1 2-8 2-12 2 27 2-9 2-1 3-14 2 17 2 3 2-25 2 24 2 0 2-4 2 5 2-3 3 2 2-2 2 7 2-17 2-26 2 37 2-17 2 18 2-2 3-8 2 14 2 2 2 2 2-5 2-9 2 5 2-5 2-3 3 9 2-4 2 4 2 1 2 1 2-5 2-9 2 7 2-24 3 30 2 4 2-20 2 5 2 14 2 1 2-2 2-4 2-145 3 145 2-4 2 4 2-4 2-72 2 75 2 1 2-3 2 4 3 0 2 0 2-5 2 12 2-2 2-9 2-2 2 4 2 4 3 6 2-15 2 6 2-3 2-12 2 22 2-2 2-4 2-2 3 5 2 2 2-3 2 2 2-13 2-3 2 12 2 3 3-2 2 8 2-39 2 30 2-8 2 8 2 9 2-4 2-5 3-1 2-21 2 27 2-4 2 4 2-12 2 2 2-9 2 12 3-6 2-7 2 3 2 15 2-27 2 16 2 6 2 10 2-13 3 18 2-22 2-1 2 13 2-4 2 8 2-8 2-18 2-1 3 7 2 12 2-2 2 0 2-14 2 8 2-1 2 13 2 12 3-32 2 18 2 0 2-4 2-59 2 49 2 19 2-17 2 2 3 13 2-6 2-20 2 1 2 26 2-6 2 0 2-2 2-1 3 2 2 1 2-8 2 1 2 10 2-58 2-19 2 72 2-28 3 34" stroke="#bf0000"/><path d="M3217 2344l2-4 2 0 2-2 2-5 2-3 2 15 3-6 2 0 2-5 2-12 2-3 2 18 2-8 2-3 2 18 3 3 2-8 2-2 2 2 2-4 2-8 2 12 2-15 2 9 3 9 2 0 2 0 2-16 2 6 2 10 2-15 2 10 3 0 2-16 2 13 2 4 2-13 2 4 2 6 2 12 2-16 3 5 2 6 2-3 2 8 2-17 2 10 2-6 2 4 2 2 3 0 2 4 2-41 2 20 2 7 2-26 2 29 2 9 2-1 3-3 2 1 2 6 2-12 2 12 2-4 2-18 2 23 2-27 3 22 2-10 2 17 2-12 2 11 2-12 2 8 2 1 2-15 3-1 2 7 2-10 2 10 2 4 2 0 2 6 2-8 2-23 3 19 2 4 2-8 2-13 2 0 2-8 2 26 2-39 2 48" stroke="#bf0000"/><path d="M1695 2341l3-21 1-32 2 37 2 16" stroke="#bf0000"/><path d="M3191 2341l2-49 2-73 1 86 3 36" stroke="#bf0000"/><path d="M3267 2341l2-42 2-64 1 74 3 32" stroke="#bf0000"/><path d="M903 2339l2 3 2-1 2-2 2 1 2 3 3-24 2 12 2 11 2 2 2-11 2 16 2-5 2 3 2-4 3 2 2-5 2-12 2 13 2 3 2-6 2-2 2 4 2 5 3-18 2 13 2-1 2-9 2 10 2 1 2-34 2 33 2-10 3 7 2 0 2-9 2 11 2-15 2 11 2 7 2 0 2-10 3 3 2 4 2 4 2 1 2 1 2-6 2 6 2-2 2 1 3-6 2 10 2-12 2 5 2-16 2 12 2 9 2-8 2-1 3-2 2 1 2 2 2 4 2-27 2 24 2 4 2-5 3 5 2-21 2 7 2 13 2 4 2-4 2 2 2-2 2 1 3-2 2 4 2-13 2 11 2-2 2 1 2-5 2 7 2 1 3-3 2-12 2 15 2-1 2-2 2 1 2 7 2-7 2-6 3 3 2 4 2 0 2-6 2 5 2-9 2 9 2-5 2 3 3 2 2-5 2 4 2-4 2 2 2 5 2-4 2 3 2-11 3 4 2 0 2 8 2-14 2 15 2-1 2 3 2-2 2-2" stroke="#9f0000"/><path d="M1140 2337l2-41 2 39 2 3 2-10 3 14 2-2 2 0 2-12 2 15 2-7 2 11 2-2 2-13 3 17 2-8 2 4 2-4 2 2 2 0 2-12 2-1 2 14 3-3 2-4 2-14 2 17 2-1 2-1 2 2 2 6 2-5 3-4 2 13 2-15 2 12 2 0 2 2 2-3 2-15 2 4 3 16 2-10 2 1 2-5 2 14 2-24 2 16 2-4 3 3 2-3 2-6 2 11 2-4 2 4 2-6 2 5 2-2 3-4 2 0 2 10 2-6 2 8 2-6 2-2 2-4 2 9 3-4 2 4 2-6 2 2 2-1 2 4 2-5 2 5 2-9 3-7 2 15 2-7 2 2 2 5 2-6 2 7 2-14 2 5 3 2 2-7 2 5 2 5 2 4 2-4 2-7 2 10 2-4 3-2 2 2 2-10 2 5" stroke="#9f0000"/><path d="M1622 2344l2 6 2-4 2-8 2 6 2-11 3 9 2-15 2 18 2 2 2-1 2-23 2 20 2-1 2-6 3 7 2-3 2-3 2-1 2-20 2 28 2-4 2-19 2 20 3 3 2-14 2 8 2 6 2 0 2-1 2 5 2-3 2 0 3-3 2 1 2-6 2 6 2 3 2 1 2-11 2 11 2-5 3-2 2 4 2-14 2 15 2-5 2 6 2-9 2-2 2 5 3 3 2-2 2-1 2-1 2 2 2-16 2 11 2 9 2-3 3 2 2 4 2-21 2 11 2-14 2 25 2-13 2 4 3 2 2-24 2 23 2 2 2 2 2 0 2 1 2-10 2 4 3 0 2-1 2 4 2-8 2 11 2-8 2 10 2-9 2 0 3-3 2 9 2-2 2-7 2-1 2-4 2-6 2 17 2 2 3-6 2 13 2-15 2 9 2-19 2 16 2-8 2 9 2-2 3-7 2-2 2 8 2 1" stroke="#9f0000"/><path d="M2339 2338l2 5 2-20 2 19 2 3 2-3 2 6 3-8 2 4 2 5 2-3 2-17 2 15 2 2 2-5 2-2 3 1 2-5 2 7 2-3 2 3 2-10 2 9 2 1 2-9 3 11 2-2 2 5 2-1 2-10 2 11 2-7 2 5 3-2 2 2 2-13 2 8 2 5 2-10 2-2 2 9 2 5 3-10 2 3 2 3 2-11 2 6 2 5 2 2 2-2 2-26 3 24 2 4 2-10 2 1 2 3 2-2 2 8 2-6 2-2 3 1 2-1 2 9 2 2 2-15 2 3 2-5 2 1 2 9 3 7 2-14 2-18 2 26 2-11 2 11 2 8 2-8 2 1 3-1 2-4 2-16 2 22 2-1 2-4 2-1 2 12 2-12 3-12 2 15 2-13 2 14 2 1 2-2 2-3 2 6 2-3 3 3 2-4 2 1 2 0 2-5 2 10 2-6 2 8 2 0 3-7 2-2 2-4 2 14 2-12 2 6 2-2 2 5 3-6 2-2 2 5 2-2 2-1 2 2 2 7 2-8 2-7 3 11 2-9 2 6 2-3 2 5 2 6 2-1 2-15 2 7 3 1 2-1 2-12 2 6 2 5 2-11 2 6 2 6 2 2 3-2 2-2 2 5 2-13 2 9 2 1 2-9 2 6 2 10 3-12 2 8 2 0 2-3 2 6 2-4 2-2 2-3 2-2 3 9 2-3 2-2 2 4" stroke="#9f0000"/><path d="M973 2341l2-31 2-47 1 55 3 23" stroke="#9f0000"/><path d="M1043 2341l2-15 1-22 2 26 2 11" stroke="#9f0000"/><path d="M1270 2341l2-43 1-66 2 77 2 32" stroke="#9f0000"/><path d="M1771 2341l3-21 1-32 2 37 2 16" stroke="#9f0000"/><path d="M2177 2341l2-37 2-56 1 65 3 28" stroke="#9f0000"/><path d="M2316 2341l3-21 1-32 2 37 2 16" stroke="#9f0000"/><path d="M2988 2341l3-29 1-45 2 52 2 22" stroke="#9f0000"/><path d="M3305 2341l2-53 2-79 1 92 3 40" stroke="#9f0000"/><path d="M3368 2341l3-42 1-64 2 74 2 32" stroke="#9f0000"/><path d="M381 2326l2 21 2-5 2 0 2-6 3 3 2 1 2 1 2-5 2 8 2-2 2 4 2 1 2-12 3 2 2-1 2 8 2 4 2-18" stroke="#800000"/><path d="M610 2336l2 9 2 0 2-6 2 5 2 1 2-2 2-2 3-16 2 19 2-4 2-5 2 7 2-4 2 5 2-10 2 6 3 2 2-6 2 3 2 1 2-7 2 7 2-1 2 6 2 1 3-8 2 8 2-6 2 0 2 7 2-9 2 2 2 0 2 6 3 3 2 1 2-7 2-4 2-5 2-1 2 13 2 3 2 1 3-6 2 3 2-4 2 5 2-10 2 10 2-9 2 4 2 1 3-4 2 8 2 0 2-25 2 14 2 6 2 0 2-2 3-8 2 4 2-1 2 7 2-8 2 6 2 3 2-4 2-6 3 6 2 2 2 2 2-4 2 1 2-2 2 3 2-4 2-2 3 10 2-52 2 45 2-10 2 19 2-10 2 5 2-1 2 6 3-9 2 4 2 4 2-14 2 3 2 7 2-1 2 7 2-8 3-5 2 3 2-2 2 10 2-2 2 1 2-9 2 9 2-7 3-1 2 6 2 0 2 1 2 7 2-8 2 3 2-3 2-4 3-4 2 12 2-4 2-16 2 14 2-3 2 6 2-5 2-3 3 3 2 5 2 2 2-5 2 5 2-3 2-4 2-6 2 7 3-1 2-13 2 14 2-9 2 11 2-1 2 4 2-4 3-5 2 6 2-15 2 18 2-4 2 1 2-4 2 4 2 1 3 2 2-10 2 8 2-8 2-1 2 7 2-2 2 4 2 4 3-9 2-2 2 10 2 1 2 2 2-4 2-8 2 1 2-1 3-10 2 2 2 10 2 2 2-6 2 8 2-4" stroke="#800000"/><path d="M1988 2338l2 3 2-4 3 7 2-9 2 4 2-2 2 8 2 4 2-10 2-2 2 0 3-6 2 15 2 1 2 1 2-8 2-7 2-3 2 9 2 2 3 6 2-11 2 13 2-12 2 0 2 2 2 4 2-1 2 4 3 1 2-7 2-21 2 26 2-3 2 5 2-12 2 6 2 5 3-37 2 29 2 1 2 7 2-19 2 16 2-2 2 7 2-8 3 4 2-2 2-2 2 1 2-3 2 12 2-8 2-2 2 0 3 4 2 1 2 3 2-20 2 9 2 1 2-6 2-4 2 16 3-3 2 6 2-7 2 2 2 6 2-9 2-4 2 7 2-6 3 4 2 6 2-71 2 64 2-2 2 7 2-8 2-1 3 13 2 2 2-14 2 4 2 2 2-4 2-1 2 8 2 2 3-4 2 1 2-5 2 1 2-2 2 5 2-2 2 1 2 4 3-24 2 15 2 2 2 6 2-27 2 20 2 2 2 1 2-7 3 7 2 7 2 5 2-6 2-1 2-3 2-7 2 6 2 4 3-3 2-15 2 17 2-12 2 5 2 7 2-6 2 3 2 4 3-3 2 1 2-1 2 0 2-1 2-3 2-5 2 14 2-7 3-19 2 9 2 8 2 6 2-10 2 2 2 11 2-5 2 2 3-3 2-12 2 10 2-5 2 6 2-8 2 7 2 3 2-11 3 7 2 5 2-11 2 0 2 5 2 7 2-8 2 8 3 1 2-6 2 1 2 2 2 1 2-2 2 6 2-7 2-2 3 6 2-4 2 9 2-8 2 1 2-3 2-6 2-7 2 9 3 5 2-21 2 21 2-10 2 14 2 1 2-22 2 19 2-4 3-6 2 4 2 7 2 7 2-7 2 0 2 3 2-10 2 0 3 0 2-4 2-27 2 33" stroke="#800000"/></g></g><rect x="1731.5" y="1038.59" width="22.0" height="25.51" fill="#00009f"/><rect x="1731.5" y="1013.69" width="22.0" height="25.51" fill="#0000bf"/><rect x="1731.5" y="988.78" width="22.0" height="25.51" fill="#0000df"/><rect x="1731.5" y="963.88" width="22.0" height="25.51" fill="#0000ff"/><rect x="1731.5" y="938.97" width="22.0" height="25.51" fill="#0020ff"/><rect x="1731.5" y="914.06" width="22.0" height="25.51" fill="#0040ff"/><rect x="1731.5" y="889.16" width="22.0" height="25.51" fill="#0060ff"/><rect x="1731.5" y="864.25" width="22.0" height="25.51" fill="#0080ff"/><rect x="1731.5" y="839.34" width="22.0" height="25.51" fill="#009fff"/><rect x="1731.5" y="814.44" width="22.0" height="25.51" fill="#00bfff"/><rect x="1731.5" y="789.53" width="22.0" height="25.51" fill="#00dfff"/><rect x="1731.5" y="764.62" width="22.0" height="25.51" fill="#00ffff"/><rect x="1731.5" y="739.72" width="22.0" height="25.51" fill="#20ffdf"/><rect x="1731.5" y="714.81" width="22.0" height="25.51" fill="#40ffbf"/><rect x="1731.5" y="689.91" width="22.0" height="25.51" fill="#60ff9f"/><rect x="1731.5" y="665.00" width="22.0" height="25.51" fill="#80ff80"/><rect x="1731.5" y="640.09" width="22.0" height="25.51" fill="#9fff60"/><rect x="1731.5" y="615.19" width="22.0" height="25.51" fill="#bfff40"/><rect x="1731.5" y="590.28" width="22.0" height="25.51" fill="#dfff20"/><rect x="1731.5" y="565.38" width="22.0" height="25.51" fill="#ffff00"/><rect x="1731.5" y="540.47" width="22.0" height="25.51" fill="#ffdf00"/><rect x="1731.5" y="515.56" width="22.0" height="25.51" fill="#ffbf00"/><rect x="1731.5" y="490.66" width="22.0" height="25.51" fill="#ff9f00"/><rect x="1731.5" y="465.75" width="22.0" height="25.51" fill="#ff8000"/><rect x="1731.5" y="440.84" width="22.0" height="25.51" fill="#ff6000"/><rect x="1731.5" y="415.94" width="22.0" height="25.51" fill="#ff4000"/><rect x="1731.5" y="391.03" width="22.0" height="25.51" fill="#ff2000"/><rect x="1731.5" y="366.12" width="22.0" height="25.51" fill="#ff0000"/><rect x="1731.5" y="341.22" width="22.0" height="25.51" fill="#df0000"/><rect x="1731.5" y="316.31" width="22.0" height="25.51" fill="#bf0000"/><rect x="1731.5" y="291.41" width="22.0" height="25.51" fill="#9f0000"/><rect x="1731.5" y="266.50" width="22.0" height="25.51" fill="#800000"/><path d="M1731.5 266.5H1753.5V1063.5H1731.5ZM1753.5 1037.5h-7.5M1753.5 986.5h-7.5M1753.5 934.5h-7.5M1753.5 883.5h-7.5M1753.5 832.5h-7.5M1753.5 780.5h-7.5M1753.5 729.5h-7.5M1753.5 677.5h-7.5M1753.5 626.5h-7.5M1753.5 575.5h-7.5M1753.5 523.5h-7.5M1753.5 472.5h-7.5M1753.5 420.5h-7.5M1753.5 369.5h-7.5M1753.5 317.5h-7.5M1753.5 266.5h-7.5" stroke="#262626" stroke-width="1.1" fill="none"/><g font-family="Liberation Sans, Arial, sans-serif" font-weight="bold" font-size="29.4" fill="#262626"><text transform="translate(950.4 121) scale(0.99 1)" font-size="32.4" fill="#000" text-anchor="middle" font-weight="bold">20180825-UiB-BJN-GPS</text><text transform="translate(178.5 410.3) scale(1 1.05)" text-anchor="end">0</text><text transform="translate(178.5 321.9) scale(1 1.05)" text-anchor="end">5</text><text transform="translate(178.5 233.6) scale(1 1.05)" text-anchor="end">10</text><text transform="translate(178.5 145.2) scale(1 1.05)" text-anchor="end">15</text><text transform="translate(178.5 640.3) scale(1 1.05)" text-anchor="end">-<tspan dx="-0.8">4</tspan></text><text transform="translate(178.5 592.3) scale(1 1.05)" text-anchor="end">-<tspan dx="-0.8">2</tspan></text><text transform="translate(178.5 544.3) scale(1 1.05)" text-anchor="end">0</text><text transform="translate(178.5 496.3) scale(1 1.05)" text-anchor="end">2</text><text transform="translate(178.5 448.3) scale(1 1.05)" text-anchor="end">4</text><text transform="translate(178.5 942.6) scale(1 1.05)" text-anchor="end">0</text><text transform="translate(178.5 898.6) scale(1 1.05)" text-anchor="end">0.1</text><text transform="translate(178.5 854.6) scale(1 1.05)" text-anchor="end">0.2</text><text transform="translate(178.5 766.6) scale(1 1.05)" text-anchor="end">0.4</text><text transform="translate(178.5 1209.0) scale(1 1.05)" text-anchor="end">0</text><text transform="translate(178.5 1182.5) scale(1 1.05)" text-anchor="end">0.1</text><text transform="translate(178.5 1155.9) scale(1 1.05)" text-anchor="end">0.2</text><text transform="translate(178.5 1102.8) scale(1 1.05)" text-anchor="end">0.4</text><text transform="translate(178.5 1049.7) scale(1 1.05)" text-anchor="end">0.6</text><text transform="translate(178.5 996.6) scale(1 1.05)" text-anchor="end">0.8</text><text transform="translate(178.5 943.5) scale(1 1.05)" text-anchor="end">1</text><text transform="translate(190.5 1237) scale(1 1.05)" text-anchor="middle">00</text><text transform="translate(253.9 1237) scale(1 1.05)" text-anchor="middle">01</text><text transform="translate(317.2 1237) scale(1 1.05)" text-anchor="middle">02</text><text transform="translate(380.6 1237) scale(1 1.05)" text-anchor="middle">03</text><text transform="translate(444.0 1237) scale(1 1.05)" text-anchor="middle">04</text><text transform="translate(507.4 1237) scale(1 1.05)" text-anchor="middle">05</text><text transform="translate(570.8 1237) scale(1 1.05)" text-anchor="middle">06</text><text transform="translate(634.1 1237) scale(1 1.05)" text-anchor="middle">07</text><text transform="translate(697.5 1237) scale(1 1.05)" text-anchor="middle">08</text><text transform="translate(760.9 1237) scale(1 1.05)" text-anchor="middle">09</text><text transform="translate(824.2 1237) scale(1 1.05)" text-anchor="middle">10</text><text transform="translate(887.6 1237) scale(1 1.05)" text-anchor="middle">11</text><text transform="translate(951.0 1237) scale(1 1.05)" text-anchor="middle">12</text><text transform="translate(1014.4 1237) scale(1 1.05)" text-anchor="middle">13</text><text transform="translate(1077.8 1237) scale(1 1.05)" text-anchor="middle">14</text><text transform="translate(1141.1 1237) scale(1 1.05)" text-anchor="middle">15</text><text transform="translate(1204.5 1237) scale(1 1.05)" text-anchor="middle">16</text><text transform="translate(1267.9 1237) scale(1 1.05)" text-anchor="middle">17</text><text transform="translate(1331.2 1237) scale(1 1.05)" text-anchor="middle">18</text><text transform="translate(1394.6 1237) scale(1 1.05)" text-anchor="middle">19</text><text transform="translate(1458.0 1237) scale(1 1.05)" text-anchor="middle">20</text><text transform="translate(1521.4 1237) scale(1 1.05)" text-anchor="middle">21</text><text transform="translate(1584.8 1237) scale(1 1.05)" text-anchor="middle">22</text><text transform="translate(1648.1 1237) scale(1 1.05)" text-anchor="middle">23</text><text transform="translate(1711.5 1237) scale(1 1.05)" text-anchor="middle">00</text><text x="1765.5" y="1049.6" font-size="32.4">2</text><text x="1765.5" y="998.2" font-size="32.4">4</text><text x="1765.5" y="946.8" font-size="32.4">6</text><text x="1765.5" y="895.3" font-size="32.4">8</text><text x="1765.5" y="843.9" font-size="32.4">10</text><text x="1765.5" y="792.5" font-size="32.4">12</text><text x="1765.5" y="741.1" font-size="32.4">14</text><text x="1765.5" y="689.7" font-size="32.4">16</text><text x="1765.5" y="638.2" font-size="32.4">18</text><text x="1765.5" y="586.8" font-size="32.4">20</text><text x="1765.5" y="535.4" font-size="32.4">22</text><text x="1765.5" y="484.0" font-size="32.4">24</text><text x="1765.5" y="432.6" font-size="32.4">26</text><text x="1765.5" y="381.1" font-size="32.4">28</text><text x="1765.5" y="329.7" font-size="32.4">30</text><text x="1765.5" y="278.3" font-size="32.4">32</text><text x="950.5" y="1279.3" font-size="32.4" text-anchor="middle">UT</text><text transform="translate(133.2 266) rotate(-90)" font-size="32.4" text-anchor="middle">VTEC</text><text transform="translate(140.6 532.5) rotate(-90)" font-size="32.4" text-anchor="middle">ROT [TECU/min]</text><text transform="translate(110.9 798.5) rotate(-90)" font-size="32.4" text-anchor="middle">S<tspan font-size="26" dy="15.7">4</tspan><tspan dy="-15.7"> ("ism.mat")</tspan></text><text transform="translate(112.1 1080.8) rotate(-90)" font-family="Liberation Serif, serif" font-weight="normal" font-style="italic" fill="#262626"><tspan font-size="29">σ</tspan><tspan font-size="25" dx="7" dy="16.4">ϕ</tspan></text><text transform="translate(1842.5 665.7) rotate(-90)" font-size="32.4" text-anchor="middle">PRN</text></g></svg></body></html>
